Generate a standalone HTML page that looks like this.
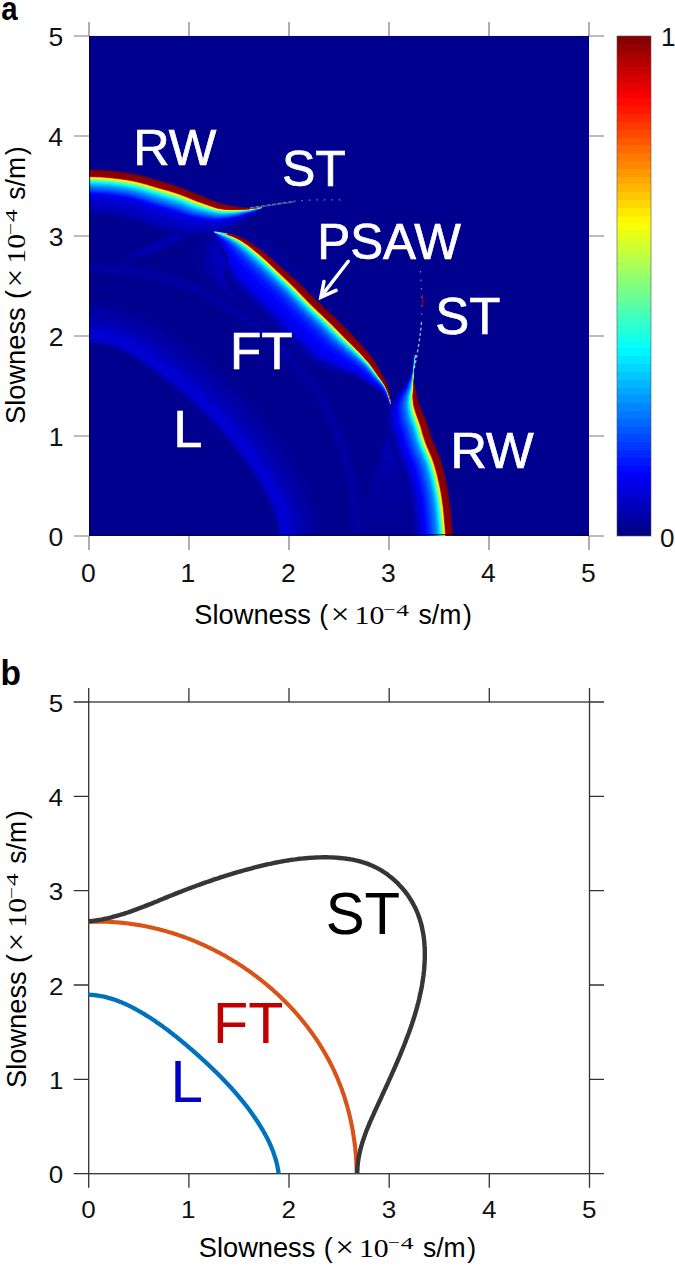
<!DOCTYPE html>
<html><head><meta charset="utf-8"><style>
html,body{margin:0;padding:0;background:#fff;width:675px;height:1266px;overflow:hidden}
</style></head><body>
<svg width="675" height="1266" viewBox="0 0 675 1266" style="display:block">
<rect width="675" height="1266" fill="#fff"/>
<rect x="89" y="36" width="500" height="500" fill="#00008f"/>
<defs><clipPath id="pa"><rect x="89" y="36" width="500" height="500"/></clipPath><filter id="b2" x="-20%" y="-20%" width="140%" height="140%"><feGaussianBlur stdDeviation="2"/></filter><filter id="b4" x="-20%" y="-20%" width="140%" height="140%"><feGaussianBlur stdDeviation="4"/></filter><filter id="b8" x="-20%" y="-20%" width="140%" height="140%"><feGaussianBlur stdDeviation="8"/></filter><linearGradient id="wedge" x1="0" y1="0" x2="0" y2="1"><stop offset="0" stop-color="#0000e8" stop-opacity="0.8"/><stop offset="0.5" stop-color="#0000c8" stop-opacity="0.35"/><stop offset="1" stop-color="#0000b0" stop-opacity="0.1"/></linearGradient></defs>
<g clip-path="url(#pa)">
<path d="M122 259 L150 253 L206 226 L196 224 Z" fill="#0000e0" opacity="0.55" filter="url(#b2)"/>
<path d="M147 222 L147 254" stroke="#0000ff" stroke-width="4" opacity="0.25" fill="none" filter="url(#b2)"/>
<path d="M212 236 L240 240 L275 262 L300 300 L262 310 L225 290 L205 262 Z" fill="#0000e8" opacity="0.55" filter="url(#b8)"/>
<path d="M394.5 411 L355 540 L405 540 L412 440 Z" fill="url(#wedge)" filter="url(#b2)"/>
<path d="M70.0 343.6L71.5 343.6L73.6 343.6L76.0 343.6L78.7 343.6L81.5 343.6L84.2 343.6L86.7 343.6L88.8 343.6L90.5 343.6L92.1 343.7L93.4 343.7L94.7 343.7L95.9 343.8L97.2 343.9L98.5 344.0L100.0 344.3L101.7 344.5L103.5 344.9L105.3 345.3L107.2 345.7L109.1 346.2L111.0 346.7L112.9 347.3L114.7 347.9L116.6 348.6L118.4 349.4L120.3 350.2L122.1 351.1L123.9 352.0L125.8 353.0L127.6 354.0L129.5 355.0L131.3 356.1L133.2 357.2L135.0 358.4L136.9 359.6L138.8 360.8L140.6 362.0L142.5 363.3L144.3 364.6L146.2 365.9L148.0 367.2L149.9 368.6L151.7 370.0L153.6 371.4L155.4 372.7L157.2 374.1L159.1 375.5L161.0 376.9L163.0 378.3L165.0 379.7L167.0 381.2L169.0 382.6L170.8 383.9L172.4 385.1L173.9 386.2L175.0 387.0L175.7 387.6L176.3 388.1L176.8 388.6L177.3 389.0L177.9 389.6L178.7 390.4L179.9 391.5L181.5 393.0L183.3 394.6L185.3 396.5L187.4 398.5L189.7 400.6L191.9 402.7L194.1 404.8L196.2 406.8L198.2 408.7L200.3 410.6L202.3 412.5L204.3 414.5L206.4 416.4L208.4 418.4L210.4 420.5L212.5 422.6L214.5 424.8L216.5 427.0L218.6 429.2L220.6 431.5L222.6 433.8L224.7 436.2L226.7 438.6L228.7 441.0L230.8 443.6L232.9 446.2L235.0 448.8L237.1 451.5L239.1 454.3L241.1 457.0L243.1 459.6L245.0 462.2L246.8 464.7L248.5 467.1L250.2 469.5L251.8 471.8L253.3 474.2L254.9 476.6L256.4 479.0L257.9 481.5L259.5 484.0L261.0 486.7L262.5 489.4L264.0 492.1L265.5 494.8L266.8 497.5L268.1 500.1L269.3 502.6L270.4 505.0L271.4 507.3L272.3 509.5L273.2 511.7L274.0 513.8L274.7 515.9L275.3 518.0L275.9 520.1L276.3 522.1L276.7 524.0L277.0 525.7L277.2 527.5L277.4 529.4L277.5 531.3L277.6 533.4L277.8 535.8L277.9 538.6L278.0 541.8L278.1 545.3L278.1 548.9L278.2 552.3L278.2 555.5L278.2 558.1L278.3 560.0L322.6 559.3L322.6 557.5L322.5 555.0L322.5 551.8L322.5 548.3L322.4 544.5L322.3 540.6L322.2 536.9L322.0 533.5L321.9 530.8L321.7 528.4L321.6 525.9L321.3 522.9L320.9 519.7L320.4 516.3L319.7 512.7L318.8 509.2L317.9 505.8L316.9 502.4L315.8 499.2L314.7 496.0L313.4 492.9L312.2 489.9L310.9 486.9L309.5 483.9L308.0 480.7L306.4 477.5L304.7 474.3L303.0 471.1L301.3 467.9L299.5 464.7L297.7 461.6L295.9 458.6L294.1 455.6L292.2 452.6L290.4 449.8L288.5 447.0L286.6 444.2L284.7 441.5L282.8 438.9L280.9 436.2L278.8 433.3L276.7 430.4L274.5 427.5L272.2 424.5L269.9 421.6L267.6 418.6L265.3 415.7L263.0 412.9L260.7 410.1L258.4 407.4L256.1 404.8L253.8 402.2L251.5 399.6L249.2 397.0L246.9 394.5L244.6 392.0L242.1 389.5L239.7 387.0L237.3 384.7L235.0 382.5L232.9 380.4L230.8 378.4L228.7 376.5L226.7 374.6L224.6 372.6L222.3 370.4L220.0 368.2L217.7 366.1L215.5 364.0L213.4 362.1L211.6 360.4L210.1 359.0L209.1 358.1L208.6 357.7L208.1 357.1L207.1 356.2L205.5 354.8L203.8 353.4L202.4 352.2L200.8 350.9L198.9 349.5L196.9 348.0L194.8 346.6L192.8 345.1L190.8 343.6L188.8 342.2L186.9 340.9L185.2 339.7L183.7 338.5L182.0 337.3L180.2 335.9L178.3 334.5L176.3 333.0L174.2 331.4L171.9 329.8L169.7 328.2L167.6 326.8L165.5 325.4L163.4 323.9L161.2 322.5L158.8 321.0L156.4 319.4L153.9 317.9L151.4 316.5L149.0 315.1L146.6 313.9L144.2 312.6L141.6 311.3L138.9 310.0L136.1 308.7L133.1 307.5L129.9 306.2L126.6 305.1L123.4 304.1L120.4 303.3L117.5 302.6L114.7 301.9L112.1 301.4L109.6 300.9L107.1 300.5L104.4 300.1L101.6 299.8L98.8 299.5L96.3 299.4L94.2 299.3L92.6 299.3L91.2 299.3L89.5 299.3L87.1 299.2L84.3 299.2L81.4 299.2L78.5 299.2L75.8 299.2L73.3 299.3L71.3 299.3L69.9 299.3Z" fill="#000094"/>
<path d="M70.0 276.4L71.5 276.4L73.5 276.4L75.9 276.4L78.5 276.4L81.3 276.4L84.0 276.4L86.5 276.4L88.7 276.4L90.7 276.4L92.5 276.4L94.2 276.4L95.9 276.5L97.5 276.5L99.1 276.5L100.9 276.6L102.7 276.7L104.8 276.8L106.9 276.9L109.1 277.0L111.3 277.1L113.5 277.3L115.8 277.5L118.0 277.6L120.1 277.8L122.3 278.0L124.5 278.3L126.6 278.5L128.8 278.7L130.9 279.0L133.0 279.3L135.1 279.6L137.2 280.0L139.4 280.4L141.5 280.8L143.6 281.2L145.8 281.7L147.9 282.1L150.1 282.7L152.3 283.2L154.5 283.7L156.7 284.2L158.9 284.8L161.1 285.3L163.3 285.8L165.4 286.4L167.6 287.0L169.7 287.6L171.8 288.2L174.0 288.9L176.2 289.7L178.5 290.4L180.8 291.3L183.0 292.1L185.1 292.9L187.2 293.7L189.0 294.4L190.6 295.1L192.0 295.8L193.3 296.5L194.7 297.2L196.0 297.9L197.4 298.6L198.8 299.4L200.4 300.2L201.9 301.0L203.4 301.8L204.9 302.5L206.4 303.2L207.8 303.9L209.2 304.6L210.6 305.4L211.9 306.1L213.3 306.9L214.7 307.7L216.1 308.6L217.5 309.5L218.9 310.4L220.3 311.4L221.8 312.4L223.2 313.3L224.6 314.3L226.1 315.3L227.5 316.3L229.0 317.4L230.5 318.4L232.0 319.5L233.5 320.6L235.0 321.7L236.6 322.7L238.1 323.8L239.6 324.8L241.2 325.8L242.7 326.9L244.2 327.9L245.7 328.9L247.1 330.0L248.7 331.1L250.2 332.2L251.7 333.2L253.2 334.3L254.6 335.4L256.1 336.5L257.5 337.6L258.9 338.7L260.3 339.9L261.8 341.1L263.2 342.3L264.6 343.6L266.0 344.9L267.4 346.2L268.9 347.5L270.3 348.9L271.7 350.3L273.1 351.8L274.5 353.2L275.9 354.8L277.4 356.3L278.8 357.9L280.3 359.5L281.7 361.1L283.2 362.7L284.6 364.3L286.0 366.0L287.5 367.7L288.9 369.4L290.4 371.1L291.9 372.9L293.4 374.7L295.0 376.6L296.6 378.6L298.2 380.5L299.8 382.5L301.4 384.5L302.9 386.4L304.3 388.3L305.7 390.1L306.9 391.9L308.1 393.7L309.2 395.4L310.3 397.2L311.4 398.9L312.5 400.7L313.5 402.6L314.6 404.5L315.7 406.4L316.7 408.3L317.7 410.3L318.7 412.2L319.7 414.3L320.7 416.3L321.7 418.3L322.6 420.3L323.6 422.3L324.5 424.3L325.4 426.3L326.3 428.3L327.1 430.3L328.0 432.2L328.8 434.2L329.5 436.1L330.2 438.0L330.9 439.9L331.5 441.8L332.1 443.7L332.7 445.6L333.4 447.6L334.0 449.7L334.7 451.7L335.3 453.8L336.0 455.9L336.7 457.9L337.3 459.9L338.0 462.0L338.6 464.0L339.3 466.1L339.9 468.2L340.5 470.4L341.1 472.7L341.7 475.0L342.3 477.3L342.9 479.6L343.4 482.0L344.0 484.3L344.4 486.5L344.9 488.8L345.3 491.1L345.7 493.3L346.1 495.6L346.4 497.9L346.8 500.1L347.1 502.4L347.3 504.6L347.5 506.8L347.7 509.1L347.9 511.5L348.0 513.9L348.1 516.3L348.2 518.6L348.3 520.9L348.4 523.0L348.5 524.9L348.6 526.5L348.6 527.9L348.7 529.3L348.8 530.6L348.8 532.1L348.9 533.9L349.0 536.0L349.0 538.6L349.1 541.8L349.2 545.3L349.3 548.9L349.3 552.3L349.4 555.5L349.4 558.2L349.5 560.1L365.7 559.8L365.7 557.9L365.6 555.2L365.6 552.0L365.5 548.5L365.5 544.9L365.4 541.4L365.3 538.2L365.2 535.5L365.2 533.4L365.1 531.5L365.0 529.9L365.0 528.5L364.9 527.0L364.8 525.6L364.7 524.0L364.6 522.2L364.5 520.2L364.4 518.0L364.3 515.6L364.2 513.1L364.1 510.6L363.9 508.0L363.7 505.4L363.5 502.9L363.2 500.4L362.9 497.9L362.5 495.5L362.2 493.0L361.8 490.6L361.3 488.1L360.9 485.7L360.4 483.3L359.8 480.8L359.3 478.3L358.7 475.8L358.1 473.3L357.5 470.9L356.8 468.5L356.2 466.1L355.5 463.8L354.9 461.5L354.2 459.3L353.5 457.1L352.8 454.9L352.1 452.8L351.5 450.8L350.8 448.7L350.1 446.7L349.5 444.7L348.9 442.8L348.3 440.8L347.6 438.7L347.0 436.7L346.2 434.6L345.5 432.5L344.7 430.3L343.9 428.2L343.0 426.0L342.1 423.9L341.2 421.8L340.2 419.7L339.3 417.6L338.3 415.5L337.4 413.4L336.4 411.3L335.4 409.2L334.3 407.1L333.3 404.9L332.2 402.8L331.1 400.7L329.9 398.6L328.8 396.5L327.7 394.5L326.5 392.5L325.4 390.6L324.2 388.6L323.0 386.7L321.7 384.7L320.3 382.7L318.9 380.7L317.4 378.6L315.8 376.5L314.1 374.4L312.4 372.3L310.8 370.2L309.1 368.2L307.5 366.3L305.9 364.4L304.4 362.5L302.9 360.7L301.4 358.9L299.9 357.1L298.4 355.4L296.9 353.6L295.3 351.9L293.8 350.2L292.3 348.6L290.8 346.9L289.3 345.3L287.8 343.6L286.3 342.0L284.8 340.4L283.2 338.9L281.7 337.3L280.1 335.8L278.6 334.4L277.0 332.9L275.5 331.5L273.9 330.1L272.4 328.7L270.8 327.4L269.2 326.1L267.6 324.8L266.0 323.5L264.3 322.3L262.7 321.1L261.2 320.0L259.6 318.9L258.1 317.8L256.6 316.7L255.0 315.6L253.4 314.5L251.8 313.4L250.3 312.4L248.8 311.4L247.3 310.3L245.8 309.3L244.3 308.3L242.9 307.3L241.4 306.2L239.9 305.2L238.4 304.1L236.9 303.1L235.4 302.0L233.9 300.9L232.3 299.9L230.8 298.8L229.3 297.8L227.8 296.8L226.3 295.9L224.8 294.9L223.2 293.9L221.6 292.9L220.0 292.0L218.4 291.1L216.7 290.2L215.2 289.4L213.6 288.6L212.1 287.9L210.6 287.2L209.2 286.5L207.8 285.8L206.4 285.1L205.1 284.4L203.8 283.6L202.3 282.8L200.8 282.0L199.1 281.2L197.3 280.3L195.3 279.5L193.2 278.6L191.0 277.7L188.7 276.8L186.3 276.0L183.9 275.1L181.4 274.3L179.0 273.4L176.6 272.7L174.3 272.0L171.9 271.3L169.6 270.7L167.3 270.1L165.0 269.5L162.8 268.9L160.5 268.4L158.3 267.9L156.1 267.3L153.8 266.8L151.5 266.3L149.3 265.8L147.0 265.3L144.6 264.8L142.3 264.4L140.0 263.9L137.6 263.6L135.3 263.2L133.0 262.9L130.7 262.6L128.5 262.3L126.2 262.1L123.9 261.9L121.7 261.6L119.3 261.4L117.0 261.2L114.6 261.1L112.3 260.9L110.0 260.8L107.7 260.6L105.6 260.5L103.5 260.4L101.5 260.4L99.6 260.3L97.9 260.2L96.2 260.2L94.5 260.2L92.7 260.1L90.9 260.1L88.9 260.1L86.6 260.1L84.0 260.1L81.3 260.1L78.5 260.1L75.9 260.1L73.5 260.1L71.5 260.1L70.0 260.1Z" fill="#000094"/>
<path d="M69.9 172.8L71.4 172.8L73.3 172.9L75.5 172.9L78.0 172.9L80.6 173.0L83.4 173.0L86.2 173.1L88.9 173.2L91.6 173.3L94.5 173.5L97.4 173.6L100.4 173.7L103.4 173.9L106.4 174.1L109.4 174.3L112.4 174.6L115.3 174.9L118.2 175.3L121.2 175.6L124.1 176.0L127.0 176.5L129.9 177.0L132.8 177.5L135.7 178.1L138.6 178.7L141.6 179.5L144.6 180.3L147.6 181.1L150.6 182.0L153.5 182.9L156.4 183.7L159.2 184.6L161.9 185.3L164.4 186.1L166.9 186.8L169.3 187.5L171.7 188.2L174.1 188.9L176.5 189.7L178.9 190.6L181.4 191.5L183.8 192.4L186.3 193.4L188.8 194.4L191.3 195.5L193.8 196.5L196.4 197.6L198.9 198.6L201.5 199.6L204.1 200.6L206.7 201.6L209.4 202.6L212.0 203.5L214.5 204.4L216.9 205.2L219.2 205.9L221.3 206.4L223.3 206.8L225.2 207.1L226.9 207.4L228.6 207.6L230.1 207.8L231.6 207.9L233.0 208.1L234.3 208.2L235.6 208.3L236.7 208.4L237.8 208.4L238.8 208.5L239.8 208.5L240.8 208.5L241.9 208.5L243.0 208.5L244.1 208.6L245.2 208.6L246.3 208.6L247.4 208.6L248.6 208.6L249.8 208.5L251.0 208.4L252.4 208.4L253.9 208.2L255.5 208.1L257.1 207.9L258.6 207.8L260.0 207.6L261.1 207.5L262.0 207.4L262.1 209.3L261.3 209.8L260.2 210.6L258.9 211.5L257.4 212.5L255.8 213.6L254.2 214.6L252.6 215.6L251.1 216.4L249.6 217.3L248.3 218.1L246.9 218.9L245.6 219.7L244.3 220.4L243.1 221.1L241.8 221.8L240.7 222.5L239.5 223.3L238.3 224.0L237.1 224.7L235.8 225.3L234.4 226.0L232.8 226.6L231.1 227.3L229.4 228.0L227.8 228.8L226.2 229.7L224.2 230.5L222.0 231.3L219.5 232.0L216.7 232.8L213.6 233.4L210.3 234.0L206.9 234.4L203.4 234.8L200.1 235.0L196.7 235.2L193.4 235.4L190.1 235.6L187.0 235.9L183.9 236.1L180.8 235.3L177.8 234.5L175.0 233.8L172.4 233.1L170.0 232.5L167.8 232.1L165.8 231.7L164.0 231.5L162.2 231.3L160.3 231.1L158.4 230.4L156.4 229.8L154.3 229.1L152.1 228.3L149.6 227.5L146.9 226.7L144.0 225.7L141.1 224.7L138.3 223.7L135.7 222.8L133.2 222.0L130.9 221.2L128.8 220.6L126.8 220.0L124.8 219.4L122.6 218.9L120.4 218.4L118.1 218.0L115.7 217.6L113.2 217.2L110.7 216.8L108.2 216.5L105.8 216.2L103.4 215.9L100.9 215.7L98.2 215.4L95.5 215.2L92.7 215.0L89.9 214.8L87.3 214.6L84.8 214.4L82.4 214.3L79.8 214.2L77.3 214.0L74.9 213.9L72.7 213.8L70.8 213.8L69.3 213.7Z" fill="#000094"/>
<path d="M215.0 232.1L215.9 232.2L217.0 232.4L218.4 232.6L219.9 232.8L221.4 233.1L223.0 233.3L224.6 233.6L225.9 233.9L227.2 234.2L228.5 234.5L229.7 234.8L230.9 235.1L232.1 235.4L233.3 235.8L234.5 236.2L235.7 236.6L236.9 237.1L238.1 237.7L239.4 238.3L240.7 238.9L241.9 239.6L243.2 240.3L244.5 241.1L245.8 241.8L247.0 242.6L248.2 243.4L249.5 244.3L250.8 245.2L252.0 246.1L253.3 247.0L254.5 248.0L255.7 248.9L257.0 249.8L258.2 250.7L259.3 251.6L260.5 252.6L261.7 253.5L262.9 254.5L264.2 255.6L265.5 256.8L266.9 258.0L268.4 259.3L269.9 260.6L271.4 262.0L273.0 263.5L274.7 265.1L276.4 266.7L278.3 268.4L280.2 270.2L282.3 272.1L284.5 274.1L286.7 276.1L289.0 278.2L291.2 280.3L293.5 282.5L295.8 284.7L298.0 286.9L300.3 289.2L302.7 291.5L305.0 293.9L307.4 296.4L309.8 298.7L312.1 301.1L314.4 303.3L316.7 305.5L319.0 307.7L321.2 309.7L323.4 311.8L325.5 313.8L327.7 315.9L329.9 317.9L332.1 320.0L334.3 322.2L336.5 324.4L338.7 326.5L340.9 328.7L343.1 331.0L345.3 333.2L347.5 335.5L349.7 337.8L352.0 340.1L354.4 342.6L356.8 345.0L359.2 347.5L361.5 350.0L363.7 352.4L365.8 354.8L367.6 357.0L369.4 359.2L371.0 361.3L372.5 363.4L373.9 365.5L375.2 367.5L376.5 369.6L377.7 371.6L378.9 373.6L380.1 375.5L381.3 377.2L382.4 378.9L383.4 380.6L384.4 382.3L385.3 383.9L386.1 385.7L386.8 387.5L387.6 389.5L388.3 391.8L388.9 394.2L389.5 396.6L389.9 398.9L390.4 401.0L390.7 402.7L391.0 404.0L388.2 404.5L387.4 403.2L386.6 401.5L385.5 399.5L384.4 397.4L383.0 395.3L381.5 393.2L379.8 391.5L378.1 390.3L376.4 389.4L374.5 388.6L372.5 387.9L370.3 387.3L368.1 386.6L366.1 385.7L363.9 384.6L361.5 383.3L359.1 381.8L356.8 380.5L354.4 379.3L352.1 378.4L349.7 377.6L347.4 376.9L345.0 376.5L342.5 376.2L339.9 375.9L336.9 375.5L333.6 374.9L330.0 374.2L326.7 373.2L323.2 372.1L319.6 370.9L316.1 369.7L312.9 368.8L309.9 367.9L306.8 367.0L304.6 365.2L302.6 363.2L300.5 361.1L298.4 359.0L296.4 357.0L294.5 355.1L292.6 353.3L290.6 351.4L288.5 349.4L286.3 347.4L284.0 345.2L281.5 342.8L279.0 340.3L276.4 337.8L273.8 335.2L271.4 332.7L269.0 330.3L266.8 327.9L264.7 325.7L262.7 323.6L260.9 321.8L259.0 319.9L257.0 318.0L255.0 316.0L252.9 314.1L250.8 312.1L248.7 310.1L246.6 308.1L244.6 306.2L242.7 304.3L240.9 302.6L239.3 301.1L237.8 299.7L236.5 298.4L235.3 297.3L234.3 296.3L233.3 295.4L232.5 294.6L231.8 293.6L231.4 292.6L230.9 291.6L230.5 290.6L229.9 289.6L229.3 288.5L228.5 287.4L227.8 286.1L227.0 284.9L226.4 283.7L225.9 282.7L225.4 281.7L225.1 280.8L224.9 280.0L224.7 279.2L224.3 278.3L224.1 276.8L224.1 275.3L224.1 273.8L224.2 272.4L224.4 271.0L224.6 269.7L225.0 268.5L225.6 267.3L226.0 266.0L226.2 264.7L226.1 262.8L225.6 260.7L224.8 258.6L223.8 256.4L222.7 254.2L221.8 251.8L220.8 249.3L219.6 246.6L218.5 243.6L217.3 240.8L216.3 238.2L215.4 236.0L214.7 234.5Z" fill="#000094"/>
<path d="M415.5 355.0L415.3 356.4L415.1 358.3L414.8 360.5L414.5 363.0L414.2 365.5L414.0 368.0L413.7 370.2L413.6 372.0L413.5 373.4L413.5 374.7L413.5 375.7L413.5 376.6L413.6 377.5L413.6 378.3L413.6 379.1L413.7 380.0L413.7 380.9L413.7 381.6L413.7 382.3L413.7 383.0L413.8 383.8L413.9 384.7L414.1 385.8L414.2 387.2L414.3 388.8L414.4 390.8L414.5 393.0L414.7 395.3L415.0 397.7L415.4 400.1L415.8 402.5L416.4 404.9L417.1 407.3L417.9 409.6L418.8 411.9L419.7 414.2L420.6 416.5L421.5 418.7L422.4 420.9L423.2 423.1L423.9 425.2L424.5 427.3L425.2 429.5L425.8 431.6L426.5 433.9L427.2 436.2L428.0 438.6L428.9 441.2L429.9 443.9L431.1 446.6L432.2 449.3L433.4 452.1L434.6 454.9L435.8 457.9L436.9 461.0L438.0 464.3L439.0 467.9L440.0 471.7L441.0 475.6L442.0 479.8L442.9 484.0L443.8 488.4L444.6 492.8L445.3 497.2L446.0 501.8L446.6 506.7L447.1 511.7L447.6 516.8L448.0 521.9L448.4 526.8L448.8 531.3L449.1 535.5L449.3 539.4L449.5 543.1L449.6 546.7L449.6 550.1L449.7 553.2L449.7 555.9L449.7 558.2L449.7 560.0L411.7 560.6L411.7 558.5L411.7 556.0L411.7 553.4L411.7 550.5L411.6 547.5L411.5 544.4L411.4 541.3L411.2 538.0L410.9 534.1L410.6 529.7L410.2 525.1L409.8 520.3L409.3 515.6L408.8 511.0L408.3 506.8L407.7 502.9L407.1 499.2L406.4 495.4L405.6 491.7L404.8 488.0L403.9 484.4L403.0 481.0L402.2 477.8L401.4 475.1L400.7 473.1L400.1 471.2L399.3 469.3L398.3 467.0L397.2 464.5L395.9 461.5L394.5 458.1L393.1 454.4L391.9 450.9L390.9 447.9L390.0 445.1L389.3 442.8L388.7 440.7L388.3 439.0L387.9 437.6L387.6 436.4L387.2 435.2L386.7 433.7L386.0 431.9L385.2 429.6L384.9 426.6L385.0 423.1L385.1 419.2L385.3 415.2L385.7 411.2L386.7 407.4L388.8 403.8L390.9 400.4L393.3 397.3L395.6 394.6L397.7 392.2L399.5 390.2L400.9 388.5L402.0 387.0L402.8 385.7L403.5 384.5L404.2 383.5L404.9 382.5L405.7 381.6L406.6 380.6L407.2 379.7L407.8 378.8L408.3 377.9L408.8 376.9L409.3 375.8L410.0 374.6L410.9 373.3L411.9 371.9L412.0 370.0L412.2 367.8L412.5 365.3L412.8 362.8L413.1 360.3L413.4 358.1L413.6 356.2L413.8 354.8Z" fill="#000094"/>
<path d="M70.0 343.5L71.5 343.5L73.6 343.5L76.0 343.5L78.7 343.4L81.5 343.4L84.2 343.4L86.7 343.5L88.8 343.5L90.5 343.5L92.1 343.5L93.4 343.5L94.7 343.6L95.9 343.6L97.2 343.7L98.5 343.9L100.0 344.1L101.7 344.4L103.5 344.8L105.3 345.1L107.2 345.6L109.1 346.0L111.0 346.6L112.9 347.1L114.8 347.8L116.6 348.5L118.5 349.3L120.3 350.1L122.1 351.0L124.0 351.9L125.8 352.9L127.7 353.9L129.5 354.9L131.4 356.0L133.2 357.1L135.1 358.3L137.0 359.5L138.8 360.7L140.7 361.9L142.5 363.2L144.4 364.5L146.2 365.8L148.1 367.1L149.9 368.5L151.8 369.9L153.6 371.3L155.5 372.6L157.3 374.0L159.2 375.4L161.1 376.8L163.1 378.2L165.1 379.6L167.1 381.1L169.0 382.5L170.9 383.8L172.5 385.0L173.9 386.1L175.0 386.9L175.8 387.6L176.4 388.0L176.9 388.5L177.4 388.9L178.0 389.5L178.8 390.3L180.0 391.4L181.6 392.9L183.4 394.5L185.4 396.4L187.5 398.4L189.7 400.5L192.0 402.6L194.2 404.7L196.3 406.7L198.3 408.6L200.4 410.5L202.4 412.4L204.4 414.4L206.5 416.4L208.5 418.4L210.5 420.4L212.6 422.5L214.6 424.7L216.6 426.9L218.6 429.1L220.7 431.4L222.7 433.7L224.7 436.1L226.8 438.5L228.8 441.0L230.9 443.5L233.0 446.1L235.1 448.8L237.2 451.5L239.2 454.2L241.2 456.9L243.2 459.5L245.1 462.1L246.9 464.6L248.6 467.0L250.3 469.4L251.9 471.7L253.4 474.1L255.0 476.5L256.5 478.9L258.1 481.4L259.6 484.0L261.1 486.6L262.6 489.3L264.1 492.1L265.6 494.8L267.0 497.5L268.2 500.0L269.4 502.5L270.5 504.9L271.5 507.2L272.4 509.5L273.3 511.6L274.1 513.8L274.8 515.9L275.4 518.0L276.0 520.1L276.5 522.1L276.8 523.9L277.1 525.7L277.3 527.5L277.5 529.4L277.6 531.3L277.8 533.4L277.9 535.8L278.0 538.6L278.1 541.8L278.2 545.3L278.3 548.9L278.3 552.3L278.3 555.5L278.4 558.1L278.4 560.0L314.6 559.5L314.6 557.6L314.5 555.1L314.5 551.9L314.5 548.4L314.4 544.6L314.3 540.9L314.2 537.2L314.0 533.9L313.9 531.3L313.8 529.0L313.6 526.5L313.3 523.8L313.0 520.8L312.5 517.7L311.9 514.4L311.1 511.2L310.2 508.0L309.3 504.9L308.3 501.8L307.2 498.8L306.0 495.9L304.8 493.0L303.6 490.1L302.2 487.2L300.8 484.2L299.3 481.1L297.7 478.0L296.0 474.9L294.3 471.8L292.6 468.7L290.8 465.7L289.1 462.7L287.3 459.8L285.5 456.9L283.7 454.2L281.9 451.5L280.0 448.8L278.2 446.2L276.3 443.5L274.4 440.9L272.4 438.1L270.3 435.2L268.1 432.3L265.9 429.4L263.6 426.5L261.3 423.6L259.1 420.8L256.8 418.0L254.6 415.3L252.3 412.6L250.1 410.0L247.8 407.4L245.6 404.9L243.3 402.4L241.1 400.0L238.8 397.6L236.4 395.1L234.0 392.7L231.7 390.4L229.5 388.3L227.3 386.2L225.3 384.2L223.2 382.3L221.2 380.4L219.1 378.4L216.8 376.2L214.5 374.0L212.2 371.9L210.0 369.9L208.0 368.0L206.1 366.3L204.6 364.9L203.6 364.0L203.1 363.4L202.5 362.9L201.6 362.0L200.2 360.8L198.8 359.5L197.4 358.5L195.9 357.3L194.1 355.9L192.2 354.5L190.2 353.1L188.1 351.6L186.1 350.2L184.1 348.7L182.2 347.4L180.5 346.2L178.9 344.9L177.2 343.7L175.4 342.3L173.5 340.9L171.5 339.4L169.4 337.9L167.3 336.3L165.1 334.8L163.0 333.4L161.0 332.0L158.9 330.6L156.8 329.2L154.5 327.7L152.2 326.3L149.8 324.8L147.4 323.4L145.1 322.1L142.9 320.9L140.5 319.7L138.1 318.5L135.5 317.2L132.9 316.0L130.1 314.9L127.2 313.8L124.1 312.7L121.2 311.8L118.3 311.0L115.6 310.3L113.0 309.7L110.5 309.2L108.2 308.8L105.9 308.4L103.4 308.0L100.8 307.7L98.3 307.5L96.0 307.4L94.1 307.3L92.5 307.3L91.0 307.3L89.4 307.3L87.0 307.2L84.3 307.2L81.4 307.2L78.6 307.2L75.8 307.2L73.4 307.3L71.3 307.3L69.9 307.3Z" fill="#0000a3"/>
<path d="M70.0 271.2L71.5 271.2L73.5 271.2L75.9 271.2L78.5 271.2L81.3 271.2L84.0 271.2L86.5 271.2L88.8 271.2L90.8 271.3L92.6 271.3L94.3 271.3L96.0 271.3L97.6 271.4L99.3 271.4L101.1 271.5L103.0 271.6L105.0 271.7L107.1 271.8L109.3 271.9L111.6 272.0L113.9 272.2L116.1 272.3L118.4 272.5L120.6 272.7L122.8 272.9L125.0 273.2L127.2 273.4L129.4 273.7L131.6 273.9L133.7 274.2L135.9 274.6L138.1 274.9L140.3 275.3L142.5 275.7L144.7 276.2L146.9 276.7L149.1 277.1L151.3 277.7L153.5 278.2L155.7 278.7L157.9 279.2L160.2 279.8L162.4 280.3L164.6 280.9L166.8 281.4L168.9 282.0L171.1 282.7L173.3 283.3L175.6 284.0L177.9 284.8L180.2 285.6L182.5 286.4L184.8 287.3L187.0 288.1L189.1 288.9L191.0 289.7L192.7 290.5L194.2 291.2L195.7 291.9L197.1 292.7L198.4 293.4L199.8 294.1L201.2 294.9L202.7 295.7L204.2 296.4L205.7 297.2L207.2 297.9L208.7 298.6L210.1 299.3L211.6 300.1L213.0 300.9L214.5 301.7L215.9 302.5L217.4 303.4L218.8 304.3L220.2 305.2L221.7 306.2L223.2 307.1L224.6 308.1L226.1 309.1L227.6 310.1L229.0 311.1L230.5 312.1L232.0 313.2L233.4 314.2L234.9 315.3L236.4 316.4L237.9 317.4L239.5 318.5L241.0 319.5L242.5 320.6L244.0 321.6L245.6 322.6L247.1 323.7L248.6 324.7L250.1 325.8L251.6 326.9L253.2 328.0L254.7 329.1L256.2 330.1L257.7 331.3L259.2 332.4L260.7 333.5L262.2 334.7L263.6 335.9L265.1 337.2L266.6 338.5L268.0 339.8L269.5 341.1L271.0 342.5L272.4 343.8L273.9 345.3L275.3 346.7L276.8 348.2L278.2 349.7L279.7 351.2L281.1 352.8L282.6 354.4L284.1 356.0L285.5 357.7L287.0 359.3L288.5 361.0L289.9 362.7L291.4 364.4L292.9 366.1L294.3 367.8L295.8 369.6L297.4 371.5L298.9 373.4L300.5 375.3L302.2 377.3L303.8 379.3L305.4 381.3L307.0 383.3L308.4 385.2L309.8 387.1L311.1 389.0L312.4 390.8L313.6 392.7L314.7 394.5L315.8 396.3L316.9 398.2L318.0 400.0L319.1 402.0L320.2 403.9L321.2 405.9L322.3 407.9L323.3 409.9L324.3 412.0L325.3 414.0L326.3 416.1L327.3 418.1L328.2 420.2L329.2 422.2L330.1 424.2L331.0 426.2L331.9 428.3L332.7 430.3L333.5 432.3L334.3 434.3L335.0 436.2L335.7 438.2L336.4 440.2L337.0 442.1L337.6 444.1L338.3 446.1L338.9 448.1L339.5 450.2L340.2 452.2L340.9 454.3L341.6 456.3L342.2 458.4L342.9 460.4L343.5 462.5L344.2 464.6L344.8 466.8L345.4 469.1L346.1 471.4L346.7 473.7L347.3 476.1L347.9 478.4L348.4 480.8L349.0 483.2L349.5 485.5L349.9 487.8L350.4 490.2L350.8 492.5L351.2 494.8L351.5 497.1L351.9 499.4L352.2 501.7L352.4 504.0L352.6 506.4L352.8 508.8L353.0 511.2L353.1 513.7L353.2 516.1L353.3 518.4L353.4 520.7L353.5 522.8L353.6 524.6L353.7 526.2L353.8 527.6L353.8 529.0L353.9 530.4L354.0 532.0L354.0 533.7L354.1 535.9L354.2 538.5L354.2 541.7L354.3 545.2L354.4 548.8L354.5 552.3L354.5 555.4L354.6 558.1L354.6 560.0L360.6 559.9L360.5 558.0L360.5 555.3L360.4 552.1L360.4 548.6L360.3 545.0L360.2 541.6L360.1 538.4L360.1 535.7L360.0 533.5L359.9 531.7L359.9 530.1L359.8 528.7L359.7 527.3L359.7 525.9L359.6 524.3L359.5 522.5L359.4 520.4L359.3 518.2L359.2 515.8L359.1 513.4L358.9 510.9L358.8 508.4L358.6 505.9L358.4 503.4L358.1 501.0L357.8 498.6L357.4 496.2L357.1 493.8L356.7 491.5L356.2 489.1L355.8 486.7L355.3 484.3L354.8 481.9L354.2 479.5L353.7 477.0L353.1 474.6L352.5 472.2L351.8 469.8L351.2 467.5L350.6 465.2L349.9 463.0L349.3 460.8L348.6 458.6L347.9 456.5L347.2 454.4L346.6 452.4L345.9 450.4L345.2 448.3L344.6 446.3L344.0 444.3L343.3 442.3L342.7 440.3L342.0 438.3L341.4 436.3L340.6 434.2L339.9 432.1L339.1 430.1L338.2 428.0L337.3 425.9L336.5 423.8L335.5 421.8L334.6 419.7L333.6 417.6L332.7 415.6L331.7 413.5L330.7 411.4L329.7 409.3L328.6 407.3L327.6 405.2L326.5 403.1L325.4 401.0L324.3 399.0L323.2 397.1L322.1 395.1L320.9 393.2L319.8 391.3L318.6 389.5L317.4 387.5L316.1 385.6L314.7 383.7L313.2 381.6L311.7 379.6L310.1 377.6L308.4 375.5L306.8 373.5L305.1 371.5L303.5 369.6L302.0 367.7L300.4 365.8L298.9 364.0L297.4 362.2L295.9 360.5L294.4 358.7L293.0 357.0L291.5 355.3L290.0 353.7L288.5 352.0L287.0 350.4L285.5 348.8L284.0 347.2L282.6 345.6L281.1 344.0L279.6 342.5L278.1 341.0L276.5 339.5L275.0 338.1L273.5 336.7L272.0 335.3L270.5 334.0L269.0 332.7L267.5 331.4L265.9 330.1L264.4 328.8L262.8 327.6L261.3 326.5L259.7 325.3L258.2 324.2L256.6 323.1L255.1 322.0L253.6 320.9L252.0 319.8L250.5 318.8L248.9 317.7L247.4 316.7L245.9 315.6L244.4 314.6L242.9 313.6L241.4 312.5L239.9 311.5L238.4 310.5L236.9 309.4L235.4 308.3L233.9 307.3L232.4 306.2L230.9 305.2L229.4 304.1L227.9 303.1L226.5 302.2L225.0 301.2L223.5 300.2L222.0 299.2L220.5 298.3L219.0 297.4L217.4 296.5L215.9 295.6L214.4 294.8L212.8 294.0L211.3 293.3L209.8 292.5L208.3 291.8L206.9 291.1L205.4 290.4L204.0 289.6L202.7 288.9L201.3 288.2L199.9 287.4L198.4 286.6L196.9 285.8L195.2 285.0L193.3 284.2L191.3 283.4L189.2 282.5L186.9 281.7L184.6 280.8L182.2 280.0L179.8 279.1L177.4 278.4L175.1 277.6L172.8 276.9L170.6 276.3L168.3 275.7L166.0 275.1L163.8 274.5L161.6 274.0L159.3 273.4L157.1 272.9L154.9 272.4L152.6 271.8L150.4 271.3L148.2 270.8L145.9 270.3L143.6 269.9L141.4 269.4L139.1 269.0L136.8 268.7L134.6 268.3L132.4 268.0L130.1 267.7L127.9 267.5L125.6 267.2L123.4 267.0L121.2 266.8L118.9 266.6L116.6 266.4L114.3 266.2L112.0 266.1L109.7 265.9L107.5 265.8L105.3 265.7L103.2 265.6L101.3 265.5L99.5 265.4L97.8 265.4L96.1 265.4L94.4 265.3L92.6 265.3L90.8 265.3L88.8 265.3L86.6 265.3L84.0 265.3L81.3 265.3L78.5 265.3L75.9 265.3L73.5 265.3L71.5 265.3L70.0 265.3Z" fill="#0000a3"/>
<path d="M69.9 172.8L71.4 172.8L73.3 172.9L75.5 172.9L78.0 172.9L80.6 173.0L83.4 173.0L86.2 173.1L88.9 173.2L91.6 173.3L94.5 173.5L97.4 173.6L100.4 173.7L103.4 173.9L106.4 174.1L109.4 174.3L112.4 174.6L115.3 174.9L118.2 175.3L121.2 175.6L124.1 176.0L127.0 176.5L129.9 177.0L132.8 177.5L135.7 178.1L138.6 178.7L141.6 179.5L144.6 180.3L147.6 181.1L150.6 182.0L153.5 182.9L156.4 183.7L159.2 184.6L161.9 185.3L164.4 186.1L166.9 186.8L169.3 187.5L171.7 188.2L174.1 188.9L176.5 189.7L178.9 190.6L181.4 191.5L183.8 192.4L186.3 193.4L188.8 194.4L191.3 195.5L193.8 196.5L196.4 197.6L198.9 198.6L201.5 199.6L204.1 200.6L206.7 201.6L209.4 202.6L212.0 203.5L214.5 204.4L216.9 205.2L219.2 205.9L221.3 206.4L223.3 206.8L225.2 207.1L226.9 207.4L228.6 207.6L230.1 207.8L231.6 207.9L233.0 208.1L234.3 208.2L235.6 208.3L236.7 208.4L237.8 208.4L238.8 208.5L239.8 208.5L240.8 208.5L241.9 208.5L243.0 208.5L244.1 208.6L245.2 208.6L246.3 208.6L247.4 208.6L248.6 208.6L249.8 208.5L251.0 208.4L252.4 208.4L253.9 208.2L255.5 208.1L257.1 207.9L258.6 207.8L260.0 207.6L261.1 207.5L262.0 207.4L262.1 209.2L261.3 209.7L260.2 210.5L258.8 211.3L257.4 212.3L255.8 213.3L254.2 214.3L252.6 215.2L251.1 216.0L249.7 216.9L248.3 217.7L246.9 218.5L245.6 219.2L244.4 219.9L243.1 220.6L241.9 221.3L240.7 221.9L239.6 222.7L238.4 223.3L237.2 224.0L235.9 224.6L234.5 225.2L232.9 225.8L231.2 226.5L229.6 227.2L228.0 228.0L226.4 228.8L224.4 229.5L222.2 230.3L219.7 231.0L217.0 231.7L213.9 232.3L210.6 232.8L207.3 233.2L203.9 233.5L200.6 233.7L197.3 233.8L194.0 234.0L190.7 234.2L187.6 234.4L184.5 234.5L181.5 233.7L178.5 232.9L175.7 232.1L173.1 231.5L170.7 230.9L168.5 230.4L166.5 230.0L164.7 229.8L162.8 229.5L160.9 229.3L159.0 228.6L157.0 228.0L154.9 227.3L152.6 226.5L150.1 225.7L147.4 224.9L144.5 223.9L141.6 222.9L138.9 222.0L136.2 221.1L133.7 220.2L131.3 219.5L129.2 218.8L127.2 218.2L125.1 217.7L122.9 217.1L120.7 216.7L118.3 216.2L115.9 215.8L113.4 215.4L110.9 215.1L108.3 214.7L106.0 214.4L103.5 214.1L101.0 213.9L98.3 213.7L95.6 213.4L92.8 213.2L90.0 213.0L87.3 212.9L84.9 212.7L82.4 212.6L79.9 212.4L77.3 212.3L74.9 212.2L72.8 212.1L70.8 212.0L69.3 212.0Z" fill="#0000a3"/>
<path d="M215.0 232.1L215.9 232.2L217.0 232.4L218.4 232.6L219.9 232.8L221.4 233.1L223.0 233.3L224.6 233.6L225.9 233.9L227.2 234.2L228.5 234.5L229.7 234.8L230.9 235.1L232.1 235.4L233.3 235.8L234.5 236.2L235.7 236.6L236.9 237.1L238.1 237.7L239.4 238.3L240.7 238.9L241.9 239.6L243.2 240.3L244.5 241.1L245.8 241.8L247.0 242.6L248.2 243.4L249.5 244.3L250.8 245.2L252.0 246.1L253.3 247.0L254.5 248.0L255.7 248.9L257.0 249.8L258.2 250.7L259.3 251.6L260.5 252.6L261.7 253.5L262.9 254.5L264.2 255.6L265.5 256.8L266.9 258.0L268.4 259.3L269.9 260.6L271.4 262.0L273.0 263.5L274.7 265.1L276.4 266.7L278.3 268.4L280.2 270.2L282.3 272.1L284.5 274.1L286.7 276.1L289.0 278.2L291.2 280.3L293.5 282.5L295.8 284.7L298.0 286.9L300.3 289.2L302.7 291.5L305.0 293.9L307.4 296.4L309.8 298.7L312.1 301.1L314.4 303.3L316.7 305.5L319.0 307.7L321.2 309.7L323.4 311.8L325.5 313.8L327.7 315.9L329.9 317.9L332.1 320.0L334.3 322.2L336.5 324.4L338.7 326.5L340.9 328.7L343.1 331.0L345.3 333.2L347.5 335.5L349.7 337.8L352.0 340.1L354.4 342.6L356.8 345.0L359.2 347.5L361.5 350.0L363.7 352.4L365.8 354.8L367.6 357.0L369.4 359.2L371.0 361.3L372.5 363.4L373.9 365.5L375.2 367.5L376.5 369.6L377.7 371.6L378.9 373.6L380.1 375.5L381.3 377.2L382.4 378.9L383.4 380.6L384.4 382.3L385.3 383.9L386.1 385.7L386.8 387.5L387.6 389.5L388.3 391.8L388.9 394.2L389.5 396.6L389.9 398.9L390.4 401.0L390.7 402.7L391.0 404.0L388.5 404.4L387.8 403.2L387.0 401.5L386.1 399.5L385.0 397.3L383.7 395.1L382.3 393.1L380.7 391.3L379.1 390.0L377.4 389.0L375.7 388.0L373.8 387.2L371.8 386.5L369.7 385.7L367.8 384.7L365.7 383.5L363.4 382.2L361.2 380.7L359.0 379.3L356.8 378.0L354.5 376.9L352.3 376.0L350.1 375.1L347.8 374.5L345.4 374.1L342.8 373.5L340.0 372.8L336.8 372.0L333.4 371.1L330.1 369.9L326.8 368.7L323.3 367.3L320.0 366.0L316.9 364.9L314.0 363.9L311.0 362.8L308.8 361.0L306.8 358.9L304.7 356.8L302.6 354.7L300.5 352.7L298.6 350.8L296.7 348.9L294.7 347.0L292.6 345.0L290.4 343.0L288.1 340.8L285.6 338.4L283.1 336.0L280.6 333.5L278.0 330.9L275.6 328.4L273.2 326.0L271.0 323.6L268.9 321.4L266.9 319.3L265.0 317.4L263.1 315.5L261.1 313.5L259.0 311.6L256.9 309.6L254.8 307.6L252.7 305.6L250.6 303.6L248.6 301.7L246.7 299.9L244.9 298.2L243.3 296.6L241.8 295.2L240.4 293.9L239.2 292.7L238.2 291.7L237.2 290.8L236.3 289.9L235.5 289.0L235.0 287.9L234.5 287.0L233.9 286.0L233.3 285.0L232.6 283.9L231.8 282.8L231.0 281.5L230.2 280.3L229.5 279.2L228.9 278.2L228.3 277.2L227.9 276.3L227.6 275.5L227.2 274.7L226.7 273.8L226.4 272.4L226.2 271.0L226.1 269.6L226.0 268.3L226.0 267.0L226.1 265.8L226.3 264.7L226.7 263.5L226.9 262.3L226.9 261.1L226.7 259.4L226.1 257.6L225.3 255.7L224.2 253.7L223.1 251.7L222.1 249.5L221.1 247.3L219.8 244.9L218.6 242.3L217.4 239.7L216.4 237.5L215.4 235.6L214.7 234.2Z" fill="#0000a3"/>
<path d="M415.5 355.0L415.3 356.4L415.1 358.3L414.8 360.5L414.5 363.0L414.2 365.5L414.0 368.0L413.7 370.2L413.6 372.0L413.5 373.4L413.5 374.7L413.5 375.7L413.5 376.6L413.6 377.5L413.6 378.3L413.6 379.1L413.7 380.0L413.7 380.9L413.7 381.6L413.7 382.3L413.7 383.0L413.8 383.8L413.9 384.7L414.1 385.8L414.2 387.2L414.3 388.8L414.4 390.8L414.5 393.0L414.7 395.3L415.0 397.7L415.4 400.1L415.8 402.5L416.4 404.9L417.1 407.3L417.9 409.6L418.8 411.9L419.7 414.2L420.6 416.5L421.5 418.7L422.4 420.9L423.2 423.1L423.9 425.2L424.5 427.3L425.2 429.5L425.8 431.6L426.5 433.9L427.2 436.2L428.0 438.6L428.9 441.2L429.9 443.9L431.1 446.6L432.2 449.3L433.4 452.1L434.6 454.9L435.8 457.9L436.9 461.0L438.0 464.3L439.0 467.9L440.0 471.7L441.0 475.6L442.0 479.8L442.9 484.0L443.8 488.4L444.6 492.8L445.3 497.2L446.0 501.8L446.6 506.7L447.1 511.7L447.6 516.8L448.0 521.9L448.4 526.8L448.8 531.3L449.1 535.5L449.3 539.4L449.5 543.1L449.6 546.7L449.6 550.1L449.7 553.2L449.7 555.9L449.7 558.2L449.7 560.0L415.0 560.5L415.0 558.5L415.0 556.0L415.0 553.4L415.0 550.5L414.9 547.5L414.8 544.3L414.7 541.1L414.5 537.8L414.2 533.9L413.8 529.5L413.5 524.8L413.0 520.0L412.6 515.3L412.1 510.7L411.5 506.4L411.0 502.4L410.3 498.6L409.6 494.8L408.8 491.0L408.0 487.3L407.1 483.7L406.2 480.2L405.3 477.0L404.5 474.2L403.8 472.0L403.1 470.1L402.3 468.0L401.4 465.7L400.2 463.2L399.0 460.2L397.6 456.9L396.2 453.2L395.0 449.8L394.0 446.8L393.2 444.2L392.4 441.8L391.9 439.8L391.4 438.0L391.0 436.5L390.7 435.2L390.3 434.0L389.7 432.4L389.0 430.6L388.2 428.3L387.9 425.4L387.9 421.9L387.9 418.2L388.0 414.3L388.3 410.4L389.2 406.8L391.1 403.2L393.0 400.0L395.2 396.9L397.3 394.2L399.2 391.9L400.8 389.9L402.1 388.2L403.1 386.8L403.8 385.5L404.4 384.4L405.1 383.4L405.7 382.4L406.4 381.5L407.3 380.6L407.8 379.7L408.4 378.8L408.8 377.8L409.2 376.8L409.7 375.8L410.4 374.6L411.1 373.3L412.0 371.9L412.2 370.0L412.4 367.8L412.7 365.4L413.0 362.8L413.3 360.3L413.6 358.1L413.8 356.2L413.9 354.8Z" fill="#0000a3"/>
<path d="M70.0 343.4L71.5 343.4L73.6 343.3L76.0 343.3L78.7 343.3L81.5 343.3L84.2 343.3L86.7 343.3L88.8 343.4L90.5 343.4L92.1 343.4L93.4 343.4L94.7 343.5L95.9 343.5L97.2 343.6L98.5 343.8L100.1 344.0L101.7 344.3L103.5 344.6L105.3 345.0L107.2 345.4L109.1 345.9L111.1 346.4L113.0 347.0L114.8 347.7L116.7 348.4L118.5 349.1L120.4 350.0L122.2 350.9L124.0 351.8L125.9 352.8L127.7 353.8L129.6 354.8L131.4 355.9L133.3 357.0L135.2 358.1L137.0 359.4L138.9 360.6L140.8 361.8L142.6 363.1L144.5 364.4L146.3 365.7L148.2 367.0L150.0 368.4L151.9 369.8L153.7 371.2L155.5 372.5L157.4 373.9L159.2 375.3L161.1 376.7L163.1 378.1L165.2 379.5L167.2 381.0L169.1 382.4L170.9 383.7L172.6 384.9L174.0 386.0L175.1 386.8L175.9 387.5L176.5 387.9L177.0 388.4L177.4 388.8L178.1 389.4L178.9 390.2L180.1 391.4L181.6 392.8L183.4 394.5L185.5 396.3L187.6 398.3L189.8 400.4L192.1 402.5L194.3 404.6L196.4 406.6L198.4 408.5L200.4 410.4L202.5 412.4L204.5 414.3L206.5 416.3L208.6 418.3L210.6 420.3L212.6 422.4L214.7 424.6L216.7 426.8L218.7 429.0L220.8 431.3L222.8 433.6L224.8 436.0L226.9 438.4L228.9 440.9L231.0 443.4L233.1 446.0L235.2 448.7L237.3 451.4L239.3 454.1L241.3 456.8L243.3 459.5L245.2 462.0L247.0 464.5L248.7 466.9L250.4 469.3L252.0 471.7L253.6 474.0L255.1 476.4L256.6 478.8L258.2 481.3L259.7 483.9L261.2 486.6L262.8 489.3L264.2 492.0L265.7 494.7L267.1 497.4L268.4 500.0L269.5 502.5L270.6 504.9L271.6 507.2L272.6 509.4L273.4 511.6L274.2 513.8L274.9 515.9L275.6 518.0L276.1 520.1L276.6 522.0L277.0 523.9L277.2 525.7L277.4 527.5L277.6 529.3L277.7 531.3L277.9 533.4L278.0 535.8L278.1 538.6L278.2 541.8L278.3 545.3L278.4 548.9L278.4 552.3L278.5 555.5L278.5 558.1L278.5 560.0L304.2 559.6L304.2 557.8L304.1 555.2L304.1 552.0L304.1 548.5L304.0 544.8L303.9 541.1L303.8 537.6L303.7 534.4L303.5 531.9L303.4 529.6L303.2 527.3L303.0 524.8L302.7 522.2L302.3 519.5L301.7 516.6L301.0 513.7L300.2 510.9L299.4 508.0L298.4 505.3L297.4 502.5L296.4 499.8L295.3 497.1L294.1 494.4L292.8 491.6L291.4 488.8L290.0 485.8L288.4 482.8L286.8 479.8L285.2 476.8L283.5 473.9L281.9 470.9L280.2 468.1L278.4 465.3L276.7 462.6L275.0 459.9L273.2 457.3L271.5 454.7L269.7 452.1L267.9 449.6L266.0 447.0L264.0 444.2L261.9 441.4L259.8 438.6L257.6 435.7L255.4 432.9L253.2 430.1L251.0 427.3L248.8 424.6L246.6 421.9L244.4 419.4L242.2 416.8L240.0 414.3L237.8 411.9L235.7 409.5L233.5 407.1L231.2 404.7L229.0 402.4L226.7 400.1L224.5 397.9L222.3 395.8L220.2 393.7L218.1 391.8L216.1 389.9L214.1 388.0L211.9 385.9L209.7 383.8L207.4 381.6L205.1 379.5L202.9 377.5L200.9 375.6L199.1 373.9L197.6 372.5L196.5 371.5L195.9 370.9L195.3 370.4L194.5 369.6L193.4 368.6L192.2 367.6L191.0 366.6L189.6 365.6L187.9 364.3L186.0 362.9L184.1 361.5L182.1 360.1L180.1 358.6L178.1 357.2L176.2 355.8L174.4 354.5L172.7 353.3L171.0 352.0L169.1 350.6L167.3 349.2L165.3 347.8L163.3 346.3L161.2 344.8L159.1 343.3L157.1 341.9L155.2 340.6L153.2 339.2L151.1 337.9L149.0 336.5L146.8 335.1L144.5 333.8L142.3 332.5L140.1 331.3L138.0 330.1L135.8 328.9L133.5 327.8L131.2 326.7L128.7 325.6L126.2 324.5L123.6 323.5L120.9 322.6L118.3 321.8L115.7 321.1L113.2 320.5L110.8 319.9L108.5 319.4L106.3 319.0L104.2 318.7L102.0 318.3L99.7 318.1L97.6 317.9L95.6 317.8L93.9 317.7L92.4 317.7L90.9 317.7L89.2 317.7L86.9 317.6L84.3 317.6L81.5 317.6L78.6 317.6L75.9 317.6L73.4 317.7L71.4 317.7L69.9 317.7Z" fill="#0000b2"/>
<path d="M69.9 172.8L71.4 172.8L73.3 172.9L75.5 172.9L78.0 172.9L80.6 173.0L83.4 173.0L86.2 173.1L88.9 173.2L91.6 173.3L94.5 173.5L97.4 173.6L100.4 173.7L103.4 173.9L106.4 174.1L109.4 174.3L112.4 174.6L115.3 174.9L118.2 175.3L121.2 175.6L124.1 176.0L127.0 176.5L129.9 177.0L132.8 177.5L135.7 178.1L138.6 178.7L141.6 179.5L144.6 180.3L147.6 181.1L150.6 182.0L153.5 182.9L156.4 183.7L159.2 184.6L161.9 185.3L164.4 186.1L166.9 186.8L169.3 187.5L171.7 188.2L174.1 188.9L176.5 189.7L178.9 190.6L181.4 191.5L183.8 192.4L186.3 193.4L188.8 194.4L191.3 195.5L193.8 196.5L196.4 197.6L198.9 198.6L201.5 199.6L204.1 200.6L206.7 201.6L209.4 202.6L212.0 203.5L214.5 204.4L216.9 205.2L219.2 205.9L221.3 206.4L223.3 206.8L225.2 207.1L226.9 207.4L228.6 207.6L230.1 207.8L231.6 207.9L233.0 208.1L234.3 208.2L235.6 208.3L236.7 208.4L237.8 208.4L238.8 208.5L239.8 208.5L240.8 208.5L241.9 208.5L243.0 208.5L244.1 208.6L245.2 208.6L246.3 208.6L247.4 208.6L248.6 208.6L249.8 208.5L251.0 208.4L252.4 208.4L253.9 208.2L255.5 208.1L257.1 207.9L258.6 207.8L260.0 207.6L261.1 207.5L262.0 207.4L262.1 209.1L261.3 209.6L260.2 210.3L258.8 211.2L257.3 212.1L255.8 213.1L254.2 214.0L252.6 214.9L251.1 215.7L249.7 216.5L248.3 217.3L247.0 218.0L245.7 218.7L244.4 219.4L243.2 220.0L241.9 220.7L240.8 221.3L239.6 222.0L238.5 222.7L237.3 223.3L236.0 223.9L234.6 224.5L233.0 225.1L231.4 225.7L229.7 226.4L228.2 227.1L226.5 227.8L224.6 228.6L222.4 229.3L220.0 230.0L217.2 230.6L214.2 231.2L211.0 231.7L207.7 232.0L204.4 232.3L201.1 232.4L197.8 232.5L194.5 232.6L191.3 232.7L188.2 232.8L185.1 232.9L182.2 232.1L179.2 231.3L176.4 230.5L173.8 229.8L171.3 229.2L169.1 228.7L167.2 228.3L165.3 228.0L163.4 227.8L161.4 227.5L159.5 226.8L157.5 226.2L155.4 225.5L153.1 224.7L150.6 223.9L147.9 223.1L145.0 222.1L142.2 221.1L139.4 220.2L136.7 219.3L134.2 218.5L131.8 217.7L129.6 217.0L127.6 216.4L125.5 215.9L123.3 215.4L121.0 214.9L118.6 214.5L116.1 214.1L113.6 213.7L111.1 213.3L108.5 212.9L106.1 212.6L103.7 212.4L101.1 212.1L98.4 211.9L95.6 211.7L92.8 211.5L90.0 211.3L87.4 211.1L84.9 211.0L82.4 210.8L79.9 210.7L77.4 210.6L75.0 210.5L72.8 210.4L70.8 210.3L69.3 210.3Z" fill="#0000b2"/>
<path d="M215.0 232.1L215.9 232.2L217.0 232.4L218.4 232.6L219.9 232.8L221.4 233.1L223.0 233.3L224.6 233.6L225.9 233.9L227.2 234.2L228.5 234.5L229.7 234.8L230.9 235.1L232.1 235.4L233.3 235.8L234.5 236.2L235.7 236.6L236.9 237.1L238.1 237.7L239.4 238.3L240.7 238.9L241.9 239.6L243.2 240.3L244.5 241.1L245.8 241.8L247.0 242.6L248.2 243.4L249.5 244.3L250.8 245.2L252.0 246.1L253.3 247.0L254.5 248.0L255.7 248.9L257.0 249.8L258.2 250.7L259.3 251.6L260.5 252.6L261.7 253.5L262.9 254.5L264.2 255.6L265.5 256.8L266.9 258.0L268.4 259.3L269.9 260.6L271.4 262.0L273.0 263.5L274.7 265.1L276.4 266.7L278.3 268.4L280.2 270.2L282.3 272.1L284.5 274.1L286.7 276.1L289.0 278.2L291.2 280.3L293.5 282.5L295.8 284.7L298.0 286.9L300.3 289.2L302.7 291.5L305.0 293.9L307.4 296.4L309.8 298.7L312.1 301.1L314.4 303.3L316.7 305.5L319.0 307.7L321.2 309.7L323.4 311.8L325.5 313.8L327.7 315.9L329.9 317.9L332.1 320.0L334.3 322.2L336.5 324.4L338.7 326.5L340.9 328.7L343.1 331.0L345.3 333.2L347.5 335.5L349.7 337.8L352.0 340.1L354.4 342.6L356.8 345.0L359.2 347.5L361.5 350.0L363.7 352.4L365.8 354.8L367.6 357.0L369.4 359.2L371.0 361.3L372.5 363.4L373.9 365.5L375.2 367.5L376.5 369.6L377.7 371.6L378.9 373.6L380.1 375.5L381.3 377.2L382.4 378.9L383.4 380.6L384.4 382.3L385.3 383.9L386.1 385.7L386.8 387.5L387.6 389.5L388.3 391.8L388.9 394.2L389.5 396.6L389.9 398.9L390.4 401.0L390.7 402.7L391.0 404.0L388.8 404.4L388.2 403.1L387.4 401.4L386.5 399.4L385.4 397.2L384.2 395.0L382.9 392.9L381.4 391.1L379.8 389.7L378.3 388.6L376.7 387.6L374.9 386.7L373.0 385.9L371.0 385.0L369.2 383.9L367.2 382.7L365.0 381.3L362.9 379.8L360.8 378.3L358.7 376.9L356.5 375.7L354.4 374.7L352.2 373.7L350.0 372.9L347.7 372.3L345.2 371.6L342.4 370.7L339.4 369.7L336.1 368.7L332.9 367.3L329.7 365.9L326.4 364.5L323.2 363.0L320.2 361.8L317.3 360.6L314.5 359.4L312.3 357.5L310.2 355.4L308.1 353.4L306.0 351.3L303.9 349.2L302.0 347.3L300.0 345.4L298.0 343.5L295.9 341.5L293.7 339.4L291.4 337.2L289.0 334.9L286.5 332.5L284.0 330.0L281.5 327.5L279.0 325.0L276.7 322.5L274.4 320.2L272.3 317.9L270.2 315.8L268.3 313.8L266.4 311.9L264.3 309.9L262.3 307.9L260.2 305.9L258.0 303.9L255.9 301.9L253.9 300.0L251.8 298.1L249.9 296.2L248.2 294.5L246.5 293.0L245.0 291.5L243.7 290.2L242.4 289.1L241.3 288.0L240.3 287.1L239.3 286.2L238.6 285.2L237.9 284.1L237.3 283.2L236.7 282.2L236.0 281.2L235.3 280.1L234.4 279.0L233.6 277.8L232.7 276.7L232.0 275.6L231.3 274.5L230.7 273.5L230.2 272.6L229.7 271.8L229.3 271.0L228.7 270.1L228.3 268.8L228.0 267.5L227.7 266.2L227.5 264.9L227.4 263.7L227.3 262.6L227.3 261.5L227.5 260.4L227.6 259.3L227.5 258.2L227.1 256.7L226.5 255.0L225.6 253.3L224.6 251.5L223.5 249.6L222.4 247.7L221.3 245.7L220.0 243.6L218.8 241.2L217.5 238.9L216.4 236.9L215.5 235.2L214.8 233.9Z" fill="#0000b2"/>
<path d="M415.5 355.0L415.3 356.4L415.1 358.3L414.8 360.5L414.5 363.0L414.2 365.5L414.0 368.0L413.7 370.2L413.6 372.0L413.5 373.4L413.5 374.7L413.5 375.7L413.5 376.6L413.6 377.5L413.6 378.3L413.6 379.1L413.7 380.0L413.7 380.9L413.7 381.6L413.7 382.3L413.7 383.0L413.8 383.8L413.9 384.7L414.1 385.8L414.2 387.2L414.3 388.8L414.4 390.8L414.5 393.0L414.7 395.3L415.0 397.7L415.4 400.1L415.8 402.5L416.4 404.9L417.1 407.3L417.9 409.6L418.8 411.9L419.7 414.2L420.6 416.5L421.5 418.7L422.4 420.9L423.2 423.1L423.9 425.2L424.5 427.3L425.2 429.5L425.8 431.6L426.5 433.9L427.2 436.2L428.0 438.6L428.9 441.2L429.9 443.9L431.1 446.6L432.2 449.3L433.4 452.1L434.6 454.9L435.8 457.9L436.9 461.0L438.0 464.3L439.0 467.9L440.0 471.7L441.0 475.6L442.0 479.8L442.9 484.0L443.8 488.4L444.6 492.8L445.3 497.2L446.0 501.8L446.6 506.7L447.1 511.7L447.6 516.8L448.0 521.9L448.4 526.8L448.8 531.3L449.1 535.5L449.3 539.4L449.5 543.1L449.6 546.7L449.6 550.1L449.7 553.2L449.7 555.9L449.7 558.2L449.7 560.0L416.9 560.5L416.9 558.5L416.9 556.0L416.9 553.3L416.8 550.5L416.8 547.4L416.7 544.3L416.5 541.0L416.3 537.7L416.1 533.7L415.7 529.3L415.3 524.6L414.9 519.9L414.4 515.1L413.9 510.5L413.4 506.1L412.8 502.2L412.2 498.3L411.5 494.5L410.7 490.6L409.8 486.9L408.9 483.2L408.1 479.8L407.2 476.5L406.3 473.6L405.6 471.4L404.9 469.4L404.1 467.3L403.1 465.0L402.0 462.4L400.7 459.5L399.3 456.2L397.9 452.6L396.8 449.2L395.8 446.3L395.0 443.6L394.2 441.3L393.7 439.2L393.2 437.4L392.8 435.9L392.4 434.6L392.0 433.2L391.4 431.7L390.7 429.8L389.9 427.5L389.6 424.6L389.5 421.3L389.5 417.6L389.5 413.8L389.8 410.0L390.7 406.4L392.4 402.9L394.2 399.7L396.2 396.7L398.2 394.0L400.0 391.7L401.6 389.8L402.8 388.1L403.7 386.6L404.4 385.4L405.0 384.3L405.6 383.3L406.1 382.4L406.8 381.5L407.6 380.6L408.2 379.6L408.7 378.7L409.1 377.8L409.5 376.8L410.0 375.8L410.5 374.6L411.3 373.3L412.1 371.9L412.3 370.1L412.5 367.8L412.8 365.4L413.1 362.8L413.4 360.3L413.6 358.1L413.9 356.2L414.0 354.8Z" fill="#0000b2"/>
<path d="M70.0 342.3L71.5 342.3L73.5 342.3L76.0 342.2L78.7 342.2L81.5 342.2L84.2 342.2L86.7 342.2L88.8 342.3L90.6 342.3L92.1 342.3L93.4 342.3L94.7 342.4L96.0 342.4L97.3 342.5L98.7 342.7L100.2 342.9L101.9 343.2L103.7 343.6L105.6 343.9L107.5 344.4L109.4 344.9L111.4 345.4L113.3 346.0L115.2 346.7L117.1 347.4L118.9 348.2L120.8 349.0L122.7 349.9L124.5 350.8L126.4 351.8L128.3 352.8L130.1 353.8L132.0 354.9L133.9 356.1L135.7 357.2L137.6 358.4L139.5 359.7L141.4 360.9L143.2 362.2L145.1 363.5L146.9 364.8L148.8 366.2L150.7 367.5L152.5 368.9L154.4 370.3L156.2 371.7L158.0 373.1L159.9 374.4L161.8 375.8L163.8 377.2L165.8 378.7L167.8 380.1L169.7 381.5L171.6 382.8L173.2 384.0L174.7 385.1L175.8 386.0L176.6 386.6L177.2 387.1L177.7 387.6L178.2 388.1L178.8 388.7L179.7 389.5L180.8 390.6L182.4 392.0L184.2 393.7L186.2 395.5L188.3 397.5L190.6 399.6L192.8 401.7L195.0 403.8L197.1 405.8L199.2 407.7L201.2 409.6L203.2 411.6L205.3 413.5L207.3 415.5L209.3 417.5L211.4 419.6L213.4 421.7L215.5 423.9L217.5 426.1L219.5 428.3L221.6 430.6L223.6 432.9L225.7 435.3L227.7 437.7L229.7 440.2L231.8 442.7L233.9 445.3L236.0 448.0L238.1 450.7L240.2 453.5L242.2 456.2L244.2 458.8L246.1 461.4L247.9 463.9L249.6 466.3L251.3 468.7L252.9 471.1L254.5 473.4L256.0 475.8L257.6 478.3L259.1 480.8L260.6 483.4L262.2 486.0L263.7 488.8L265.2 491.5L266.6 494.2L268.0 496.9L269.3 499.5L270.5 502.0L271.6 504.4L272.6 506.7L273.6 509.0L274.4 511.2L275.2 513.4L275.9 515.5L276.6 517.7L277.2 519.8L277.6 521.8L278.0 523.7L278.3 525.6L278.5 527.4L278.7 529.3L278.8 531.2L279.0 533.4L279.1 535.7L279.2 538.5L279.3 541.8L279.4 545.3L279.5 548.9L279.5 552.3L279.5 555.4L279.6 558.1L279.6 560.0L297.0 559.7L297.0 557.8L296.9 555.3L296.9 552.1L296.9 548.6L296.8 545.0L296.7 541.3L296.6 537.9L296.5 534.8L296.3 532.3L296.2 530.1L296.0 527.9L295.8 525.6L295.5 523.2L295.2 520.7L294.7 518.1L294.0 515.5L293.3 512.9L292.5 510.2L291.6 507.6L290.7 505.1L289.7 502.5L288.6 499.9L287.5 497.3L286.3 494.7L285.0 491.9L283.6 489.1L282.1 486.2L280.5 483.2L278.9 480.3L277.3 477.4L275.6 474.6L274.0 471.8L272.3 469.1L270.7 466.4L269.0 463.9L267.3 461.3L265.6 458.8L263.8 456.3L262.0 453.8L260.2 451.2L258.2 448.5L256.2 445.8L254.1 443.0L251.9 440.1L249.7 437.3L247.5 434.5L245.4 431.8L243.2 429.1L241.1 426.6L238.9 424.0L236.8 421.5L234.6 419.1L232.5 416.7L230.3 414.3L228.2 412.0L226.0 409.7L223.8 407.4L221.6 405.2L219.5 403.0L217.3 401.0L215.2 399.0L213.1 397.0L211.1 395.1L209.1 393.2L207.0 391.2L204.7 389.0L202.5 386.9L200.2 384.8L198.0 382.8L196.0 380.9L194.2 379.2L192.7 377.8L191.6 376.8L190.9 376.1L190.3 375.5L189.6 374.9L188.6 374.0L187.6 373.2L186.5 372.3L185.2 371.3L183.6 370.1L181.8 368.7L179.9 367.3L177.9 365.9L175.9 364.5L173.9 363.1L172.0 361.7L170.1 360.4L168.4 359.1L166.6 357.8L164.8 356.4L162.9 355.0L161.0 353.5L159.1 352.1L157.0 350.6L155.0 349.2L153.1 347.9L151.1 346.5L149.2 345.2L147.1 343.9L145.1 342.6L143.0 341.2L140.9 339.9L138.7 338.7L136.7 337.6L134.6 336.4L132.5 335.3L130.3 334.3L128.1 333.2L125.9 332.2L123.5 331.2L121.1 330.3L118.7 329.5L116.2 328.7L113.8 328.0L111.5 327.5L109.3 326.9L107.1 326.5L105.0 326.1L103.0 325.8L101.0 325.5L99.0 325.2L97.1 325.1L95.4 325.0L93.8 324.9L92.3 324.9L90.8 324.9L89.1 324.9L86.9 324.8L84.2 324.8L81.5 324.8L78.6 324.8L75.9 324.8L73.5 324.9L71.4 324.9L69.9 324.9Z" fill="#0000c2"/>
<path d="M69.9 172.8L71.4 172.8L73.3 172.9L75.5 172.9L78.0 172.9L80.6 173.0L83.4 173.0L86.2 173.1L88.9 173.2L91.6 173.3L94.5 173.5L97.4 173.6L100.4 173.7L103.4 173.9L106.4 174.1L109.4 174.3L112.4 174.6L115.3 174.9L118.2 175.3L121.2 175.6L124.1 176.0L127.0 176.5L129.9 177.0L132.8 177.5L135.7 178.1L138.6 178.7L141.6 179.5L144.6 180.3L147.6 181.1L150.6 182.0L153.5 182.9L156.4 183.7L159.2 184.6L161.9 185.3L164.4 186.1L166.9 186.8L169.3 187.5L171.7 188.2L174.1 188.9L176.5 189.7L178.9 190.6L181.4 191.5L183.8 192.4L186.3 193.4L188.8 194.4L191.3 195.5L193.8 196.5L196.4 197.6L198.9 198.6L201.5 199.6L204.1 200.6L206.7 201.6L209.4 202.6L212.0 203.5L214.5 204.4L216.9 205.2L219.2 205.9L221.3 206.4L223.3 206.8L225.2 207.1L226.9 207.4L228.6 207.6L230.1 207.8L231.6 207.9L233.0 208.1L234.3 208.2L235.6 208.3L236.7 208.4L237.8 208.4L238.8 208.5L239.8 208.5L240.8 208.5L241.9 208.5L243.0 208.5L244.1 208.6L245.2 208.6L246.3 208.6L247.4 208.6L248.6 208.6L249.8 208.5L251.0 208.4L252.4 208.4L253.9 208.2L255.5 208.1L257.1 207.9L258.6 207.8L260.0 207.6L261.1 207.5L262.0 207.4L262.1 208.9L261.3 209.4L260.2 210.1L258.8 210.8L257.3 211.7L255.7 212.6L254.1 213.5L252.5 214.3L251.1 215.0L249.7 215.7L248.3 216.4L247.0 217.1L245.7 217.7L244.5 218.3L243.2 218.9L242.0 219.5L240.9 220.1L239.7 220.7L238.6 221.3L237.4 221.9L236.1 222.4L234.8 222.9L233.3 223.5L231.7 224.0L230.0 224.6L228.5 225.3L226.9 225.9L225.0 226.6L222.9 227.2L220.5 227.8L217.8 228.3L214.9 228.8L211.8 229.2L208.6 229.4L205.4 229.6L202.1 229.6L198.9 229.6L195.7 229.6L192.6 229.6L189.5 229.6L186.5 229.6L183.5 228.8L180.6 227.9L177.8 227.1L175.2 226.4L172.8 225.7L170.6 225.2L168.6 224.7L166.6 224.4L164.7 224.1L162.7 223.7L160.7 223.1L158.7 222.4L156.5 221.7L154.2 221.0L151.7 220.2L149.0 219.3L146.1 218.4L143.3 217.4L140.5 216.5L137.8 215.6L135.2 214.7L132.7 214.0L130.5 213.3L128.4 212.7L126.2 212.2L123.9 211.6L121.5 211.2L119.1 210.7L116.6 210.3L114.1 209.9L111.5 209.6L108.9 209.2L106.4 208.9L103.9 208.7L101.3 208.4L98.6 208.2L95.8 208.0L93.0 207.8L90.2 207.6L87.5 207.4L85.1 207.3L82.5 207.2L80.0 207.0L77.4 206.9L75.0 206.8L72.8 206.8L70.9 206.7L69.4 206.6Z" fill="#0000c2"/>
<path d="M215.0 232.1L215.9 232.2L217.0 232.4L218.4 232.6L219.9 232.8L221.4 233.1L223.0 233.3L224.6 233.6L225.9 233.9L227.2 234.2L228.5 234.5L229.7 234.8L230.9 235.1L232.1 235.4L233.3 235.8L234.5 236.2L235.7 236.6L236.9 237.1L238.1 237.7L239.4 238.3L240.7 238.9L241.9 239.6L243.2 240.3L244.5 241.1L245.8 241.8L247.0 242.6L248.2 243.4L249.5 244.3L250.8 245.2L252.0 246.1L253.3 247.0L254.5 248.0L255.7 248.9L257.0 249.8L258.2 250.7L259.3 251.6L260.5 252.6L261.7 253.5L262.9 254.5L264.2 255.6L265.5 256.8L266.9 258.0L268.4 259.3L269.9 260.6L271.4 262.0L273.0 263.5L274.7 265.1L276.4 266.7L278.3 268.4L280.2 270.2L282.3 272.1L284.5 274.1L286.7 276.1L289.0 278.2L291.2 280.3L293.5 282.5L295.8 284.7L298.0 286.9L300.3 289.2L302.7 291.5L305.0 293.9L307.4 296.4L309.8 298.7L312.1 301.1L314.4 303.3L316.7 305.5L319.0 307.7L321.2 309.7L323.4 311.8L325.5 313.8L327.7 315.9L329.9 317.9L332.1 320.0L334.3 322.2L336.5 324.4L338.7 326.5L340.9 328.7L343.1 331.0L345.3 333.2L347.5 335.5L349.7 337.8L352.0 340.1L354.4 342.6L356.8 345.0L359.2 347.5L361.5 350.0L363.7 352.4L365.8 354.8L367.6 357.0L369.4 359.2L371.0 361.3L372.5 363.4L373.9 365.5L375.2 367.5L376.5 369.6L377.7 371.6L378.9 373.6L380.1 375.5L381.3 377.2L382.4 378.9L383.4 380.6L384.4 382.3L385.3 383.9L386.1 385.7L386.8 387.5L387.6 389.5L388.3 391.8L388.9 394.2L389.5 396.6L389.9 398.9L390.4 401.0L390.7 402.7L391.0 404.0L388.9 404.3L388.3 403.1L387.6 401.4L386.7 399.4L385.7 397.2L384.5 395.0L383.2 392.9L381.7 391.0L380.2 389.6L378.7 388.5L377.1 387.4L375.4 386.5L373.5 385.6L371.6 384.7L369.8 383.6L367.9 382.3L365.8 380.9L363.7 379.3L361.6 377.8L359.5 376.4L357.5 375.2L355.3 374.1L353.2 373.0L351.0 372.2L348.7 371.5L346.3 370.7L343.6 369.7L340.6 368.7L337.4 367.5L334.2 366.1L331.0 364.6L327.8 363.1L324.6 361.7L321.7 360.4L318.9 359.1L316.1 357.8L313.8 355.9L311.8 353.8L309.7 351.8L307.6 349.6L305.5 347.6L303.5 345.6L301.6 343.7L299.5 341.8L297.4 339.8L295.2 337.7L292.9 335.6L290.5 333.3L288.1 330.9L285.5 328.4L283.0 325.9L280.6 323.4L278.3 320.9L276.0 318.6L273.8 316.3L271.8 314.2L269.8 312.2L267.9 310.3L265.9 308.3L263.8 306.3L261.7 304.2L259.5 302.2L257.4 300.3L255.4 298.3L253.3 296.4L251.4 294.6L249.7 292.9L248.0 291.3L246.5 289.9L245.2 288.6L243.9 287.4L242.8 286.3L241.7 285.3L240.7 284.4L239.9 283.4L239.3 282.4L238.7 281.4L238.0 280.4L237.3 279.5L236.5 278.4L235.7 277.3L234.8 276.1L233.9 275.0L233.1 273.9L232.4 272.8L231.8 271.9L231.2 271.0L230.7 270.1L230.3 269.3L229.6 268.5L229.2 267.2L228.8 265.9L228.5 264.6L228.2 263.4L228.0 262.2L227.8 261.1L227.8 260.1L227.9 259.0L228.0 258.0L227.8 256.9L227.4 255.4L226.7 253.8L225.8 252.2L224.7 250.5L223.6 248.7L222.6 246.9L221.4 245.0L220.1 242.9L218.8 240.7L217.6 238.5L216.5 236.6L215.5 235.0L214.8 233.8Z" fill="#0000c2"/>
<path d="M415.5 355.0L415.3 356.4L415.1 358.3L414.8 360.5L414.5 363.0L414.2 365.5L414.0 368.0L413.7 370.2L413.6 372.0L413.5 373.4L413.5 374.7L413.5 375.7L413.5 376.6L413.6 377.5L413.6 378.3L413.6 379.1L413.7 380.0L413.7 380.9L413.7 381.6L413.7 382.3L413.7 383.0L413.8 383.8L413.9 384.7L414.1 385.8L414.2 387.2L414.3 388.8L414.4 390.8L414.5 393.0L414.7 395.3L415.0 397.7L415.4 400.1L415.8 402.5L416.4 404.9L417.1 407.3L417.9 409.6L418.8 411.9L419.7 414.2L420.6 416.5L421.5 418.7L422.4 420.9L423.2 423.1L423.9 425.2L424.5 427.3L425.2 429.5L425.8 431.6L426.5 433.9L427.2 436.2L428.0 438.6L428.9 441.2L429.9 443.9L431.1 446.6L432.2 449.3L433.4 452.1L434.6 454.9L435.8 457.9L436.9 461.0L438.0 464.3L439.0 467.9L440.0 471.7L441.0 475.6L442.0 479.8L442.9 484.0L443.8 488.4L444.6 492.8L445.3 497.2L446.0 501.8L446.6 506.7L447.1 511.7L447.6 516.8L448.0 521.9L448.4 526.8L448.8 531.3L449.1 535.5L449.3 539.4L449.5 543.1L449.6 546.7L449.6 550.1L449.7 553.2L449.7 555.9L449.7 558.2L449.7 560.0L418.8 560.5L418.7 558.5L418.7 556.0L418.7 553.3L418.7 550.5L418.6 547.4L418.6 544.2L418.4 540.9L418.2 537.5L417.9 533.6L417.6 529.2L417.2 524.5L416.8 519.7L416.3 514.9L415.8 510.2L415.3 505.9L414.7 501.9L414.0 498.0L413.3 494.1L412.5 490.2L411.7 486.5L410.8 482.8L409.9 479.3L409.0 476.0L408.1 473.1L407.4 470.8L406.6 468.8L405.8 466.6L404.8 464.3L403.7 461.7L402.4 458.8L401.1 455.5L399.7 451.9L398.5 448.6L397.6 445.7L396.7 443.1L396.0 440.7L395.5 438.7L395.0 436.9L394.6 435.3L394.2 433.9L393.7 432.5L393.2 431.0L392.4 429.0L391.6 426.7L391.2 423.9L391.2 420.6L391.1 417.0L391.1 413.2L391.3 409.6L392.1 406.1L393.7 402.6L395.4 399.4L397.3 396.5L399.2 393.8L400.9 391.6L402.4 389.6L403.5 387.9L404.3 386.5L405.0 385.3L405.5 384.2L406.0 383.3L406.6 382.3L407.2 381.5L408.0 380.5L408.5 379.6L409.0 378.7L409.4 377.8L409.7 376.8L410.2 375.8L410.7 374.6L411.4 373.3L412.2 371.9L412.4 370.1L412.6 367.8L412.9 365.4L413.2 362.8L413.5 360.4L413.7 358.1L414.0 356.2L414.1 354.8Z" fill="#0000c2"/>
<path d="M70.0 339.3L71.5 339.3L73.5 339.3L76.0 339.2L78.7 339.2L81.5 339.2L84.2 339.2L86.7 339.2L88.9 339.3L90.6 339.3L92.1 339.3L93.5 339.3L94.8 339.4L96.2 339.4L97.6 339.6L99.1 339.7L100.7 340.0L102.5 340.3L104.3 340.6L106.2 341.0L108.2 341.5L110.2 342.0L112.2 342.5L114.2 343.1L116.2 343.8L118.2 344.6L120.1 345.4L122.1 346.3L124.0 347.2L125.9 348.2L127.8 349.2L129.7 350.2L131.6 351.2L133.5 352.3L135.4 353.5L137.4 354.7L139.3 355.9L141.2 357.2L143.0 358.5L144.9 359.7L146.8 361.0L148.7 362.4L150.6 363.7L152.4 365.1L154.3 366.5L156.2 367.9L158.0 369.3L159.8 370.6L161.6 372.0L163.5 373.4L165.5 374.8L167.5 376.2L169.5 377.6L171.5 379.0L173.3 380.4L175.0 381.6L176.5 382.7L177.6 383.6L178.5 384.3L179.2 384.9L179.7 385.4L180.3 385.9L180.9 386.5L181.7 387.3L182.9 388.4L184.4 389.8L186.2 391.5L188.2 393.3L190.4 395.3L192.6 397.4L194.9 399.5L197.1 401.6L199.2 403.6L201.2 405.5L203.2 407.5L205.3 409.4L207.3 411.4L209.4 413.3L211.5 415.4L213.5 417.5L215.6 419.6L217.7 421.8L219.7 424.0L221.8 426.3L223.8 428.6L225.9 431.0L228.0 433.4L230.0 435.8L232.1 438.3L234.1 440.8L236.3 443.5L238.4 446.2L240.5 448.9L242.6 451.6L244.6 454.4L246.6 457.0L248.5 459.6L250.3 462.1L252.0 464.6L253.7 467.0L255.4 469.4L257.0 471.8L258.5 474.2L260.1 476.7L261.7 479.2L263.2 481.8L264.8 484.6L266.3 487.3L267.8 490.1L269.3 492.8L270.7 495.6L272.0 498.2L273.2 500.8L274.3 503.2L275.4 505.6L276.3 507.9L277.2 510.2L278.1 512.4L278.8 514.6L279.5 516.8L280.1 519.0L280.6 521.2L281.0 523.2L281.3 525.2L281.5 527.1L281.7 529.0L281.8 531.0L282.0 533.2L282.1 535.6L282.2 538.4L282.3 541.7L282.4 545.2L282.5 548.8L282.5 552.3L282.5 555.4L282.6 558.0L282.6 559.9L291.8 559.8L291.8 557.9L291.7 555.3L291.7 552.2L291.7 548.7L291.6 545.1L291.5 541.5L291.4 538.1L291.3 535.1L291.1 532.6L291.0 530.4L290.9 528.3L290.7 526.1L290.4 523.9L290.0 521.6L289.6 519.2L289.0 516.8L288.3 514.3L287.6 511.8L286.7 509.4L285.8 506.9L284.9 504.4L283.8 502.0L282.7 499.4L281.6 496.9L280.3 494.2L278.9 491.4L277.5 488.6L275.9 485.7L274.4 482.8L272.8 480.0L271.2 477.2L269.5 474.5L267.9 471.8L266.3 469.3L264.6 466.7L263.0 464.2L261.3 461.8L259.6 459.3L257.8 456.8L255.9 454.2L254.0 451.6L252.0 448.9L249.9 446.1L247.8 443.3L245.6 440.5L243.5 437.8L241.3 435.1L239.2 432.4L237.1 429.9L235.0 427.4L232.8 424.9L230.7 422.5L228.6 420.2L226.5 417.8L224.4 415.5L222.3 413.3L220.1 411.0L218.0 408.9L215.8 406.8L213.7 404.7L211.6 402.7L209.6 400.8L207.5 398.9L205.5 396.9L203.4 394.9L201.2 392.8L198.9 390.7L196.7 388.6L194.5 386.6L192.5 384.7L190.7 383.0L189.1 381.6L188.0 380.6L187.3 379.9L186.7 379.3L186.0 378.7L185.2 377.9L184.3 377.2L183.3 376.4L182.1 375.4L180.5 374.2L178.7 372.9L176.9 371.6L174.9 370.2L172.9 368.7L170.9 367.3L168.9 365.9L167.1 364.6L165.3 363.3L163.5 361.9L161.7 360.5L159.8 359.1L157.9 357.7L156.0 356.3L154.0 354.9L152.1 353.5L150.1 352.2L148.2 350.8L146.3 349.5L144.3 348.2L142.3 346.9L140.3 345.7L138.2 344.4L136.2 343.2L134.1 342.1L132.1 341.0L130.1 340.0L128.0 338.9L125.9 337.9L123.8 337.0L121.6 336.0L119.4 335.2L117.1 334.4L114.8 333.7L112.5 333.1L110.3 332.5L108.2 332.0L106.1 331.6L104.1 331.2L102.2 330.9L100.3 330.6L98.5 330.4L96.8 330.3L95.2 330.2L93.7 330.1L92.2 330.1L90.7 330.1L89.0 330.1L86.8 330.0L84.2 330.0L81.5 330.0L78.6 330.0L75.9 330.0L73.5 330.1L71.4 330.1L70.0 330.1Z" fill="#0000d1"/>
<path d="M69.9 172.8L71.4 172.8L73.3 172.9L75.5 172.9L78.0 172.9L80.6 173.0L83.4 173.0L86.2 173.1L88.9 173.2L91.6 173.3L94.5 173.5L97.4 173.6L100.4 173.7L103.4 173.9L106.4 174.1L109.4 174.3L112.4 174.6L115.3 174.9L118.2 175.3L121.2 175.6L124.1 176.0L127.0 176.5L129.9 177.0L132.8 177.5L135.7 178.1L138.6 178.7L141.6 179.5L144.6 180.3L147.6 181.1L150.6 182.0L153.5 182.9L156.4 183.7L159.2 184.6L161.9 185.3L164.4 186.1L166.9 186.8L169.3 187.5L171.7 188.2L174.1 188.9L176.5 189.7L178.9 190.6L181.4 191.5L183.8 192.4L186.3 193.4L188.8 194.4L191.3 195.5L193.8 196.5L196.4 197.6L198.9 198.6L201.5 199.6L204.1 200.6L206.7 201.6L209.4 202.6L212.0 203.5L214.5 204.4L216.9 205.2L219.2 205.9L221.3 206.4L223.3 206.8L225.2 207.1L226.9 207.4L228.6 207.6L230.1 207.8L231.6 207.9L233.0 208.1L234.3 208.2L235.6 208.3L236.7 208.4L237.8 208.4L238.8 208.5L239.8 208.5L240.8 208.5L241.9 208.5L243.0 208.5L244.1 208.6L245.2 208.6L246.3 208.6L247.4 208.6L248.6 208.6L249.8 208.5L251.0 208.4L252.4 208.4L253.9 208.2L255.5 208.1L257.1 207.9L258.6 207.8L260.0 207.6L261.1 207.5L262.0 207.4L262.1 208.6L261.2 209.0L260.1 209.6L258.8 210.3L257.3 211.0L255.7 211.8L254.1 212.6L252.5 213.3L251.0 213.8L249.7 214.5L248.4 215.1L247.1 215.7L245.8 216.2L244.6 216.7L243.4 217.2L242.2 217.6L241.0 218.1L239.9 218.6L238.8 219.1L237.6 219.6L236.4 220.0L235.1 220.5L233.7 220.9L232.1 221.4L230.5 221.9L229.0 222.4L227.4 222.9L225.6 223.4L223.5 223.9L221.2 224.4L218.7 224.8L216.0 225.1L213.0 225.4L210.0 225.4L206.9 225.4L203.8 225.2L200.7 225.0L197.6 224.9L194.5 224.7L191.5 224.5L188.6 224.3L185.7 223.5L182.8 222.6L180.1 221.8L177.5 221.0L175.1 220.2L172.8 219.6L170.7 219.1L168.7 218.6L166.7 218.2L164.6 217.8L162.6 217.2L160.5 216.5L158.3 215.8L155.9 215.1L153.4 214.3L150.7 213.5L147.9 212.5L145.0 211.6L142.2 210.7L139.4 209.8L136.8 208.9L134.2 208.2L131.9 207.5L129.6 206.9L127.3 206.3L124.9 205.8L122.5 205.3L120.0 204.9L117.4 204.5L114.8 204.1L112.1 203.7L109.5 203.4L106.9 203.1L104.4 202.8L101.7 202.6L98.9 202.4L96.1 202.2L93.2 202.0L90.4 201.8L87.8 201.7L85.2 201.5L82.7 201.4L80.1 201.3L77.5 201.2L75.1 201.1L72.9 201.1L71.0 201.0L69.5 200.9Z" fill="#0000d1"/>
<path d="M215.0 232.1L215.9 232.2L217.0 232.4L218.4 232.6L219.9 232.8L221.4 233.1L223.0 233.3L224.6 233.6L225.9 233.9L227.2 234.2L228.5 234.5L229.7 234.8L230.9 235.1L232.1 235.4L233.3 235.8L234.5 236.2L235.7 236.6L236.9 237.1L238.1 237.7L239.4 238.3L240.7 238.9L241.9 239.6L243.2 240.3L244.5 241.1L245.8 241.8L247.0 242.6L248.2 243.4L249.5 244.3L250.8 245.2L252.0 246.1L253.3 247.0L254.5 248.0L255.7 248.9L257.0 249.8L258.2 250.7L259.3 251.6L260.5 252.6L261.7 253.5L262.9 254.5L264.2 255.6L265.5 256.8L266.9 258.0L268.4 259.3L269.9 260.6L271.4 262.0L273.0 263.5L274.7 265.1L276.4 266.7L278.3 268.4L280.2 270.2L282.3 272.1L284.5 274.1L286.7 276.1L289.0 278.2L291.2 280.3L293.5 282.5L295.8 284.7L298.0 286.9L300.3 289.2L302.7 291.5L305.0 293.9L307.4 296.4L309.8 298.7L312.1 301.1L314.4 303.3L316.7 305.5L319.0 307.7L321.2 309.7L323.4 311.8L325.5 313.8L327.7 315.9L329.9 317.9L332.1 320.0L334.3 322.2L336.5 324.4L338.7 326.5L340.9 328.7L343.1 331.0L345.3 333.2L347.5 335.5L349.7 337.8L352.0 340.1L354.4 342.6L356.8 345.0L359.2 347.5L361.5 350.0L363.7 352.4L365.8 354.8L367.6 357.0L369.4 359.2L371.0 361.3L372.5 363.4L373.9 365.5L375.2 367.5L376.5 369.6L377.7 371.6L378.9 373.6L380.1 375.5L381.3 377.2L382.4 378.9L383.4 380.6L384.4 382.3L385.3 383.9L386.1 385.7L386.8 387.5L387.6 389.5L388.3 391.8L388.9 394.2L389.5 396.6L389.9 398.9L390.4 401.0L390.7 402.7L391.0 404.0L389.0 404.3L388.4 403.1L387.6 401.4L386.8 399.4L385.7 397.2L384.6 395.0L383.3 392.8L381.8 391.0L380.4 389.6L378.9 388.4L377.3 387.3L375.6 386.4L373.8 385.5L371.9 384.6L370.1 383.4L368.1 382.2L366.1 380.7L364.0 379.1L362.0 377.6L359.9 376.2L357.8 374.9L355.7 373.8L353.7 372.8L351.5 371.9L349.2 371.2L346.8 370.3L344.1 369.3L341.1 368.2L337.9 367.0L334.8 365.6L331.6 364.1L328.4 362.6L325.2 361.1L322.3 359.8L319.5 358.4L316.7 357.2L314.5 355.3L312.4 353.2L310.4 351.1L308.2 349.0L306.1 346.9L304.2 344.9L302.2 343.1L300.2 341.1L298.1 339.1L295.9 337.0L293.6 334.9L291.2 332.6L288.7 330.2L286.2 327.7L283.7 325.2L281.3 322.7L278.9 320.3L276.7 317.9L274.5 315.6L272.4 313.5L270.5 311.5L268.5 309.6L266.5 307.6L264.4 305.6L262.3 303.5L260.2 301.5L258.0 299.6L256.0 297.6L254.0 295.7L252.1 293.9L250.3 292.2L248.7 290.6L247.2 289.2L245.8 287.9L244.5 286.7L243.4 285.6L242.3 284.6L241.3 283.7L240.5 282.7L239.9 281.7L239.2 280.7L238.6 279.7L237.8 278.7L237.1 277.7L236.2 276.6L235.3 275.4L234.4 274.2L233.6 273.2L232.9 272.1L232.2 271.2L231.6 270.3L231.2 269.4L230.6 268.6L230.0 267.8L229.5 266.5L229.1 265.2L228.8 263.9L228.5 262.7L228.3 261.6L228.1 260.5L228.0 259.5L228.1 258.4L228.1 257.4L227.9 256.3L227.4 254.9L226.8 253.3L225.9 251.7L224.8 250.0L223.7 248.3L222.6 246.5L221.4 244.7L220.2 242.7L218.9 240.5L217.6 238.4L216.5 236.5L215.5 234.9L214.8 233.8Z" fill="#0000d1"/>
<path d="M415.5 355.0L415.3 356.4L415.1 358.3L414.8 360.5L414.5 363.0L414.2 365.5L414.0 368.0L413.7 370.2L413.6 372.0L413.5 373.4L413.5 374.7L413.5 375.7L413.5 376.6L413.6 377.5L413.6 378.3L413.6 379.1L413.7 380.0L413.7 380.9L413.7 381.6L413.7 382.3L413.7 383.0L413.8 383.8L413.9 384.7L414.1 385.8L414.2 387.2L414.3 388.8L414.4 390.8L414.5 393.0L414.7 395.3L415.0 397.7L415.4 400.1L415.8 402.5L416.4 404.9L417.1 407.3L417.9 409.6L418.8 411.9L419.7 414.2L420.6 416.5L421.5 418.7L422.4 420.9L423.2 423.1L423.9 425.2L424.5 427.3L425.2 429.5L425.8 431.6L426.5 433.9L427.2 436.2L428.0 438.6L428.9 441.2L429.9 443.9L431.1 446.6L432.2 449.3L433.4 452.1L434.6 454.9L435.8 457.9L436.9 461.0L438.0 464.3L439.0 467.9L440.0 471.7L441.0 475.6L442.0 479.8L442.9 484.0L443.8 488.4L444.6 492.8L445.3 497.2L446.0 501.8L446.6 506.7L447.1 511.7L447.6 516.8L448.0 521.9L448.4 526.8L448.8 531.3L449.1 535.5L449.3 539.4L449.5 543.1L449.6 546.7L449.6 550.1L449.7 553.2L449.7 555.9L449.7 558.2L449.7 560.0L420.5 560.4L420.5 558.4L420.5 556.0L420.4 553.3L420.4 550.4L420.4 547.4L420.3 544.1L420.1 540.9L419.9 537.4L419.6 533.5L419.3 529.0L418.9 524.3L418.5 519.5L418.0 514.7L417.5 510.0L417.0 505.6L416.4 501.6L415.7 497.7L415.0 493.8L414.2 489.9L413.3 486.1L412.4 482.4L411.5 478.9L410.6 475.5L409.8 472.6L409.0 470.3L408.3 468.2L407.4 466.0L406.4 463.6L405.3 461.0L404.0 458.1L402.6 454.8L401.3 451.4L400.2 448.1L399.2 445.2L398.4 442.5L397.7 440.2L397.1 438.1L396.6 436.3L396.2 434.7L395.8 433.3L395.3 431.9L394.7 430.3L394.0 428.3L393.2 426.0L392.8 423.2L392.7 420.0L392.5 416.5L392.5 412.8L392.7 409.2L393.4 405.7L394.9 402.3L396.5 399.2L398.3 396.3L400.0 393.7L401.6 391.4L403.0 389.5L404.1 387.8L404.9 386.4L405.5 385.2L406.0 384.2L406.5 383.2L407.0 382.3L407.6 381.4L408.3 380.5L408.8 379.6L409.3 378.7L409.6 377.8L410.0 376.8L410.4 375.8L410.9 374.6L411.5 373.3L412.3 371.9L412.5 370.1L412.7 367.8L413.0 365.4L413.3 362.8L413.5 360.4L413.8 358.1L414.1 356.2L414.2 354.8Z" fill="#0000d1"/>
<path d="M70.0 334.3L71.5 334.3L73.5 334.3L76.0 334.2L78.7 334.2L81.5 334.2L84.2 334.2L86.8 334.2L88.9 334.3L90.7 334.3L92.2 334.3L93.6 334.3L95.0 334.4L96.5 334.5L98.1 334.6L99.8 334.8L101.5 335.0L103.4 335.4L105.3 335.7L107.3 336.1L109.3 336.6L111.5 337.1L113.6 337.7L115.8 338.4L117.9 339.1L120.1 339.9L122.1 340.8L124.2 341.7L126.2 342.7L128.2 343.7L130.2 344.7L132.1 345.8L134.1 346.9L136.1 348.0L138.1 349.2L140.0 350.5L142.0 351.7L143.9 353.0L145.9 354.3L147.7 355.6L149.7 356.9L151.6 358.3L153.5 359.7L155.4 361.1L157.3 362.5L159.2 363.9L161.0 365.3L162.8 366.6L164.6 368.0L166.5 369.3L168.4 370.7L170.4 372.1L172.4 373.6L174.4 375.0L176.3 376.3L178.0 377.6L179.5 378.8L180.7 379.7L181.7 380.4L182.5 381.1L183.2 381.7L183.8 382.3L184.4 382.9L185.1 383.6L186.3 384.7L187.8 386.1L189.6 387.8L191.6 389.7L193.8 391.7L196.0 393.8L198.3 395.9L200.5 398.0L202.6 400.0L204.7 401.9L206.7 403.8L208.7 405.8L210.8 407.7L212.9 409.8L215.0 411.8L217.1 414.0L219.2 416.2L221.3 418.4L223.4 420.7L225.5 423.0L227.6 425.3L229.7 427.7L231.8 430.1L233.8 432.6L235.9 435.1L238.0 437.7L240.2 440.4L242.3 443.1L244.5 445.9L246.6 448.6L248.6 451.4L250.6 454.1L252.5 456.7L254.4 459.2L256.1 461.7L257.8 464.2L259.5 466.6L261.1 469.0L262.8 471.5L264.3 474.0L265.9 476.6L267.5 479.3L269.1 482.1L270.7 484.9L272.2 487.7L273.7 490.5L275.2 493.3L276.5 496.0L277.8 498.6L278.9 501.2L280.0 503.6L281.0 506.0L281.9 508.4L282.8 510.7L283.6 513.1L284.3 515.5L284.9 517.8L285.5 520.1L285.9 522.3L286.2 524.5L286.5 526.6L286.7 528.6L286.8 530.7L286.9 532.9L287.1 535.3L287.2 538.2L287.3 541.6L287.4 545.1L287.5 548.8L287.5 552.2L287.5 555.4L287.6 558.0L287.6 559.9L287.6 559.9L287.6 558.0L287.5 555.4L287.5 552.2L287.5 548.8L287.4 545.1L287.3 541.6L287.2 538.2L287.1 535.3L286.9 532.9L286.8 530.7L286.7 528.6L286.5 526.6L286.2 524.5L285.9 522.3L285.5 520.1L284.9 517.8L284.3 515.5L283.6 513.1L282.8 510.7L281.9 508.4L281.0 506.0L280.0 503.6L278.9 501.2L277.8 498.6L276.5 496.0L275.2 493.3L273.7 490.5L272.2 487.7L270.7 484.9L269.1 482.1L267.5 479.3L265.9 476.6L264.3 474.0L262.8 471.5L261.1 469.0L259.5 466.6L257.8 464.2L256.1 461.7L254.4 459.2L252.5 456.7L250.6 454.1L248.6 451.4L246.6 448.6L244.5 445.9L242.3 443.1L240.2 440.4L238.0 437.7L235.9 435.1L233.8 432.6L231.8 430.1L229.7 427.7L227.6 425.3L225.5 423.0L223.4 420.7L221.3 418.4L219.2 416.2L217.1 414.0L215.0 411.8L212.9 409.8L210.8 407.7L208.7 405.8L206.7 403.8L204.7 401.9L202.6 400.0L200.5 398.0L198.3 395.9L196.0 393.8L193.8 391.7L191.6 389.7L189.6 387.8L187.8 386.1L186.3 384.7L185.1 383.6L184.4 382.9L183.8 382.3L183.2 381.7L182.5 381.1L181.7 380.4L180.7 379.7L179.5 378.8L178.0 377.6L176.3 376.3L174.4 375.0L172.4 373.6L170.4 372.1L168.4 370.7L166.5 369.3L164.6 368.0L162.8 366.6L161.0 365.3L159.2 363.9L157.3 362.5L155.4 361.1L153.5 359.7L151.6 358.3L149.7 356.9L147.7 355.6L145.9 354.3L143.9 353.0L142.0 351.7L140.0 350.5L138.1 349.2L136.1 348.0L134.1 346.9L132.1 345.8L130.2 344.7L128.2 343.7L126.2 342.7L124.2 341.7L122.1 340.8L120.1 339.9L117.9 339.1L115.8 338.4L113.6 337.7L111.5 337.1L109.3 336.6L107.3 336.1L105.3 335.7L103.4 335.4L101.5 335.0L99.8 334.8L98.1 334.6L96.5 334.5L95.0 334.4L93.6 334.3L92.2 334.3L90.7 334.3L88.9 334.3L86.8 334.2L84.2 334.2L81.5 334.2L78.7 334.2L76.0 334.2L73.5 334.3L71.5 334.3L70.0 334.3Z" fill="#0000e0"/>
<path d="M69.9 172.8L71.4 172.8L73.3 172.9L75.5 172.9L78.0 172.9L80.6 173.0L83.4 173.0L86.2 173.1L88.9 173.2L91.6 173.3L94.5 173.5L97.4 173.6L100.4 173.7L103.4 173.9L106.4 174.1L109.4 174.3L112.4 174.6L115.3 174.9L118.2 175.3L121.2 175.6L124.1 176.0L127.0 176.5L129.9 177.0L132.8 177.5L135.7 178.1L138.6 178.7L141.6 179.5L144.6 180.3L147.6 181.1L150.6 182.0L153.5 182.9L156.4 183.7L159.2 184.6L161.9 185.3L164.4 186.1L166.9 186.8L169.3 187.5L171.7 188.2L174.1 188.9L176.5 189.7L178.9 190.6L181.4 191.5L183.8 192.4L186.3 193.4L188.8 194.4L191.3 195.5L193.8 196.5L196.4 197.6L198.9 198.6L201.5 199.6L204.1 200.6L206.7 201.6L209.4 202.6L212.0 203.5L214.5 204.4L216.9 205.2L219.2 205.9L221.3 206.4L223.3 206.8L225.2 207.1L226.9 207.4L228.6 207.6L230.1 207.8L231.6 207.9L233.0 208.1L234.3 208.2L235.6 208.3L236.7 208.4L237.8 208.4L238.8 208.5L239.8 208.5L240.8 208.5L241.9 208.5L243.0 208.5L244.1 208.6L245.2 208.6L246.3 208.6L247.4 208.6L248.6 208.6L249.8 208.5L251.0 208.4L252.4 208.4L253.9 208.2L255.5 208.1L257.1 207.9L258.6 207.8L260.0 207.6L261.1 207.5L262.0 207.4L262.1 208.4L261.2 208.8L260.1 209.3L258.7 209.9L257.2 210.5L255.7 211.2L254.1 211.9L252.5 212.5L251.0 213.0L249.7 213.5L248.4 214.0L247.1 214.5L245.9 215.0L244.7 215.4L243.5 215.8L242.3 216.2L241.2 216.6L240.1 217.0L239.0 217.5L237.8 217.9L236.6 218.2L235.3 218.6L234.0 219.0L232.5 219.3L230.9 219.7L229.4 220.1L227.8 220.6L226.0 221.0L224.1 221.4L221.9 221.7L219.4 222.0L216.8 222.2L214.0 222.4L211.1 222.3L208.1 222.1L205.1 221.9L202.0 221.5L199.0 221.2L196.0 220.9L193.1 220.6L190.2 220.3L187.4 219.4L184.6 218.5L181.9 217.6L179.3 216.8L176.9 216.0L174.6 215.3L172.4 214.7L170.3 214.2L168.2 213.7L166.1 213.3L164.0 212.6L161.9 211.9L159.6 211.2L157.3 210.5L154.8 209.7L152.0 208.9L149.2 208.0L146.3 207.1L143.5 206.2L140.7 205.3L138.0 204.4L135.4 203.6L132.9 203.0L130.6 202.3L128.2 201.8L125.7 201.3L123.2 200.8L120.6 200.4L118.0 200.0L115.3 199.6L112.6 199.2L109.9 198.9L107.3 198.6L104.7 198.3L101.9 198.1L99.1 197.9L96.3 197.7L93.4 197.5L90.6 197.4L87.9 197.2L85.4 197.1L82.8 197.0L80.2 196.9L77.6 196.8L75.2 196.7L73.0 196.6L71.0 196.6L69.5 196.5Z" fill="#0000e0"/>
<path d="M215.0 232.1L215.9 232.2L217.0 232.4L218.4 232.6L219.9 232.8L221.4 233.1L223.0 233.3L224.6 233.6L225.9 233.9L227.2 234.2L228.5 234.5L229.7 234.8L230.9 235.1L232.1 235.4L233.3 235.8L234.5 236.2L235.7 236.6L236.9 237.1L238.1 237.7L239.4 238.3L240.7 238.9L241.9 239.6L243.2 240.3L244.5 241.1L245.8 241.8L247.0 242.6L248.2 243.4L249.5 244.3L250.8 245.2L252.0 246.1L253.3 247.0L254.5 248.0L255.7 248.9L257.0 249.8L258.2 250.7L259.3 251.6L260.5 252.6L261.7 253.5L262.9 254.5L264.2 255.6L265.5 256.8L266.9 258.0L268.4 259.3L269.9 260.6L271.4 262.0L273.0 263.5L274.7 265.1L276.4 266.7L278.3 268.4L280.2 270.2L282.3 272.1L284.5 274.1L286.7 276.1L289.0 278.2L291.2 280.3L293.5 282.5L295.8 284.7L298.0 286.9L300.3 289.2L302.7 291.5L305.0 293.9L307.4 296.4L309.8 298.7L312.1 301.1L314.4 303.3L316.7 305.5L319.0 307.7L321.2 309.7L323.4 311.8L325.5 313.8L327.7 315.9L329.9 317.9L332.1 320.0L334.3 322.2L336.5 324.4L338.7 326.5L340.9 328.7L343.1 331.0L345.3 333.2L347.5 335.5L349.7 337.8L352.0 340.1L354.4 342.6L356.8 345.0L359.2 347.5L361.5 350.0L363.7 352.4L365.8 354.8L367.6 357.0L369.4 359.2L371.0 361.3L372.5 363.4L373.9 365.5L375.2 367.5L376.5 369.6L377.7 371.6L378.9 373.6L380.1 375.5L381.3 377.2L382.4 378.9L383.4 380.6L384.4 382.3L385.3 383.9L386.1 385.7L386.8 387.5L387.6 389.5L388.3 391.8L388.9 394.2L389.5 396.6L389.9 398.9L390.4 401.0L390.7 402.7L391.0 404.0L389.0 404.3L388.4 403.1L387.7 401.3L386.8 399.3L385.8 397.2L384.7 394.9L383.4 392.8L382.0 391.0L380.5 389.5L379.1 388.3L377.5 387.3L375.8 386.3L374.0 385.4L372.1 384.4L370.4 383.3L368.4 382.0L366.4 380.5L364.3 379.0L362.3 377.4L360.3 376.0L358.2 374.7L356.1 373.6L354.1 372.5L351.9 371.6L349.6 370.8L347.2 369.9L344.5 368.9L341.5 367.8L338.4 366.5L335.3 365.1L332.2 363.6L329.0 362.0L325.8 360.5L322.9 359.2L320.2 357.8L317.4 356.5L315.2 354.6L313.1 352.5L311.0 350.4L308.9 348.3L306.8 346.2L304.8 344.3L302.8 342.4L300.8 340.4L298.7 338.4L296.5 336.4L294.2 334.2L291.8 331.9L289.4 329.5L286.8 327.0L284.3 324.5L281.9 322.1L279.6 319.6L277.3 317.2L275.2 315.0L273.1 312.8L271.1 310.8L269.2 308.9L267.1 306.9L265.0 304.9L262.9 302.8L260.8 300.8L258.7 298.9L256.6 296.9L254.6 295.0L252.7 293.2L250.9 291.5L249.3 289.9L247.8 288.5L246.4 287.1L245.2 286.0L244.0 284.9L242.9 283.9L241.9 283.0L241.1 282.0L240.4 280.9L239.8 280.0L239.1 279.0L238.4 278.0L237.6 277.0L236.7 275.9L235.8 274.7L234.9 273.5L234.1 272.4L233.3 271.4L232.7 270.5L232.1 269.6L231.6 268.7L231.0 267.9L230.4 267.1L229.9 265.8L229.5 264.5L229.1 263.3L228.8 262.1L228.5 261.0L228.3 259.9L228.2 258.9L228.3 257.8L228.2 256.8L228.0 255.8L227.5 254.4L226.9 252.8L225.9 251.2L224.8 249.6L223.7 247.9L222.7 246.2L221.5 244.4L220.2 242.4L218.9 240.3L217.6 238.2L216.5 236.4L215.5 234.8L214.8 233.7Z" fill="#0000e0"/>
<path d="M415.5 355.0L415.3 356.4L415.1 358.3L414.8 360.5L414.5 363.0L414.2 365.5L414.0 368.0L413.7 370.2L413.6 372.0L413.5 373.4L413.5 374.7L413.5 375.7L413.5 376.6L413.6 377.5L413.6 378.3L413.6 379.1L413.7 380.0L413.7 380.9L413.7 381.6L413.7 382.3L413.7 383.0L413.8 383.8L413.9 384.7L414.1 385.8L414.2 387.2L414.3 388.8L414.4 390.8L414.5 393.0L414.7 395.3L415.0 397.7L415.4 400.1L415.8 402.5L416.4 404.9L417.1 407.3L417.9 409.6L418.8 411.9L419.7 414.2L420.6 416.5L421.5 418.7L422.4 420.9L423.2 423.1L423.9 425.2L424.5 427.3L425.2 429.5L425.8 431.6L426.5 433.9L427.2 436.2L428.0 438.6L428.9 441.2L429.9 443.9L431.1 446.6L432.2 449.3L433.4 452.1L434.6 454.9L435.8 457.9L436.9 461.0L438.0 464.3L439.0 467.9L440.0 471.7L441.0 475.6L442.0 479.8L442.9 484.0L443.8 488.4L444.6 492.8L445.3 497.2L446.0 501.8L446.6 506.7L447.1 511.7L447.6 516.8L448.0 521.9L448.4 526.8L448.8 531.3L449.1 535.5L449.3 539.4L449.5 543.1L449.6 546.7L449.6 550.1L449.7 553.2L449.7 555.9L449.7 558.2L449.7 560.0L422.1 560.4L422.1 558.4L422.1 556.0L422.1 553.3L422.1 550.4L422.0 547.3L421.9 544.1L421.8 540.8L421.6 537.3L421.3 533.4L420.9 528.9L420.5 524.2L420.1 519.4L419.6 514.6L419.1 509.9L418.6 505.4L418.0 501.4L417.3 497.4L416.6 493.5L415.8 489.6L414.9 485.7L414.0 482.0L413.1 478.5L412.2 475.1L411.3 472.2L410.6 469.8L409.8 467.6L408.9 465.4L407.9 463.0L406.8 460.3L405.5 457.5L404.2 454.2L402.8 450.8L401.7 447.6L400.8 444.7L399.9 442.1L399.2 439.7L398.7 437.7L398.2 435.8L397.7 434.2L397.3 432.7L396.8 431.3L396.2 429.6L395.5 427.7L394.7 425.4L394.2 422.6L394.1 419.4L393.9 415.9L393.8 412.3L394.0 408.8L394.7 405.4L396.0 402.1L397.5 399.0L399.2 396.1L400.9 393.5L402.4 391.2L403.7 389.3L404.7 387.7L405.4 386.3L406.0 385.1L406.5 384.1L406.9 383.1L407.4 382.3L408.0 381.4L408.7 380.5L409.1 379.5L409.5 378.7L409.9 377.7L410.2 376.8L410.6 375.7L411.1 374.6L411.7 373.4L412.4 371.9L412.5 370.1L412.8 367.9L413.0 365.4L413.3 362.9L413.6 360.4L413.9 358.1L414.1 356.2L414.3 354.9Z" fill="#0000e0"/>
<path d="M69.9 172.8L71.4 172.8L73.3 172.9L75.5 172.9L78.0 172.9L80.6 173.0L83.4 173.0L86.2 173.1L88.9 173.2L91.6 173.3L94.5 173.5L97.4 173.6L100.4 173.7L103.4 173.9L106.4 174.1L109.4 174.3L112.4 174.6L115.3 174.9L118.2 175.3L121.2 175.6L124.1 176.0L127.0 176.5L129.9 177.0L132.8 177.5L135.7 178.1L138.6 178.7L141.6 179.5L144.6 180.3L147.6 181.1L150.6 182.0L153.5 182.9L156.4 183.7L159.2 184.6L161.9 185.3L164.4 186.1L166.9 186.8L169.3 187.5L171.7 188.2L174.1 188.9L176.5 189.7L178.9 190.6L181.4 191.5L183.8 192.4L186.3 193.4L188.8 194.4L191.3 195.5L193.8 196.5L196.4 197.6L198.9 198.6L201.5 199.6L204.1 200.6L206.7 201.6L209.4 202.6L212.0 203.5L214.5 204.4L216.9 205.2L219.2 205.9L221.3 206.4L223.3 206.8L225.2 207.1L226.9 207.4L228.6 207.6L230.1 207.8L231.6 207.9L233.0 208.1L234.3 208.2L235.6 208.3L236.7 208.4L237.8 208.4L238.8 208.5L239.8 208.5L240.8 208.5L241.9 208.5L243.0 208.5L244.1 208.6L245.2 208.6L246.3 208.6L247.4 208.6L248.6 208.6L249.8 208.5L251.0 208.4L252.4 208.4L253.9 208.2L255.5 208.1L257.1 207.9L258.6 207.8L260.0 207.6L261.1 207.5L262.0 207.4L262.1 208.3L261.2 208.7L260.1 209.1L258.7 209.7L257.2 210.3L255.6 211.0L254.0 211.6L252.5 212.2L251.0 212.6L249.7 213.2L248.4 213.6L247.2 214.1L245.9 214.5L244.7 214.9L243.6 215.3L242.4 215.6L241.2 216.0L240.1 216.4L239.0 216.8L237.9 217.2L236.7 217.5L235.4 217.9L234.1 218.2L232.6 218.5L231.1 218.9L229.6 219.3L228.0 219.7L226.2 220.0L224.3 220.4L222.1 220.7L219.7 220.9L217.1 221.1L214.3 221.2L211.5 221.1L208.5 220.9L205.6 220.5L202.6 220.2L199.6 219.8L196.6 219.4L193.7 219.1L190.8 218.7L188.0 217.8L185.2 216.9L182.6 216.0L180.0 215.2L177.5 214.4L175.2 213.7L173.1 213.0L171.0 212.5L168.8 212.0L166.7 211.5L164.6 210.8L162.4 210.1L160.2 209.4L157.8 208.7L155.3 208.0L152.6 207.2L149.7 206.3L146.8 205.3L144.0 204.4L141.2 203.5L138.5 202.7L135.8 201.9L133.3 201.2L130.9 200.6L128.5 200.0L126.0 199.5L123.5 199.0L120.9 198.6L118.2 198.2L115.5 197.8L112.8 197.5L110.1 197.1L107.5 196.8L104.8 196.6L102.0 196.4L99.2 196.2L96.4 196.0L93.5 195.8L90.7 195.6L88.0 195.5L85.4 195.4L82.8 195.2L80.2 195.1L77.6 195.1L75.2 195.0L73.0 194.9L71.1 194.9L69.6 194.8Z" fill="#0000f0"/>
<path d="M215.0 232.1L215.9 232.2L217.0 232.4L218.4 232.6L219.9 232.8L221.4 233.1L223.0 233.3L224.6 233.6L225.9 233.9L227.2 234.2L228.5 234.5L229.7 234.8L230.9 235.1L232.1 235.4L233.3 235.8L234.5 236.2L235.7 236.6L236.9 237.1L238.1 237.7L239.4 238.3L240.7 238.9L241.9 239.6L243.2 240.3L244.5 241.1L245.8 241.8L247.0 242.6L248.2 243.4L249.5 244.3L250.8 245.2L252.0 246.1L253.3 247.0L254.5 248.0L255.7 248.9L257.0 249.8L258.2 250.7L259.3 251.6L260.5 252.6L261.7 253.5L262.9 254.5L264.2 255.6L265.5 256.8L266.9 258.0L268.4 259.3L269.9 260.6L271.4 262.0L273.0 263.5L274.7 265.1L276.4 266.7L278.3 268.4L280.2 270.2L282.3 272.1L284.5 274.1L286.7 276.1L289.0 278.2L291.2 280.3L293.5 282.5L295.8 284.7L298.0 286.9L300.3 289.2L302.7 291.5L305.0 293.9L307.4 296.4L309.8 298.7L312.1 301.1L314.4 303.3L316.7 305.5L319.0 307.7L321.2 309.7L323.4 311.8L325.5 313.8L327.7 315.9L329.9 317.9L332.1 320.0L334.3 322.2L336.5 324.4L338.7 326.5L340.9 328.7L343.1 331.0L345.3 333.2L347.5 335.5L349.7 337.8L352.0 340.1L354.4 342.6L356.8 345.0L359.2 347.5L361.5 350.0L363.7 352.4L365.8 354.8L367.6 357.0L369.4 359.2L371.0 361.3L372.5 363.4L373.9 365.5L375.2 367.5L376.5 369.6L377.7 371.6L378.9 373.6L380.1 375.5L381.3 377.2L382.4 378.9L383.4 380.6L384.4 382.3L385.3 383.9L386.1 385.7L386.8 387.5L387.6 389.5L388.3 391.8L388.9 394.2L389.5 396.6L389.9 398.9L390.4 401.0L390.7 402.7L391.0 404.0L389.3 404.3L388.7 403.0L388.0 401.3L387.2 399.3L386.2 397.1L385.1 394.9L383.9 392.7L382.5 390.8L381.1 389.3L379.7 388.1L378.3 386.9L376.6 385.9L374.9 384.9L373.1 383.9L371.4 382.7L369.6 381.4L367.6 379.9L365.7 378.2L363.7 376.7L361.8 375.2L359.8 373.8L357.8 372.6L355.7 371.4L353.6 370.4L351.4 369.5L349.1 368.4L346.4 367.2L343.5 366.0L340.5 364.6L337.5 363.1L334.4 361.4L331.3 359.8L328.3 358.2L325.4 356.7L322.7 355.3L320.0 353.9L317.8 351.9L315.7 349.8L313.6 347.7L311.5 345.6L309.4 343.5L307.4 341.5L305.4 339.6L303.4 337.7L301.2 335.7L299.1 333.6L296.8 331.4L294.4 329.2L291.9 326.8L289.5 324.3L287.0 321.9L284.6 319.4L282.2 316.9L280.0 314.6L277.8 312.3L275.7 310.1L273.7 308.1L271.7 306.1L269.6 304.1L267.5 302.1L265.4 300.0L263.3 298.0L261.2 296.0L259.1 294.1L257.1 292.2L255.2 290.4L253.4 288.7L251.8 287.1L250.3 285.7L248.9 284.3L247.6 283.1L246.4 282.0L245.3 281.0L244.3 280.0L243.4 279.0L242.7 278.0L242.0 277.0L241.2 276.1L240.5 275.1L239.6 274.1L238.7 273.0L237.8 271.8L236.9 270.7L236.0 269.6L235.2 268.6L234.5 267.6L233.8 266.7L233.2 265.9L232.6 265.1L231.9 264.2L231.3 263.1L230.8 261.8L230.4 260.7L229.9 259.5L229.6 258.4L229.2 257.4L229.0 256.5L229.0 255.5L228.8 254.5L228.4 253.5L227.9 252.2L227.2 250.8L226.2 249.4L225.1 247.9L224.0 246.4L222.9 244.8L221.6 243.2L220.3 241.4L219.0 239.4L217.7 237.6L216.5 235.9L215.6 234.5L214.8 233.6Z" fill="#0000f0"/>
<path d="M415.5 355.0L415.3 356.4L415.1 358.3L414.8 360.5L414.5 363.0L414.2 365.5L414.0 368.0L413.7 370.2L413.6 372.0L413.5 373.4L413.5 374.7L413.5 375.7L413.5 376.6L413.6 377.5L413.6 378.3L413.6 379.1L413.7 380.0L413.7 380.9L413.7 381.6L413.7 382.3L413.7 383.0L413.8 383.8L413.9 384.7L414.1 385.8L414.2 387.2L414.3 388.8L414.4 390.8L414.5 393.0L414.7 395.3L415.0 397.7L415.4 400.1L415.8 402.5L416.4 404.9L417.1 407.3L417.9 409.6L418.8 411.9L419.7 414.2L420.6 416.5L421.5 418.7L422.4 420.9L423.2 423.1L423.9 425.2L424.5 427.3L425.2 429.5L425.8 431.6L426.5 433.9L427.2 436.2L428.0 438.6L428.9 441.2L429.9 443.9L431.1 446.6L432.2 449.3L433.4 452.1L434.6 454.9L435.8 457.9L436.9 461.0L438.0 464.3L439.0 467.9L440.0 471.7L441.0 475.6L442.0 479.8L442.9 484.0L443.8 488.4L444.6 492.8L445.3 497.2L446.0 501.8L446.6 506.7L447.1 511.7L447.6 516.8L448.0 521.9L448.4 526.8L448.8 531.3L449.1 535.5L449.3 539.4L449.5 543.1L449.6 546.7L449.6 550.1L449.7 553.2L449.7 555.9L449.7 558.2L449.7 560.0L423.8 560.4L423.7 558.4L423.7 556.0L423.7 553.3L423.7 550.4L423.6 547.3L423.5 544.0L423.4 540.7L423.2 537.2L422.9 533.2L422.6 528.8L422.2 524.1L421.7 519.2L421.3 514.4L420.8 509.7L420.2 505.2L419.6 501.1L419.0 497.2L418.2 493.2L417.4 489.2L416.5 485.4L415.6 481.7L414.7 478.1L413.8 474.7L412.9 471.7L412.1 469.3L411.3 467.0L410.4 464.7L409.4 462.3L408.3 459.7L407.0 456.8L405.7 453.6L404.4 450.2L403.3 447.0L402.3 444.2L401.5 441.6L400.8 439.3L400.2 437.2L399.7 435.3L399.3 433.7L398.8 432.2L398.4 430.7L397.7 429.0L397.0 427.0L396.2 424.7L395.7 421.9L395.5 418.8L395.3 415.4L395.2 411.9L395.3 408.4L395.9 405.1L397.2 401.8L398.5 398.8L400.1 395.9L401.7 393.3L403.1 391.1L404.4 389.2L405.3 387.6L405.9 386.2L406.5 385.0L406.9 384.0L407.4 383.1L407.8 382.2L408.4 381.4L409.0 380.4L409.4 379.5L409.8 378.6L410.1 377.7L410.4 376.8L410.8 375.7L411.2 374.6L411.8 373.4L412.5 371.9L412.6 370.1L412.8 367.9L413.1 365.4L413.4 362.9L413.7 360.4L414.0 358.1L414.2 356.2L414.4 354.9Z" fill="#0000f0"/>
<path d="M69.9 172.8L71.4 172.8L73.3 172.9L75.5 172.9L78.0 172.9L80.6 173.0L83.4 173.0L86.2 173.1L88.9 173.2L91.6 173.3L94.5 173.5L97.4 173.6L100.4 173.7L103.4 173.9L106.4 174.1L109.4 174.3L112.4 174.6L115.3 174.9L118.2 175.3L121.2 175.6L124.1 176.0L127.0 176.5L129.9 177.0L132.8 177.5L135.7 178.1L138.6 178.7L141.6 179.5L144.6 180.3L147.6 181.1L150.6 182.0L153.5 182.9L156.4 183.7L159.2 184.6L161.9 185.3L164.4 186.1L166.9 186.8L169.3 187.5L171.7 188.2L174.1 188.9L176.5 189.7L178.9 190.6L181.4 191.5L183.8 192.4L186.3 193.4L188.8 194.4L191.3 195.5L193.8 196.5L196.4 197.6L198.9 198.6L201.5 199.6L204.1 200.6L206.7 201.6L209.4 202.6L212.0 203.5L214.5 204.4L216.9 205.2L219.2 205.9L221.3 206.4L223.3 206.8L225.2 207.1L226.9 207.4L228.6 207.6L230.1 207.8L231.6 207.9L233.0 208.1L234.3 208.2L235.6 208.3L236.7 208.4L237.8 208.4L238.8 208.5L239.8 208.5L240.8 208.5L241.9 208.5L243.0 208.5L244.1 208.6L245.2 208.6L246.3 208.6L247.4 208.6L248.6 208.6L249.8 208.5L251.0 208.4L252.4 208.4L253.9 208.2L255.5 208.1L257.1 207.9L258.6 207.8L260.0 207.6L261.1 207.5L262.0 207.4L262.1 208.2L261.2 208.6L260.1 209.0L258.7 209.5L257.2 210.1L255.6 210.7L254.0 211.3L252.5 211.8L251.0 212.3L249.7 212.8L248.4 213.2L247.2 213.6L246.0 214.0L244.8 214.4L243.6 214.7L242.4 215.1L241.3 215.4L240.2 215.8L239.1 216.2L238.0 216.5L236.8 216.8L235.5 217.1L234.2 217.4L232.7 217.8L231.2 218.1L229.7 218.4L228.1 218.8L226.4 219.1L224.5 219.4L222.3 219.7L220.0 219.9L217.4 220.0L214.7 220.1L211.9 219.9L209.0 219.6L206.1 219.2L203.1 218.8L200.1 218.4L197.2 218.0L194.3 217.6L191.5 217.2L188.7 216.3L185.9 215.3L183.2 214.4L180.7 213.5L178.2 212.7L175.9 212.0L173.7 211.4L171.6 210.8L169.4 210.2L167.3 209.7L165.2 209.0L163.0 208.4L160.7 207.7L158.3 207.0L155.8 206.2L153.1 205.4L150.2 204.5L147.4 203.6L144.5 202.7L141.7 201.8L138.9 201.0L136.3 200.2L133.7 199.5L131.3 198.9L128.8 198.3L126.3 197.8L123.7 197.3L121.1 196.9L118.4 196.5L115.7 196.1L113.0 195.7L110.3 195.4L107.6 195.1L104.9 194.8L102.1 194.6L99.3 194.4L96.4 194.2L93.6 194.1L90.8 193.9L88.1 193.8L85.5 193.6L82.9 193.5L80.2 193.4L77.6 193.4L75.2 193.3L73.0 193.2L71.1 193.2L69.6 193.1Z" fill="#0000ff"/>
<path d="M215.0 232.1L215.9 232.2L217.0 232.4L218.4 232.6L219.9 232.8L221.4 233.1L223.0 233.3L224.6 233.6L225.9 233.9L227.2 234.2L228.5 234.5L229.7 234.8L230.9 235.1L232.1 235.4L233.3 235.8L234.5 236.2L235.7 236.6L236.9 237.1L238.1 237.7L239.4 238.3L240.7 238.9L241.9 239.6L243.2 240.3L244.5 241.1L245.8 241.8L247.0 242.6L248.2 243.4L249.5 244.3L250.8 245.2L252.0 246.1L253.3 247.0L254.5 248.0L255.7 248.9L257.0 249.8L258.2 250.7L259.3 251.6L260.5 252.6L261.7 253.5L262.9 254.5L264.2 255.6L265.5 256.8L266.9 258.0L268.4 259.3L269.9 260.6L271.4 262.0L273.0 263.5L274.7 265.1L276.4 266.7L278.3 268.4L280.2 270.2L282.3 272.1L284.5 274.1L286.7 276.1L289.0 278.2L291.2 280.3L293.5 282.5L295.8 284.7L298.0 286.9L300.3 289.2L302.7 291.5L305.0 293.9L307.4 296.4L309.8 298.7L312.1 301.1L314.4 303.3L316.7 305.5L319.0 307.7L321.2 309.7L323.4 311.8L325.5 313.8L327.7 315.9L329.9 317.9L332.1 320.0L334.3 322.2L336.5 324.4L338.7 326.5L340.9 328.7L343.1 331.0L345.3 333.2L347.5 335.5L349.7 337.8L352.0 340.1L354.4 342.6L356.8 345.0L359.2 347.5L361.5 350.0L363.7 352.4L365.8 354.8L367.6 357.0L369.4 359.2L371.0 361.3L372.5 363.4L373.9 365.5L375.2 367.5L376.5 369.6L377.7 371.6L378.9 373.6L380.1 375.5L381.3 377.2L382.4 378.9L383.4 380.6L384.4 382.3L385.3 383.9L386.1 385.7L386.8 387.5L387.6 389.5L388.3 391.8L388.9 394.2L389.5 396.6L389.9 398.9L390.4 401.0L390.7 402.7L391.0 404.0L389.5 404.2L389.0 403.0L388.3 401.3L387.5 399.2L386.6 397.0L385.6 394.8L384.4 392.6L383.1 390.7L381.8 389.1L380.5 387.8L379.1 386.6L377.6 385.5L375.9 384.4L374.2 383.3L372.6 382.0L370.8 380.7L368.9 379.1L367.1 377.5L365.2 375.8L363.4 374.3L361.5 372.8L359.5 371.5L357.6 370.2L355.5 369.0L353.3 368.0L351.1 366.8L348.5 365.4L345.7 364.0L342.8 362.5L339.9 360.8L336.9 359.1L333.9 357.4L330.9 355.7L328.2 354.1L325.5 352.5L322.9 351.0L320.7 349.0L318.6 346.9L316.5 344.8L314.4 342.7L312.2 340.6L310.2 338.6L308.2 336.6L306.2 334.7L304.0 332.7L301.8 330.6L299.6 328.4L297.2 326.2L294.8 323.8L292.3 321.4L289.9 318.9L287.5 316.5L285.1 314.0L282.8 311.6L280.6 309.3L278.5 307.2L276.5 305.1L274.5 303.1L272.4 301.1L270.3 299.0L268.1 297.0L266.0 295.0L263.9 293.0L261.8 291.0L259.8 289.1L257.9 287.3L256.2 285.6L254.5 284.1L253.0 282.6L251.6 281.3L250.3 280.0L249.1 278.9L248.0 277.9L246.9 276.9L246.0 275.8L245.2 274.8L244.4 273.8L243.6 272.9L242.8 271.9L241.9 270.9L240.9 269.8L240.0 268.7L239.0 267.6L238.1 266.5L237.3 265.5L236.5 264.6L235.7 263.7L235.1 262.8L234.4 262.0L233.6 261.2L232.9 260.0L232.3 258.9L231.7 257.8L231.2 256.7L230.7 255.7L230.3 254.7L229.9 253.8L229.7 252.9L229.4 252.0L228.9 251.1L228.3 249.9L227.5 248.7L226.5 247.4L225.4 246.1L224.2 244.7L223.1 243.2L221.8 241.8L220.5 240.2L219.1 238.5L217.8 236.9L216.6 235.4L215.6 234.2L214.8 233.3Z" fill="#0000ff"/>
<path d="M415.5 355.0L415.3 356.4L415.1 358.3L414.8 360.5L414.5 363.0L414.2 365.5L414.0 368.0L413.7 370.2L413.6 372.0L413.5 373.4L413.5 374.7L413.5 375.7L413.5 376.6L413.6 377.5L413.6 378.3L413.6 379.1L413.7 380.0L413.7 380.9L413.7 381.6L413.7 382.3L413.7 383.0L413.8 383.8L413.9 384.7L414.1 385.8L414.2 387.2L414.3 388.8L414.4 390.8L414.5 393.0L414.7 395.3L415.0 397.7L415.4 400.1L415.8 402.5L416.4 404.9L417.1 407.3L417.9 409.6L418.8 411.9L419.7 414.2L420.6 416.5L421.5 418.7L422.4 420.9L423.2 423.1L423.9 425.2L424.5 427.3L425.2 429.5L425.8 431.6L426.5 433.9L427.2 436.2L428.0 438.6L428.9 441.2L429.9 443.9L431.1 446.6L432.2 449.3L433.4 452.1L434.6 454.9L435.8 457.9L436.9 461.0L438.0 464.3L439.0 467.9L440.0 471.7L441.0 475.6L442.0 479.8L442.9 484.0L443.8 488.4L444.6 492.8L445.3 497.2L446.0 501.8L446.6 506.7L447.1 511.7L447.6 516.8L448.0 521.9L448.4 526.8L448.8 531.3L449.1 535.5L449.3 539.4L449.5 543.1L449.6 546.7L449.6 550.1L449.7 553.2L449.7 555.9L449.7 558.2L449.7 560.0L425.4 560.4L425.4 558.4L425.4 556.0L425.4 553.3L425.3 550.4L425.3 547.2L425.2 544.0L425.0 540.6L424.8 537.1L424.5 533.1L424.2 528.7L423.8 523.9L423.4 519.1L422.9 514.2L422.4 509.5L421.8 505.0L421.2 500.9L420.6 496.9L419.8 492.9L419.0 488.9L418.1 485.0L417.2 481.3L416.3 477.7L415.4 474.2L414.5 471.2L413.7 468.7L412.9 466.5L411.9 464.1L410.9 461.7L409.8 459.0L408.5 456.2L407.2 453.0L405.9 449.7L404.8 446.5L403.9 443.7L403.1 441.1L402.4 438.8L401.8 436.7L401.3 434.8L400.8 433.1L400.4 431.6L399.9 430.0L399.2 428.3L398.5 426.3L397.7 424.0L397.2 421.3L396.9 418.2L396.7 414.9L396.5 411.4L396.6 408.0L397.1 404.8L398.3 401.6L399.6 398.5L401.1 395.7L402.5 393.2L403.9 390.9L405.0 389.0L405.9 387.4L406.5 386.1L407.0 385.0L407.4 384.0L407.8 383.0L408.2 382.2L408.7 381.3L409.3 380.4L409.7 379.5L410.1 378.6L410.4 377.7L410.6 376.8L411.0 375.7L411.4 374.6L411.9 373.4L412.6 371.9L412.7 370.1L412.9 367.9L413.2 365.4L413.5 362.9L413.8 360.4L414.1 358.1L414.3 356.2L414.5 354.9Z" fill="#0000ff"/>
<path d="M69.9 172.8L71.4 172.8L73.3 172.9L75.5 172.9L78.0 172.9L80.6 173.0L83.4 173.0L86.2 173.1L88.9 173.2L91.6 173.3L94.5 173.5L97.4 173.6L100.4 173.7L103.4 173.9L106.4 174.1L109.4 174.3L112.4 174.6L115.3 174.9L118.2 175.3L121.2 175.6L124.1 176.0L127.0 176.5L129.9 177.0L132.8 177.5L135.7 178.1L138.6 178.7L141.6 179.5L144.6 180.3L147.6 181.1L150.6 182.0L153.5 182.9L156.4 183.7L159.2 184.6L161.9 185.3L164.4 186.1L166.9 186.8L169.3 187.5L171.7 188.2L174.1 188.9L176.5 189.7L178.9 190.6L181.4 191.5L183.8 192.4L186.3 193.4L188.8 194.4L191.3 195.5L193.8 196.5L196.4 197.6L198.9 198.6L201.5 199.6L204.1 200.6L206.7 201.6L209.4 202.6L212.0 203.5L214.5 204.4L216.9 205.2L219.2 205.9L221.3 206.4L223.3 206.8L225.2 207.1L226.9 207.4L228.6 207.6L230.1 207.8L231.6 207.9L233.0 208.1L234.3 208.2L235.6 208.3L236.7 208.4L237.8 208.4L238.8 208.5L239.8 208.5L240.8 208.5L241.9 208.5L243.0 208.5L244.1 208.6L245.2 208.6L246.3 208.6L247.4 208.6L248.6 208.6L249.8 208.5L251.0 208.4L252.4 208.4L253.9 208.2L255.5 208.1L257.1 207.9L258.6 207.8L260.0 207.6L261.1 207.5L262.0 207.4L262.1 208.2L261.2 208.5L260.1 209.0L258.7 209.5L257.2 210.0L255.6 210.6L254.0 211.2L252.5 211.7L251.0 212.2L249.7 212.6L248.4 213.1L247.2 213.5L246.0 213.8L244.8 214.2L243.6 214.5L242.5 214.8L241.3 215.2L240.2 215.6L239.1 215.9L238.0 216.2L236.8 216.5L235.6 216.8L234.2 217.1L232.8 217.4L231.3 217.7L229.8 218.1L228.2 218.4L226.5 218.7L224.5 219.0L222.4 219.2L220.1 219.4L217.6 219.6L214.8 219.6L212.1 219.4L209.2 219.1L206.3 218.7L203.3 218.3L200.3 217.8L197.4 217.4L194.5 217.0L191.7 216.5L188.9 215.6L186.2 214.7L183.5 213.8L180.9 212.9L178.5 212.1L176.2 211.3L174.0 210.7L171.8 210.1L169.7 209.5L167.5 209.0L165.4 208.3L163.2 207.6L160.9 207.0L158.5 206.2L156.0 205.5L153.3 204.7L150.4 203.8L147.6 202.9L144.7 202.0L141.9 201.1L139.1 200.3L136.5 199.5L133.9 198.8L131.5 198.2L129.0 197.6L126.4 197.1L123.8 196.6L121.2 196.2L118.5 195.8L115.8 195.4L113.1 195.0L110.4 194.7L107.7 194.4L105.0 194.1L102.2 193.9L99.3 193.7L96.5 193.5L93.6 193.4L90.8 193.2L88.1 193.1L85.5 193.0L82.9 192.8L80.2 192.7L77.7 192.7L75.2 192.6L73.0 192.5L71.1 192.5L69.6 192.4Z" fill="#000fff"/>
<path d="M215.0 232.1L215.9 232.2L217.0 232.4L218.4 232.6L219.9 232.8L221.4 233.1L223.0 233.3L224.6 233.6L225.9 233.9L227.2 234.2L228.5 234.5L229.7 234.8L230.9 235.1L232.1 235.4L233.3 235.8L234.5 236.2L235.7 236.6L236.9 237.1L238.1 237.7L239.4 238.3L240.7 238.9L241.9 239.6L243.2 240.3L244.5 241.1L245.8 241.8L247.0 242.6L248.2 243.4L249.5 244.3L250.8 245.2L252.0 246.1L253.3 247.0L254.5 248.0L255.7 248.9L257.0 249.8L258.2 250.7L259.3 251.6L260.5 252.6L261.7 253.5L262.9 254.5L264.2 255.6L265.5 256.8L266.9 258.0L268.4 259.3L269.9 260.6L271.4 262.0L273.0 263.5L274.7 265.1L276.4 266.7L278.3 268.4L280.2 270.2L282.3 272.1L284.5 274.1L286.7 276.1L289.0 278.2L291.2 280.3L293.5 282.5L295.8 284.7L298.0 286.9L300.3 289.2L302.7 291.5L305.0 293.9L307.4 296.4L309.8 298.7L312.1 301.1L314.4 303.3L316.7 305.5L319.0 307.7L321.2 309.7L323.4 311.8L325.5 313.8L327.7 315.9L329.9 317.9L332.1 320.0L334.3 322.2L336.5 324.4L338.7 326.5L340.9 328.7L343.1 331.0L345.3 333.2L347.5 335.5L349.7 337.8L352.0 340.1L354.4 342.6L356.8 345.0L359.2 347.5L361.5 350.0L363.7 352.4L365.8 354.8L367.6 357.0L369.4 359.2L371.0 361.3L372.5 363.4L373.9 365.5L375.2 367.5L376.5 369.6L377.7 371.6L378.9 373.6L380.1 375.5L381.3 377.2L382.4 378.9L383.4 380.6L384.4 382.3L385.3 383.9L386.1 385.7L386.8 387.5L387.6 389.5L388.3 391.8L388.9 394.2L389.5 396.6L389.9 398.9L390.4 401.0L390.7 402.7L391.0 404.0L389.8 404.2L389.2 402.9L388.6 401.2L387.9 399.2L387.0 397.0L386.1 394.7L385.0 392.5L383.7 390.5L382.5 388.9L381.3 387.5L379.9 386.2L378.5 385.0L377.0 383.9L375.4 382.7L373.8 381.4L372.1 379.9L370.3 378.3L368.6 376.6L366.8 374.9L365.0 373.3L363.2 371.8L361.4 370.3L359.5 368.9L357.5 367.6L355.4 366.4L353.2 365.0L350.7 363.6L348.0 362.0L345.2 360.3L342.3 358.5L339.5 356.7L336.5 354.8L333.7 353.0L331.0 351.3L328.5 349.7L325.9 348.0L323.7 346.0L321.6 343.9L319.5 341.7L317.3 339.6L315.2 337.5L313.2 335.5L311.1 333.5L309.1 331.5L306.9 329.5L304.8 327.5L302.5 325.3L300.2 323.1L297.8 320.7L295.3 318.3L292.9 315.9L290.5 313.4L288.1 311.0L285.9 308.6L283.6 306.3L281.5 304.1L279.5 302.0L277.4 300.0L275.3 297.9L273.1 295.8L271.0 293.8L268.8 291.8L266.7 289.8L264.7 287.8L262.7 285.9L260.8 284.1L259.0 282.5L257.4 280.9L255.9 279.4L254.5 278.1L253.1 276.8L251.9 275.6L250.7 274.6L249.6 273.5L248.6 272.5L247.8 271.5L246.9 270.5L246.1 269.6L245.2 268.6L244.3 267.6L243.3 266.5L242.3 265.4L241.3 264.4L240.3 263.3L239.4 262.3L238.5 261.4L237.7 260.5L237.0 259.6L236.2 258.8L235.3 258.0L234.6 256.9L233.8 255.8L233.1 254.8L232.5 253.8L231.9 252.8L231.3 251.9L230.8 251.1L230.5 250.2L230.0 249.4L229.4 248.6L228.7 247.5L227.9 246.4L226.8 245.3L225.7 244.1L224.5 242.9L223.3 241.6L222.0 240.4L220.6 239.0L219.2 237.6L217.9 236.2L216.7 234.9L215.6 233.9L214.9 233.1Z" fill="#000fff"/>
<path d="M415.5 355.0L415.3 356.4L415.1 358.3L414.8 360.5L414.5 363.0L414.2 365.5L414.0 368.0L413.7 370.2L413.6 372.0L413.5 373.4L413.5 374.7L413.5 375.7L413.5 376.6L413.6 377.5L413.6 378.3L413.6 379.1L413.7 380.0L413.7 380.9L413.7 381.6L413.7 382.3L413.7 383.0L413.8 383.8L413.9 384.7L414.1 385.8L414.2 387.2L414.3 388.8L414.4 390.8L414.5 393.0L414.7 395.3L415.0 397.7L415.4 400.1L415.8 402.5L416.4 404.9L417.1 407.3L417.9 409.6L418.8 411.9L419.7 414.2L420.6 416.5L421.5 418.7L422.4 420.9L423.2 423.1L423.9 425.2L424.5 427.3L425.2 429.5L425.8 431.6L426.5 433.9L427.2 436.2L428.0 438.6L428.9 441.2L429.9 443.9L431.1 446.6L432.2 449.3L433.4 452.1L434.6 454.9L435.8 457.9L436.9 461.0L438.0 464.3L439.0 467.9L440.0 471.7L441.0 475.6L442.0 479.8L442.9 484.0L443.8 488.4L444.6 492.8L445.3 497.2L446.0 501.8L446.6 506.7L447.1 511.7L447.6 516.8L448.0 521.9L448.4 526.8L448.8 531.3L449.1 535.5L449.3 539.4L449.5 543.1L449.6 546.7L449.6 550.1L449.7 553.2L449.7 555.9L449.7 558.2L449.7 560.0L426.8 560.4L426.8 558.4L426.8 556.0L426.8 553.3L426.7 550.4L426.7 547.2L426.6 543.9L426.4 540.5L426.2 537.0L425.9 533.0L425.6 528.5L425.2 523.8L424.8 519.0L424.3 514.1L423.8 509.3L423.2 504.8L422.6 500.7L421.9 496.7L421.2 492.6L420.4 488.6L419.5 484.7L418.6 481.0L417.7 477.3L416.7 473.9L415.8 470.8L415.0 468.3L414.2 466.0L413.2 463.6L412.2 461.1L411.0 458.5L409.8 455.6L408.5 452.5L407.2 449.2L406.1 446.0L405.2 443.2L404.4 440.7L403.7 438.4L403.1 436.3L402.6 434.4L402.2 432.7L401.7 431.1L401.2 429.5L400.5 427.8L399.7 425.8L398.9 423.5L398.4 420.8L398.2 417.7L397.9 414.5L397.7 411.1L397.8 407.7L398.2 404.5L399.3 401.3L400.4 398.4L401.9 395.6L403.2 393.0L404.5 390.8L405.6 388.9L406.4 387.3L407.0 386.0L407.4 384.9L407.8 383.9L408.2 383.0L408.6 382.1L409.0 381.3L409.6 380.4L410.0 379.5L410.3 378.6L410.6 377.7L410.8 376.8L411.1 375.7L411.5 374.6L412.0 373.4L412.6 371.9L412.8 370.1L413.0 367.9L413.3 365.4L413.6 362.9L413.9 360.4L414.1 358.1L414.4 356.3L414.5 354.9Z" fill="#000fff"/>
<path d="M69.9 172.8L71.4 172.8L73.3 172.9L75.5 172.9L78.0 172.9L80.6 173.0L83.4 173.0L86.2 173.1L88.9 173.2L91.6 173.3L94.5 173.5L97.4 173.6L100.4 173.7L103.4 173.9L106.4 174.1L109.4 174.3L112.4 174.6L115.3 174.9L118.2 175.3L121.2 175.6L124.1 176.0L127.0 176.5L129.9 177.0L132.8 177.5L135.7 178.1L138.6 178.7L141.6 179.5L144.6 180.3L147.6 181.1L150.6 182.0L153.5 182.9L156.4 183.7L159.2 184.6L161.9 185.3L164.4 186.1L166.9 186.8L169.3 187.5L171.7 188.2L174.1 188.9L176.5 189.7L178.9 190.6L181.4 191.5L183.8 192.4L186.3 193.4L188.8 194.4L191.3 195.5L193.8 196.5L196.4 197.6L198.9 198.6L201.5 199.6L204.1 200.6L206.7 201.6L209.4 202.6L212.0 203.5L214.5 204.4L216.9 205.2L219.2 205.9L221.3 206.4L223.3 206.8L225.2 207.1L226.9 207.4L228.6 207.6L230.1 207.8L231.6 207.9L233.0 208.1L234.3 208.2L235.6 208.3L236.7 208.4L237.8 208.4L238.8 208.5L239.8 208.5L240.8 208.5L241.9 208.5L243.0 208.5L244.1 208.6L245.2 208.6L246.3 208.6L247.4 208.6L248.6 208.6L249.8 208.5L251.0 208.4L252.4 208.4L253.9 208.2L255.5 208.1L257.1 207.9L258.6 207.8L260.0 207.6L261.1 207.5L262.0 207.4L262.0 208.2L261.2 208.5L260.1 208.9L258.7 209.4L257.2 209.9L255.6 210.5L254.0 211.1L252.5 211.6L251.0 212.0L249.7 212.4L248.4 212.9L247.2 213.2L246.0 213.6L244.8 213.9L243.6 214.2L242.5 214.6L241.3 214.9L240.2 215.2L239.1 215.6L238.0 215.9L236.9 216.2L235.6 216.5L234.3 216.7L232.8 217.0L231.3 217.3L229.9 217.6L228.3 217.9L226.6 218.2L224.7 218.5L222.5 218.7L220.2 218.9L217.7 219.0L215.0 219.0L212.3 218.7L209.4 218.4L206.5 218.0L203.6 217.6L200.6 217.1L197.7 216.6L194.9 216.1L192.0 215.7L189.3 214.8L186.5 213.8L183.9 212.9L181.3 212.0L178.9 211.2L176.5 210.4L174.3 209.8L172.2 209.2L170.0 208.6L167.8 208.1L165.7 207.4L163.5 206.7L161.2 206.0L158.8 205.3L156.3 204.6L153.6 203.8L150.7 202.9L147.8 202.0L145.0 201.0L142.2 200.2L139.4 199.3L136.7 198.5L134.1 197.8L131.7 197.2L129.2 196.7L126.6 196.1L124.0 195.7L121.3 195.2L118.7 194.8L115.9 194.4L113.2 194.1L110.5 193.8L107.8 193.5L105.1 193.2L102.2 193.0L99.4 192.8L96.5 192.6L93.7 192.5L90.8 192.3L88.1 192.2L85.6 192.0L82.9 191.9L80.3 191.8L77.7 191.7L75.2 191.7L73.0 191.6L71.1 191.6L69.6 191.5Z" fill="#0024ff"/>
<path d="M215.0 232.1L215.9 232.2L217.0 232.4L218.4 232.6L219.9 232.8L221.4 233.1L223.0 233.3L224.6 233.6L225.9 233.9L227.2 234.2L228.5 234.5L229.7 234.8L230.9 235.1L232.1 235.4L233.3 235.8L234.5 236.2L235.7 236.6L236.9 237.1L238.1 237.7L239.4 238.3L240.7 238.9L241.9 239.6L243.2 240.3L244.5 241.1L245.8 241.8L247.0 242.6L248.2 243.4L249.5 244.3L250.8 245.2L252.0 246.1L253.3 247.0L254.5 248.0L255.7 248.9L257.0 249.8L258.2 250.7L259.3 251.6L260.5 252.6L261.7 253.5L262.9 254.5L264.2 255.6L265.5 256.8L266.9 258.0L268.4 259.3L269.9 260.6L271.4 262.0L273.0 263.5L274.7 265.1L276.4 266.7L278.3 268.4L280.2 270.2L282.3 272.1L284.5 274.1L286.7 276.1L289.0 278.2L291.2 280.3L293.5 282.5L295.8 284.7L298.0 286.9L300.3 289.2L302.7 291.5L305.0 293.9L307.4 296.4L309.8 298.7L312.1 301.1L314.4 303.3L316.7 305.5L319.0 307.7L321.2 309.7L323.4 311.8L325.5 313.8L327.7 315.9L329.9 317.9L332.1 320.0L334.3 322.2L336.5 324.4L338.7 326.5L340.9 328.7L343.1 331.0L345.3 333.2L347.5 335.5L349.7 337.8L352.0 340.1L354.4 342.6L356.8 345.0L359.2 347.5L361.5 350.0L363.7 352.4L365.8 354.8L367.6 357.0L369.4 359.2L371.0 361.3L372.5 363.4L373.9 365.5L375.2 367.5L376.5 369.6L377.7 371.6L378.9 373.6L380.1 375.5L381.3 377.2L382.4 378.9L383.4 380.6L384.4 382.3L385.3 383.9L386.1 385.7L386.8 387.5L387.6 389.5L388.3 391.8L388.9 394.2L389.5 396.6L389.9 398.9L390.4 401.0L390.7 402.7L391.0 404.0L390.0 404.2L389.5 402.9L388.9 401.2L388.2 399.1L387.4 396.9L386.5 394.6L385.5 392.4L384.3 390.4L383.1 388.7L382.0 387.2L380.7 385.9L379.4 384.6L378.0 383.4L376.5 382.1L375.0 380.7L373.4 379.2L371.7 377.6L370.0 375.9L368.3 374.1L366.6 372.4L364.9 370.8L363.1 369.2L361.3 367.7L359.3 366.3L357.3 364.9L355.2 363.4L352.8 361.8L350.2 360.1L347.4 358.3L344.7 356.3L341.9 354.4L339.1 352.4L336.3 350.5L333.7 348.7L331.3 346.9L328.8 345.2L326.6 343.1L324.5 341.0L322.3 338.8L320.2 336.7L318.0 334.6L316.0 332.5L313.9 330.6L311.8 328.6L309.7 326.5L307.5 324.5L305.3 322.3L302.9 320.1L300.6 317.8L298.1 315.4L295.7 313.0L293.3 310.6L291.0 308.1L288.7 305.7L286.5 303.4L284.3 301.1L282.2 299.0L280.2 297.0L278.0 294.9L275.8 292.8L273.7 290.7L271.5 288.7L269.4 286.7L267.3 284.8L265.4 282.9L263.5 281.1L261.8 279.4L260.1 277.9L258.6 276.4L257.1 275.0L255.8 273.7L254.5 272.6L253.3 271.4L252.2 270.4L251.1 269.3L250.2 268.3L249.3 267.3L248.4 266.4L247.5 265.4L246.5 264.5L245.5 263.4L244.4 262.3L243.4 261.3L242.4 260.3L241.4 259.3L240.5 258.3L239.6 257.4L238.7 256.6L237.9 255.8L237.0 254.9L236.1 253.9L235.3 252.9L234.5 251.9L233.7 251.0L233.0 250.1L232.3 249.2L231.7 248.5L231.2 247.7L230.6 246.9L229.9 246.2L229.1 245.2L228.2 244.3L227.2 243.3L226.0 242.3L224.8 241.2L223.6 240.1L222.2 239.1L220.8 237.9L219.4 236.7L218.0 235.5L216.7 234.4L215.7 233.6L214.9 232.9Z" fill="#0024ff"/>
<path d="M415.5 355.0L415.3 356.4L415.1 358.3L414.8 360.5L414.5 363.0L414.2 365.5L414.0 368.0L413.7 370.2L413.6 372.0L413.5 373.4L413.5 374.7L413.5 375.7L413.5 376.6L413.6 377.5L413.6 378.3L413.6 379.1L413.7 380.0L413.7 380.9L413.7 381.6L413.7 382.3L413.7 383.0L413.8 383.8L413.9 384.7L414.1 385.8L414.2 387.2L414.3 388.8L414.4 390.8L414.5 393.0L414.7 395.3L415.0 397.7L415.4 400.1L415.8 402.5L416.4 404.9L417.1 407.3L417.9 409.6L418.8 411.9L419.7 414.2L420.6 416.5L421.5 418.7L422.4 420.9L423.2 423.1L423.9 425.2L424.5 427.3L425.2 429.5L425.8 431.6L426.5 433.9L427.2 436.2L428.0 438.6L428.9 441.2L429.9 443.9L431.1 446.6L432.2 449.3L433.4 452.1L434.6 454.9L435.8 457.9L436.9 461.0L438.0 464.3L439.0 467.9L440.0 471.7L441.0 475.6L442.0 479.8L442.9 484.0L443.8 488.4L444.6 492.8L445.3 497.2L446.0 501.8L446.6 506.7L447.1 511.7L447.6 516.8L448.0 521.9L448.4 526.8L448.8 531.3L449.1 535.5L449.3 539.4L449.5 543.1L449.6 546.7L449.6 550.1L449.7 553.2L449.7 555.9L449.7 558.2L449.7 560.0L428.7 560.3L428.6 558.4L428.6 556.0L428.6 553.3L428.6 550.3L428.5 547.2L428.4 543.9L428.3 540.4L428.1 536.9L427.8 532.9L427.4 528.4L427.1 523.7L426.6 518.8L426.1 513.9L425.6 509.1L425.1 504.6L424.5 500.4L423.8 496.3L423.0 492.3L422.2 488.3L421.3 484.3L420.4 480.5L419.5 476.9L418.5 473.4L417.6 470.3L416.8 467.7L415.9 465.3L415.0 462.9L413.9 460.4L412.8 457.7L411.5 454.9L410.2 451.8L409.0 448.5L407.9 445.4L407.0 442.7L406.2 440.1L405.5 437.8L404.9 435.7L404.4 433.8L403.9 432.1L403.4 430.4L402.9 428.8L402.2 427.0L401.4 425.0L400.6 422.7L400.1 420.0L399.8 417.0L399.5 413.9L399.2 410.6L399.2 407.3L399.6 404.1L400.6 401.0L401.6 398.1L402.9 395.3L404.2 392.8L405.3 390.7L406.3 388.8L407.1 387.2L407.6 385.9L408.0 384.8L408.3 383.8L408.7 382.9L409.0 382.1L409.5 381.3L410.0 380.3L410.3 379.4L410.6 378.6L410.9 377.7L411.1 376.7L411.4 375.7L411.7 374.6L412.2 373.4L412.7 371.9L412.9 370.1L413.1 367.9L413.4 365.4L413.7 362.9L414.0 360.4L414.2 358.2L414.5 356.3L414.6 354.9Z" fill="#0024ff"/>
<path d="M69.9 172.8L71.4 172.8L73.3 172.9L75.5 172.9L78.0 172.9L80.6 173.0L83.4 173.0L86.2 173.1L88.9 173.2L91.6 173.3L94.5 173.5L97.4 173.6L100.4 173.7L103.4 173.9L106.4 174.1L109.4 174.3L112.4 174.6L115.3 174.9L118.2 175.3L121.2 175.6L124.1 176.0L127.0 176.5L129.9 177.0L132.8 177.5L135.7 178.1L138.6 178.7L141.6 179.5L144.6 180.3L147.6 181.1L150.6 182.0L153.5 182.9L156.4 183.7L159.2 184.6L161.9 185.3L164.4 186.1L166.9 186.8L169.3 187.5L171.7 188.2L174.1 188.9L176.5 189.7L178.9 190.6L181.4 191.5L183.8 192.4L186.3 193.4L188.8 194.4L191.3 195.5L193.8 196.5L196.4 197.6L198.9 198.6L201.5 199.6L204.1 200.6L206.7 201.6L209.4 202.6L212.0 203.5L214.5 204.4L216.9 205.2L219.2 205.9L221.3 206.4L223.3 206.8L225.2 207.1L226.9 207.4L228.6 207.6L230.1 207.8L231.6 207.9L233.0 208.1L234.3 208.2L235.6 208.3L236.7 208.4L237.8 208.4L238.8 208.5L239.8 208.5L240.8 208.5L241.9 208.5L243.0 208.5L244.1 208.6L245.2 208.6L246.3 208.6L247.4 208.6L248.6 208.6L249.8 208.5L251.0 208.4L252.4 208.4L253.9 208.2L255.5 208.1L257.1 207.9L258.6 207.8L260.0 207.6L261.1 207.5L262.0 207.4L262.0 208.1L261.2 208.4L260.1 208.8L258.7 209.3L257.2 209.8L255.6 210.4L254.0 210.9L252.5 211.4L251.0 211.8L249.7 212.2L248.5 212.6L247.2 213.0L246.0 213.3L244.8 213.7L243.7 214.0L242.5 214.3L241.4 214.5L240.3 214.9L239.2 215.2L238.1 215.5L236.9 215.8L235.7 216.1L234.4 216.3L232.9 216.6L231.4 216.9L229.9 217.1L228.4 217.4L226.7 217.7L224.8 217.9L222.7 218.1L220.4 218.3L217.9 218.4L215.2 218.4L212.5 218.1L209.7 217.8L206.8 217.3L203.9 216.8L200.9 216.3L198.0 215.8L195.2 215.3L192.4 214.8L189.6 213.9L186.9 213.0L184.2 212.0L181.7 211.2L179.2 210.3L176.9 209.5L174.7 208.9L172.5 208.2L170.3 207.7L168.1 207.1L166.0 206.4L163.8 205.7L161.5 205.1L159.1 204.3L156.5 203.6L153.8 202.8L151.0 201.9L148.1 201.0L145.3 200.1L142.4 199.2L139.6 198.4L136.9 197.6L134.3 196.9L131.9 196.3L129.3 195.7L126.8 195.2L124.1 194.7L121.5 194.3L118.8 193.9L116.1 193.5L113.3 193.1L110.5 192.8L107.9 192.5L105.1 192.3L102.3 192.1L99.4 191.9L96.6 191.7L93.7 191.5L90.9 191.4L88.2 191.2L85.6 191.1L82.9 191.0L80.3 190.9L77.7 190.8L75.2 190.8L73.0 190.7L71.1 190.7L69.6 190.6Z" fill="#0038ff"/>
<path d="M215.0 232.1L215.9 232.2L217.0 232.4L218.4 232.6L219.9 232.8L221.4 233.1L223.0 233.3L224.6 233.6L225.9 233.9L227.2 234.2L228.5 234.5L229.7 234.8L230.9 235.1L232.1 235.4L233.3 235.8L234.5 236.2L235.7 236.6L236.9 237.1L238.1 237.7L239.4 238.3L240.7 238.9L241.9 239.6L243.2 240.3L244.5 241.1L245.8 241.8L247.0 242.6L248.2 243.4L249.5 244.3L250.8 245.2L252.0 246.1L253.3 247.0L254.5 248.0L255.7 248.9L257.0 249.8L258.2 250.7L259.3 251.6L260.5 252.6L261.7 253.5L262.9 254.5L264.2 255.6L265.5 256.8L266.9 258.0L268.4 259.3L269.9 260.6L271.4 262.0L273.0 263.5L274.7 265.1L276.4 266.7L278.3 268.4L280.2 270.2L282.3 272.1L284.5 274.1L286.7 276.1L289.0 278.2L291.2 280.3L293.5 282.5L295.8 284.7L298.0 286.9L300.3 289.2L302.7 291.5L305.0 293.9L307.4 296.4L309.8 298.7L312.1 301.1L314.4 303.3L316.7 305.5L319.0 307.7L321.2 309.7L323.4 311.8L325.5 313.8L327.7 315.9L329.9 317.9L332.1 320.0L334.3 322.2L336.5 324.4L338.7 326.5L340.9 328.7L343.1 331.0L345.3 333.2L347.5 335.5L349.7 337.8L352.0 340.1L354.4 342.6L356.8 345.0L359.2 347.5L361.5 350.0L363.7 352.4L365.8 354.8L367.6 357.0L369.4 359.2L371.0 361.3L372.5 363.4L373.9 365.5L375.2 367.5L376.5 369.6L377.7 371.6L378.9 373.6L380.1 375.5L381.3 377.2L382.4 378.9L383.4 380.6L384.4 382.3L385.3 383.9L386.1 385.7L386.8 387.5L387.6 389.5L388.3 391.8L388.9 394.2L389.5 396.6L389.9 398.9L390.4 401.0L390.7 402.7L391.0 404.0L390.1 404.1L389.7 402.9L389.1 401.1L388.4 399.1L387.7 396.9L386.8 394.6L385.8 392.3L384.7 390.3L383.5 388.6L382.4 387.1L381.2 385.7L379.9 384.3L378.6 383.1L377.1 381.8L375.7 380.4L374.1 378.8L372.5 377.2L370.8 375.4L369.2 373.6L367.6 371.9L365.9 370.2L364.1 368.6L362.3 367.0L360.5 365.5L358.4 364.1L356.4 362.5L354.0 360.7L351.5 358.9L348.8 357.0L346.1 355.0L343.3 353.0L340.6 351.0L337.9 349.0L335.3 347.2L332.9 345.3L330.5 343.5L328.3 341.4L326.1 339.3L324.0 337.1L321.8 335.0L319.7 332.8L317.6 330.8L315.6 328.8L313.5 326.8L311.3 324.8L309.1 322.7L306.9 320.6L304.6 318.4L302.2 316.1L299.8 313.7L297.4 311.3L295.0 308.9L292.7 306.4L290.4 304.0L288.2 301.7L286.0 299.4L283.9 297.3L281.8 295.2L279.6 293.1L277.4 291.0L275.3 289.0L273.1 286.9L271.0 284.9L268.9 283.0L267.0 281.1L265.1 279.3L263.4 277.7L261.7 276.1L260.2 274.6L258.7 273.2L257.4 271.9L256.1 270.7L254.8 269.6L253.7 268.5L252.6 267.5L251.7 266.5L250.7 265.5L249.8 264.5L248.8 263.6L247.8 262.6L246.8 261.6L245.7 260.5L244.6 259.5L243.6 258.4L242.6 257.5L241.6 256.5L240.7 255.6L239.8 254.8L238.9 254.0L237.9 253.1L237.0 252.2L236.2 251.2L235.3 250.2L234.5 249.3L233.7 248.5L232.9 247.7L232.2 246.9L231.6 246.2L231.0 245.5L230.2 244.7L229.4 243.9L228.4 243.0L227.3 242.1L226.2 241.2L224.9 240.2L223.7 239.2L222.3 238.3L220.9 237.2L219.4 236.1L218.0 235.1L216.8 234.1L215.7 233.4L214.9 232.8Z" fill="#0038ff"/>
<path d="M415.5 355.0L415.3 356.4L415.1 358.3L414.8 360.5L414.5 363.0L414.2 365.5L414.0 368.0L413.7 370.2L413.6 372.0L413.5 373.4L413.5 374.7L413.5 375.7L413.5 376.6L413.6 377.5L413.6 378.3L413.6 379.1L413.7 380.0L413.7 380.9L413.7 381.6L413.7 382.3L413.7 383.0L413.8 383.8L413.9 384.7L414.1 385.8L414.2 387.2L414.3 388.8L414.4 390.8L414.5 393.0L414.7 395.3L415.0 397.7L415.4 400.1L415.8 402.5L416.4 404.9L417.1 407.3L417.9 409.6L418.8 411.9L419.7 414.2L420.6 416.5L421.5 418.7L422.4 420.9L423.2 423.1L423.9 425.2L424.5 427.3L425.2 429.5L425.8 431.6L426.5 433.9L427.2 436.2L428.0 438.6L428.9 441.2L429.9 443.9L431.1 446.6L432.2 449.3L433.4 452.1L434.6 454.9L435.8 457.9L436.9 461.0L438.0 464.3L439.0 467.9L440.0 471.7L441.0 475.6L442.0 479.8L442.9 484.0L443.8 488.4L444.6 492.8L445.3 497.2L446.0 501.8L446.6 506.7L447.1 511.7L447.6 516.8L448.0 521.9L448.4 526.8L448.8 531.3L449.1 535.5L449.3 539.4L449.5 543.1L449.6 546.7L449.6 550.1L449.7 553.2L449.7 555.9L449.7 558.2L449.7 560.0L430.5 560.3L430.5 558.4L430.5 556.0L430.5 553.3L430.5 550.3L430.4 547.1L430.3 543.8L430.2 540.4L429.9 536.8L429.7 532.7L429.3 528.3L428.9 523.5L428.5 518.6L428.0 513.7L427.5 508.9L426.9 504.3L426.3 500.1L425.6 496.0L424.9 491.9L424.0 487.9L423.1 483.9L422.2 480.1L421.3 476.4L420.3 472.9L419.4 469.8L418.5 467.1L417.7 464.7L416.7 462.2L415.6 459.7L414.5 457.0L413.2 454.2L412.0 451.1L410.7 447.9L409.7 444.8L408.8 442.1L408.0 439.6L407.3 437.3L406.7 435.2L406.2 433.3L405.7 431.5L405.2 429.8L404.6 428.1L403.9 426.3L403.1 424.2L402.3 421.9L401.8 419.3L401.4 416.4L401.1 413.3L400.8 410.1L400.7 406.9L401.1 403.8L401.9 400.7L402.8 397.8L404.0 395.1L405.1 392.7L406.2 390.5L407.1 388.6L407.8 387.1L408.2 385.8L408.5 384.7L408.9 383.7L409.2 382.9L409.5 382.0L409.9 381.2L410.3 380.3L410.7 379.4L410.9 378.5L411.2 377.7L411.3 376.7L411.6 375.7L411.9 374.6L412.3 373.4L412.8 371.9L413.0 370.1L413.2 367.9L413.5 365.4L413.7 362.9L414.0 360.4L414.3 358.2L414.6 356.3L414.7 354.9Z" fill="#0038ff"/>
<path d="M69.9 172.8L71.4 172.8L73.3 172.9L75.5 172.9L78.0 172.9L80.6 173.0L83.4 173.0L86.2 173.1L88.9 173.2L91.6 173.3L94.5 173.5L97.4 173.6L100.4 173.7L103.4 173.9L106.4 174.1L109.4 174.3L112.4 174.6L115.3 174.9L118.2 175.3L121.2 175.6L124.1 176.0L127.0 176.5L129.9 177.0L132.8 177.5L135.7 178.1L138.6 178.7L141.6 179.5L144.6 180.3L147.6 181.1L150.6 182.0L153.5 182.9L156.4 183.7L159.2 184.6L161.9 185.3L164.4 186.1L166.9 186.8L169.3 187.5L171.7 188.2L174.1 188.9L176.5 189.7L178.9 190.6L181.4 191.5L183.8 192.4L186.3 193.4L188.8 194.4L191.3 195.5L193.8 196.5L196.4 197.6L198.9 198.6L201.5 199.6L204.1 200.6L206.7 201.6L209.4 202.6L212.0 203.5L214.5 204.4L216.9 205.2L219.2 205.9L221.3 206.4L223.3 206.8L225.2 207.1L226.9 207.4L228.6 207.6L230.1 207.8L231.6 207.9L233.0 208.1L234.3 208.2L235.6 208.3L236.7 208.4L237.8 208.4L238.8 208.5L239.8 208.5L240.8 208.5L241.9 208.5L243.0 208.5L244.1 208.6L245.2 208.6L246.3 208.6L247.4 208.6L248.6 208.6L249.8 208.5L251.0 208.4L252.4 208.4L253.9 208.2L255.5 208.1L257.1 207.9L258.6 207.8L260.0 207.6L261.1 207.5L262.0 207.4L262.0 208.1L261.2 208.4L260.1 208.8L258.7 209.2L257.2 209.7L255.6 210.3L254.0 210.8L252.5 211.2L251.0 211.6L249.7 212.0L248.5 212.4L247.2 212.8L246.0 213.1L244.8 213.4L243.7 213.7L242.5 214.0L241.4 214.2L240.3 214.6L239.2 214.9L238.1 215.1L236.9 215.4L235.7 215.7L234.4 215.9L233.0 216.2L231.5 216.4L230.0 216.7L228.5 216.9L226.8 217.2L224.9 217.4L222.8 217.6L220.5 217.7L218.1 217.8L215.4 217.7L212.7 217.4L209.9 217.1L207.0 216.6L204.1 216.1L201.2 215.6L198.3 215.0L195.5 214.5L192.7 214.0L190.0 213.1L187.3 212.1L184.6 211.2L182.1 210.3L179.6 209.4L177.3 208.7L175.0 208.0L172.8 207.3L170.6 206.7L168.4 206.2L166.3 205.5L164.1 204.8L161.8 204.1L159.3 203.4L156.8 202.7L154.1 201.9L151.3 201.0L148.4 200.1L145.5 199.2L142.7 198.3L139.9 197.5L137.2 196.7L134.6 196.0L132.1 195.3L129.5 194.8L126.9 194.2L124.3 193.8L121.6 193.3L118.9 192.9L116.2 192.6L113.4 192.2L110.6 191.9L107.9 191.6L105.2 191.3L102.4 191.1L99.5 190.9L96.6 190.8L93.7 190.6L90.9 190.4L88.2 190.3L85.6 190.2L83.0 190.1L80.3 190.0L77.7 189.9L75.3 189.8L73.0 189.8L71.1 189.7L69.7 189.7Z" fill="#004dff"/>
<path d="M215.0 232.1L215.9 232.2L217.0 232.4L218.4 232.6L219.9 232.8L221.4 233.1L223.0 233.3L224.6 233.6L225.9 233.9L227.2 234.2L228.5 234.5L229.7 234.8L230.9 235.1L232.1 235.4L233.3 235.8L234.5 236.2L235.7 236.6L236.9 237.1L238.1 237.7L239.4 238.3L240.7 238.9L241.9 239.6L243.2 240.3L244.5 241.1L245.8 241.8L247.0 242.6L248.2 243.4L249.5 244.3L250.8 245.2L252.0 246.1L253.3 247.0L254.5 248.0L255.7 248.9L257.0 249.8L258.2 250.7L259.3 251.6L260.5 252.6L261.7 253.5L262.9 254.5L264.2 255.6L265.5 256.8L266.9 258.0L268.4 259.3L269.9 260.6L271.4 262.0L273.0 263.5L274.7 265.1L276.4 266.7L278.3 268.4L280.2 270.2L282.3 272.1L284.5 274.1L286.7 276.1L289.0 278.2L291.2 280.3L293.5 282.5L295.8 284.7L298.0 286.9L300.3 289.2L302.7 291.5L305.0 293.9L307.4 296.4L309.8 298.7L312.1 301.1L314.4 303.3L316.7 305.5L319.0 307.7L321.2 309.7L323.4 311.8L325.5 313.8L327.7 315.9L329.9 317.9L332.1 320.0L334.3 322.2L336.5 324.4L338.7 326.5L340.9 328.7L343.1 331.0L345.3 333.2L347.5 335.5L349.7 337.8L352.0 340.1L354.4 342.6L356.8 345.0L359.2 347.5L361.5 350.0L363.7 352.4L365.8 354.8L367.6 357.0L369.4 359.2L371.0 361.3L372.5 363.4L373.9 365.5L375.2 367.5L376.5 369.6L377.7 371.6L378.9 373.6L380.1 375.5L381.3 377.2L382.4 378.9L383.4 380.6L384.4 382.3L385.3 383.9L386.1 385.7L386.8 387.5L387.6 389.5L388.3 391.8L388.9 394.2L389.5 396.6L389.9 398.9L390.4 401.0L390.7 402.7L391.0 404.0L390.3 404.1L389.8 402.8L389.3 401.1L388.6 399.1L387.9 396.8L387.0 394.5L386.1 392.3L385.0 390.2L383.9 388.4L382.9 386.9L381.7 385.5L380.5 384.1L379.2 382.8L377.8 381.4L376.3 380.0L374.8 378.4L373.2 376.7L371.7 374.9L370.1 373.1L368.5 371.4L366.9 369.6L365.2 367.9L363.4 366.3L361.6 364.7L359.6 363.2L357.5 361.5L355.2 359.7L352.7 357.8L350.1 355.8L347.5 353.7L344.8 351.6L342.1 349.6L339.4 347.6L336.9 345.6L334.5 343.7L332.2 341.8L330.0 339.7L327.8 337.5L325.7 335.4L323.5 333.2L321.4 331.1L319.3 329.1L317.2 327.1L315.1 325.0L313.0 323.0L310.8 321.0L308.5 318.8L306.2 316.6L303.9 314.3L301.5 312.0L299.1 309.6L296.7 307.1L294.4 304.7L292.1 302.3L289.8 299.9L287.6 297.7L285.5 295.5L283.4 293.4L281.2 291.3L279.1 289.2L276.9 287.2L274.7 285.1L272.6 283.1L270.5 281.2L268.6 279.3L266.7 277.5L265.0 275.9L263.3 274.3L261.8 272.8L260.3 271.4L258.9 270.1L257.6 268.9L256.4 267.8L255.2 266.7L254.1 265.6L253.1 264.6L252.1 263.6L251.2 262.7L250.2 261.7L249.2 260.8L248.1 259.8L247.0 258.7L245.9 257.7L244.8 256.6L243.8 255.7L242.8 254.7L241.8 253.8L240.9 253.0L239.9 252.2L238.9 251.3L238.0 250.4L237.0 249.4L236.1 248.5L235.2 247.7L234.3 246.9L233.5 246.1L232.7 245.4L232.0 244.7L231.3 244.0L230.5 243.3L229.6 242.5L228.6 241.7L227.5 240.9L226.3 240.1L225.1 239.2L223.8 238.3L222.4 237.5L221.0 236.6L219.5 235.6L218.1 234.7L216.8 233.9L215.7 233.2L214.9 232.7Z" fill="#004dff"/>
<path d="M415.5 355.0L415.3 356.4L415.1 358.3L414.8 360.5L414.5 363.0L414.2 365.5L414.0 368.0L413.7 370.2L413.6 372.0L413.5 373.4L413.5 374.7L413.5 375.7L413.5 376.6L413.6 377.5L413.6 378.3L413.6 379.1L413.7 380.0L413.7 380.9L413.7 381.6L413.7 382.3L413.7 383.0L413.8 383.8L413.9 384.7L414.1 385.8L414.2 387.2L414.3 388.8L414.4 390.8L414.5 393.0L414.7 395.3L415.0 397.7L415.4 400.1L415.8 402.5L416.4 404.9L417.1 407.3L417.9 409.6L418.8 411.9L419.7 414.2L420.6 416.5L421.5 418.7L422.4 420.9L423.2 423.1L423.9 425.2L424.5 427.3L425.2 429.5L425.8 431.6L426.5 433.9L427.2 436.2L428.0 438.6L428.9 441.2L429.9 443.9L431.1 446.6L432.2 449.3L433.4 452.1L434.6 454.9L435.8 457.9L436.9 461.0L438.0 464.3L439.0 467.9L440.0 471.7L441.0 475.6L442.0 479.8L442.9 484.0L443.8 488.4L444.6 492.8L445.3 497.2L446.0 501.8L446.6 506.7L447.1 511.7L447.6 516.8L448.0 521.9L448.4 526.8L448.8 531.3L449.1 535.5L449.3 539.4L449.5 543.1L449.6 546.7L449.6 550.1L449.7 553.2L449.7 555.9L449.7 558.2L449.7 560.0L432.4 560.3L432.4 558.4L432.4 556.0L432.4 553.3L432.3 550.3L432.3 547.1L432.2 543.7L432.0 540.3L431.8 536.6L431.5 532.6L431.2 528.1L430.8 523.3L430.3 518.4L429.9 513.5L429.3 508.7L428.8 504.1L428.1 499.8L427.5 495.7L426.7 491.6L425.9 487.5L425.0 483.5L424.0 479.7L423.1 475.9L422.1 472.4L421.2 469.2L420.3 466.5L419.4 464.0L418.4 461.5L417.3 458.9L416.2 456.3L415.0 453.4L413.7 450.4L412.5 447.2L411.4 444.2L410.5 441.5L409.8 439.0L409.1 436.7L408.5 434.6L408.0 432.7L407.4 430.9L406.9 429.1L406.4 427.4L405.7 425.5L404.8 423.5L404.0 421.2L403.5 418.6L403.0 415.7L402.6 412.7L402.3 409.6L402.2 406.4L402.5 403.4L403.2 400.4L404.0 397.6L405.0 394.9L406.1 392.5L407.0 390.3L407.8 388.5L408.4 386.9L408.8 385.6L409.1 384.6L409.4 383.6L409.7 382.8L410.0 382.0L410.3 381.2L410.7 380.3L411.0 379.4L411.3 378.5L411.4 377.6L411.6 376.7L411.8 375.7L412.1 374.6L412.4 373.4L412.9 372.0L413.1 370.1L413.3 367.9L413.5 365.5L413.8 362.9L414.1 360.4L414.4 358.2L414.6 356.3L414.8 354.9Z" fill="#004dff"/>
<path d="M69.9 172.8L71.4 172.8L73.3 172.9L75.5 172.9L78.0 172.9L80.6 173.0L83.4 173.0L86.2 173.1L88.9 173.2L91.6 173.3L94.5 173.5L97.4 173.6L100.4 173.7L103.4 173.9L106.4 174.1L109.4 174.3L112.4 174.6L115.3 174.9L118.2 175.3L121.2 175.6L124.1 176.0L127.0 176.5L129.9 177.0L132.8 177.5L135.7 178.1L138.6 178.7L141.6 179.5L144.6 180.3L147.6 181.1L150.6 182.0L153.5 182.9L156.4 183.7L159.2 184.6L161.9 185.3L164.4 186.1L166.9 186.8L169.3 187.5L171.7 188.2L174.1 188.9L176.5 189.7L178.9 190.6L181.4 191.5L183.8 192.4L186.3 193.4L188.8 194.4L191.3 195.5L193.8 196.5L196.4 197.6L198.9 198.6L201.5 199.6L204.1 200.6L206.7 201.6L209.4 202.6L212.0 203.5L214.5 204.4L216.9 205.2L219.2 205.9L221.3 206.4L223.3 206.8L225.2 207.1L226.9 207.4L228.6 207.6L230.1 207.8L231.6 207.9L233.0 208.1L234.3 208.2L235.6 208.3L236.7 208.4L237.8 208.4L238.8 208.5L239.8 208.5L240.8 208.5L241.9 208.5L243.0 208.5L244.1 208.6L245.2 208.6L246.3 208.6L247.4 208.6L248.6 208.6L249.8 208.5L251.0 208.4L252.4 208.4L253.9 208.2L255.5 208.1L257.1 207.9L258.6 207.8L260.0 207.6L261.1 207.5L262.0 207.4L262.0 208.0L261.2 208.3L260.1 208.7L258.7 209.1L257.2 209.6L255.6 210.1L254.0 210.6L252.4 211.0L251.0 211.4L249.7 211.8L248.5 212.2L247.2 212.5L246.0 212.8L244.9 213.1L243.7 213.3L242.6 213.6L241.4 213.9L240.3 214.2L239.2 214.5L238.1 214.7L237.0 215.0L235.8 215.2L234.5 215.4L233.1 215.7L231.6 215.9L230.1 216.1L228.6 216.4L226.9 216.6L225.0 216.8L222.9 216.9L220.7 217.0L218.3 217.1L215.7 217.0L213.0 216.7L210.2 216.3L207.4 215.8L204.5 215.2L201.6 214.7L198.7 214.1L195.9 213.6L193.1 213.0L190.4 212.1L187.7 211.1L185.0 210.2L182.5 209.3L180.0 208.4L177.7 207.6L175.4 206.9L173.2 206.2L171.0 205.6L168.8 205.1L166.6 204.4L164.4 203.7L162.1 203.0L159.7 202.3L157.1 201.5L154.4 200.8L151.6 199.9L148.7 199.0L145.9 198.1L143.0 197.2L140.2 196.4L137.5 195.6L134.8 194.9L132.3 194.2L129.7 193.7L127.1 193.1L124.5 192.7L121.8 192.2L119.1 191.8L116.3 191.5L113.5 191.1L110.8 190.8L108.0 190.5L105.3 190.2L102.4 190.0L99.5 189.8L96.7 189.7L93.8 189.5L90.9 189.4L88.2 189.2L85.6 189.1L83.0 189.0L80.3 188.9L77.7 188.8L75.3 188.8L73.1 188.7L71.2 188.7L69.7 188.6Z" fill="#0061ff"/>
<path d="M215.0 232.1L215.9 232.2L217.0 232.4L218.4 232.6L219.9 232.8L221.4 233.1L223.0 233.3L224.6 233.6L225.9 233.9L227.2 234.2L228.5 234.5L229.7 234.8L230.9 235.1L232.1 235.4L233.3 235.8L234.5 236.2L235.7 236.6L236.9 237.1L238.1 237.7L239.4 238.3L240.7 238.9L241.9 239.6L243.2 240.3L244.5 241.1L245.8 241.8L247.0 242.6L248.2 243.4L249.5 244.3L250.8 245.2L252.0 246.1L253.3 247.0L254.5 248.0L255.7 248.9L257.0 249.8L258.2 250.7L259.3 251.6L260.5 252.6L261.7 253.5L262.9 254.5L264.2 255.6L265.5 256.8L266.9 258.0L268.4 259.3L269.9 260.6L271.4 262.0L273.0 263.5L274.7 265.1L276.4 266.7L278.3 268.4L280.2 270.2L282.3 272.1L284.5 274.1L286.7 276.1L289.0 278.2L291.2 280.3L293.5 282.5L295.8 284.7L298.0 286.9L300.3 289.2L302.7 291.5L305.0 293.9L307.4 296.4L309.8 298.7L312.1 301.1L314.4 303.3L316.7 305.5L319.0 307.7L321.2 309.7L323.4 311.8L325.5 313.8L327.7 315.9L329.9 317.9L332.1 320.0L334.3 322.2L336.5 324.4L338.7 326.5L340.9 328.7L343.1 331.0L345.3 333.2L347.5 335.5L349.7 337.8L352.0 340.1L354.4 342.6L356.8 345.0L359.2 347.5L361.5 350.0L363.7 352.4L365.8 354.8L367.6 357.0L369.4 359.2L371.0 361.3L372.5 363.4L373.9 365.5L375.2 367.5L376.5 369.6L377.7 371.6L378.9 373.6L380.1 375.5L381.3 377.2L382.4 378.9L383.4 380.6L384.4 382.3L385.3 383.9L386.1 385.7L386.8 387.5L387.6 389.5L388.3 391.8L388.9 394.2L389.5 396.6L389.9 398.9L390.4 401.0L390.7 402.7L391.0 404.0L390.4 404.1L389.9 402.8L389.4 401.1L388.7 399.1L388.0 396.8L387.2 394.5L386.2 392.2L385.2 390.2L384.1 388.4L383.0 386.8L381.9 385.4L380.7 384.0L379.4 382.6L378.0 381.3L376.7 379.8L375.2 378.2L373.6 376.5L372.0 374.7L370.5 372.9L368.9 371.1L367.3 369.4L365.6 367.7L363.9 366.0L362.0 364.4L360.1 362.8L358.0 361.1L355.8 359.2L353.3 357.3L350.7 355.3L348.1 353.2L345.4 351.0L342.7 348.9L340.1 346.9L337.6 345.0L335.3 343.0L332.9 341.1L330.7 338.9L328.6 336.8L326.4 334.6L324.3 332.5L322.1 330.3L320.0 328.3L317.9 326.3L315.8 324.3L313.7 322.2L311.5 320.2L309.3 318.1L307.0 315.9L304.6 313.6L302.2 311.2L299.8 308.8L297.5 306.4L295.1 303.9L292.8 301.5L290.6 299.2L288.4 296.9L286.3 294.8L284.1 292.7L282.0 290.5L279.8 288.4L277.6 286.4L275.4 284.3L273.3 282.3L271.2 280.4L269.3 278.5L267.4 276.7L265.7 275.1L264.0 273.5L262.5 272.0L261.0 270.6L259.6 269.3L258.3 268.1L257.1 266.9L255.9 265.8L254.8 264.8L253.7 263.8L252.8 262.8L251.8 261.8L250.8 260.9L249.8 259.9L248.7 258.9L247.6 257.9L246.5 256.8L245.4 255.8L244.3 254.9L243.3 253.9L242.3 253.0L241.4 252.2L240.4 251.4L239.4 250.5L238.4 249.6L237.4 248.7L236.5 247.8L235.5 246.9L234.6 246.1L233.8 245.4L233.0 244.7L232.2 244.0L231.5 243.3L230.6 242.7L229.7 241.9L228.7 241.2L227.6 240.4L226.4 239.6L225.2 238.8L223.9 237.9L222.5 237.1L221.0 236.3L219.5 235.4L218.1 234.5L216.8 233.7L215.7 233.1L214.9 232.6Z" fill="#0061ff"/>
<path d="M415.5 355.0L415.3 356.4L415.1 358.3L414.8 360.5L414.5 363.0L414.2 365.5L414.0 368.0L413.7 370.2L413.6 372.0L413.5 373.4L413.5 374.7L413.5 375.7L413.5 376.6L413.6 377.5L413.6 378.3L413.6 379.1L413.7 380.0L413.7 380.9L413.7 381.6L413.7 382.3L413.7 383.0L413.8 383.8L413.9 384.7L414.1 385.8L414.2 387.2L414.3 388.8L414.4 390.8L414.5 393.0L414.7 395.3L415.0 397.7L415.4 400.1L415.8 402.5L416.4 404.9L417.1 407.3L417.9 409.6L418.8 411.9L419.7 414.2L420.6 416.5L421.5 418.7L422.4 420.9L423.2 423.1L423.9 425.2L424.5 427.3L425.2 429.5L425.8 431.6L426.5 433.9L427.2 436.2L428.0 438.6L428.9 441.2L429.9 443.9L431.1 446.6L432.2 449.3L433.4 452.1L434.6 454.9L435.8 457.9L436.9 461.0L438.0 464.3L439.0 467.9L440.0 471.7L441.0 475.6L442.0 479.8L442.9 484.0L443.8 488.4L444.6 492.8L445.3 497.2L446.0 501.8L446.6 506.7L447.1 511.7L447.6 516.8L448.0 521.9L448.4 526.8L448.8 531.3L449.1 535.5L449.3 539.4L449.5 543.1L449.6 546.7L449.6 550.1L449.7 553.2L449.7 555.9L449.7 558.2L449.7 560.0L433.7 560.3L433.7 558.3L433.7 555.9L433.7 553.3L433.7 550.3L433.6 547.1L433.5 543.7L433.4 540.2L433.1 536.6L432.8 532.5L432.5 528.0L432.1 523.2L431.7 518.3L431.2 513.4L430.7 508.5L430.1 503.9L429.5 499.6L428.8 495.5L428.0 491.3L427.2 487.2L426.3 483.2L425.3 479.4L424.4 475.6L423.4 472.1L422.5 468.9L421.6 466.1L420.7 463.5L419.7 461.0L418.6 458.4L417.4 455.7L416.2 452.9L414.9 449.9L413.7 446.8L412.7 443.8L411.8 441.1L411.0 438.6L410.3 436.3L409.8 434.2L409.2 432.3L408.7 430.4L408.2 428.7L407.6 426.9L406.9 425.0L406.1 422.9L405.3 420.6L404.7 418.0L404.2 415.2L403.8 412.3L403.4 409.2L403.3 406.1L403.5 403.1L404.1 400.2L404.8 397.4L405.8 394.7L406.7 392.3L407.6 390.2L408.4 388.4L408.9 386.8L409.2 385.6L409.5 384.5L409.8 383.6L410.0 382.8L410.3 382.0L410.6 381.2L411.0 380.3L411.2 379.3L411.5 378.5L411.6 377.6L411.8 376.7L412.0 375.7L412.2 374.6L412.5 373.4L413.0 372.0L413.1 370.1L413.3 367.9L413.6 365.5L413.9 362.9L414.2 360.4L414.5 358.2L414.7 356.3L414.9 354.9Z" fill="#0061ff"/>
<path d="M69.9 172.8L71.4 172.8L73.3 172.9L75.5 172.9L78.0 172.9L80.6 173.0L83.4 173.0L86.2 173.1L88.9 173.2L91.6 173.3L94.5 173.5L97.4 173.6L100.4 173.7L103.4 173.9L106.4 174.1L109.4 174.3L112.4 174.6L115.3 174.9L118.2 175.3L121.2 175.6L124.1 176.0L127.0 176.5L129.9 177.0L132.8 177.5L135.7 178.1L138.6 178.7L141.6 179.5L144.6 180.3L147.6 181.1L150.6 182.0L153.5 182.9L156.4 183.7L159.2 184.6L161.9 185.3L164.4 186.1L166.9 186.8L169.3 187.5L171.7 188.2L174.1 188.9L176.5 189.7L178.9 190.6L181.4 191.5L183.8 192.4L186.3 193.4L188.8 194.4L191.3 195.5L193.8 196.5L196.4 197.6L198.9 198.6L201.5 199.6L204.1 200.6L206.7 201.6L209.4 202.6L212.0 203.5L214.5 204.4L216.9 205.2L219.2 205.9L221.3 206.4L223.3 206.8L225.2 207.1L226.9 207.4L228.6 207.6L230.1 207.8L231.6 207.9L233.0 208.1L234.3 208.2L235.6 208.3L236.7 208.4L237.8 208.4L238.8 208.5L239.8 208.5L240.8 208.5L241.9 208.5L243.0 208.5L244.1 208.6L245.2 208.6L246.3 208.6L247.4 208.6L248.6 208.6L249.8 208.5L251.0 208.4L252.4 208.4L253.9 208.2L255.5 208.1L257.1 207.9L258.6 207.8L260.0 207.6L261.1 207.5L262.0 207.4L262.0 208.0L261.2 208.2L260.0 208.6L258.7 209.0L257.2 209.4L255.6 209.9L254.0 210.4L252.4 210.8L251.0 211.1L249.7 211.5L248.5 211.8L247.3 212.1L246.1 212.4L244.9 212.7L243.7 212.9L242.6 213.2L241.5 213.4L240.4 213.7L239.3 213.9L238.2 214.2L237.1 214.4L235.9 214.6L234.6 214.8L233.2 215.0L231.7 215.3L230.2 215.5L228.7 215.7L227.0 215.9L225.2 216.0L223.1 216.1L220.9 216.2L218.5 216.2L216.0 216.1L213.3 215.7L210.6 215.3L207.7 214.8L204.9 214.2L202.0 213.6L199.2 213.0L196.4 212.4L193.6 211.8L190.9 210.8L188.2 209.9L185.6 208.9L183.0 208.0L180.6 207.1L178.2 206.3L175.9 205.6L173.7 204.9L171.5 204.3L169.3 203.7L167.1 203.0L164.8 202.3L162.5 201.6L160.1 200.9L157.5 200.2L154.8 199.4L152.0 198.5L149.1 197.6L146.3 196.7L143.4 195.8L140.6 195.0L137.8 194.2L135.2 193.5L132.6 192.9L130.0 192.3L127.3 191.8L124.7 191.3L122.0 190.9L119.2 190.5L116.5 190.1L113.7 189.7L110.9 189.4L108.2 189.1L105.4 188.9L102.5 188.7L99.6 188.5L96.7 188.3L93.8 188.1L91.0 188.0L88.3 187.9L85.7 187.7L83.0 187.6L80.3 187.6L77.7 187.5L75.3 187.4L73.1 187.4L71.2 187.3L69.7 187.3Z" fill="#007aff"/>
<path d="M215.0 232.1L215.9 232.2L217.0 232.4L218.4 232.6L219.9 232.8L221.4 233.1L223.0 233.3L224.6 233.6L225.9 233.9L227.2 234.2L228.5 234.5L229.7 234.8L230.9 235.1L232.1 235.4L233.3 235.8L234.5 236.2L235.7 236.6L236.9 237.1L238.1 237.7L239.4 238.3L240.7 238.9L241.9 239.6L243.2 240.3L244.5 241.1L245.8 241.8L247.0 242.6L248.2 243.4L249.5 244.3L250.8 245.2L252.0 246.1L253.3 247.0L254.5 248.0L255.7 248.9L257.0 249.8L258.2 250.7L259.3 251.6L260.5 252.6L261.7 253.5L262.9 254.5L264.2 255.6L265.5 256.8L266.9 258.0L268.4 259.3L269.9 260.6L271.4 262.0L273.0 263.5L274.7 265.1L276.4 266.7L278.3 268.4L280.2 270.2L282.3 272.1L284.5 274.1L286.7 276.1L289.0 278.2L291.2 280.3L293.5 282.5L295.8 284.7L298.0 286.9L300.3 289.2L302.7 291.5L305.0 293.9L307.4 296.4L309.8 298.7L312.1 301.1L314.4 303.3L316.7 305.5L319.0 307.7L321.2 309.7L323.4 311.8L325.5 313.8L327.7 315.9L329.9 317.9L332.1 320.0L334.3 322.2L336.5 324.4L338.7 326.5L340.9 328.7L343.1 331.0L345.3 333.2L347.5 335.5L349.7 337.8L352.0 340.1L354.4 342.6L356.8 345.0L359.2 347.5L361.5 350.0L363.7 352.4L365.8 354.8L367.6 357.0L369.4 359.2L371.0 361.3L372.5 363.4L373.9 365.5L375.2 367.5L376.5 369.6L377.7 371.6L378.9 373.6L380.1 375.5L381.3 377.2L382.4 378.9L383.4 380.6L384.4 382.3L385.3 383.9L386.1 385.7L386.8 387.5L387.6 389.5L388.3 391.8L388.9 394.2L389.5 396.6L389.9 398.9L390.4 401.0L390.7 402.7L391.0 404.0L390.4 404.1L390.0 402.8L389.5 401.1L388.9 399.0L388.1 396.8L387.3 394.5L386.4 392.2L385.4 390.1L384.3 388.3L383.3 386.7L382.2 385.3L381.0 383.8L379.7 382.5L378.4 381.1L377.0 379.6L375.6 378.0L374.0 376.3L372.5 374.5L371.0 372.6L369.4 370.8L367.8 369.0L366.2 367.3L364.5 365.6L362.7 363.9L360.7 362.3L358.7 360.5L356.5 358.6L354.0 356.6L351.5 354.6L348.9 352.4L346.2 350.3L343.6 348.1L341.0 346.1L338.5 344.1L336.2 342.1L333.8 340.1L331.7 338.0L329.5 335.8L327.4 333.7L325.2 331.5L323.0 329.4L320.9 327.3L318.8 325.3L316.7 323.3L314.6 321.3L312.4 319.2L310.2 317.1L307.9 314.9L305.6 312.6L303.2 310.3L300.8 307.9L298.4 305.4L296.1 303.0L293.8 300.6L291.5 298.2L289.3 296.0L287.2 293.8L285.0 291.7L282.9 289.6L280.7 287.5L278.5 285.4L276.3 283.3L274.2 281.3L272.1 279.4L270.2 277.5L268.3 275.8L266.6 274.1L264.9 272.5L263.4 271.0L261.9 269.6L260.5 268.3L259.2 267.1L257.9 265.9L256.7 264.8L255.6 263.7L254.5 262.7L253.5 261.7L252.6 260.8L251.5 259.9L250.5 258.9L249.4 257.9L248.3 256.9L247.2 255.8L246.1 254.8L245.0 253.9L244.0 252.9L242.9 252.0L241.9 251.2L240.9 250.4L239.9 249.5L238.9 248.6L237.9 247.7L236.9 246.9L235.9 246.0L235.0 245.2L234.1 244.5L233.2 243.9L232.5 243.2L231.7 242.5L230.8 241.9L229.8 241.2L228.8 240.5L227.7 239.8L226.5 239.0L225.3 238.2L224.0 237.4L222.6 236.7L221.1 235.9L219.6 235.1L218.1 234.3L216.8 233.6L215.8 233.0L214.9 232.6Z" fill="#007aff"/>
<path d="M415.5 355.0L415.3 356.4L415.1 358.3L414.8 360.5L414.5 363.0L414.2 365.5L414.0 368.0L413.7 370.2L413.6 372.0L413.5 373.4L413.5 374.7L413.5 375.7L413.5 376.6L413.6 377.5L413.6 378.3L413.6 379.1L413.7 380.0L413.7 380.9L413.7 381.6L413.7 382.3L413.7 383.0L413.8 383.8L413.9 384.7L414.1 385.8L414.2 387.2L414.3 388.8L414.4 390.8L414.5 393.0L414.7 395.3L415.0 397.7L415.4 400.1L415.8 402.5L416.4 404.9L417.1 407.3L417.9 409.6L418.8 411.9L419.7 414.2L420.6 416.5L421.5 418.7L422.4 420.9L423.2 423.1L423.9 425.2L424.5 427.3L425.2 429.5L425.8 431.6L426.5 433.9L427.2 436.2L428.0 438.6L428.9 441.2L429.9 443.9L431.1 446.6L432.2 449.3L433.4 452.1L434.6 454.9L435.8 457.9L436.9 461.0L438.0 464.3L439.0 467.9L440.0 471.7L441.0 475.6L442.0 479.8L442.9 484.0L443.8 488.4L444.6 492.8L445.3 497.2L446.0 501.8L446.6 506.7L447.1 511.7L447.6 516.8L448.0 521.9L448.4 526.8L448.8 531.3L449.1 535.5L449.3 539.4L449.5 543.1L449.6 546.7L449.6 550.1L449.7 553.2L449.7 555.9L449.7 558.2L449.7 560.0L435.4 560.2L435.4 558.3L435.4 555.9L435.4 553.2L435.3 550.3L435.3 547.0L435.2 543.6L435.0 540.1L434.8 536.4L434.5 532.4L434.2 527.9L433.8 523.1L433.3 518.2L432.8 513.2L432.3 508.3L431.7 503.7L431.1 499.4L430.4 495.2L429.6 491.0L428.8 486.9L427.9 482.9L427.0 479.0L426.0 475.2L425.0 471.6L424.1 468.4L423.2 465.6L422.2 463.0L421.2 460.4L420.1 457.8L418.9 455.1L417.7 452.3L416.5 449.3L415.3 446.2L414.3 443.3L413.4 440.6L412.6 438.1L411.9 435.9L411.3 433.7L410.8 431.8L410.3 429.9L409.7 428.1L409.1 426.3L408.4 424.4L407.6 422.3L406.8 420.0L406.1 417.4L405.7 414.6L405.2 411.7L404.8 408.7L404.6 405.8L404.8 402.8L405.3 399.9L405.9 397.2L406.7 394.6L407.6 392.2L408.4 390.0L409.0 388.2L409.5 386.7L409.8 385.5L410.0 384.4L410.2 383.5L410.5 382.7L410.7 381.9L411.0 381.1L411.3 380.2L411.5 379.3L411.8 378.5L411.9 377.6L412.0 376.7L412.2 375.7L412.4 374.6L412.7 373.4L413.1 372.0L413.2 370.1L413.4 367.9L413.7 365.5L414.0 362.9L414.3 360.5L414.6 358.2L414.8 356.3L415.0 354.9Z" fill="#007aff"/>
<path d="M69.9 172.8L71.4 172.8L73.3 172.9L75.5 172.9L78.0 172.9L80.6 173.0L83.4 173.0L86.2 173.1L88.9 173.2L91.6 173.3L94.5 173.5L97.4 173.6L100.4 173.7L103.4 173.9L106.4 174.1L109.4 174.3L112.4 174.6L115.3 174.9L118.2 175.3L121.2 175.6L124.1 176.0L127.0 176.5L129.9 177.0L132.8 177.5L135.7 178.1L138.6 178.7L141.6 179.5L144.6 180.3L147.6 181.1L150.6 182.0L153.5 182.9L156.4 183.7L159.2 184.6L161.9 185.3L164.4 186.1L166.9 186.8L169.3 187.5L171.7 188.2L174.1 188.9L176.5 189.7L178.9 190.6L181.4 191.5L183.8 192.4L186.3 193.4L188.8 194.4L191.3 195.5L193.8 196.5L196.4 197.6L198.9 198.6L201.5 199.6L204.1 200.6L206.7 201.6L209.4 202.6L212.0 203.5L214.5 204.4L216.9 205.2L219.2 205.9L221.3 206.4L223.3 206.8L225.2 207.1L226.9 207.4L228.6 207.6L230.1 207.8L231.6 207.9L233.0 208.1L234.3 208.2L235.6 208.3L236.7 208.4L237.8 208.4L238.8 208.5L239.8 208.5L240.8 208.5L241.9 208.5L243.0 208.5L244.1 208.6L245.2 208.6L246.3 208.6L247.4 208.6L248.6 208.6L249.8 208.5L251.0 208.4L252.4 208.4L253.9 208.2L255.5 208.1L257.1 207.9L258.6 207.8L260.0 207.6L261.1 207.5L262.0 207.4L262.0 207.9L261.2 208.1L260.0 208.5L258.7 208.9L257.2 209.3L255.6 209.7L254.0 210.2L252.4 210.6L251.0 210.9L249.7 211.2L248.5 211.5L247.3 211.8L246.1 212.1L244.9 212.3L243.8 212.5L242.6 212.7L241.5 212.9L240.4 213.2L239.3 213.4L238.3 213.7L237.1 213.9L235.9 214.1L234.7 214.2L233.3 214.4L231.8 214.6L230.4 214.8L228.8 215.0L227.2 215.1L225.3 215.2L223.3 215.3L221.1 215.4L218.8 215.3L216.3 215.2L213.6 214.8L210.9 214.3L208.1 213.7L205.3 213.1L202.4 212.4L199.6 211.8L196.8 211.2L194.1 210.5L191.4 209.6L188.7 208.6L186.1 207.7L183.6 206.7L181.1 205.8L178.7 205.0L176.4 204.2L174.2 203.5L172.0 202.9L169.7 202.3L167.5 201.6L165.2 200.9L162.9 200.2L160.5 199.5L157.9 198.8L155.2 198.0L152.4 197.1L149.5 196.2L146.7 195.3L143.8 194.4L141.0 193.6L138.2 192.8L135.5 192.1L132.9 191.5L130.3 190.9L127.6 190.4L124.9 189.9L122.2 189.5L119.4 189.1L116.6 188.7L113.8 188.4L111.0 188.0L108.3 187.7L105.5 187.5L102.6 187.3L99.7 187.1L96.8 186.9L93.9 186.8L91.1 186.6L88.4 186.5L85.7 186.4L83.1 186.3L80.4 186.2L77.8 186.1L75.3 186.1L73.1 186.0L71.2 186.0L69.7 185.9Z" fill="#0094ff"/>
<path d="M215.0 232.1L215.9 232.2L217.0 232.4L218.4 232.6L219.9 232.8L221.4 233.1L223.0 233.3L224.6 233.6L225.9 233.9L227.2 234.2L228.5 234.5L229.7 234.8L230.9 235.1L232.1 235.4L233.3 235.8L234.5 236.2L235.7 236.6L236.9 237.1L238.1 237.7L239.4 238.3L240.7 238.9L241.9 239.6L243.2 240.3L244.5 241.1L245.8 241.8L247.0 242.6L248.2 243.4L249.5 244.3L250.8 245.2L252.0 246.1L253.3 247.0L254.5 248.0L255.7 248.9L257.0 249.8L258.2 250.7L259.3 251.6L260.5 252.6L261.7 253.5L262.9 254.5L264.2 255.6L265.5 256.8L266.9 258.0L268.4 259.3L269.9 260.6L271.4 262.0L273.0 263.5L274.7 265.1L276.4 266.7L278.3 268.4L280.2 270.2L282.3 272.1L284.5 274.1L286.7 276.1L289.0 278.2L291.2 280.3L293.5 282.5L295.8 284.7L298.0 286.9L300.3 289.2L302.7 291.5L305.0 293.9L307.4 296.4L309.8 298.7L312.1 301.1L314.4 303.3L316.7 305.5L319.0 307.7L321.2 309.7L323.4 311.8L325.5 313.8L327.7 315.9L329.9 317.9L332.1 320.0L334.3 322.2L336.5 324.4L338.7 326.5L340.9 328.7L343.1 331.0L345.3 333.2L347.5 335.5L349.7 337.8L352.0 340.1L354.4 342.6L356.8 345.0L359.2 347.5L361.5 350.0L363.7 352.4L365.8 354.8L367.6 357.0L369.4 359.2L371.0 361.3L372.5 363.4L373.9 365.5L375.2 367.5L376.5 369.6L377.7 371.6L378.9 373.6L380.1 375.5L381.3 377.2L382.4 378.9L383.4 380.6L384.4 382.3L385.3 383.9L386.1 385.7L386.8 387.5L387.6 389.5L388.3 391.8L388.9 394.2L389.5 396.6L389.9 398.9L390.4 401.0L390.7 402.7L391.0 404.0L390.5 404.1L390.1 402.8L389.6 401.1L389.0 399.0L388.3 396.8L387.5 394.4L386.6 392.1L385.5 390.1L384.5 388.3L383.5 386.7L382.5 385.1L381.3 383.7L380.1 382.3L378.8 380.9L377.4 379.4L376.0 377.8L374.5 376.1L373.0 374.2L371.5 372.4L370.0 370.5L368.4 368.7L366.8 366.9L365.1 365.2L363.3 363.5L361.3 361.8L359.4 360.0L357.1 358.0L354.7 356.0L352.2 353.9L349.6 351.7L347.0 349.5L344.4 347.4L341.9 345.2L339.4 343.2L337.1 341.2L334.8 339.2L332.6 337.1L330.5 334.9L328.3 332.7L326.1 330.6L324.0 328.4L321.9 326.3L319.8 324.3L317.6 322.3L315.5 320.3L313.3 318.2L311.1 316.1L308.8 313.9L306.5 311.7L304.1 309.3L301.7 306.9L299.3 304.5L297.0 302.0L294.7 299.6L292.4 297.3L290.2 295.0L288.1 292.8L285.9 290.7L283.8 288.6L281.5 286.5L279.3 284.4L277.2 282.3L275.1 280.3L273.0 278.4L271.0 276.5L269.2 274.8L267.5 273.1L265.8 271.5L264.3 270.0L262.8 268.6L261.4 267.3L260.1 266.1L258.8 264.9L257.5 263.8L256.4 262.7L255.4 261.7L254.3 260.7L253.3 259.8L252.3 258.8L251.2 257.9L250.1 256.9L249.0 255.9L247.9 254.8L246.7 253.8L245.7 252.9L244.6 251.9L243.6 251.0L242.5 250.2L241.5 249.4L240.4 248.5L239.4 247.6L238.4 246.8L237.3 245.9L236.4 245.1L235.4 244.4L234.4 243.6L233.5 243.0L232.7 242.3L231.9 241.7L230.9 241.1L230.0 240.4L228.9 239.8L227.8 239.1L226.6 238.4L225.4 237.7L224.1 236.9L222.6 236.3L221.1 235.5L219.6 234.8L218.2 234.1L216.9 233.4L215.8 232.9L214.9 232.5Z" fill="#0094ff"/>
<path d="M415.5 355.0L415.3 356.4L415.1 358.3L414.8 360.5L414.5 363.0L414.2 365.5L414.0 368.0L413.7 370.2L413.6 372.0L413.5 373.4L413.5 374.7L413.5 375.7L413.5 376.6L413.6 377.5L413.6 378.3L413.6 379.1L413.7 380.0L413.7 380.9L413.7 381.6L413.7 382.3L413.7 383.0L413.8 383.8L413.9 384.7L414.1 385.8L414.2 387.2L414.3 388.8L414.4 390.8L414.5 393.0L414.7 395.3L415.0 397.7L415.4 400.1L415.8 402.5L416.4 404.9L417.1 407.3L417.9 409.6L418.8 411.9L419.7 414.2L420.6 416.5L421.5 418.7L422.4 420.9L423.2 423.1L423.9 425.2L424.5 427.3L425.2 429.5L425.8 431.6L426.5 433.9L427.2 436.2L428.0 438.6L428.9 441.2L429.9 443.9L431.1 446.6L432.2 449.3L433.4 452.1L434.6 454.9L435.8 457.9L436.9 461.0L438.0 464.3L439.0 467.9L440.0 471.7L441.0 475.6L442.0 479.8L442.9 484.0L443.8 488.4L444.6 492.8L445.3 497.2L446.0 501.8L446.6 506.7L447.1 511.7L447.6 516.8L448.0 521.9L448.4 526.8L448.8 531.3L449.1 535.5L449.3 539.4L449.5 543.1L449.6 546.7L449.6 550.1L449.7 553.2L449.7 555.9L449.7 558.2L449.7 560.0L437.1 560.2L437.0 558.3L437.0 555.9L437.0 553.2L437.0 550.2L436.9 547.0L436.8 543.6L436.7 540.0L436.5 536.3L436.2 532.3L435.8 527.7L435.4 523.0L435.0 518.0L434.5 513.0L434.0 508.1L433.4 503.5L432.8 499.1L432.1 494.9L431.3 490.7L430.4 486.6L429.5 482.5L428.6 478.6L427.6 474.8L426.6 471.2L425.7 467.9L424.7 465.0L423.8 462.4L422.7 459.7L421.6 457.1L420.5 454.4L419.3 451.6L418.0 448.7L416.9 445.6L415.9 442.7L415.0 440.1L414.2 437.6L413.5 435.4L412.9 433.2L412.4 431.2L411.9 429.3L411.3 427.5L410.7 425.7L409.9 423.7L409.1 421.6L408.3 419.3L407.6 416.7L407.1 414.0L406.6 411.2L406.2 408.3L406.0 405.4L406.0 402.5L406.4 399.7L406.9 396.9L407.7 394.4L408.4 392.0L409.1 389.9L409.7 388.1L410.1 386.6L410.3 385.3L410.5 384.3L410.7 383.4L410.9 382.6L411.1 381.9L411.4 381.1L411.6 380.2L411.8 379.3L412.0 378.4L412.1 377.6L412.2 376.7L412.4 375.7L412.5 374.6L412.8 373.4L413.1 372.0L413.3 370.1L413.5 367.9L413.8 365.5L414.1 362.9L414.4 360.5L414.6 358.2L414.9 356.3L415.0 354.9Z" fill="#0094ff"/>
<path d="M69.9 172.8L71.4 172.8L73.3 172.9L75.5 172.9L78.0 172.9L80.6 173.0L83.4 173.0L86.2 173.1L88.9 173.2L91.6 173.3L94.5 173.5L97.4 173.6L100.4 173.7L103.4 173.9L106.4 174.1L109.4 174.3L112.4 174.6L115.3 174.9L118.2 175.3L121.2 175.6L124.1 176.0L127.0 176.5L129.9 177.0L132.8 177.5L135.7 178.1L138.6 178.7L141.6 179.5L144.6 180.3L147.6 181.1L150.6 182.0L153.5 182.9L156.4 183.7L159.2 184.6L161.9 185.3L164.4 186.1L166.9 186.8L169.3 187.5L171.7 188.2L174.1 188.9L176.5 189.7L178.9 190.6L181.4 191.5L183.8 192.4L186.3 193.4L188.8 194.4L191.3 195.5L193.8 196.5L196.4 197.6L198.9 198.6L201.5 199.6L204.1 200.6L206.7 201.6L209.4 202.6L212.0 203.5L214.5 204.4L216.9 205.2L219.2 205.9L221.3 206.4L223.3 206.8L225.2 207.1L226.9 207.4L228.6 207.6L230.1 207.8L231.6 207.9L233.0 208.1L234.3 208.2L235.6 208.3L236.7 208.4L237.8 208.4L238.8 208.5L239.8 208.5L240.8 208.5L241.9 208.5L243.0 208.5L244.1 208.6L245.2 208.6L246.3 208.6L247.4 208.6L248.6 208.6L249.8 208.5L251.0 208.4L252.4 208.4L253.9 208.2L255.5 208.1L257.1 207.9L258.6 207.8L260.0 207.6L261.1 207.5L262.0 207.4L262.0 207.8L261.2 208.1L260.0 208.4L258.7 208.7L257.2 209.1L255.6 209.6L254.0 210.0L252.4 210.3L251.0 210.6L249.7 210.9L248.5 211.2L247.3 211.5L246.1 211.7L245.0 211.9L243.8 212.1L242.7 212.3L241.6 212.5L240.4 212.7L239.4 213.0L238.3 213.2L237.2 213.4L236.0 213.5L234.7 213.7L233.4 213.9L231.9 214.0L230.5 214.2L228.9 214.3L227.3 214.4L225.5 214.5L223.5 214.6L221.3 214.6L219.0 214.5L216.5 214.4L213.9 213.9L211.3 213.4L208.5 212.8L205.7 212.1L202.8 211.4L200.0 210.7L197.3 210.1L194.6 209.4L191.9 208.5L189.2 207.5L186.6 206.5L184.1 205.6L181.6 204.6L179.2 203.8L176.9 203.0L174.7 202.3L172.4 201.6L170.1 201.0L167.9 200.3L165.6 199.6L163.3 198.9L160.9 198.2L158.3 197.5L155.6 196.7L152.8 195.9L149.9 195.0L147.0 194.1L144.1 193.2L141.3 192.4L138.5 191.6L135.8 190.9L133.1 190.2L130.5 189.7L127.8 189.1L125.1 188.6L122.3 188.2L119.6 187.8L116.8 187.4L114.0 187.1L111.2 186.8L108.4 186.5L105.6 186.2L102.7 186.0L99.8 185.8L96.8 185.7L93.9 185.5L91.1 185.4L88.4 185.3L85.8 185.1L83.1 185.0L80.4 185.0L77.8 184.9L75.3 184.8L73.1 184.8L71.2 184.8L69.7 184.7Z" fill="#00b2ff"/>
<path d="M215.0 232.1L215.9 232.2L217.0 232.4L218.4 232.6L219.9 232.8L221.4 233.1L223.0 233.3L224.6 233.6L225.9 233.9L227.2 234.2L228.5 234.5L229.7 234.8L230.9 235.1L232.1 235.4L233.3 235.8L234.5 236.2L235.7 236.6L236.9 237.1L238.1 237.7L239.4 238.3L240.7 238.9L241.9 239.6L243.2 240.3L244.5 241.1L245.8 241.8L247.0 242.6L248.2 243.4L249.5 244.3L250.8 245.2L252.0 246.1L253.3 247.0L254.5 248.0L255.7 248.9L257.0 249.8L258.2 250.7L259.3 251.6L260.5 252.6L261.7 253.5L262.9 254.5L264.2 255.6L265.5 256.8L266.9 258.0L268.4 259.3L269.9 260.6L271.4 262.0L273.0 263.5L274.7 265.1L276.4 266.7L278.3 268.4L280.2 270.2L282.3 272.1L284.5 274.1L286.7 276.1L289.0 278.2L291.2 280.3L293.5 282.5L295.8 284.7L298.0 286.9L300.3 289.2L302.7 291.5L305.0 293.9L307.4 296.4L309.8 298.7L312.1 301.1L314.4 303.3L316.7 305.5L319.0 307.7L321.2 309.7L323.4 311.8L325.5 313.8L327.7 315.9L329.9 317.9L332.1 320.0L334.3 322.2L336.5 324.4L338.7 326.5L340.9 328.7L343.1 331.0L345.3 333.2L347.5 335.5L349.7 337.8L352.0 340.1L354.4 342.6L356.8 345.0L359.2 347.5L361.5 350.0L363.7 352.4L365.8 354.8L367.6 357.0L369.4 359.2L371.0 361.3L372.5 363.4L373.9 365.5L375.2 367.5L376.5 369.6L377.7 371.6L378.9 373.6L380.1 375.5L381.3 377.2L382.4 378.9L383.4 380.6L384.4 382.3L385.3 383.9L386.1 385.7L386.8 387.5L387.6 389.5L388.3 391.8L388.9 394.2L389.5 396.6L389.9 398.9L390.4 401.0L390.7 402.7L391.0 404.0L390.6 404.1L390.2 402.8L389.7 401.1L389.1 399.0L388.4 396.8L387.6 394.4L386.7 392.1L385.7 390.0L384.7 388.2L383.7 386.6L382.7 385.0L381.6 383.6L380.4 382.2L379.1 380.7L377.7 379.2L376.3 377.6L374.8 375.9L373.4 374.0L371.9 372.1L370.4 370.3L368.9 368.4L367.3 366.6L365.6 364.9L363.8 363.1L361.9 361.4L359.9 359.5L357.7 357.5L355.3 355.5L352.8 353.3L350.3 351.1L347.7 348.9L345.1 346.7L342.6 344.5L340.2 342.5L337.9 340.4L335.6 338.4L333.4 336.2L331.3 334.1L329.1 331.9L326.9 329.7L324.8 327.6L322.6 325.5L320.5 323.5L318.4 321.5L316.3 319.4L314.1 317.4L311.9 315.3L309.6 313.1L307.3 310.8L304.9 308.5L302.5 306.1L300.1 303.7L297.8 301.2L295.5 298.8L293.2 296.5L291.0 294.2L288.9 292.0L286.7 289.9L284.5 287.7L282.3 285.6L280.1 283.5L277.9 281.5L275.8 279.5L273.8 277.5L271.8 275.7L270.0 273.9L268.2 272.2L266.6 270.7L265.0 269.2L263.6 267.8L262.1 266.4L260.8 265.2L259.5 264.0L258.3 262.9L257.1 261.8L256.0 260.8L255.0 259.8L254.0 258.9L252.9 257.9L251.9 257.0L250.7 256.0L249.6 255.0L248.5 254.0L247.3 253.0L246.2 252.0L245.1 251.1L244.1 250.2L243.0 249.3L242.0 248.5L240.9 247.7L239.8 246.8L238.8 245.9L237.7 245.1L236.7 244.3L235.7 243.6L234.7 242.9L233.8 242.3L232.9 241.6L232.0 241.0L231.1 240.4L230.1 239.8L229.0 239.2L227.9 238.5L226.7 237.9L225.4 237.2L224.1 236.5L222.7 235.9L221.2 235.2L219.6 234.5L218.2 233.9L216.9 233.3L215.8 232.8L215.0 232.5Z" fill="#00b2ff"/>
<path d="M415.5 355.0L415.3 356.4L415.1 358.3L414.8 360.5L414.5 363.0L414.2 365.5L414.0 368.0L413.7 370.2L413.6 372.0L413.5 373.4L413.5 374.7L413.5 375.7L413.5 376.6L413.6 377.5L413.6 378.3L413.6 379.1L413.7 380.0L413.7 380.9L413.7 381.6L413.7 382.3L413.7 383.0L413.8 383.8L413.9 384.7L414.1 385.8L414.2 387.2L414.3 388.8L414.4 390.8L414.5 393.0L414.7 395.3L415.0 397.7L415.4 400.1L415.8 402.5L416.4 404.9L417.1 407.3L417.9 409.6L418.8 411.9L419.7 414.2L420.6 416.5L421.5 418.7L422.4 420.9L423.2 423.1L423.9 425.2L424.5 427.3L425.2 429.5L425.8 431.6L426.5 433.9L427.2 436.2L428.0 438.6L428.9 441.2L429.9 443.9L431.1 446.6L432.2 449.3L433.4 452.1L434.6 454.9L435.8 457.9L436.9 461.0L438.0 464.3L439.0 467.9L440.0 471.7L441.0 475.6L442.0 479.8L442.9 484.0L443.8 488.4L444.6 492.8L445.3 497.2L446.0 501.8L446.6 506.7L447.1 511.7L447.6 516.8L448.0 521.9L448.4 526.8L448.8 531.3L449.1 535.5L449.3 539.4L449.5 543.1L449.6 546.7L449.6 550.1L449.7 553.2L449.7 555.9L449.7 558.2L449.7 560.0L438.3 560.2L438.2 558.3L438.2 555.9L438.2 553.2L438.2 550.2L438.1 547.0L438.0 543.5L437.9 540.0L437.7 536.3L437.4 532.2L437.0 527.7L436.6 522.9L436.2 517.9L435.7 512.9L435.2 508.0L434.6 503.3L434.0 498.9L433.3 494.7L432.5 490.5L431.6 486.3L430.7 482.3L429.7 478.3L428.8 474.5L427.8 470.9L426.8 467.6L425.9 464.7L424.9 461.9L423.9 459.3L422.7 456.6L421.6 453.9L420.4 451.1L419.2 448.2L418.0 445.2L417.0 442.4L416.1 439.7L415.4 437.3L414.7 435.0L414.1 432.9L413.6 430.9L413.0 429.0L412.4 427.1L411.8 425.2L411.1 423.2L410.2 421.1L409.4 418.8L408.7 416.3L408.2 413.6L407.6 410.8L407.2 408.0L406.9 405.1L407.0 402.3L407.3 399.5L407.7 396.8L408.4 394.2L409.0 391.9L409.7 389.8L410.2 388.0L410.6 386.5L410.7 385.3L410.9 384.3L411.1 383.4L411.2 382.6L411.4 381.8L411.6 381.1L411.9 380.2L412.1 379.3L412.2 378.4L412.3 377.6L412.4 376.7L412.5 375.7L412.7 374.6L412.9 373.4L413.2 372.0L413.3 370.2L413.6 367.9L413.8 365.5L414.1 363.0L414.4 360.5L414.7 358.2L414.9 356.3L415.1 355.0Z" fill="#00b2ff"/>
<path d="M69.9 172.8L71.4 172.8L73.3 172.9L75.5 172.9L78.0 172.9L80.6 173.0L83.4 173.0L86.2 173.1L88.9 173.2L91.6 173.3L94.5 173.5L97.4 173.6L100.4 173.7L103.4 173.9L106.4 174.1L109.4 174.3L112.4 174.6L115.3 174.9L118.2 175.3L121.2 175.6L124.1 176.0L127.0 176.5L129.9 177.0L132.8 177.5L135.7 178.1L138.6 178.7L141.6 179.5L144.6 180.3L147.6 181.1L150.6 182.0L153.5 182.9L156.4 183.7L159.2 184.6L161.9 185.3L164.4 186.1L166.9 186.8L169.3 187.5L171.7 188.2L174.1 188.9L176.5 189.7L178.9 190.6L181.4 191.5L183.8 192.4L186.3 193.4L188.8 194.4L191.3 195.5L193.8 196.5L196.4 197.6L198.9 198.6L201.5 199.6L204.1 200.6L206.7 201.6L209.4 202.6L212.0 203.5L214.5 204.4L216.9 205.2L219.2 205.9L221.3 206.4L223.3 206.8L225.2 207.1L226.9 207.4L228.6 207.6L230.1 207.8L231.6 207.9L233.0 208.1L234.3 208.2L235.6 208.3L236.7 208.4L237.8 208.4L238.8 208.5L239.8 208.5L240.8 208.5L241.9 208.5L243.0 208.5L244.1 208.6L245.2 208.6L246.3 208.6L247.4 208.6L248.6 208.6L249.8 208.5L251.0 208.4L252.4 208.4L253.9 208.2L255.5 208.1L257.1 207.9L258.6 207.8L260.0 207.6L261.1 207.5L262.0 207.4L262.0 207.8L261.2 208.0L260.0 208.3L258.7 208.6L257.1 209.0L255.6 209.4L254.0 209.8L252.4 210.1L251.0 210.4L249.7 210.7L248.5 211.0L247.3 211.2L246.1 211.4L245.0 211.6L243.8 211.8L242.7 211.9L241.6 212.1L240.5 212.3L239.4 212.5L238.4 212.7L237.2 212.9L236.1 213.0L234.8 213.2L233.5 213.3L232.0 213.5L230.6 213.6L229.1 213.7L227.4 213.8L225.6 213.9L223.6 213.9L221.5 213.9L219.2 213.8L216.8 213.6L214.2 213.1L211.6 212.6L208.8 211.9L206.0 211.2L203.2 210.5L200.4 209.8L197.7 209.0L195.0 208.3L192.3 207.4L189.7 206.4L187.1 205.4L184.5 204.5L182.1 203.5L179.7 202.7L177.4 201.9L175.1 201.1L172.8 200.5L170.5 199.8L168.3 199.1L166.0 198.4L163.7 197.7L161.2 197.0L158.7 196.3L156.0 195.5L153.1 194.7L150.3 193.8L147.4 192.9L144.5 192.0L141.6 191.2L138.8 190.4L136.1 189.7L133.4 189.0L130.7 188.5L128.0 187.9L125.3 187.5L122.5 187.0L119.7 186.6L116.9 186.3L114.1 185.9L111.3 185.6L108.5 185.3L105.6 185.1L102.7 184.9L99.8 184.7L96.9 184.5L94.0 184.4L91.2 184.2L88.4 184.1L85.8 184.0L83.1 183.9L80.4 183.8L77.8 183.7L75.3 183.7L73.1 183.6L71.2 183.6L69.8 183.6Z" fill="#00d1ff"/>
<path d="M215.0 232.1L215.9 232.2L217.0 232.4L218.4 232.6L219.9 232.8L221.4 233.1L223.0 233.3L224.6 233.6L225.9 233.9L227.2 234.2L228.5 234.5L229.7 234.8L230.9 235.1L232.1 235.4L233.3 235.8L234.5 236.2L235.7 236.6L236.9 237.1L238.1 237.7L239.4 238.3L240.7 238.9L241.9 239.6L243.2 240.3L244.5 241.1L245.8 241.8L247.0 242.6L248.2 243.4L249.5 244.3L250.8 245.2L252.0 246.1L253.3 247.0L254.5 248.0L255.7 248.9L257.0 249.8L258.2 250.7L259.3 251.6L260.5 252.6L261.7 253.5L262.9 254.5L264.2 255.6L265.5 256.8L266.9 258.0L268.4 259.3L269.9 260.6L271.4 262.0L273.0 263.5L274.7 265.1L276.4 266.7L278.3 268.4L280.2 270.2L282.3 272.1L284.5 274.1L286.7 276.1L289.0 278.2L291.2 280.3L293.5 282.5L295.8 284.7L298.0 286.9L300.3 289.2L302.7 291.5L305.0 293.9L307.4 296.4L309.8 298.7L312.1 301.1L314.4 303.3L316.7 305.5L319.0 307.7L321.2 309.7L323.4 311.8L325.5 313.8L327.7 315.9L329.9 317.9L332.1 320.0L334.3 322.2L336.5 324.4L338.7 326.5L340.9 328.7L343.1 331.0L345.3 333.2L347.5 335.5L349.7 337.8L352.0 340.1L354.4 342.6L356.8 345.0L359.2 347.5L361.5 350.0L363.7 352.4L365.8 354.8L367.6 357.0L369.4 359.2L371.0 361.3L372.5 363.4L373.9 365.5L375.2 367.5L376.5 369.6L377.7 371.6L378.9 373.6L380.1 375.5L381.3 377.2L382.4 378.9L383.4 380.6L384.4 382.3L385.3 383.9L386.1 385.7L386.8 387.5L387.6 389.5L388.3 391.8L388.9 394.2L389.5 396.6L389.9 398.9L390.4 401.0L390.7 402.7L391.0 404.0L390.6 404.1L390.2 402.8L389.7 401.0L389.2 399.0L388.5 396.7L387.7 394.4L386.8 392.1L385.9 390.0L384.9 388.1L383.9 386.5L382.9 385.0L381.8 383.5L380.6 382.0L379.3 380.6L378.0 379.0L376.6 377.4L375.2 375.7L373.7 373.8L372.3 371.9L370.8 370.0L369.3 368.2L367.7 366.4L366.0 364.6L364.3 362.8L362.4 361.1L360.4 359.1L358.3 357.1L355.9 355.0L353.4 352.8L350.9 350.5L348.3 348.3L345.8 346.1L343.3 343.9L340.9 341.8L338.6 339.7L336.3 337.7L334.1 335.5L332.0 333.3L329.8 331.2L327.6 329.0L325.5 326.8L323.4 324.8L321.3 322.7L319.1 320.7L317.0 318.7L314.8 316.6L312.6 314.5L310.3 312.3L308.0 310.1L305.6 307.7L303.3 305.4L300.9 302.9L298.5 300.5L296.2 298.1L294.0 295.7L291.7 293.4L289.6 291.2L287.4 289.1L285.2 287.0L283.0 284.8L280.8 282.7L278.6 280.7L276.5 278.7L274.5 276.8L272.5 274.9L270.7 273.1L268.9 271.5L267.3 269.9L265.7 268.4L264.2 267.0L262.8 265.7L261.5 264.4L260.2 263.2L258.9 262.1L257.8 261.0L256.7 260.0L255.6 259.0L254.6 258.1L253.5 257.1L252.4 256.2L251.3 255.2L250.1 254.2L249.0 253.2L247.9 252.2L246.8 251.2L245.7 250.3L244.6 249.4L243.5 248.5L242.4 247.7L241.3 246.9L240.2 246.0L239.1 245.2L238.1 244.4L237.0 243.6L236.0 242.9L235.0 242.2L234.0 241.6L233.1 240.9L232.2 240.4L231.2 239.8L230.2 239.2L229.1 238.6L227.9 238.0L226.7 237.4L225.5 236.8L224.2 236.1L222.7 235.5L221.2 234.9L219.7 234.3L218.2 233.7L216.9 233.1L215.8 232.7L215.0 232.4Z" fill="#00d1ff"/>
<path d="M415.5 355.0L415.3 356.4L415.1 358.3L414.8 360.5L414.5 363.0L414.2 365.5L414.0 368.0L413.7 370.2L413.6 372.0L413.5 373.4L413.5 374.7L413.5 375.7L413.5 376.6L413.6 377.5L413.6 378.3L413.6 379.1L413.7 380.0L413.7 380.9L413.7 381.6L413.7 382.3L413.7 383.0L413.8 383.8L413.9 384.7L414.1 385.8L414.2 387.2L414.3 388.8L414.4 390.8L414.5 393.0L414.7 395.3L415.0 397.7L415.4 400.1L415.8 402.5L416.4 404.9L417.1 407.3L417.9 409.6L418.8 411.9L419.7 414.2L420.6 416.5L421.5 418.7L422.4 420.9L423.2 423.1L423.9 425.2L424.5 427.3L425.2 429.5L425.8 431.6L426.5 433.9L427.2 436.2L428.0 438.6L428.9 441.2L429.9 443.9L431.1 446.6L432.2 449.3L433.4 452.1L434.6 454.9L435.8 457.9L436.9 461.0L438.0 464.3L439.0 467.9L440.0 471.7L441.0 475.6L442.0 479.8L442.9 484.0L443.8 488.4L444.6 492.8L445.3 497.2L446.0 501.8L446.6 506.7L447.1 511.7L447.6 516.8L448.0 521.9L448.4 526.8L448.8 531.3L449.1 535.5L449.3 539.4L449.5 543.1L449.6 546.7L449.6 550.1L449.7 553.2L449.7 555.9L449.7 558.2L449.7 560.0L439.3 560.2L439.3 558.3L439.3 555.9L439.3 553.2L439.2 550.2L439.2 547.0L439.1 543.5L438.9 539.9L438.7 536.2L438.4 532.1L438.1 527.6L437.7 522.8L437.2 517.8L436.7 512.8L436.2 507.9L435.6 503.2L435.0 498.8L434.3 494.5L433.5 490.3L432.6 486.1L431.7 482.0L430.8 478.1L429.8 474.2L428.8 470.6L427.8 467.3L426.9 464.3L425.9 461.6L424.8 458.9L423.7 456.2L422.5 453.5L421.3 450.7L420.1 447.8L419.0 444.9L418.0 442.0L417.1 439.4L416.4 437.0L415.7 434.7L415.1 432.6L414.6 430.6L414.0 428.6L413.4 426.7L412.8 424.8L412.0 422.8L411.2 420.7L410.4 418.4L409.7 415.9L409.1 413.2L408.5 410.5L408.0 407.7L407.8 404.9L407.8 402.1L408.0 399.3L408.4 396.6L409.0 394.1L409.6 391.8L410.1 389.7L410.6 387.9L410.9 386.4L411.1 385.2L411.2 384.2L411.4 383.3L411.5 382.6L411.7 381.8L411.9 381.0L412.1 380.2L412.3 379.2L412.4 378.4L412.5 377.5L412.5 376.7L412.6 375.7L412.8 374.6L413.0 373.4L413.2 372.0L413.4 370.2L413.6 367.9L413.9 365.5L414.2 363.0L414.5 360.5L414.8 358.2L415.0 356.3L415.1 355.0Z" fill="#00d1ff"/>
<path d="M69.9 172.8L71.4 172.8L73.3 172.9L75.5 172.9L78.0 172.9L80.6 173.0L83.4 173.0L86.2 173.1L88.9 173.2L91.6 173.3L94.5 173.5L97.4 173.6L100.4 173.7L103.4 173.9L106.4 174.1L109.4 174.3L112.4 174.6L115.3 174.9L118.2 175.3L121.2 175.6L124.1 176.0L127.0 176.5L129.9 177.0L132.8 177.5L135.7 178.1L138.6 178.7L141.6 179.5L144.6 180.3L147.6 181.1L150.6 182.0L153.5 182.9L156.4 183.7L159.2 184.6L161.9 185.3L164.4 186.1L166.9 186.8L169.3 187.5L171.7 188.2L174.1 188.9L176.5 189.7L178.9 190.6L181.4 191.5L183.8 192.4L186.3 193.4L188.8 194.4L191.3 195.5L193.8 196.5L196.4 197.6L198.9 198.6L201.5 199.6L204.1 200.6L206.7 201.6L209.4 202.6L212.0 203.5L214.5 204.4L216.9 205.2L219.2 205.9L221.3 206.4L223.3 206.8L225.2 207.1L226.9 207.4L228.6 207.6L230.1 207.8L231.6 207.9L233.0 208.1L234.3 208.2L235.6 208.3L236.7 208.4L237.8 208.4L238.8 208.5L239.8 208.5L240.8 208.5L241.9 208.5L243.0 208.5L244.1 208.6L245.2 208.6L246.3 208.6L247.4 208.6L248.6 208.6L249.8 208.5L251.0 208.4L252.4 208.4L253.9 208.2L255.5 208.1L257.1 207.9L258.6 207.8L260.0 207.6L261.1 207.5L262.0 207.4L262.0 207.7L261.2 207.9L260.0 208.2L258.7 208.5L257.1 208.9L255.5 209.2L253.9 209.6L252.4 209.9L251.0 210.2L249.7 210.4L248.5 210.7L247.3 210.9L246.2 211.1L245.0 211.3L243.9 211.4L242.7 211.6L241.6 211.7L240.5 211.9L239.5 212.1L238.4 212.3L237.3 212.4L236.1 212.6L234.9 212.7L233.6 212.8L232.1 212.9L230.7 213.0L229.2 213.1L227.5 213.2L225.7 213.2L223.8 213.2L221.7 213.2L219.4 213.0L217.0 212.8L214.5 212.3L211.9 211.7L209.2 211.0L206.4 210.3L203.6 209.5L200.8 208.8L198.1 208.0L195.4 207.3L192.8 206.3L190.1 205.3L187.5 204.3L185.0 203.4L182.5 202.4L180.1 201.6L177.8 200.7L175.5 200.0L173.2 199.3L170.9 198.6L168.7 197.9L166.4 197.2L164.0 196.5L161.6 195.8L159.0 195.1L156.3 194.4L153.5 193.5L150.6 192.6L147.7 191.7L144.8 190.8L141.9 190.0L139.1 189.2L136.3 188.5L133.6 187.9L130.9 187.3L128.2 186.8L125.5 186.3L122.7 185.9L119.9 185.5L117.1 185.1L114.2 184.7L111.4 184.4L108.6 184.1L105.7 183.9L102.8 183.7L99.9 183.5L96.9 183.3L94.0 183.2L91.2 183.1L88.5 182.9L85.9 182.8L83.1 182.7L80.4 182.7L77.8 182.6L75.4 182.5L73.1 182.5L71.2 182.5L69.8 182.4Z" fill="#00f0ff"/>
<path d="M215.0 232.1L215.9 232.2L217.0 232.4L218.4 232.6L219.9 232.8L221.4 233.1L223.0 233.3L224.6 233.6L225.9 233.9L227.2 234.2L228.5 234.5L229.7 234.8L230.9 235.1L232.1 235.4L233.3 235.8L234.5 236.2L235.7 236.6L236.9 237.1L238.1 237.7L239.4 238.3L240.7 238.9L241.9 239.6L243.2 240.3L244.5 241.1L245.8 241.8L247.0 242.6L248.2 243.4L249.5 244.3L250.8 245.2L252.0 246.1L253.3 247.0L254.5 248.0L255.7 248.9L257.0 249.8L258.2 250.7L259.3 251.6L260.5 252.6L261.7 253.5L262.9 254.5L264.2 255.6L265.5 256.8L266.9 258.0L268.4 259.3L269.9 260.6L271.4 262.0L273.0 263.5L274.7 265.1L276.4 266.7L278.3 268.4L280.2 270.2L282.3 272.1L284.5 274.1L286.7 276.1L289.0 278.2L291.2 280.3L293.5 282.5L295.8 284.7L298.0 286.9L300.3 289.2L302.7 291.5L305.0 293.9L307.4 296.4L309.8 298.7L312.1 301.1L314.4 303.3L316.7 305.5L319.0 307.7L321.2 309.7L323.4 311.8L325.5 313.8L327.7 315.9L329.9 317.9L332.1 320.0L334.3 322.2L336.5 324.4L338.7 326.5L340.9 328.7L343.1 331.0L345.3 333.2L347.5 335.5L349.7 337.8L352.0 340.1L354.4 342.6L356.8 345.0L359.2 347.5L361.5 350.0L363.7 352.4L365.8 354.8L367.6 357.0L369.4 359.2L371.0 361.3L372.5 363.4L373.9 365.5L375.2 367.5L376.5 369.6L377.7 371.6L378.9 373.6L380.1 375.5L381.3 377.2L382.4 378.9L383.4 380.6L384.4 382.3L385.3 383.9L386.1 385.7L386.8 387.5L387.6 389.5L388.3 391.8L388.9 394.2L389.5 396.6L389.9 398.9L390.4 401.0L390.7 402.7L391.0 404.0L390.7 404.0L390.3 402.8L389.8 401.0L389.2 399.0L388.6 396.7L387.8 394.4L387.0 392.1L386.0 389.9L385.0 388.1L384.1 386.4L383.1 384.9L382.0 383.4L380.9 381.9L379.6 380.4L378.3 378.9L377.0 377.2L375.5 375.5L374.1 373.6L372.7 371.7L371.2 369.8L369.7 367.9L368.2 366.1L366.5 364.2L364.8 362.4L362.9 360.7L360.9 358.7L358.8 356.6L356.5 354.5L354.0 352.2L351.5 350.0L349.0 347.7L346.4 345.4L344.0 343.2L341.6 341.2L339.3 339.0L337.1 336.9L334.9 334.8L332.7 332.6L330.6 330.4L328.4 328.2L326.2 326.1L324.1 324.0L322.0 322.0L319.9 319.9L317.7 317.9L315.5 315.8L313.3 313.7L311.0 311.6L308.7 309.3L306.4 307.0L304.0 304.6L301.6 302.2L299.3 299.7L297.0 297.3L294.7 295.0L292.5 292.7L290.3 290.5L288.1 288.3L285.9 286.2L283.7 284.0L281.5 282.0L279.3 279.9L277.2 277.9L275.2 276.0L273.2 274.1L271.4 272.4L269.6 270.7L268.0 269.1L266.4 267.6L264.9 266.2L263.5 264.9L262.2 263.6L260.8 262.4L259.6 261.3L258.4 260.2L257.3 259.2L256.2 258.2L255.2 257.2L254.1 256.3L253.0 255.4L251.9 254.4L250.7 253.4L249.6 252.4L248.4 251.4L247.3 250.4L246.2 249.5L245.1 248.6L244.0 247.7L242.9 246.9L241.7 246.1L240.6 245.3L239.5 244.4L238.4 243.6L237.3 242.9L236.3 242.2L235.2 241.5L234.2 240.9L233.3 240.3L232.3 239.7L231.3 239.2L230.3 238.6L229.2 238.1L228.0 237.5L226.8 236.9L225.6 236.3L224.2 235.7L222.8 235.2L221.2 234.6L219.7 234.1L218.2 233.5L216.9 233.0L215.8 232.6L215.0 232.3Z" fill="#00f0ff"/>
<path d="M415.5 355.0L415.3 356.4L415.1 358.3L414.8 360.5L414.5 363.0L414.2 365.5L414.0 368.0L413.7 370.2L413.6 372.0L413.5 373.4L413.5 374.7L413.5 375.7L413.5 376.6L413.6 377.5L413.6 378.3L413.6 379.1L413.7 380.0L413.7 380.9L413.7 381.6L413.7 382.3L413.7 383.0L413.8 383.8L413.9 384.7L414.1 385.8L414.2 387.2L414.3 388.8L414.4 390.8L414.5 393.0L414.7 395.3L415.0 397.7L415.4 400.1L415.8 402.5L416.4 404.9L417.1 407.3L417.9 409.6L418.8 411.9L419.7 414.2L420.6 416.5L421.5 418.7L422.4 420.9L423.2 423.1L423.9 425.2L424.5 427.3L425.2 429.5L425.8 431.6L426.5 433.9L427.2 436.2L428.0 438.6L428.9 441.2L429.9 443.9L431.1 446.6L432.2 449.3L433.4 452.1L434.6 454.9L435.8 457.9L436.9 461.0L438.0 464.3L439.0 467.9L440.0 471.7L441.0 475.6L442.0 479.8L442.9 484.0L443.8 488.4L444.6 492.8L445.3 497.2L446.0 501.8L446.6 506.7L447.1 511.7L447.6 516.8L448.0 521.9L448.4 526.8L448.8 531.3L449.1 535.5L449.3 539.4L449.5 543.1L449.6 546.7L449.6 550.1L449.7 553.2L449.7 555.9L449.7 558.2L449.7 560.0L440.4 560.2L440.3 558.3L440.3 555.9L440.3 553.2L440.3 550.2L440.2 546.9L440.1 543.5L440.0 539.9L439.8 536.1L439.5 532.0L439.1 527.5L438.7 522.7L438.3 517.7L437.8 512.7L437.3 507.8L436.7 503.0L436.0 498.6L435.3 494.4L434.5 490.1L433.7 485.9L432.7 481.8L431.8 477.8L430.8 474.0L429.8 470.3L428.8 467.0L427.9 464.0L426.9 461.2L425.8 458.5L424.7 455.8L423.5 453.1L422.3 450.3L421.1 447.4L420.0 444.5L419.0 441.7L418.1 439.1L417.4 436.7L416.7 434.4L416.1 432.3L415.6 430.2L415.0 428.3L414.4 426.3L413.7 424.4L413.0 422.4L412.1 420.2L411.3 417.9L410.6 415.4L410.0 412.8L409.4 410.1L408.9 407.4L408.6 404.6L408.6 401.9L408.7 399.1L409.0 396.5L409.6 394.0L410.1 391.7L410.6 389.6L411.0 387.8L411.3 386.3L411.4 385.1L411.6 384.2L411.7 383.3L411.8 382.5L411.9 381.8L412.1 381.0L412.3 380.1L412.5 379.2L412.6 378.4L412.7 377.5L412.7 376.7L412.8 375.7L412.9 374.6L413.1 373.4L413.3 372.0L413.5 370.2L413.7 368.0L413.9 365.5L414.2 363.0L414.5 360.5L414.8 358.2L415.0 356.3L415.2 355.0Z" fill="#00f0ff"/>
<path d="M69.9 172.8L71.4 172.8L73.3 172.9L75.5 172.9L78.0 172.9L80.6 173.0L83.4 173.0L86.2 173.1L88.9 173.2L91.6 173.3L94.5 173.5L97.4 173.6L100.4 173.7L103.4 173.9L106.4 174.1L109.4 174.3L112.4 174.6L115.3 174.9L118.2 175.3L121.2 175.6L124.1 176.0L127.0 176.5L129.9 177.0L132.8 177.5L135.7 178.1L138.6 178.7L141.6 179.5L144.6 180.3L147.6 181.1L150.6 182.0L153.5 182.9L156.4 183.7L159.2 184.6L161.9 185.3L164.4 186.1L166.9 186.8L169.3 187.5L171.7 188.2L174.1 188.9L176.5 189.7L178.9 190.6L181.4 191.5L183.8 192.4L186.3 193.4L188.8 194.4L191.3 195.5L193.8 196.5L196.4 197.6L198.9 198.6L201.5 199.6L204.1 200.6L206.7 201.6L209.4 202.6L212.0 203.5L214.5 204.4L216.9 205.2L219.2 205.9L221.3 206.4L223.3 206.8L225.2 207.1L226.9 207.4L228.6 207.6L230.1 207.8L231.6 207.9L233.0 208.1L234.3 208.2L235.6 208.3L236.7 208.4L237.8 208.4L238.8 208.5L239.8 208.5L240.8 208.5L241.9 208.5L243.0 208.5L244.1 208.6L245.2 208.6L246.3 208.6L247.4 208.6L248.6 208.6L249.8 208.5L251.0 208.4L252.4 208.4L253.9 208.2L255.5 208.1L257.1 207.9L258.6 207.8L260.0 207.6L261.1 207.5L262.0 207.4L262.0 207.7L261.2 207.9L260.0 208.1L258.6 208.4L257.1 208.8L255.5 209.1L253.9 209.5L252.4 209.8L251.0 210.0L249.7 210.3L248.5 210.5L247.3 210.7L246.2 210.9L245.0 211.0L243.9 211.2L242.8 211.3L241.6 211.4L240.6 211.6L239.5 211.8L238.4 211.9L237.3 212.1L236.2 212.2L235.0 212.3L233.6 212.4L232.2 212.5L230.8 212.6L229.2 212.6L227.6 212.7L225.8 212.7L223.9 212.7L221.8 212.6L219.6 212.5L217.2 212.2L214.7 211.7L212.1 211.1L209.4 210.4L206.7 209.6L203.9 208.8L201.1 208.0L198.4 207.3L195.7 206.5L193.1 205.5L190.4 204.5L187.9 203.5L185.3 202.6L182.9 201.6L180.5 200.7L178.1 199.9L175.8 199.1L173.5 198.4L171.2 197.8L168.9 197.0L166.6 196.4L164.3 195.7L161.8 195.0L159.3 194.2L156.6 193.5L153.8 192.6L150.9 191.8L148.0 190.9L145.1 190.0L142.2 189.1L139.3 188.4L136.5 187.6L133.8 187.0L131.1 186.4L128.4 185.9L125.6 185.4L122.8 185.0L120.0 184.6L117.2 184.2L114.3 183.9L111.5 183.6L108.7 183.3L105.8 183.0L102.9 182.8L99.9 182.6L97.0 182.5L94.1 182.3L91.2 182.2L88.5 182.1L85.9 182.0L83.2 181.9L80.5 181.8L77.8 181.7L75.4 181.7L73.1 181.7L71.3 181.6L69.8 181.6Z" fill="#0ffff0"/>
<path d="M215.0 232.1L215.9 232.2L217.0 232.4L218.4 232.6L219.9 232.8L221.4 233.1L223.0 233.3L224.6 233.6L225.9 233.9L227.2 234.2L228.5 234.5L229.7 234.8L230.9 235.1L232.1 235.4L233.3 235.8L234.5 236.2L235.7 236.6L236.9 237.1L238.1 237.7L239.4 238.3L240.7 238.9L241.9 239.6L243.2 240.3L244.5 241.1L245.8 241.8L247.0 242.6L248.2 243.4L249.5 244.3L250.8 245.2L252.0 246.1L253.3 247.0L254.5 248.0L255.7 248.9L257.0 249.8L258.2 250.7L259.3 251.6L260.5 252.6L261.7 253.5L262.9 254.5L264.2 255.6L265.5 256.8L266.9 258.0L268.4 259.3L269.9 260.6L271.4 262.0L273.0 263.5L274.7 265.1L276.4 266.7L278.3 268.4L280.2 270.2L282.3 272.1L284.5 274.1L286.7 276.1L289.0 278.2L291.2 280.3L293.5 282.5L295.8 284.7L298.0 286.9L300.3 289.2L302.7 291.5L305.0 293.9L307.4 296.4L309.8 298.7L312.1 301.1L314.4 303.3L316.7 305.5L319.0 307.7L321.2 309.7L323.4 311.8L325.5 313.8L327.7 315.9L329.9 317.9L332.1 320.0L334.3 322.2L336.5 324.4L338.7 326.5L340.9 328.7L343.1 331.0L345.3 333.2L347.5 335.5L349.7 337.8L352.0 340.1L354.4 342.6L356.8 345.0L359.2 347.5L361.5 350.0L363.7 352.4L365.8 354.8L367.6 357.0L369.4 359.2L371.0 361.3L372.5 363.4L373.9 365.5L375.2 367.5L376.5 369.6L377.7 371.6L378.9 373.6L380.1 375.5L381.3 377.2L382.4 378.9L383.4 380.6L384.4 382.3L385.3 383.9L386.1 385.7L386.8 387.5L387.6 389.5L388.3 391.8L388.9 394.2L389.5 396.6L389.9 398.9L390.4 401.0L390.7 402.7L391.0 404.0L390.7 404.0L390.3 402.8L389.9 401.0L389.3 399.0L388.7 396.7L387.9 394.4L387.1 392.0L386.1 389.9L385.1 388.0L384.2 386.4L383.3 384.8L382.2 383.3L381.0 381.8L379.8 380.3L378.5 378.8L377.2 377.1L375.8 375.3L374.4 373.5L372.9 371.5L371.5 369.6L370.0 367.8L368.5 365.9L366.8 364.0L365.1 362.2L363.2 360.4L361.3 358.4L359.2 356.3L356.8 354.1L354.4 351.9L351.9 349.6L349.4 347.3L346.9 345.0L344.4 342.8L342.1 340.7L339.8 338.5L337.6 336.4L335.4 334.2L333.2 332.1L331.1 329.9L328.9 327.7L326.7 325.6L324.6 323.5L322.5 321.4L320.3 319.4L318.2 317.4L316.0 315.3L313.8 313.2L311.5 311.0L309.2 308.8L306.9 306.5L304.5 304.1L302.1 301.7L299.8 299.2L297.5 296.8L295.2 294.4L293.0 292.1L290.8 289.9L288.6 287.8L286.4 285.6L284.2 283.5L282.0 281.4L279.8 279.4L277.7 277.4L275.6 275.4L273.7 273.6L271.9 271.8L270.1 270.1L268.5 268.6L266.9 267.1L265.4 265.6L264.0 264.3L262.6 263.0L261.3 261.8L260.0 260.7L258.9 259.6L257.7 258.6L256.7 257.6L255.6 256.7L254.5 255.8L253.4 254.8L252.3 253.9L251.1 252.8L249.9 251.8L248.8 250.8L247.6 249.9L246.5 249.0L245.4 248.1L244.3 247.2L243.2 246.4L242.0 245.6L240.9 244.7L239.8 243.9L238.7 243.1L237.6 242.4L236.5 241.7L235.4 241.0L234.4 240.4L233.4 239.8L232.4 239.3L231.4 238.8L230.4 238.2L229.2 237.7L228.1 237.1L226.9 236.6L225.6 236.0L224.3 235.5L222.8 235.0L221.3 234.4L219.7 233.9L218.3 233.4L216.9 232.9L215.8 232.6L215.0 232.3Z" fill="#0ffff0"/>
<path d="M415.5 355.0L415.3 356.4L415.1 358.3L414.8 360.5L414.5 363.0L414.2 365.5L414.0 368.0L413.7 370.2L413.6 372.0L413.5 373.4L413.5 374.7L413.5 375.7L413.5 376.6L413.6 377.5L413.6 378.3L413.6 379.1L413.7 380.0L413.7 380.9L413.7 381.6L413.7 382.3L413.7 383.0L413.8 383.8L413.9 384.7L414.1 385.8L414.2 387.2L414.3 388.8L414.4 390.8L414.5 393.0L414.7 395.3L415.0 397.7L415.4 400.1L415.8 402.5L416.4 404.9L417.1 407.3L417.9 409.6L418.8 411.9L419.7 414.2L420.6 416.5L421.5 418.7L422.4 420.9L423.2 423.1L423.9 425.2L424.5 427.3L425.2 429.5L425.8 431.6L426.5 433.9L427.2 436.2L428.0 438.6L428.9 441.2L429.9 443.9L431.1 446.6L432.2 449.3L433.4 452.1L434.6 454.9L435.8 457.9L436.9 461.0L438.0 464.3L439.0 467.9L440.0 471.7L441.0 475.6L442.0 479.8L442.9 484.0L443.8 488.4L444.6 492.8L445.3 497.2L446.0 501.8L446.6 506.7L447.1 511.7L447.6 516.8L448.0 521.9L448.4 526.8L448.8 531.3L449.1 535.5L449.3 539.4L449.5 543.1L449.6 546.7L449.6 550.1L449.7 553.2L449.7 555.9L449.7 558.2L449.7 560.0L441.1 560.2L441.1 558.3L441.1 555.9L441.1 553.2L441.1 550.2L441.0 546.9L440.9 543.4L440.8 539.8L440.5 536.1L440.2 532.0L439.9 527.4L439.5 522.6L439.0 517.6L438.6 512.6L438.0 507.7L437.4 502.9L436.8 498.5L436.1 494.2L435.3 490.0L434.4 485.8L433.5 481.6L432.5 477.6L431.6 473.8L430.6 470.1L429.6 466.8L428.6 463.8L427.6 460.9L426.5 458.2L425.4 455.5L424.2 452.8L423.0 450.0L421.8 447.2L420.7 444.2L419.7 441.4L418.9 438.9L418.1 436.4L417.4 434.2L416.8 432.0L416.3 430.0L415.7 428.0L415.1 426.1L414.4 424.1L413.7 422.1L412.8 419.9L412.0 417.6L411.3 415.1L410.6 412.6L410.0 409.9L409.5 407.2L409.2 404.4L409.1 401.7L409.3 399.0L409.5 396.4L410.0 393.9L410.5 391.6L410.9 389.5L411.3 387.7L411.6 386.3L411.7 385.1L411.8 384.1L411.9 383.3L412.0 382.5L412.1 381.8L412.3 381.0L412.5 380.1L412.6 379.2L412.7 378.4L412.8 377.5L412.8 376.7L412.9 375.7L413.0 374.6L413.1 373.4L413.3 372.0L413.5 370.2L413.7 368.0L414.0 365.5L414.3 363.0L414.6 360.5L414.8 358.2L415.1 356.3L415.2 355.0Z" fill="#0ffff0"/>
<path d="M69.9 172.8L71.4 172.8L73.3 172.9L75.5 172.9L78.0 172.9L80.6 173.0L83.4 173.0L86.2 173.1L88.9 173.2L91.6 173.3L94.5 173.5L97.4 173.6L100.4 173.7L103.4 173.9L106.4 174.1L109.4 174.3L112.4 174.6L115.3 174.9L118.2 175.3L121.2 175.6L124.1 176.0L127.0 176.5L129.9 177.0L132.8 177.5L135.7 178.1L138.6 178.7L141.6 179.5L144.6 180.3L147.6 181.1L150.6 182.0L153.5 182.9L156.4 183.7L159.2 184.6L161.9 185.3L164.4 186.1L166.9 186.8L169.3 187.5L171.7 188.2L174.1 188.9L176.5 189.7L178.9 190.6L181.4 191.5L183.8 192.4L186.3 193.4L188.8 194.4L191.3 195.5L193.8 196.5L196.4 197.6L198.9 198.6L201.5 199.6L204.1 200.6L206.7 201.6L209.4 202.6L212.0 203.5L214.5 204.4L216.9 205.2L219.2 205.9L221.3 206.4L223.3 206.8L225.2 207.1L226.9 207.4L228.6 207.6L230.1 207.8L231.6 207.9L233.0 208.1L234.3 208.2L235.6 208.3L236.7 208.4L237.8 208.4L238.8 208.5L239.8 208.5L240.8 208.5L241.9 208.5L243.0 208.5L244.1 208.6L245.2 208.6L246.3 208.6L247.4 208.6L248.6 208.6L249.8 208.5L251.0 208.4L252.4 208.4L253.9 208.2L255.5 208.1L257.1 207.9L258.6 207.8L260.0 207.6L261.1 207.5L262.0 207.4L262.0 207.6L261.2 207.8L260.0 208.1L258.6 208.4L257.1 208.7L255.5 209.0L253.9 209.4L252.4 209.6L251.0 209.9L249.7 210.1L248.5 210.3L247.3 210.5L246.2 210.7L245.0 210.8L243.9 210.9L242.8 211.1L241.7 211.2L240.6 211.3L239.5 211.5L238.5 211.6L237.4 211.8L236.2 211.9L235.0 212.0L233.7 212.1L232.3 212.1L230.8 212.2L229.3 212.3L227.7 212.3L225.9 212.3L224.0 212.3L221.9 212.2L219.7 212.0L217.3 211.8L214.9 211.2L212.3 210.6L209.6 209.8L206.9 209.1L204.1 208.3L201.3 207.4L198.6 206.6L196.0 205.9L193.4 204.9L190.7 203.9L188.1 202.9L185.6 201.9L183.2 200.9L180.7 200.0L178.4 199.2L176.1 198.4L173.8 197.7L171.5 197.0L169.2 196.3L166.9 195.6L164.5 194.9L162.0 194.2L159.5 193.5L156.8 192.8L154.0 191.9L151.1 191.0L148.2 190.1L145.3 189.3L142.4 188.4L139.5 187.6L136.7 186.9L134.0 186.3L131.3 185.7L128.5 185.2L125.7 184.7L122.9 184.3L120.1 183.9L117.3 183.5L114.4 183.2L111.6 182.8L108.7 182.5L105.8 182.3L102.9 182.1L100.0 181.9L97.0 181.8L94.1 181.6L91.3 181.5L88.6 181.4L85.9 181.3L83.2 181.2L80.5 181.1L77.8 181.0L75.4 181.0L73.2 180.9L71.3 180.9L69.8 180.9Z" fill="#38ffc7"/>
<path d="M215.0 232.1L215.9 232.2L217.0 232.4L218.4 232.6L219.9 232.8L221.4 233.1L223.0 233.3L224.6 233.6L225.9 233.9L227.2 234.2L228.5 234.5L229.7 234.8L230.9 235.1L232.1 235.4L233.3 235.8L234.5 236.2L235.7 236.6L236.9 237.1L238.1 237.7L239.4 238.3L240.7 238.9L241.9 239.6L243.2 240.3L244.5 241.1L245.8 241.8L247.0 242.6L248.2 243.4L249.5 244.3L250.8 245.2L252.0 246.1L253.3 247.0L254.5 248.0L255.7 248.9L257.0 249.8L258.2 250.7L259.3 251.6L260.5 252.6L261.7 253.5L262.9 254.5L264.2 255.6L265.5 256.8L266.9 258.0L268.4 259.3L269.9 260.6L271.4 262.0L273.0 263.5L274.7 265.1L276.4 266.7L278.3 268.4L280.2 270.2L282.3 272.1L284.5 274.1L286.7 276.1L289.0 278.2L291.2 280.3L293.5 282.5L295.8 284.7L298.0 286.9L300.3 289.2L302.7 291.5L305.0 293.9L307.4 296.4L309.8 298.7L312.1 301.1L314.4 303.3L316.7 305.5L319.0 307.7L321.2 309.7L323.4 311.8L325.5 313.8L327.7 315.9L329.9 317.9L332.1 320.0L334.3 322.2L336.5 324.4L338.7 326.5L340.9 328.7L343.1 331.0L345.3 333.2L347.5 335.5L349.7 337.8L352.0 340.1L354.4 342.6L356.8 345.0L359.2 347.5L361.5 350.0L363.7 352.4L365.8 354.8L367.6 357.0L369.4 359.2L371.0 361.3L372.5 363.4L373.9 365.5L375.2 367.5L376.5 369.6L377.7 371.6L378.9 373.6L380.1 375.5L381.3 377.2L382.4 378.9L383.4 380.6L384.4 382.3L385.3 383.9L386.1 385.7L386.8 387.5L387.6 389.5L388.3 391.8L388.9 394.2L389.5 396.6L389.9 398.9L390.4 401.0L390.7 402.7L391.0 404.0L390.8 404.0L390.4 402.8L389.9 401.0L389.4 399.0L388.7 396.7L388.0 394.3L387.1 392.0L386.2 389.9L385.2 388.0L384.3 386.3L383.4 384.8L382.3 383.2L381.2 381.7L380.0 380.2L378.7 378.7L377.3 377.0L375.9 375.2L374.5 373.3L373.1 371.4L371.7 369.5L370.3 367.6L368.7 365.7L367.1 363.9L365.3 362.0L363.5 360.2L361.6 358.2L359.4 356.1L357.1 353.8L354.7 351.6L352.2 349.3L349.7 347.0L347.2 344.7L344.8 342.5L342.4 340.3L340.2 338.2L338.0 336.0L335.8 333.9L333.6 331.7L331.4 329.5L329.3 327.3L327.1 325.2L325.0 323.1L322.8 321.0L320.7 319.0L318.6 317.0L316.4 314.9L314.2 312.8L311.9 310.6L309.6 308.4L307.3 306.1L304.9 303.7L302.5 301.3L300.2 298.8L297.9 296.4L295.6 294.0L293.4 291.7L291.2 289.5L289.0 287.4L286.8 285.2L284.6 283.1L282.4 281.0L280.2 278.9L278.0 276.9L276.0 275.0L274.1 273.2L272.2 271.4L270.5 269.7L268.8 268.2L267.3 266.7L265.8 265.2L264.4 263.9L263.0 262.6L261.7 261.4L260.4 260.3L259.2 259.2L258.1 258.2L257.0 257.2L255.9 256.3L254.8 255.3L253.7 254.4L252.6 253.4L251.4 252.4L250.2 251.4L249.1 250.4L247.9 249.5L246.8 248.5L245.6 247.6L244.5 246.8L243.4 246.0L242.3 245.2L241.1 244.3L240.0 243.5L238.9 242.8L237.7 242.0L236.6 241.3L235.5 240.7L234.5 240.1L233.5 239.5L232.5 238.9L231.5 238.4L230.4 237.9L229.3 237.4L228.1 236.9L226.9 236.4L225.7 235.8L224.3 235.3L222.8 234.8L221.3 234.3L219.7 233.8L218.3 233.3L216.9 232.9L215.8 232.5L215.0 232.3Z" fill="#38ffc7"/>
<path d="M415.5 355.0L415.3 356.4L415.1 358.3L414.8 360.5L414.5 363.0L414.2 365.5L414.0 368.0L413.7 370.2L413.6 372.0L413.5 373.4L413.5 374.7L413.5 375.7L413.5 376.6L413.6 377.5L413.6 378.3L413.6 379.1L413.7 380.0L413.7 380.9L413.7 381.6L413.7 382.3L413.7 383.0L413.8 383.8L413.9 384.7L414.1 385.8L414.2 387.2L414.3 388.8L414.4 390.8L414.5 393.0L414.7 395.3L415.0 397.7L415.4 400.1L415.8 402.5L416.4 404.9L417.1 407.3L417.9 409.6L418.8 411.9L419.7 414.2L420.6 416.5L421.5 418.7L422.4 420.9L423.2 423.1L423.9 425.2L424.5 427.3L425.2 429.5L425.8 431.6L426.5 433.9L427.2 436.2L428.0 438.6L428.9 441.2L429.9 443.9L431.1 446.6L432.2 449.3L433.4 452.1L434.6 454.9L435.8 457.9L436.9 461.0L438.0 464.3L439.0 467.9L440.0 471.7L441.0 475.6L442.0 479.8L442.9 484.0L443.8 488.4L444.6 492.8L445.3 497.2L446.0 501.8L446.6 506.7L447.1 511.7L447.6 516.8L448.0 521.9L448.4 526.8L448.8 531.3L449.1 535.5L449.3 539.4L449.5 543.1L449.6 546.7L449.6 550.1L449.7 553.2L449.7 555.9L449.7 558.2L449.7 560.0L441.8 560.2L441.8 558.3L441.7 555.9L441.7 553.2L441.7 550.2L441.6 546.9L441.6 543.4L441.4 539.8L441.2 536.0L440.9 531.9L440.5 527.4L440.1 522.6L439.7 517.6L439.2 512.6L438.6 507.6L438.1 502.9L437.4 498.4L436.7 494.1L435.9 489.8L435.0 485.6L434.1 481.5L433.2 477.5L432.2 473.6L431.2 470.0L430.2 466.6L429.2 463.5L428.2 460.7L427.1 458.0L426.0 455.2L424.8 452.5L423.6 449.8L422.4 446.9L421.3 444.0L420.3 441.2L419.5 438.7L418.7 436.3L418.0 434.0L417.4 431.9L416.9 429.8L416.3 427.8L415.7 425.9L415.0 423.9L414.3 421.8L413.4 419.7L412.6 417.3L411.9 414.9L411.2 412.3L410.6 409.7L410.0 407.0L409.7 404.3L409.6 401.6L409.7 398.9L409.9 396.3L410.4 393.8L410.8 391.5L411.2 389.5L411.6 387.7L411.8 386.2L411.9 385.0L412.0 384.1L412.1 383.2L412.2 382.5L412.3 381.8L412.4 381.0L412.6 380.1L412.7 379.2L412.8 378.4L412.9 377.5L412.9 376.7L412.9 375.7L413.0 374.6L413.2 373.4L413.4 372.0L413.5 370.2L413.7 368.0L414.0 365.5L414.3 363.0L414.6 360.5L414.9 358.2L415.1 356.3L415.3 355.0Z" fill="#38ffc7"/>
<path d="M69.9 172.8L71.4 172.8L73.3 172.9L75.5 172.9L78.0 172.9L80.6 173.0L83.4 173.0L86.2 173.1L88.9 173.2L91.6 173.3L94.5 173.5L97.4 173.6L100.4 173.7L103.4 173.9L106.4 174.1L109.4 174.3L112.4 174.6L115.3 174.9L118.2 175.3L121.2 175.6L124.1 176.0L127.0 176.5L129.9 177.0L132.8 177.5L135.7 178.1L138.6 178.7L141.6 179.5L144.6 180.3L147.6 181.1L150.6 182.0L153.5 182.9L156.4 183.7L159.2 184.6L161.9 185.3L164.4 186.1L166.9 186.8L169.3 187.5L171.7 188.2L174.1 188.9L176.5 189.7L178.9 190.6L181.4 191.5L183.8 192.4L186.3 193.4L188.8 194.4L191.3 195.5L193.8 196.5L196.4 197.6L198.9 198.6L201.5 199.6L204.1 200.6L206.7 201.6L209.4 202.6L212.0 203.5L214.5 204.4L216.9 205.2L219.2 205.9L221.3 206.4L223.3 206.8L225.2 207.1L226.9 207.4L228.6 207.6L230.1 207.8L231.6 207.9L233.0 208.1L234.3 208.2L235.6 208.3L236.7 208.4L237.8 208.4L238.8 208.5L239.8 208.5L240.8 208.5L241.9 208.5L243.0 208.5L244.1 208.6L245.2 208.6L246.3 208.6L247.4 208.6L248.6 208.6L249.8 208.5L251.0 208.4L252.4 208.4L253.9 208.2L255.5 208.1L257.1 207.9L258.6 207.8L260.0 207.6L261.1 207.5L262.0 207.4L262.0 207.6L261.2 207.8L260.0 208.0L258.6 208.3L257.1 208.6L255.5 208.9L253.9 209.2L252.4 209.5L251.0 209.7L249.7 210.0L248.5 210.1L247.3 210.3L246.2 210.5L245.1 210.6L243.9 210.7L242.8 210.8L241.7 210.9L240.6 211.1L239.5 211.2L238.5 211.4L237.4 211.5L236.3 211.6L235.1 211.7L233.7 211.7L232.3 211.8L230.9 211.8L229.4 211.9L227.8 211.9L226.0 211.9L224.1 211.8L222.1 211.7L219.9 211.5L217.5 211.3L215.1 210.7L212.5 210.0L209.8 209.3L207.1 208.5L204.3 207.7L201.6 206.8L198.9 206.0L196.2 205.2L193.6 204.2L191.0 203.2L188.4 202.2L185.9 201.2L183.4 200.3L181.0 199.4L178.7 198.5L176.3 197.7L174.0 197.0L171.7 196.3L169.4 195.6L167.1 194.9L164.7 194.2L162.2 193.5L159.7 192.8L157.0 192.0L154.2 191.2L151.3 190.3L148.4 189.4L145.5 188.5L142.6 187.7L139.7 186.9L136.9 186.2L134.1 185.5L131.4 185.0L128.6 184.4L125.8 184.0L123.0 183.5L120.2 183.1L117.3 182.8L114.5 182.4L111.6 182.1L108.8 181.8L105.9 181.6L103.0 181.4L100.0 181.2L97.0 181.0L94.1 180.9L91.3 180.8L88.6 180.6L85.9 180.5L83.2 180.4L80.5 180.4L77.8 180.3L75.4 180.3L73.2 180.2L71.3 180.2L69.8 180.2Z" fill="#61ff9e"/>
<path d="M215.0 232.1L215.9 232.2L217.0 232.4L218.4 232.6L219.9 232.8L221.4 233.1L223.0 233.3L224.6 233.6L225.9 233.9L227.2 234.2L228.5 234.5L229.7 234.8L230.9 235.1L232.1 235.4L233.3 235.8L234.5 236.2L235.7 236.6L236.9 237.1L238.1 237.7L239.4 238.3L240.7 238.9L241.9 239.6L243.2 240.3L244.5 241.1L245.8 241.8L247.0 242.6L248.2 243.4L249.5 244.3L250.8 245.2L252.0 246.1L253.3 247.0L254.5 248.0L255.7 248.9L257.0 249.8L258.2 250.7L259.3 251.6L260.5 252.6L261.7 253.5L262.9 254.5L264.2 255.6L265.5 256.8L266.9 258.0L268.4 259.3L269.9 260.6L271.4 262.0L273.0 263.5L274.7 265.1L276.4 266.7L278.3 268.4L280.2 270.2L282.3 272.1L284.5 274.1L286.7 276.1L289.0 278.2L291.2 280.3L293.5 282.5L295.8 284.7L298.0 286.9L300.3 289.2L302.7 291.5L305.0 293.9L307.4 296.4L309.8 298.7L312.1 301.1L314.4 303.3L316.7 305.5L319.0 307.7L321.2 309.7L323.4 311.8L325.5 313.8L327.7 315.9L329.9 317.9L332.1 320.0L334.3 322.2L336.5 324.4L338.7 326.5L340.9 328.7L343.1 331.0L345.3 333.2L347.5 335.5L349.7 337.8L352.0 340.1L354.4 342.6L356.8 345.0L359.2 347.5L361.5 350.0L363.7 352.4L365.8 354.8L367.6 357.0L369.4 359.2L371.0 361.3L372.5 363.4L373.9 365.5L375.2 367.5L376.5 369.6L377.7 371.6L378.9 373.6L380.1 375.5L381.3 377.2L382.4 378.9L383.4 380.6L384.4 382.3L385.3 383.9L386.1 385.7L386.8 387.5L387.6 389.5L388.3 391.8L388.9 394.2L389.5 396.6L389.9 398.9L390.4 401.0L390.7 402.7L391.0 404.0L390.8 404.0L390.4 402.7L390.0 401.0L389.4 399.0L388.8 396.7L388.0 394.3L387.2 392.0L386.3 389.9L385.3 388.0L384.4 386.3L383.5 384.7L382.4 383.2L381.3 381.7L380.1 380.2L378.9 378.6L377.5 376.9L376.1 375.1L374.7 373.2L373.4 371.3L371.9 369.4L370.5 367.5L368.9 365.6L367.3 363.7L365.6 361.9L363.7 360.0L361.8 358.0L359.7 355.8L357.4 353.6L355.0 351.3L352.6 349.0L350.0 346.7L347.6 344.4L345.1 342.1L342.8 340.0L340.6 337.8L338.3 335.7L336.2 333.5L334.0 331.3L331.8 329.1L329.6 326.9L327.5 324.8L325.3 322.7L323.2 320.6L321.1 318.6L318.9 316.6L316.8 314.5L314.5 312.4L312.3 310.2L310.0 308.0L307.6 305.7L305.3 303.3L302.9 300.9L300.6 298.5L298.3 296.0L296.0 293.7L293.7 291.3L291.5 289.1L289.4 287.0L287.2 284.8L284.9 282.7L282.7 280.6L280.5 278.5L278.4 276.5L276.4 274.6L274.4 272.8L272.6 271.0L270.8 269.3L269.2 267.8L267.6 266.3L266.1 264.8L264.7 263.5L263.3 262.2L262.0 261.0L260.7 259.8L259.5 258.8L258.4 257.7L257.3 256.8L256.2 255.8L255.1 254.9L254.0 254.0L252.9 253.0L251.7 252.0L250.5 251.0L249.3 250.0L248.2 249.1L247.0 248.1L245.9 247.2L244.8 246.4L243.6 245.6L242.5 244.8L241.3 243.9L240.2 243.1L239.0 242.4L237.9 241.6L236.8 241.0L235.7 240.3L234.6 239.7L233.6 239.1L232.6 238.6L231.6 238.1L230.5 237.6L229.3 237.1L228.2 236.6L226.9 236.1L225.7 235.6L224.3 235.0L222.9 234.6L221.3 234.1L219.8 233.7L218.3 233.2L216.9 232.8L215.8 232.5L215.0 232.3Z" fill="#61ff9e"/>
<path d="M415.5 355.0L415.3 356.4L415.1 358.3L414.8 360.5L414.5 363.0L414.2 365.5L414.0 368.0L413.7 370.2L413.6 372.0L413.5 373.4L413.5 374.7L413.5 375.7L413.5 376.6L413.6 377.5L413.6 378.3L413.6 379.1L413.7 380.0L413.7 380.9L413.7 381.6L413.7 382.3L413.7 383.0L413.8 383.8L413.9 384.7L414.1 385.8L414.2 387.2L414.3 388.8L414.4 390.8L414.5 393.0L414.7 395.3L415.0 397.7L415.4 400.1L415.8 402.5L416.4 404.9L417.1 407.3L417.9 409.6L418.8 411.9L419.7 414.2L420.6 416.5L421.5 418.7L422.4 420.9L423.2 423.1L423.9 425.2L424.5 427.3L425.2 429.5L425.8 431.6L426.5 433.9L427.2 436.2L428.0 438.6L428.9 441.2L429.9 443.9L431.1 446.6L432.2 449.3L433.4 452.1L434.6 454.9L435.8 457.9L436.9 461.0L438.0 464.3L439.0 467.9L440.0 471.7L441.0 475.6L442.0 479.8L442.9 484.0L443.8 488.4L444.6 492.8L445.3 497.2L446.0 501.8L446.6 506.7L447.1 511.7L447.6 516.8L448.0 521.9L448.4 526.8L448.8 531.3L449.1 535.5L449.3 539.4L449.5 543.1L449.6 546.7L449.6 550.1L449.7 553.2L449.7 555.9L449.7 558.2L449.7 560.0L442.4 560.1L442.4 558.3L442.4 555.9L442.4 553.2L442.3 550.2L442.3 546.9L442.2 543.4L442.0 539.8L441.8 536.0L441.5 531.9L441.2 527.3L440.8 522.5L440.3 517.5L439.8 512.5L439.3 507.5L438.7 502.8L438.1 498.3L437.3 494.0L436.5 489.7L435.7 485.5L434.7 481.4L433.8 477.4L432.8 473.5L431.8 469.8L430.8 466.4L429.8 463.3L428.8 460.5L427.7 457.7L426.6 455.0L425.4 452.3L424.2 449.5L423.0 446.7L421.9 443.8L420.9 441.0L420.1 438.5L419.3 436.1L418.6 433.8L418.1 431.7L417.5 429.6L416.9 427.6L416.3 425.6L415.6 423.6L414.9 421.6L414.0 419.4L413.2 417.1L412.4 414.6L411.8 412.1L411.1 409.5L410.6 406.8L410.2 404.1L410.1 401.5L410.2 398.8L410.3 396.2L410.7 393.7L411.1 391.4L411.5 389.4L411.8 387.6L412.1 386.2L412.1 385.0L412.2 384.0L412.2 383.2L412.3 382.5L412.4 381.7L412.6 381.0L412.7 380.1L412.8 379.2L412.9 378.3L413.0 377.5L413.0 376.7L413.0 375.7L413.1 374.6L413.2 373.4L413.4 372.0L413.6 370.2L413.8 368.0L414.0 365.5L414.3 363.0L414.6 360.5L414.9 358.2L415.1 356.3L415.3 355.0Z" fill="#61ff9e"/>
<path d="M69.9 172.8L71.4 172.8L73.3 172.9L75.5 172.9L78.0 172.9L80.6 173.0L83.4 173.0L86.2 173.1L88.9 173.2L91.6 173.3L94.5 173.5L97.4 173.6L100.4 173.7L103.4 173.9L106.4 174.1L109.4 174.3L112.4 174.6L115.3 174.9L118.2 175.3L121.2 175.6L124.1 176.0L127.0 176.5L129.9 177.0L132.8 177.5L135.7 178.1L138.6 178.7L141.6 179.5L144.6 180.3L147.6 181.1L150.6 182.0L153.5 182.9L156.4 183.7L159.2 184.6L161.9 185.3L164.4 186.1L166.9 186.8L169.3 187.5L171.7 188.2L174.1 188.9L176.5 189.7L178.9 190.6L181.4 191.5L183.8 192.4L186.3 193.4L188.8 194.4L191.3 195.5L193.8 196.5L196.4 197.6L198.9 198.6L201.5 199.6L204.1 200.6L206.7 201.6L209.4 202.6L212.0 203.5L214.5 204.4L216.9 205.2L219.2 205.9L221.3 206.4L223.3 206.8L225.2 207.1L226.9 207.4L228.6 207.6L230.1 207.8L231.6 207.9L233.0 208.1L234.3 208.2L235.6 208.3L236.7 208.4L237.8 208.4L238.8 208.5L239.8 208.5L240.8 208.5L241.9 208.5L243.0 208.5L244.1 208.6L245.2 208.6L246.3 208.6L247.4 208.6L248.6 208.6L249.8 208.5L251.0 208.4L252.4 208.4L253.9 208.2L255.5 208.1L257.1 207.9L258.6 207.8L260.0 207.6L261.1 207.5L262.0 207.4L262.0 207.6L261.2 207.7L260.0 208.0L258.6 208.2L257.1 208.5L255.5 208.8L253.9 209.1L252.4 209.4L251.0 209.6L249.8 209.8L248.5 210.0L247.4 210.1L246.2 210.3L245.1 210.4L243.9 210.5L242.8 210.6L241.7 210.7L240.6 210.8L239.6 211.0L238.5 211.1L237.4 211.2L236.3 211.3L235.1 211.4L233.8 211.4L232.4 211.5L230.9 211.5L229.4 211.5L227.8 211.5L226.1 211.5L224.2 211.4L222.2 211.3L220.0 211.1L217.6 210.8L215.2 210.2L212.7 209.5L210.0 208.7L207.3 207.9L204.6 207.1L201.8 206.2L199.1 205.4L196.5 204.5L193.9 203.6L191.3 202.6L188.7 201.5L186.2 200.6L183.7 199.6L181.3 198.7L178.9 197.8L176.6 197.0L174.3 196.3L171.9 195.5L169.6 194.8L167.3 194.1L164.9 193.5L162.5 192.8L159.9 192.0L157.2 191.3L154.4 190.4L151.5 189.6L148.6 188.7L145.7 187.8L142.8 187.0L139.9 186.2L137.1 185.5L134.3 184.8L131.5 184.2L128.7 183.7L125.9 183.2L123.1 182.8L120.3 182.4L117.4 182.0L114.6 181.7L111.7 181.4L108.8 181.1L105.9 180.9L103.0 180.7L100.0 180.5L97.1 180.3L94.2 180.2L91.3 180.1L88.6 179.9L85.9 179.8L83.2 179.7L80.5 179.7L77.9 179.6L75.4 179.6L73.2 179.5L71.3 179.5L69.8 179.5Z" fill="#8aff75"/>
<path d="M215.0 232.1L215.9 232.2L217.0 232.4L218.4 232.6L219.9 232.8L221.4 233.1L223.0 233.3L224.6 233.6L225.9 233.9L227.2 234.2L228.5 234.5L229.7 234.8L230.9 235.1L232.1 235.4L233.3 235.8L234.5 236.2L235.7 236.6L236.9 237.1L238.1 237.7L239.4 238.3L240.7 238.9L241.9 239.6L243.2 240.3L244.5 241.1L245.8 241.8L247.0 242.6L248.2 243.4L249.5 244.3L250.8 245.2L252.0 246.1L253.3 247.0L254.5 248.0L255.7 248.9L257.0 249.8L258.2 250.7L259.3 251.6L260.5 252.6L261.7 253.5L262.9 254.5L264.2 255.6L265.5 256.8L266.9 258.0L268.4 259.3L269.9 260.6L271.4 262.0L273.0 263.5L274.7 265.1L276.4 266.7L278.3 268.4L280.2 270.2L282.3 272.1L284.5 274.1L286.7 276.1L289.0 278.2L291.2 280.3L293.5 282.5L295.8 284.7L298.0 286.9L300.3 289.2L302.7 291.5L305.0 293.9L307.4 296.4L309.8 298.7L312.1 301.1L314.4 303.3L316.7 305.5L319.0 307.7L321.2 309.7L323.4 311.8L325.5 313.8L327.7 315.9L329.9 317.9L332.1 320.0L334.3 322.2L336.5 324.4L338.7 326.5L340.9 328.7L343.1 331.0L345.3 333.2L347.5 335.5L349.7 337.8L352.0 340.1L354.4 342.6L356.8 345.0L359.2 347.5L361.5 350.0L363.7 352.4L365.8 354.8L367.6 357.0L369.4 359.2L371.0 361.3L372.5 363.4L373.9 365.5L375.2 367.5L376.5 369.6L377.7 371.6L378.9 373.6L380.1 375.5L381.3 377.2L382.4 378.9L383.4 380.6L384.4 382.3L385.3 383.9L386.1 385.7L386.8 387.5L387.6 389.5L388.3 391.8L388.9 394.2L389.5 396.6L389.9 398.9L390.4 401.0L390.7 402.7L391.0 404.0L390.8 404.0L390.5 402.7L390.0 401.0L389.5 398.9L388.8 396.7L388.1 394.3L387.3 392.0L386.4 389.8L385.4 388.0L384.5 386.3L383.6 384.7L382.6 383.1L381.4 381.6L380.3 380.1L379.0 378.5L377.7 376.8L376.3 375.1L374.9 373.1L373.5 371.2L372.1 369.3L370.7 367.4L369.2 365.5L367.6 363.6L365.8 361.7L364.0 359.8L362.1 357.8L360.0 355.6L357.7 353.3L355.3 351.0L352.9 348.7L350.4 346.4L347.9 344.0L345.5 341.8L343.2 339.6L340.9 337.5L338.7 335.3L336.5 333.1L334.4 330.9L332.2 328.7L330.0 326.5L327.8 324.4L325.7 322.3L323.6 320.2L321.5 318.2L319.3 316.2L317.1 314.1L314.9 312.0L312.6 309.9L310.3 307.6L308.0 305.3L305.6 302.9L303.3 300.5L300.9 298.1L298.6 295.6L296.3 293.3L294.1 291.0L291.9 288.8L289.7 286.6L287.5 284.4L285.3 282.3L283.1 280.2L280.9 278.1L278.8 276.1L276.7 274.2L274.8 272.4L272.9 270.6L271.2 268.9L269.6 267.4L268.0 265.9L266.5 264.4L265.1 263.1L263.7 261.8L262.3 260.6L261.1 259.4L259.9 258.3L258.7 257.3L257.6 256.4L256.5 255.4L255.4 254.5L254.3 253.6L253.1 252.6L252.0 251.6L250.8 250.6L249.6 249.6L248.4 248.7L247.3 247.7L246.1 246.8L245.0 246.0L243.9 245.2L242.7 244.4L241.5 243.5L240.4 242.8L239.2 242.0L238.1 241.3L236.9 240.6L235.8 240.0L234.7 239.4L233.7 238.8L232.7 238.3L231.6 237.8L230.5 237.3L229.4 236.8L228.2 236.3L227.0 235.9L225.7 235.4L224.4 234.8L222.9 234.4L221.3 234.0L219.8 233.5L218.3 233.1L217.0 232.7L215.8 232.4L215.0 232.2Z" fill="#8aff75"/>
<path d="M415.5 355.0L415.3 356.4L415.1 358.3L414.8 360.5L414.5 363.0L414.2 365.5L414.0 368.0L413.7 370.2L413.6 372.0L413.5 373.4L413.5 374.7L413.5 375.7L413.5 376.6L413.6 377.5L413.6 378.3L413.6 379.1L413.7 380.0L413.7 380.9L413.7 381.6L413.7 382.3L413.7 383.0L413.8 383.8L413.9 384.7L414.1 385.8L414.2 387.2L414.3 388.8L414.4 390.8L414.5 393.0L414.7 395.3L415.0 397.7L415.4 400.1L415.8 402.5L416.4 404.9L417.1 407.3L417.9 409.6L418.8 411.9L419.7 414.2L420.6 416.5L421.5 418.7L422.4 420.9L423.2 423.1L423.9 425.2L424.5 427.3L425.2 429.5L425.8 431.6L426.5 433.9L427.2 436.2L428.0 438.6L428.9 441.2L429.9 443.9L431.1 446.6L432.2 449.3L433.4 452.1L434.6 454.9L435.8 457.9L436.9 461.0L438.0 464.3L439.0 467.9L440.0 471.7L441.0 475.6L442.0 479.8L442.9 484.0L443.8 488.4L444.6 492.8L445.3 497.2L446.0 501.8L446.6 506.7L447.1 511.7L447.6 516.8L448.0 521.9L448.4 526.8L448.8 531.3L449.1 535.5L449.3 539.4L449.5 543.1L449.6 546.7L449.6 550.1L449.7 553.2L449.7 555.9L449.7 558.2L449.7 560.0L443.1 560.1L443.0 558.3L443.0 555.9L443.0 553.2L443.0 550.2L442.9 546.9L442.8 543.4L442.7 539.7L442.4 536.0L442.1 531.8L441.8 527.3L441.4 522.5L441.0 517.5L440.5 512.4L439.9 507.5L439.3 502.7L438.7 498.2L438.0 493.9L437.2 489.6L436.3 485.4L435.4 481.2L434.4 477.2L433.4 473.3L432.4 469.6L431.4 466.2L430.4 463.1L429.4 460.3L428.3 457.5L427.2 454.7L426.0 452.0L424.8 449.3L423.6 446.4L422.5 443.6L421.5 440.8L420.7 438.3L419.9 435.9L419.3 433.6L418.7 431.5L418.1 429.4L417.5 427.4L416.9 425.4L416.2 423.4L415.4 421.3L414.6 419.1L413.8 416.8L413.0 414.4L412.3 411.9L411.7 409.3L411.1 406.7L410.7 404.0L410.6 401.3L410.6 398.7L410.7 396.1L411.1 393.7L411.5 391.4L411.8 389.3L412.1 387.6L412.3 386.1L412.3 385.0L412.4 384.0L412.4 383.2L412.5 382.4L412.6 381.7L412.7 381.0L412.8 380.1L412.9 379.2L413.0 378.3L413.1 377.5L413.1 376.6L413.1 375.7L413.1 374.7L413.3 373.4L413.4 372.0L413.6 370.2L413.8 368.0L414.1 365.5L414.4 363.0L414.7 360.5L414.9 358.2L415.2 356.4L415.3 355.0Z" fill="#8aff75"/>
<path d="M69.9 172.8L71.4 172.8L73.3 172.9L75.5 172.9L78.0 172.9L80.6 173.0L83.4 173.0L86.2 173.1L88.9 173.2L91.6 173.3L94.5 173.5L97.4 173.6L100.4 173.7L103.4 173.9L106.4 174.1L109.4 174.3L112.4 174.6L115.3 174.9L118.2 175.3L121.2 175.6L124.1 176.0L127.0 176.5L129.9 177.0L132.8 177.5L135.7 178.1L138.6 178.7L141.6 179.5L144.6 180.3L147.6 181.1L150.6 182.0L153.5 182.9L156.4 183.7L159.2 184.6L161.9 185.3L164.4 186.1L166.9 186.8L169.3 187.5L171.7 188.2L174.1 188.9L176.5 189.7L178.9 190.6L181.4 191.5L183.8 192.4L186.3 193.4L188.8 194.4L191.3 195.5L193.8 196.5L196.4 197.6L198.9 198.6L201.5 199.6L204.1 200.6L206.7 201.6L209.4 202.6L212.0 203.5L214.5 204.4L216.9 205.2L219.2 205.9L221.3 206.4L223.3 206.8L225.2 207.1L226.9 207.4L228.6 207.6L230.1 207.8L231.6 207.9L233.0 208.1L234.3 208.2L235.6 208.3L236.7 208.4L237.8 208.4L238.8 208.5L239.8 208.5L240.8 208.5L241.9 208.5L243.0 208.5L244.1 208.6L245.2 208.6L246.3 208.6L247.4 208.6L248.6 208.6L249.8 208.5L251.0 208.4L252.4 208.4L253.9 208.2L255.5 208.1L257.1 207.9L258.6 207.8L260.0 207.6L261.1 207.5L262.0 207.4L262.0 207.5L261.2 207.7L260.0 207.9L258.6 208.2L257.1 208.5L255.5 208.7L253.9 209.0L252.4 209.3L251.0 209.4L249.8 209.6L248.5 209.8L247.4 210.0L246.2 210.1L245.1 210.2L244.0 210.3L242.9 210.4L241.7 210.4L240.6 210.6L239.6 210.7L238.5 210.8L237.5 210.9L236.4 211.0L235.2 211.0L233.8 211.1L232.5 211.1L231.0 211.1L229.5 211.1L227.9 211.1L226.2 211.1L224.3 211.0L222.3 210.8L220.1 210.6L217.8 210.3L215.4 209.7L212.9 209.0L210.2 208.2L207.5 207.4L204.8 206.5L202.1 205.6L199.4 204.7L196.8 203.9L194.2 202.9L191.6 201.9L189.0 200.9L186.5 199.9L184.0 198.9L181.6 198.0L179.2 197.1L176.8 196.3L174.5 195.5L172.2 194.8L169.9 194.1L167.5 193.4L165.1 192.7L162.7 192.0L160.1 191.3L157.4 190.6L154.6 189.7L151.7 188.8L148.8 188.0L145.9 187.1L143.0 186.3L140.1 185.5L137.2 184.7L134.4 184.1L131.7 183.5L128.9 183.0L126.1 182.5L123.2 182.1L120.4 181.7L117.5 181.3L114.6 181.0L111.8 180.7L108.9 180.4L106.0 180.1L103.0 179.9L100.1 179.8L97.1 179.6L94.2 179.5L91.4 179.3L88.6 179.2L86.0 179.1L83.2 179.0L80.5 178.9L77.9 178.9L75.4 178.8L73.2 178.8L71.3 178.8L69.8 178.8Z" fill="#b3ff4c"/>
<path d="M215.0 232.1L215.9 232.2L217.0 232.4L218.4 232.6L219.9 232.8L221.4 233.1L223.0 233.3L224.6 233.6L225.9 233.9L227.2 234.2L228.5 234.5L229.7 234.8L230.9 235.1L232.1 235.4L233.3 235.8L234.5 236.2L235.7 236.6L236.9 237.1L238.1 237.7L239.4 238.3L240.7 238.9L241.9 239.6L243.2 240.3L244.5 241.1L245.8 241.8L247.0 242.6L248.2 243.4L249.5 244.3L250.8 245.2L252.0 246.1L253.3 247.0L254.5 248.0L255.7 248.9L257.0 249.8L258.2 250.7L259.3 251.6L260.5 252.6L261.7 253.5L262.9 254.5L264.2 255.6L265.5 256.8L266.9 258.0L268.4 259.3L269.9 260.6L271.4 262.0L273.0 263.5L274.7 265.1L276.4 266.7L278.3 268.4L280.2 270.2L282.3 272.1L284.5 274.1L286.7 276.1L289.0 278.2L291.2 280.3L293.5 282.5L295.8 284.7L298.0 286.9L300.3 289.2L302.7 291.5L305.0 293.9L307.4 296.4L309.8 298.7L312.1 301.1L314.4 303.3L316.7 305.5L319.0 307.7L321.2 309.7L323.4 311.8L325.5 313.8L327.7 315.9L329.9 317.9L332.1 320.0L334.3 322.2L336.5 324.4L338.7 326.5L340.9 328.7L343.1 331.0L345.3 333.2L347.5 335.5L349.7 337.8L352.0 340.1L354.4 342.6L356.8 345.0L359.2 347.5L361.5 350.0L363.7 352.4L365.8 354.8L367.6 357.0L369.4 359.2L371.0 361.3L372.5 363.4L373.9 365.5L375.2 367.5L376.5 369.6L377.7 371.6L378.9 373.6L380.1 375.5L381.3 377.2L382.4 378.9L383.4 380.6L384.4 382.3L385.3 383.9L386.1 385.7L386.8 387.5L387.6 389.5L388.3 391.8L388.9 394.2L389.5 396.6L389.9 398.9L390.4 401.0L390.7 402.7L391.0 404.0L390.9 404.0L390.5 402.7L390.0 401.0L389.5 398.9L388.9 396.7L388.2 394.3L387.3 392.0L386.4 389.8L385.5 387.9L384.6 386.2L383.7 384.6L382.7 383.1L381.6 381.5L380.4 380.0L379.2 378.4L377.8 376.8L376.5 375.0L375.1 373.0L373.7 371.1L372.3 369.2L370.9 367.2L369.4 365.3L367.8 363.4L366.1 361.5L364.2 359.6L362.3 357.6L360.3 355.4L358.0 353.1L355.6 350.8L353.2 348.4L350.7 346.1L348.2 343.7L345.8 341.5L343.5 339.3L341.3 337.1L339.1 334.9L336.9 332.7L334.7 330.5L332.6 328.4L330.4 326.2L328.2 324.0L326.1 321.9L323.9 319.9L321.8 317.8L319.6 315.8L317.5 313.7L315.3 311.6L313.0 309.5L310.7 307.2L308.4 304.9L306.0 302.6L303.6 300.2L301.3 297.7L299.0 295.3L296.7 292.9L294.5 290.6L292.3 288.4L290.1 286.2L287.9 284.1L285.6 281.9L283.4 279.8L281.2 277.8L279.1 275.8L277.1 273.8L275.1 272.0L273.3 270.2L271.5 268.6L269.9 267.0L268.3 265.5L266.8 264.0L265.4 262.7L264.0 261.4L262.7 260.2L261.4 259.0L260.2 257.9L259.0 256.9L257.9 256.0L256.8 255.0L255.7 254.1L254.6 253.2L253.4 252.2L252.2 251.2L251.1 250.2L249.9 249.2L248.7 248.3L247.5 247.4L246.4 246.5L245.2 245.6L244.1 244.8L242.9 244.0L241.7 243.2L240.6 242.4L239.4 241.6L238.2 240.9L237.1 240.3L235.9 239.6L234.8 239.1L233.8 238.5L232.8 238.0L231.7 237.5L230.6 237.0L229.4 236.6L228.2 236.1L227.0 235.6L225.8 235.1L224.4 234.7L222.9 234.3L221.3 233.8L219.8 233.4L218.3 233.0L217.0 232.7L215.8 232.4L215.0 232.2Z" fill="#b3ff4c"/>
<path d="M415.5 355.0L415.3 356.4L415.1 358.3L414.8 360.5L414.5 363.0L414.2 365.5L414.0 368.0L413.7 370.2L413.6 372.0L413.5 373.4L413.5 374.7L413.5 375.7L413.5 376.6L413.6 377.5L413.6 378.3L413.6 379.1L413.7 380.0L413.7 380.9L413.7 381.6L413.7 382.3L413.7 383.0L413.8 383.8L413.9 384.7L414.1 385.8L414.2 387.2L414.3 388.8L414.4 390.8L414.5 393.0L414.7 395.3L415.0 397.7L415.4 400.1L415.8 402.5L416.4 404.9L417.1 407.3L417.9 409.6L418.8 411.9L419.7 414.2L420.6 416.5L421.5 418.7L422.4 420.9L423.2 423.1L423.9 425.2L424.5 427.3L425.2 429.5L425.8 431.6L426.5 433.9L427.2 436.2L428.0 438.6L428.9 441.2L429.9 443.9L431.1 446.6L432.2 449.3L433.4 452.1L434.6 454.9L435.8 457.9L436.9 461.0L438.0 464.3L439.0 467.9L440.0 471.7L441.0 475.6L442.0 479.8L442.9 484.0L443.8 488.4L444.6 492.8L445.3 497.2L446.0 501.8L446.6 506.7L447.1 511.7L447.6 516.8L448.0 521.9L448.4 526.8L448.8 531.3L449.1 535.5L449.3 539.4L449.5 543.1L449.6 546.7L449.6 550.1L449.7 553.2L449.7 555.9L449.7 558.2L449.7 560.0L443.7 560.1L443.7 558.3L443.7 555.9L443.6 553.2L443.6 550.2L443.6 546.9L443.5 543.3L443.3 539.7L443.1 535.9L442.8 531.8L442.4 527.2L442.0 522.4L441.6 517.4L441.1 512.4L440.6 507.4L440.0 502.6L439.3 498.1L438.6 493.8L437.8 489.5L436.9 485.2L436.0 481.1L435.0 477.1L434.0 473.2L433.0 469.5L432.0 466.0L431.0 462.9L430.0 460.0L428.9 457.2L427.7 454.5L426.6 451.8L425.4 449.0L424.2 446.2L423.1 443.3L422.1 440.6L421.3 438.1L420.6 435.7L419.9 433.4L419.3 431.3L418.7 429.2L418.1 427.2L417.5 425.2L416.8 423.2L416.0 421.1L415.2 418.9L414.4 416.6L413.6 414.1L412.9 411.6L412.2 409.1L411.6 406.5L411.3 403.9L411.1 401.2L411.1 398.6L411.1 396.0L411.5 393.6L411.8 391.3L412.1 389.3L412.4 387.5L412.5 386.1L412.5 384.9L412.6 384.0L412.6 383.2L412.7 382.4L412.7 381.7L412.8 380.9L413.0 380.1L413.1 379.2L413.1 378.3L413.2 377.5L413.1 376.6L413.2 375.7L413.2 374.7L413.3 373.4L413.5 372.0L413.6 370.2L413.8 368.0L414.1 365.5L414.4 363.0L414.7 360.5L415.0 358.2L415.2 356.4L415.4 355.0Z" fill="#b3ff4c"/>
<path d="M69.9 172.8L71.4 172.8L73.3 172.9L75.5 172.9L78.0 172.9L80.6 173.0L83.4 173.0L86.2 173.1L88.9 173.2L91.6 173.3L94.5 173.5L97.4 173.6L100.4 173.7L103.4 173.9L106.4 174.1L109.4 174.3L112.4 174.6L115.3 174.9L118.2 175.3L121.2 175.6L124.1 176.0L127.0 176.5L129.9 177.0L132.8 177.5L135.7 178.1L138.6 178.7L141.6 179.5L144.6 180.3L147.6 181.1L150.6 182.0L153.5 182.9L156.4 183.7L159.2 184.6L161.9 185.3L164.4 186.1L166.9 186.8L169.3 187.5L171.7 188.2L174.1 188.9L176.5 189.7L178.9 190.6L181.4 191.5L183.8 192.4L186.3 193.4L188.8 194.4L191.3 195.5L193.8 196.5L196.4 197.6L198.9 198.6L201.5 199.6L204.1 200.6L206.7 201.6L209.4 202.6L212.0 203.5L214.5 204.4L216.9 205.2L219.2 205.9L221.3 206.4L223.3 206.8L225.2 207.1L226.9 207.4L228.6 207.6L230.1 207.8L231.6 207.9L233.0 208.1L234.3 208.2L235.6 208.3L236.7 208.4L237.8 208.4L238.8 208.5L239.8 208.5L240.8 208.5L241.9 208.5L243.0 208.5L244.1 208.6L245.2 208.6L246.3 208.6L247.4 208.6L248.6 208.6L249.8 208.5L251.0 208.4L252.4 208.4L253.9 208.2L255.5 208.1L257.1 207.9L258.6 207.8L260.0 207.6L261.1 207.5L262.0 207.4L262.0 207.5L261.2 207.6L260.0 207.9L258.6 208.1L257.1 208.4L255.5 208.6L253.9 208.9L252.4 209.1L251.0 209.3L249.8 209.5L248.5 209.6L247.4 209.8L246.2 209.9L245.1 210.0L244.0 210.1L242.9 210.1L241.8 210.2L240.7 210.3L239.6 210.4L238.6 210.5L237.5 210.6L236.4 210.7L235.2 210.7L233.9 210.8L232.5 210.8L231.1 210.8L229.6 210.8L228.0 210.7L226.3 210.7L224.4 210.6L222.4 210.4L220.3 210.2L218.0 209.8L215.6 209.2L213.1 208.5L210.4 207.7L207.8 206.8L205.0 205.9L202.3 205.0L199.6 204.1L197.0 203.2L194.4 202.3L191.8 201.2L189.3 200.2L186.8 199.2L184.3 198.2L181.9 197.3L179.5 196.4L177.1 195.6L174.8 194.8L172.4 194.1L170.1 193.4L167.8 192.7L165.4 192.0L162.9 191.3L160.3 190.6L157.6 189.8L154.8 189.0L152.0 188.1L149.0 187.2L146.1 186.4L143.2 185.5L140.3 184.7L137.4 184.0L134.6 183.4L131.8 182.8L129.0 182.3L126.2 181.8L123.3 181.3L120.5 180.9L117.6 180.6L114.7 180.2L111.8 179.9L109.0 179.6L106.0 179.4L103.1 179.2L100.1 179.0L97.1 178.9L94.2 178.7L91.4 178.6L88.7 178.5L86.0 178.4L83.3 178.3L80.5 178.2L77.9 178.2L75.4 178.1L73.2 178.1L71.3 178.1L69.9 178.0Z" fill="#dbff24"/>
<path d="M215.0 232.1L215.9 232.2L217.0 232.4L218.4 232.6L219.9 232.8L221.4 233.1L223.0 233.3L224.6 233.6L225.9 233.9L227.2 234.2L228.5 234.5L229.7 234.8L230.9 235.1L232.1 235.4L233.3 235.8L234.5 236.2L235.7 236.6L236.9 237.1L238.1 237.7L239.4 238.3L240.7 238.9L241.9 239.6L243.2 240.3L244.5 241.1L245.8 241.8L247.0 242.6L248.2 243.4L249.5 244.3L250.8 245.2L252.0 246.1L253.3 247.0L254.5 248.0L255.7 248.9L257.0 249.8L258.2 250.7L259.3 251.6L260.5 252.6L261.7 253.5L262.9 254.5L264.2 255.6L265.5 256.8L266.9 258.0L268.4 259.3L269.9 260.6L271.4 262.0L273.0 263.5L274.7 265.1L276.4 266.7L278.3 268.4L280.2 270.2L282.3 272.1L284.5 274.1L286.7 276.1L289.0 278.2L291.2 280.3L293.5 282.5L295.8 284.7L298.0 286.9L300.3 289.2L302.7 291.5L305.0 293.9L307.4 296.4L309.8 298.7L312.1 301.1L314.4 303.3L316.7 305.5L319.0 307.7L321.2 309.7L323.4 311.8L325.5 313.8L327.7 315.9L329.9 317.9L332.1 320.0L334.3 322.2L336.5 324.4L338.7 326.5L340.9 328.7L343.1 331.0L345.3 333.2L347.5 335.5L349.7 337.8L352.0 340.1L354.4 342.6L356.8 345.0L359.2 347.5L361.5 350.0L363.7 352.4L365.8 354.8L367.6 357.0L369.4 359.2L371.0 361.3L372.5 363.4L373.9 365.5L375.2 367.5L376.5 369.6L377.7 371.6L378.9 373.6L380.1 375.5L381.3 377.2L382.4 378.9L383.4 380.6L384.4 382.3L385.3 383.9L386.1 385.7L386.8 387.5L387.6 389.5L388.3 391.8L388.9 394.2L389.5 396.6L389.9 398.9L390.4 401.0L390.7 402.7L391.0 404.0L390.9 404.0L390.5 402.7L390.1 401.0L389.5 398.9L388.9 396.7L388.2 394.3L387.4 392.0L386.5 389.8L385.6 387.9L384.7 386.2L383.8 384.6L382.8 383.0L381.7 381.5L380.5 379.9L379.3 378.3L378.0 376.7L376.6 374.9L375.3 372.9L373.9 371.0L372.5 369.1L371.1 367.1L369.6 365.2L368.0 363.3L366.3 361.3L364.5 359.4L362.6 357.3L360.5 355.1L358.3 352.8L355.9 350.5L353.5 348.1L351.0 345.8L348.5 343.4L346.1 341.2L343.8 339.0L341.6 336.8L339.4 334.6L337.3 332.4L335.1 330.2L332.9 328.0L330.7 325.8L328.6 323.7L326.4 321.6L324.3 319.5L322.1 317.5L320.0 315.4L317.8 313.4L315.6 311.3L313.4 309.1L311.1 306.9L308.7 304.6L306.4 302.2L304.0 299.8L301.7 297.3L299.4 294.9L297.1 292.5L294.8 290.2L292.6 288.0L290.4 285.8L288.2 283.7L286.0 281.5L283.8 279.4L281.6 277.4L279.4 275.4L277.4 273.4L275.5 271.6L273.6 269.8L271.9 268.2L270.2 266.6L268.7 265.1L267.2 263.7L265.7 262.3L264.4 261.0L263.0 259.8L261.7 258.6L260.5 257.5L259.3 256.5L258.2 255.6L257.1 254.6L256.0 253.7L254.9 252.8L253.7 251.8L252.5 250.8L251.3 249.8L250.1 248.8L249.0 247.9L247.8 247.0L246.6 246.1L245.5 245.2L244.3 244.4L243.1 243.6L241.9 242.8L240.7 242.0L239.6 241.3L238.4 240.6L237.2 239.9L236.1 239.3L235.0 238.7L233.9 238.2L232.8 237.7L231.7 237.2L230.6 236.7L229.5 236.3L228.3 235.8L227.0 235.4L225.8 234.9L224.4 234.5L222.9 234.1L221.4 233.7L219.8 233.3L218.3 232.9L217.0 232.6L215.8 232.3L215.0 232.2Z" fill="#dbff24"/>
<path d="M415.5 355.0L415.3 356.4L415.1 358.3L414.8 360.5L414.5 363.0L414.2 365.5L414.0 368.0L413.7 370.2L413.6 372.0L413.5 373.4L413.5 374.7L413.5 375.7L413.5 376.6L413.6 377.5L413.6 378.3L413.6 379.1L413.7 380.0L413.7 380.9L413.7 381.6L413.7 382.3L413.7 383.0L413.8 383.8L413.9 384.7L414.1 385.8L414.2 387.2L414.3 388.8L414.4 390.8L414.5 393.0L414.7 395.3L415.0 397.7L415.4 400.1L415.8 402.5L416.4 404.9L417.1 407.3L417.9 409.6L418.8 411.9L419.7 414.2L420.6 416.5L421.5 418.7L422.4 420.9L423.2 423.1L423.9 425.2L424.5 427.3L425.2 429.5L425.8 431.6L426.5 433.9L427.2 436.2L428.0 438.6L428.9 441.2L429.9 443.9L431.1 446.6L432.2 449.3L433.4 452.1L434.6 454.9L435.8 457.9L436.9 461.0L438.0 464.3L439.0 467.9L440.0 471.7L441.0 475.6L442.0 479.8L442.9 484.0L443.8 488.4L444.6 492.8L445.3 497.2L446.0 501.8L446.6 506.7L447.1 511.7L447.6 516.8L448.0 521.9L448.4 526.8L448.8 531.3L449.1 535.5L449.3 539.4L449.5 543.1L449.6 546.7L449.6 550.1L449.7 553.2L449.7 555.9L449.7 558.2L449.7 560.0L444.3 560.1L444.3 558.3L444.3 555.9L444.3 553.2L444.3 550.2L444.2 546.8L444.1 543.3L444.0 539.7L443.7 535.9L443.4 531.7L443.1 527.2L442.7 522.3L442.2 517.3L441.7 512.3L441.2 507.3L440.6 502.5L439.9 498.0L439.2 493.7L438.4 489.4L437.6 485.1L436.6 481.0L435.7 476.9L434.7 473.0L433.6 469.3L432.6 465.9L431.6 462.7L430.6 459.8L429.5 457.0L428.3 454.2L427.1 451.5L426.0 448.8L424.8 446.0L423.7 443.1L422.7 440.4L421.9 437.9L421.2 435.5L420.5 433.3L419.9 431.1L419.3 429.0L418.7 427.0L418.1 425.0L417.4 422.9L416.6 420.8L415.8 418.6L414.9 416.3L414.2 413.9L413.4 411.4L412.7 408.9L412.2 406.3L411.8 403.7L411.6 401.1L411.5 398.5L411.5 396.0L411.8 393.5L412.1 391.3L412.4 389.2L412.6 387.5L412.7 386.0L412.8 384.9L412.8 383.9L412.8 383.1L412.8 382.4L412.9 381.7L413.0 380.9L413.1 380.1L413.2 379.2L413.3 378.3L413.3 377.5L413.2 376.6L413.2 375.7L413.3 374.7L413.4 373.4L413.5 372.0L413.6 370.2L413.9 368.0L414.1 365.5L414.4 363.0L414.7 360.5L415.0 358.3L415.2 356.4L415.4 355.0Z" fill="#dbff24"/>
<path d="M69.9 172.8L71.4 172.8L73.3 172.9L75.5 172.9L78.0 172.9L80.6 173.0L83.4 173.0L86.2 173.1L88.9 173.2L91.6 173.3L94.5 173.5L97.4 173.6L100.4 173.7L103.4 173.9L106.4 174.1L109.4 174.3L112.4 174.6L115.3 174.9L118.2 175.3L121.2 175.6L124.1 176.0L127.0 176.5L129.9 177.0L132.8 177.5L135.7 178.1L138.6 178.7L141.6 179.5L144.6 180.3L147.6 181.1L150.6 182.0L153.5 182.9L156.4 183.7L159.2 184.6L161.9 185.3L164.4 186.1L166.9 186.8L169.3 187.5L171.7 188.2L174.1 188.9L176.5 189.7L178.9 190.6L181.4 191.5L183.8 192.4L186.3 193.4L188.8 194.4L191.3 195.5L193.8 196.5L196.4 197.6L198.9 198.6L201.5 199.6L204.1 200.6L206.7 201.6L209.4 202.6L212.0 203.5L214.5 204.4L216.9 205.2L219.2 205.9L221.3 206.4L223.3 206.8L225.2 207.1L226.9 207.4L228.6 207.6L230.1 207.8L231.6 207.9L233.0 208.1L234.3 208.2L235.6 208.3L236.7 208.4L237.8 208.4L238.8 208.5L239.8 208.5L240.8 208.5L241.9 208.5L243.0 208.5L244.1 208.6L245.2 208.6L246.3 208.6L247.4 208.6L248.6 208.6L249.8 208.5L251.0 208.4L252.4 208.4L253.9 208.2L255.5 208.1L257.1 207.9L258.6 207.8L260.0 207.6L261.1 207.5L262.0 207.4L262.0 207.5L261.1 207.6L260.0 207.8L258.6 208.0L257.1 208.3L255.5 208.6L253.9 208.8L252.4 209.0L251.0 209.2L249.8 209.3L248.6 209.5L247.4 209.6L246.2 209.7L245.1 209.8L244.0 209.8L242.9 209.9L241.8 210.0L240.7 210.1L239.6 210.2L238.6 210.3L237.5 210.3L236.4 210.4L235.2 210.4L234.0 210.5L232.6 210.5L231.1 210.4L229.6 210.4L228.0 210.4L226.3 210.3L224.5 210.2L222.5 210.0L220.4 209.7L218.1 209.4L215.7 208.7L213.2 208.0L210.6 207.2L208.0 206.3L205.2 205.4L202.5 204.4L199.9 203.5L197.3 202.6L194.7 201.6L192.1 200.6L189.5 199.6L187.0 198.6L184.6 197.6L182.1 196.6L179.7 195.7L177.3 194.9L175.0 194.1L172.6 193.4L170.3 192.7L168.0 192.0L165.6 191.3L163.1 190.6L160.5 189.9L157.8 189.2L155.0 188.3L152.2 187.4L149.2 186.6L146.3 185.7L143.3 184.9L140.4 184.1L137.6 183.3L134.7 182.7L131.9 182.1L129.1 181.6L126.3 181.1L123.4 180.7L120.6 180.3L117.7 179.9L114.8 179.6L111.9 179.3L109.0 179.0L106.1 178.7L103.1 178.5L100.1 178.4L97.2 178.2L94.3 178.1L91.4 177.9L88.7 177.8L86.0 177.7L83.3 177.6L80.5 177.6L77.9 177.5L75.4 177.5L73.2 177.4L71.3 177.4L69.9 177.4Z" fill="#fffa00"/>
<path d="M215.0 232.1L215.9 232.2L217.0 232.4L218.4 232.6L219.9 232.8L221.4 233.1L223.0 233.3L224.6 233.6L225.9 233.9L227.2 234.2L228.5 234.5L229.7 234.8L230.9 235.1L232.1 235.4L233.3 235.8L234.5 236.2L235.7 236.6L236.9 237.1L238.1 237.7L239.4 238.3L240.7 238.9L241.9 239.6L243.2 240.3L244.5 241.1L245.8 241.8L247.0 242.6L248.2 243.4L249.5 244.3L250.8 245.2L252.0 246.1L253.3 247.0L254.5 248.0L255.7 248.9L257.0 249.8L258.2 250.7L259.3 251.6L260.5 252.6L261.7 253.5L262.9 254.5L264.2 255.6L265.5 256.8L266.9 258.0L268.4 259.3L269.9 260.6L271.4 262.0L273.0 263.5L274.7 265.1L276.4 266.7L278.3 268.4L280.2 270.2L282.3 272.1L284.5 274.1L286.7 276.1L289.0 278.2L291.2 280.3L293.5 282.5L295.8 284.7L298.0 286.9L300.3 289.2L302.7 291.5L305.0 293.9L307.4 296.4L309.8 298.7L312.1 301.1L314.4 303.3L316.7 305.5L319.0 307.7L321.2 309.7L323.4 311.8L325.5 313.8L327.7 315.9L329.9 317.9L332.1 320.0L334.3 322.2L336.5 324.4L338.7 326.5L340.9 328.7L343.1 331.0L345.3 333.2L347.5 335.5L349.7 337.8L352.0 340.1L354.4 342.6L356.8 345.0L359.2 347.5L361.5 350.0L363.7 352.4L365.8 354.8L367.6 357.0L369.4 359.2L371.0 361.3L372.5 363.4L373.9 365.5L375.2 367.5L376.5 369.6L377.7 371.6L378.9 373.6L380.1 375.5L381.3 377.2L382.4 378.9L383.4 380.6L384.4 382.3L385.3 383.9L386.1 385.7L386.8 387.5L387.6 389.5L388.3 391.8L388.9 394.2L389.5 396.6L389.9 398.9L390.4 401.0L390.7 402.7L391.0 404.0L390.9 404.0L390.6 402.7L390.1 401.0L389.6 398.9L389.0 396.7L388.3 394.3L387.5 392.0L386.6 389.8L385.7 387.9L384.8 386.2L383.9 384.5L382.9 383.0L381.8 381.4L380.7 379.9L379.4 378.3L378.1 376.6L376.8 374.8L375.4 372.9L374.1 370.9L372.7 369.0L371.3 367.0L369.8 365.1L368.2 363.1L366.5 361.2L364.7 359.3L362.8 357.2L360.8 354.9L358.5 352.6L356.2 350.3L353.7 347.9L351.3 345.5L348.8 343.2L346.5 340.9L344.2 338.7L342.0 336.4L339.8 334.2L337.6 332.0L335.4 329.8L333.3 327.6L331.1 325.5L328.9 323.3L326.7 321.2L324.6 319.1L322.5 317.1L320.3 315.1L318.1 313.0L315.9 310.9L313.7 308.8L311.4 306.5L309.1 304.2L306.7 301.9L304.3 299.5L302.0 297.0L299.7 294.6L297.4 292.2L295.1 289.9L292.9 287.7L290.8 285.5L288.5 283.3L286.3 281.2L284.1 279.1L281.9 277.0L279.8 275.0L277.7 273.1L275.8 271.2L273.9 269.5L272.2 267.8L270.6 266.2L269.0 264.7L267.5 263.3L266.1 262.0L264.7 260.7L263.3 259.4L262.0 258.3L260.8 257.2L259.6 256.2L258.5 255.2L257.4 254.2L256.3 253.3L255.1 252.4L254.0 251.5L252.8 250.5L251.6 249.5L250.4 248.5L249.2 247.5L248.0 246.6L246.8 245.7L245.7 244.9L244.5 244.0L243.3 243.2L242.1 242.4L240.9 241.7L239.7 240.9L238.5 240.2L237.3 239.6L236.2 239.0L235.1 238.4L234.0 237.9L232.9 237.4L231.8 236.9L230.7 236.5L229.5 236.0L228.3 235.6L227.1 235.2L225.8 234.7L224.5 234.3L223.0 233.9L221.4 233.6L219.8 233.2L218.3 232.9L217.0 232.6L215.8 232.3L215.0 232.2Z" fill="#fffa00"/>
<path d="M415.5 355.0L415.3 356.4L415.1 358.3L414.8 360.5L414.5 363.0L414.2 365.5L414.0 368.0L413.7 370.2L413.6 372.0L413.5 373.4L413.5 374.7L413.5 375.7L413.5 376.6L413.6 377.5L413.6 378.3L413.6 379.1L413.7 380.0L413.7 380.9L413.7 381.6L413.7 382.3L413.7 383.0L413.8 383.8L413.9 384.7L414.1 385.8L414.2 387.2L414.3 388.8L414.4 390.8L414.5 393.0L414.7 395.3L415.0 397.7L415.4 400.1L415.8 402.5L416.4 404.9L417.1 407.3L417.9 409.6L418.8 411.9L419.7 414.2L420.6 416.5L421.5 418.7L422.4 420.9L423.2 423.1L423.9 425.2L424.5 427.3L425.2 429.5L425.8 431.6L426.5 433.9L427.2 436.2L428.0 438.6L428.9 441.2L429.9 443.9L431.1 446.6L432.2 449.3L433.4 452.1L434.6 454.9L435.8 457.9L436.9 461.0L438.0 464.3L439.0 467.9L440.0 471.7L441.0 475.6L442.0 479.8L442.9 484.0L443.8 488.4L444.6 492.8L445.3 497.2L446.0 501.8L446.6 506.7L447.1 511.7L447.6 516.8L448.0 521.9L448.4 526.8L448.8 531.3L449.1 535.5L449.3 539.4L449.5 543.1L449.6 546.7L449.6 550.1L449.7 553.2L449.7 555.9L449.7 558.2L449.7 560.0L444.9 560.1L444.9 558.3L444.9 555.9L444.9 553.2L444.9 550.2L444.8 546.8L444.7 543.3L444.6 539.6L444.3 535.8L444.0 531.7L443.7 527.1L443.3 522.3L442.8 517.3L442.3 512.2L441.8 507.2L441.2 502.4L440.5 497.9L439.8 493.6L439.0 489.3L438.1 485.0L437.2 480.8L436.2 476.8L435.2 472.9L434.2 469.1L433.2 465.7L432.2 462.5L431.2 459.6L430.0 456.8L428.9 454.0L427.7 451.3L426.5 448.5L425.3 445.7L424.3 442.9L423.3 440.2L422.5 437.7L421.7 435.3L421.1 433.1L420.5 430.9L419.9 428.8L419.3 426.8L418.7 424.7L418.0 422.7L417.2 420.6L416.3 418.4L415.5 416.1L414.7 413.7L414.0 411.2L413.3 408.7L412.7 406.2L412.2 403.6L412.0 401.0L411.9 398.4L411.9 395.9L412.2 393.4L412.4 391.2L412.7 389.2L412.9 387.4L413.0 386.0L413.0 384.8L413.0 383.9L413.0 383.1L413.0 382.4L413.0 381.7L413.1 380.9L413.2 380.1L413.3 379.2L413.4 378.3L413.3 377.5L413.3 376.6L413.3 375.7L413.3 374.7L413.4 373.4L413.5 372.0L413.7 370.2L413.9 368.0L414.2 365.5L414.5 363.0L414.8 360.5L415.0 358.3L415.3 356.4L415.4 355.0Z" fill="#fffa00"/>
<path d="M69.9 172.8L71.4 172.8L73.3 172.9L75.5 172.9L78.0 172.9L80.6 173.0L83.4 173.0L86.2 173.1L88.9 173.2L91.6 173.3L94.5 173.5L97.4 173.6L100.4 173.7L103.4 173.9L106.4 174.1L109.4 174.3L112.4 174.6L115.3 174.9L118.2 175.3L121.2 175.6L124.1 176.0L127.0 176.5L129.9 177.0L132.8 177.5L135.7 178.1L138.6 178.7L141.6 179.5L144.6 180.3L147.6 181.1L150.6 182.0L153.5 182.9L156.4 183.7L159.2 184.6L161.9 185.3L164.4 186.1L166.9 186.8L169.3 187.5L171.7 188.2L174.1 188.9L176.5 189.7L178.9 190.6L181.4 191.5L183.8 192.4L186.3 193.4L188.8 194.4L191.3 195.5L193.8 196.5L196.4 197.6L198.9 198.6L201.5 199.6L204.1 200.6L206.7 201.6L209.4 202.6L212.0 203.5L214.5 204.4L216.9 205.2L219.2 205.9L221.3 206.4L223.3 206.8L225.2 207.1L226.9 207.4L228.6 207.6L230.1 207.8L231.6 207.9L233.0 208.1L234.3 208.2L235.6 208.3L236.7 208.4L237.8 208.4L238.8 208.5L239.8 208.5L240.8 208.5L241.9 208.5L243.0 208.5L244.1 208.6L245.2 208.6L246.3 208.6L247.4 208.6L248.6 208.6L249.8 208.5L251.0 208.4L252.4 208.4L253.9 208.2L255.5 208.1L257.1 207.9L258.6 207.8L260.0 207.6L261.1 207.5L262.0 207.4L262.0 207.5L261.1 207.6L260.0 207.8L258.6 208.0L257.1 208.3L255.5 208.5L253.9 208.7L252.4 208.9L251.0 209.1L249.8 209.3L248.6 209.4L247.4 209.5L246.2 209.6L245.1 209.7L244.0 209.7L242.9 209.8L241.8 209.8L240.7 209.9L239.7 210.0L238.6 210.1L237.6 210.2L236.5 210.2L235.3 210.3L234.0 210.3L232.6 210.3L231.2 210.3L229.7 210.2L228.1 210.2L226.4 210.1L224.5 210.0L222.6 209.8L220.4 209.5L218.2 209.1L215.8 208.5L213.3 207.7L210.7 206.9L208.1 206.0L205.4 205.1L202.7 204.1L200.0 203.2L197.4 202.3L194.8 201.3L192.2 200.3L189.7 199.3L187.2 198.2L184.7 197.2L182.3 196.3L179.9 195.4L177.5 194.5L175.1 193.8L172.8 193.0L170.4 192.3L168.1 191.6L165.7 190.9L163.2 190.2L160.6 189.5L157.9 188.8L155.1 187.9L152.3 187.1L149.3 186.2L146.4 185.3L143.4 184.5L140.5 183.7L137.6 183.0L134.8 182.3L132.0 181.7L129.2 181.2L126.3 180.7L123.5 180.3L120.6 179.9L117.7 179.5L114.8 179.2L111.9 178.9L109.1 178.6L106.1 178.4L103.1 178.2L100.2 178.0L97.2 177.8L94.3 177.7L91.4 177.6L88.7 177.5L86.0 177.4L83.3 177.3L80.5 177.2L77.9 177.2L75.4 177.1L73.2 177.1L71.3 177.1L69.9 177.0Z" fill="#ffc700"/>
<path d="M215.0 232.1L215.9 232.2L217.0 232.4L218.4 232.6L219.9 232.8L221.4 233.1L223.0 233.3L224.6 233.6L225.9 233.9L227.2 234.2L228.5 234.5L229.7 234.8L230.9 235.1L232.1 235.4L233.3 235.8L234.5 236.2L235.7 236.6L236.9 237.1L238.1 237.7L239.4 238.3L240.7 238.9L241.9 239.6L243.2 240.3L244.5 241.1L245.8 241.8L247.0 242.6L248.2 243.4L249.5 244.3L250.8 245.2L252.0 246.1L253.3 247.0L254.5 248.0L255.7 248.9L257.0 249.8L258.2 250.7L259.3 251.6L260.5 252.6L261.7 253.5L262.9 254.5L264.2 255.6L265.5 256.8L266.9 258.0L268.4 259.3L269.9 260.6L271.4 262.0L273.0 263.5L274.7 265.1L276.4 266.7L278.3 268.4L280.2 270.2L282.3 272.1L284.5 274.1L286.7 276.1L289.0 278.2L291.2 280.3L293.5 282.5L295.8 284.7L298.0 286.9L300.3 289.2L302.7 291.5L305.0 293.9L307.4 296.4L309.8 298.7L312.1 301.1L314.4 303.3L316.7 305.5L319.0 307.7L321.2 309.7L323.4 311.8L325.5 313.8L327.7 315.9L329.9 317.9L332.1 320.0L334.3 322.2L336.5 324.4L338.7 326.5L340.9 328.7L343.1 331.0L345.3 333.2L347.5 335.5L349.7 337.8L352.0 340.1L354.4 342.6L356.8 345.0L359.2 347.5L361.5 350.0L363.7 352.4L365.8 354.8L367.6 357.0L369.4 359.2L371.0 361.3L372.5 363.4L373.9 365.5L375.2 367.5L376.5 369.6L377.7 371.6L378.9 373.6L380.1 375.5L381.3 377.2L382.4 378.9L383.4 380.6L384.4 382.3L385.3 383.9L386.1 385.7L386.8 387.5L387.6 389.5L388.3 391.8L388.9 394.2L389.5 396.6L389.9 398.9L390.4 401.0L390.7 402.7L391.0 404.0L390.9 404.0L390.6 402.7L390.1 401.0L389.6 398.9L389.0 396.7L388.3 394.3L387.5 391.9L386.6 389.8L385.7 387.9L384.9 386.1L384.0 384.5L383.0 382.9L381.9 381.4L380.7 379.8L379.5 378.2L378.2 376.5L376.9 374.7L375.6 372.8L374.2 370.8L372.9 368.9L371.4 366.9L370.0 365.0L368.4 363.0L366.7 361.1L364.8 359.2L363.0 357.0L360.9 354.8L358.7 352.5L356.3 350.1L353.9 347.7L351.5 345.3L349.0 343.0L346.7 340.7L344.4 338.5L342.2 336.2L340.0 334.0L337.8 331.8L335.7 329.6L333.5 327.4L331.3 325.2L329.1 323.1L327.0 321.0L324.8 318.9L322.7 316.9L320.5 314.8L318.4 312.8L316.1 310.7L313.9 308.5L311.6 306.3L309.3 304.0L306.9 301.6L304.6 299.2L302.2 296.8L299.9 294.3L297.6 292.0L295.4 289.6L293.2 287.4L291.0 285.2L288.7 283.1L286.5 280.9L284.3 278.8L282.1 276.8L280.0 274.8L277.9 272.8L276.0 271.0L274.2 269.2L272.4 267.6L270.8 266.0L269.2 264.5L267.7 263.1L266.3 261.7L264.9 260.4L263.5 259.2L262.2 258.0L261.0 256.9L259.8 255.9L258.7 254.9L257.6 254.0L256.5 253.1L255.3 252.2L254.1 251.2L252.9 250.2L251.7 249.2L250.5 248.2L249.4 247.3L248.2 246.4L247.0 245.5L245.8 244.6L244.6 243.8L243.4 243.0L242.2 242.2L241.0 241.4L239.8 240.7L238.6 240.0L237.4 239.4L236.3 238.8L235.1 238.2L234.0 237.7L232.9 237.2L231.8 236.7L230.7 236.3L229.5 235.9L228.3 235.5L227.1 235.0L225.8 234.6L224.5 234.2L223.0 233.8L221.4 233.5L219.8 233.1L218.3 232.8L217.0 232.5L215.8 232.3L215.0 232.1Z" fill="#ffc700"/>
<path d="M415.5 355.0L415.3 356.4L415.1 358.3L414.8 360.5L414.5 363.0L414.2 365.5L414.0 368.0L413.7 370.2L413.6 372.0L413.5 373.4L413.5 374.7L413.5 375.7L413.5 376.6L413.6 377.5L413.6 378.3L413.6 379.1L413.7 380.0L413.7 380.9L413.7 381.6L413.7 382.3L413.7 383.0L413.8 383.8L413.9 384.7L414.1 385.8L414.2 387.2L414.3 388.8L414.4 390.8L414.5 393.0L414.7 395.3L415.0 397.7L415.4 400.1L415.8 402.5L416.4 404.9L417.1 407.3L417.9 409.6L418.8 411.9L419.7 414.2L420.6 416.5L421.5 418.7L422.4 420.9L423.2 423.1L423.9 425.2L424.5 427.3L425.2 429.5L425.8 431.6L426.5 433.9L427.2 436.2L428.0 438.6L428.9 441.2L429.9 443.9L431.1 446.6L432.2 449.3L433.4 452.1L434.6 454.9L435.8 457.9L436.9 461.0L438.0 464.3L439.0 467.9L440.0 471.7L441.0 475.6L442.0 479.8L442.9 484.0L443.8 488.4L444.6 492.8L445.3 497.2L446.0 501.8L446.6 506.7L447.1 511.7L447.6 516.8L448.0 521.9L448.4 526.8L448.8 531.3L449.1 535.5L449.3 539.4L449.5 543.1L449.6 546.7L449.6 550.1L449.7 553.2L449.7 555.9L449.7 558.2L449.7 560.0L445.3 560.1L445.3 558.3L445.3 555.9L445.3 553.2L445.3 550.1L445.2 546.8L445.1 543.3L445.0 539.6L444.7 535.8L444.4 531.7L444.1 527.1L443.7 522.3L443.2 517.3L442.7 512.2L442.2 507.2L441.6 502.4L440.9 497.9L440.2 493.5L439.4 489.2L438.5 484.9L437.6 480.7L436.6 476.7L435.6 472.8L434.6 469.0L433.6 465.6L432.6 462.4L431.5 459.5L430.4 456.6L429.2 453.9L428.1 451.1L426.9 448.4L425.7 445.6L424.6 442.8L423.7 440.1L422.9 437.6L422.1 435.2L421.4 433.0L420.8 430.8L420.3 428.7L419.7 426.7L419.1 424.6L418.3 422.5L417.5 420.4L416.7 418.2L415.9 415.9L415.1 413.5L414.3 411.1L413.6 408.6L413.0 406.0L412.6 403.5L412.3 400.9L412.2 398.3L412.2 395.8L412.4 393.4L412.6 391.2L412.8 389.1L413.0 387.4L413.1 386.0L413.1 384.8L413.1 383.9L413.1 383.1L413.1 382.4L413.1 381.7L413.2 380.9L413.3 380.0L413.4 379.1L413.4 378.3L413.4 377.5L413.4 376.6L413.4 375.7L413.4 374.7L413.4 373.4L413.5 372.0L413.7 370.2L413.9 368.0L414.2 365.5L414.5 363.0L414.8 360.5L415.1 358.3L415.3 356.4L415.4 355.0Z" fill="#ffc700"/>
<path d="M69.9 172.8L71.4 172.8L73.3 172.9L75.5 172.9L78.0 172.9L80.6 173.0L83.4 173.0L86.2 173.1L88.9 173.2L91.6 173.3L94.5 173.5L97.4 173.6L100.4 173.7L103.4 173.9L106.4 174.1L109.4 174.3L112.4 174.6L115.3 174.9L118.2 175.3L121.2 175.6L124.1 176.0L127.0 176.5L129.9 177.0L132.8 177.5L135.7 178.1L138.6 178.7L141.6 179.5L144.6 180.3L147.6 181.1L150.6 182.0L153.5 182.9L156.4 183.7L159.2 184.6L161.9 185.3L164.4 186.1L166.9 186.8L169.3 187.5L171.7 188.2L174.1 188.9L176.5 189.7L178.9 190.6L181.4 191.5L183.8 192.4L186.3 193.4L188.8 194.4L191.3 195.5L193.8 196.5L196.4 197.6L198.9 198.6L201.5 199.6L204.1 200.6L206.7 201.6L209.4 202.6L212.0 203.5L214.5 204.4L216.9 205.2L219.2 205.9L221.3 206.4L223.3 206.8L225.2 207.1L226.9 207.4L228.6 207.6L230.1 207.8L231.6 207.9L233.0 208.1L234.3 208.2L235.6 208.3L236.7 208.4L237.8 208.4L238.8 208.5L239.8 208.5L240.8 208.5L241.9 208.5L243.0 208.5L244.1 208.6L245.2 208.6L246.3 208.6L247.4 208.6L248.6 208.6L249.8 208.5L251.0 208.4L252.4 208.4L253.9 208.2L255.5 208.1L257.1 207.9L258.6 207.8L260.0 207.6L261.1 207.5L262.0 207.4L262.0 207.4L261.1 207.6L260.0 207.7L258.6 208.0L257.1 208.2L255.5 208.5L253.9 208.7L252.4 208.9L251.0 209.0L249.8 209.2L248.6 209.3L247.4 209.4L246.3 209.5L245.1 209.6L244.0 209.6L242.9 209.7L241.8 209.7L240.7 209.8L239.7 209.9L238.6 210.0L237.6 210.0L236.5 210.1L235.3 210.1L234.0 210.1L232.6 210.1L231.2 210.1L229.7 210.0L228.1 210.0L226.4 209.9L224.6 209.7L222.6 209.5L220.5 209.3L218.3 208.9L215.9 208.2L213.4 207.4L210.8 206.6L208.2 205.7L205.5 204.8L202.8 203.8L200.1 202.9L197.5 202.0L195.0 201.0L192.4 199.9L189.8 198.9L187.3 197.9L184.8 196.9L182.4 195.9L180.0 195.0L177.6 194.2L175.2 193.4L172.9 192.6L170.6 191.9L168.2 191.2L165.8 190.5L163.3 189.9L160.7 189.1L158.1 188.4L155.3 187.6L152.4 186.7L149.4 185.8L146.5 185.0L143.5 184.1L140.6 183.3L137.7 182.6L134.9 181.9L132.1 181.4L129.2 180.8L126.4 180.4L123.5 179.9L120.7 179.5L117.8 179.2L114.9 178.8L112.0 178.5L109.1 178.2L106.2 178.0L103.2 177.8L100.2 177.6L97.2 177.5L94.3 177.3L91.4 177.2L88.7 177.1L86.0 177.0L83.3 176.9L80.6 176.8L77.9 176.8L75.4 176.7L73.2 176.7L71.3 176.7L69.9 176.7Z" fill="#ff9400"/>
<path d="M215.0 232.1L215.9 232.2L217.0 232.4L218.4 232.6L219.9 232.8L221.4 233.1L223.0 233.3L224.6 233.6L225.9 233.9L227.2 234.2L228.5 234.5L229.7 234.8L230.9 235.1L232.1 235.4L233.3 235.8L234.5 236.2L235.7 236.6L236.9 237.1L238.1 237.7L239.4 238.3L240.7 238.9L241.9 239.6L243.2 240.3L244.5 241.1L245.8 241.8L247.0 242.6L248.2 243.4L249.5 244.3L250.8 245.2L252.0 246.1L253.3 247.0L254.5 248.0L255.7 248.9L257.0 249.8L258.2 250.7L259.3 251.6L260.5 252.6L261.7 253.5L262.9 254.5L264.2 255.6L265.5 256.8L266.9 258.0L268.4 259.3L269.9 260.6L271.4 262.0L273.0 263.5L274.7 265.1L276.4 266.7L278.3 268.4L280.2 270.2L282.3 272.1L284.5 274.1L286.7 276.1L289.0 278.2L291.2 280.3L293.5 282.5L295.8 284.7L298.0 286.9L300.3 289.2L302.7 291.5L305.0 293.9L307.4 296.4L309.8 298.7L312.1 301.1L314.4 303.3L316.7 305.5L319.0 307.7L321.2 309.7L323.4 311.8L325.5 313.8L327.7 315.9L329.9 317.9L332.1 320.0L334.3 322.2L336.5 324.4L338.7 326.5L340.9 328.7L343.1 331.0L345.3 333.2L347.5 335.5L349.7 337.8L352.0 340.1L354.4 342.6L356.8 345.0L359.2 347.5L361.5 350.0L363.7 352.4L365.8 354.8L367.6 357.0L369.4 359.2L371.0 361.3L372.5 363.4L373.9 365.5L375.2 367.5L376.5 369.6L377.7 371.6L378.9 373.6L380.1 375.5L381.3 377.2L382.4 378.9L383.4 380.6L384.4 382.3L385.3 383.9L386.1 385.7L386.8 387.5L387.6 389.5L388.3 391.8L388.9 394.2L389.5 396.6L389.9 398.9L390.4 401.0L390.7 402.7L391.0 404.0L391.0 404.0L390.6 402.7L390.2 401.0L389.6 398.9L389.0 396.6L388.3 394.3L387.5 391.9L386.7 389.8L385.8 387.9L384.9 386.1L384.0 384.5L383.0 382.9L382.0 381.3L380.8 379.8L379.6 378.2L378.3 376.5L377.0 374.7L375.7 372.7L374.3 370.8L373.0 368.8L371.6 366.8L370.1 364.9L368.5 362.9L366.8 361.0L365.0 359.0L363.1 356.9L361.1 354.6L358.9 352.3L356.5 349.9L354.1 347.5L351.7 345.1L349.2 342.8L346.9 340.5L344.6 338.3L342.4 336.0L340.2 333.8L338.1 331.6L335.9 329.4L333.7 327.2L331.5 325.0L329.3 322.8L327.2 320.7L325.1 318.7L322.9 316.6L320.8 314.6L318.6 312.5L316.4 310.4L314.1 308.3L311.8 306.1L309.5 303.8L307.1 301.4L304.8 299.0L302.5 296.6L300.1 294.1L297.8 291.7L295.6 289.4L293.4 287.2L291.2 285.0L289.0 282.8L286.7 280.7L284.5 278.6L282.3 276.5L280.2 274.5L278.1 272.6L276.2 270.8L274.4 269.0L272.6 267.3L271.0 265.8L269.4 264.3L267.9 262.8L266.5 261.5L265.1 260.2L263.7 258.9L262.4 257.8L261.2 256.7L260.0 255.7L258.9 254.7L257.8 253.8L256.6 252.8L255.5 251.9L254.3 251.0L253.1 250.0L251.9 249.0L250.7 248.0L249.5 247.1L248.3 246.1L247.1 245.2L246.0 244.4L244.8 243.5L243.6 242.8L242.4 242.0L241.1 241.2L239.9 240.5L238.7 239.8L237.5 239.2L236.3 238.6L235.2 238.0L234.1 237.5L233.0 237.0L231.9 236.5L230.7 236.1L229.6 235.7L228.4 235.3L227.1 234.9L225.9 234.5L224.5 234.0L223.0 233.7L221.4 233.4L219.8 233.1L218.3 232.7L217.0 232.5L215.9 232.3L215.0 232.1Z" fill="#ff9400"/>
<path d="M415.5 355.0L415.3 356.4L415.1 358.3L414.8 360.5L414.5 363.0L414.2 365.5L414.0 368.0L413.7 370.2L413.6 372.0L413.5 373.4L413.5 374.7L413.5 375.7L413.5 376.6L413.6 377.5L413.6 378.3L413.6 379.1L413.7 380.0L413.7 380.9L413.7 381.6L413.7 382.3L413.7 383.0L413.8 383.8L413.9 384.7L414.1 385.8L414.2 387.2L414.3 388.8L414.4 390.8L414.5 393.0L414.7 395.3L415.0 397.7L415.4 400.1L415.8 402.5L416.4 404.9L417.1 407.3L417.9 409.6L418.8 411.9L419.7 414.2L420.6 416.5L421.5 418.7L422.4 420.9L423.2 423.1L423.9 425.2L424.5 427.3L425.2 429.5L425.8 431.6L426.5 433.9L427.2 436.2L428.0 438.6L428.9 441.2L429.9 443.9L431.1 446.6L432.2 449.3L433.4 452.1L434.6 454.9L435.8 457.9L436.9 461.0L438.0 464.3L439.0 467.9L440.0 471.7L441.0 475.6L442.0 479.8L442.9 484.0L443.8 488.4L444.6 492.8L445.3 497.2L446.0 501.8L446.6 506.7L447.1 511.7L447.6 516.8L448.0 521.9L448.4 526.8L448.8 531.3L449.1 535.5L449.3 539.4L449.5 543.1L449.6 546.7L449.6 550.1L449.7 553.2L449.7 555.9L449.7 558.2L449.7 560.0L445.7 560.1L445.7 558.2L445.7 555.9L445.7 553.2L445.7 550.1L445.6 546.8L445.5 543.3L445.4 539.6L445.1 535.8L444.8 531.6L444.5 527.1L444.1 522.2L443.6 517.2L443.1 512.2L442.6 507.2L442.0 502.3L441.3 497.8L440.6 493.5L439.8 489.1L438.9 484.8L438.0 480.7L437.0 476.6L436.0 472.7L435.0 468.9L434.0 465.5L433.0 462.3L431.9 459.3L430.8 456.5L429.6 453.7L428.4 451.0L427.2 448.2L426.1 445.4L425.0 442.6L424.1 440.0L423.2 437.4L422.5 435.1L421.8 432.8L421.2 430.7L420.7 428.6L420.1 426.5L419.4 424.5L418.7 422.4L417.9 420.3L417.0 418.0L416.2 415.7L415.4 413.4L414.7 410.9L413.9 408.4L413.3 405.9L412.9 403.4L412.6 400.8L412.5 398.2L412.4 395.8L412.6 393.3L412.8 391.1L413.0 389.1L413.2 387.4L413.3 385.9L413.2 384.8L413.2 383.9L413.2 383.1L413.2 382.4L413.2 381.7L413.3 380.9L413.4 380.0L413.4 379.1L413.5 378.3L413.5 377.5L413.4 376.6L413.4 375.7L413.4 374.7L413.5 373.4L413.6 372.0L413.7 370.2L413.9 368.0L414.2 365.5L414.5 363.0L414.8 360.5L415.1 358.3L415.3 356.4L415.5 355.0Z" fill="#ff9400"/>
<path d="M69.9 172.8L71.4 172.8L73.3 172.9L75.5 172.9L78.0 172.9L80.6 173.0L83.4 173.0L86.2 173.1L88.9 173.2L91.6 173.3L94.5 173.5L97.4 173.6L100.4 173.7L103.4 173.9L106.4 174.1L109.4 174.3L112.4 174.6L115.3 174.9L118.2 175.3L121.2 175.6L124.1 176.0L127.0 176.5L129.9 177.0L132.8 177.5L135.7 178.1L138.6 178.7L141.6 179.5L144.6 180.3L147.6 181.1L150.6 182.0L153.5 182.9L156.4 183.7L159.2 184.6L161.9 185.3L164.4 186.1L166.9 186.8L169.3 187.5L171.7 188.2L174.1 188.9L176.5 189.7L178.9 190.6L181.4 191.5L183.8 192.4L186.3 193.4L188.8 194.4L191.3 195.5L193.8 196.5L196.4 197.6L198.9 198.6L201.5 199.6L204.1 200.6L206.7 201.6L209.4 202.6L212.0 203.5L214.5 204.4L216.9 205.2L219.2 205.9L221.3 206.4L223.3 206.8L225.2 207.1L226.9 207.4L228.6 207.6L230.1 207.8L231.6 207.9L233.0 208.1L234.3 208.2L235.6 208.3L236.7 208.4L237.8 208.4L238.8 208.5L239.8 208.5L240.8 208.5L241.9 208.5L243.0 208.5L244.1 208.6L245.2 208.6L246.3 208.6L247.4 208.6L248.6 208.6L249.8 208.5L251.0 208.4L252.4 208.4L253.9 208.2L255.5 208.1L257.1 207.9L258.6 207.8L260.0 207.6L261.1 207.5L262.0 207.4L262.0 207.4L261.1 207.5L260.0 207.7L258.6 207.9L257.1 208.2L255.5 208.4L253.9 208.6L252.4 208.8L251.0 209.0L249.8 209.1L248.6 209.2L247.4 209.3L246.3 209.4L245.1 209.5L244.0 209.5L242.9 209.6L241.8 209.6L240.7 209.7L239.7 209.8L238.6 209.9L237.6 209.9L236.5 210.0L235.3 210.0L234.0 210.0L232.7 210.0L231.2 209.9L229.7 209.9L228.2 209.8L226.4 209.7L224.6 209.6L222.7 209.4L220.6 209.1L218.3 208.7L216.0 208.0L213.5 207.2L210.9 206.4L208.3 205.5L205.6 204.5L202.9 203.6L200.2 202.6L197.6 201.7L195.1 200.7L192.5 199.7L189.9 198.7L187.4 197.6L185.0 196.6L182.5 195.7L180.1 194.8L177.7 193.9L175.3 193.1L173.0 192.4L170.6 191.7L168.3 191.0L165.9 190.3L163.4 189.6L160.8 188.9L158.1 188.1L155.3 187.3L152.5 186.4L149.5 185.6L146.6 184.7L143.6 183.8L140.7 183.0L137.8 182.3L135.0 181.7L132.1 181.1L129.3 180.6L126.4 180.1L123.6 179.7L120.7 179.3L117.8 178.9L114.9 178.5L112.0 178.2L109.1 178.0L106.2 177.7L103.2 177.5L100.2 177.3L97.2 177.2L94.3 177.1L91.5 176.9L88.7 176.8L86.0 176.7L83.3 176.6L80.6 176.6L77.9 176.5L75.4 176.5L73.2 176.5L71.3 176.4L69.9 176.4Z" fill="#ff6100"/>
<path d="M215.0 232.1L215.9 232.2L217.0 232.4L218.4 232.6L219.9 232.8L221.4 233.1L223.0 233.3L224.6 233.6L225.9 233.9L227.2 234.2L228.5 234.5L229.7 234.8L230.9 235.1L232.1 235.4L233.3 235.8L234.5 236.2L235.7 236.6L236.9 237.1L238.1 237.7L239.4 238.3L240.7 238.9L241.9 239.6L243.2 240.3L244.5 241.1L245.8 241.8L247.0 242.6L248.2 243.4L249.5 244.3L250.8 245.2L252.0 246.1L253.3 247.0L254.5 248.0L255.7 248.9L257.0 249.8L258.2 250.7L259.3 251.6L260.5 252.6L261.7 253.5L262.9 254.5L264.2 255.6L265.5 256.8L266.9 258.0L268.4 259.3L269.9 260.6L271.4 262.0L273.0 263.5L274.7 265.1L276.4 266.7L278.3 268.4L280.2 270.2L282.3 272.1L284.5 274.1L286.7 276.1L289.0 278.2L291.2 280.3L293.5 282.5L295.8 284.7L298.0 286.9L300.3 289.2L302.7 291.5L305.0 293.9L307.4 296.4L309.8 298.7L312.1 301.1L314.4 303.3L316.7 305.5L319.0 307.7L321.2 309.7L323.4 311.8L325.5 313.8L327.7 315.9L329.9 317.9L332.1 320.0L334.3 322.2L336.5 324.4L338.7 326.5L340.9 328.7L343.1 331.0L345.3 333.2L347.5 335.5L349.7 337.8L352.0 340.1L354.4 342.6L356.8 345.0L359.2 347.5L361.5 350.0L363.7 352.4L365.8 354.8L367.6 357.0L369.4 359.2L371.0 361.3L372.5 363.4L373.9 365.5L375.2 367.5L376.5 369.6L377.7 371.6L378.9 373.6L380.1 375.5L381.3 377.2L382.4 378.9L383.4 380.6L384.4 382.3L385.3 383.9L386.1 385.7L386.8 387.5L387.6 389.5L388.3 391.8L388.9 394.2L389.5 396.6L389.9 398.9L390.4 401.0L390.7 402.7L391.0 404.0L391.0 404.0L390.6 402.7L390.2 401.0L389.7 398.9L389.1 396.6L388.4 394.3L387.6 391.9L386.7 389.8L385.8 387.8L385.0 386.1L384.1 384.5L383.1 382.9L382.0 381.3L380.9 379.7L379.7 378.1L378.4 376.4L377.1 374.6L375.7 372.7L374.4 370.7L373.1 368.8L371.7 366.8L370.2 364.8L368.6 362.9L366.9 360.9L365.1 359.0L363.2 356.8L361.2 354.5L359.0 352.2L356.6 349.8L354.2 347.4L351.8 345.0L349.4 342.6L347.0 340.3L344.7 338.1L342.6 335.9L340.4 333.6L338.2 331.4L336.0 329.2L333.9 327.0L331.7 324.8L329.5 322.7L327.3 320.6L325.2 318.5L323.1 316.5L320.9 314.4L318.7 312.4L316.5 310.3L314.3 308.1L312.0 305.9L309.7 303.6L307.3 301.2L304.9 298.8L302.6 296.4L300.3 294.0L298.0 291.6L295.7 289.3L293.5 287.0L291.3 284.9L289.1 282.7L286.9 280.5L284.6 278.4L282.5 276.4L280.3 274.4L278.3 272.4L276.4 270.6L274.5 268.8L272.8 267.2L271.1 265.6L269.6 264.1L268.1 262.7L266.6 261.3L265.2 260.0L263.9 258.8L262.6 257.6L261.3 256.5L260.2 255.5L259.0 254.5L257.9 253.6L256.8 252.7L255.6 251.7L254.4 250.8L253.2 249.8L252.0 248.8L250.8 247.8L249.6 246.9L248.4 246.0L247.2 245.1L246.1 244.2L244.9 243.4L243.7 242.6L242.4 241.8L241.2 241.1L240.0 240.3L238.8 239.6L237.6 239.0L236.4 238.4L235.2 237.9L234.1 237.3L233.0 236.8L231.9 236.4L230.8 236.0L229.6 235.6L228.4 235.2L227.1 234.8L225.9 234.4L224.5 234.0L223.0 233.6L221.4 233.3L219.8 233.0L218.3 232.7L217.0 232.4L215.9 232.2L215.0 232.1Z" fill="#ff6100"/>
<path d="M415.5 355.0L415.3 356.4L415.1 358.3L414.8 360.5L414.5 363.0L414.2 365.5L414.0 368.0L413.7 370.2L413.6 372.0L413.5 373.4L413.5 374.7L413.5 375.7L413.5 376.6L413.6 377.5L413.6 378.3L413.6 379.1L413.7 380.0L413.7 380.9L413.7 381.6L413.7 382.3L413.7 383.0L413.8 383.8L413.9 384.7L414.1 385.8L414.2 387.2L414.3 388.8L414.4 390.8L414.5 393.0L414.7 395.3L415.0 397.7L415.4 400.1L415.8 402.5L416.4 404.9L417.1 407.3L417.9 409.6L418.8 411.9L419.7 414.2L420.6 416.5L421.5 418.7L422.4 420.9L423.2 423.1L423.9 425.2L424.5 427.3L425.2 429.5L425.8 431.6L426.5 433.9L427.2 436.2L428.0 438.6L428.9 441.2L429.9 443.9L431.1 446.6L432.2 449.3L433.4 452.1L434.6 454.9L435.8 457.9L436.9 461.0L438.0 464.3L439.0 467.9L440.0 471.7L441.0 475.6L442.0 479.8L442.9 484.0L443.8 488.4L444.6 492.8L445.3 497.2L446.0 501.8L446.6 506.7L447.1 511.7L447.6 516.8L448.0 521.9L448.4 526.8L448.8 531.3L449.1 535.5L449.3 539.4L449.5 543.1L449.6 546.7L449.6 550.1L449.7 553.2L449.7 555.9L449.7 558.2L449.7 560.0L446.0 560.1L446.0 558.2L446.0 555.9L446.0 553.2L445.9 550.1L445.9 546.8L445.8 543.3L445.6 539.6L445.4 535.8L445.1 531.6L444.8 527.1L444.4 522.2L443.9 517.2L443.4 512.1L442.9 507.1L442.3 502.3L441.6 497.8L440.9 493.4L440.1 489.1L439.2 484.8L438.3 480.6L437.3 476.5L436.3 472.6L435.3 468.9L434.3 465.4L433.2 462.2L432.2 459.2L431.0 456.4L429.9 453.6L428.7 450.8L427.5 448.1L426.3 445.3L425.3 442.5L424.3 439.9L423.5 437.4L422.8 435.0L422.1 432.8L421.5 430.6L420.9 428.5L420.3 426.4L419.7 424.4L419.0 422.3L418.2 420.1L417.3 417.9L416.5 415.6L415.7 413.2L414.9 410.8L414.2 408.3L413.5 405.9L413.1 403.3L412.9 400.8L412.7 398.2L412.6 395.7L412.8 393.3L413.0 391.1L413.1 389.1L413.3 387.3L413.4 385.9L413.3 384.8L413.3 383.8L413.3 383.1L413.3 382.3L413.3 381.6L413.4 380.9L413.4 380.0L413.5 379.1L413.5 378.3L413.5 377.5L413.5 376.6L413.4 375.7L413.4 374.7L413.5 373.4L413.6 372.0L413.7 370.2L414.0 368.0L414.2 365.5L414.5 363.0L414.8 360.5L415.1 358.3L415.3 356.4L415.5 355.0Z" fill="#ff6100"/>
<path d="M69.9 172.8L71.4 172.8L73.3 172.9L75.5 172.9L78.0 172.9L80.6 173.0L83.4 173.0L86.2 173.1L88.9 173.2L91.6 173.3L94.5 173.5L97.4 173.6L100.4 173.7L103.4 173.9L106.4 174.1L109.4 174.3L112.4 174.6L115.3 174.9L118.2 175.3L121.2 175.6L124.1 176.0L127.0 176.5L129.9 177.0L132.8 177.5L135.7 178.1L138.6 178.7L141.6 179.5L144.6 180.3L147.6 181.1L150.6 182.0L153.5 182.9L156.4 183.7L159.2 184.6L161.9 185.3L164.4 186.1L166.9 186.8L169.3 187.5L171.7 188.2L174.1 188.9L176.5 189.7L178.9 190.6L181.4 191.5L183.8 192.4L186.3 193.4L188.8 194.4L191.3 195.5L193.8 196.5L196.4 197.6L198.9 198.6L201.5 199.6L204.1 200.6L206.7 201.6L209.4 202.6L212.0 203.5L214.5 204.4L216.9 205.2L219.2 205.9L221.3 206.4L223.3 206.8L225.2 207.1L226.9 207.4L228.6 207.6L230.1 207.8L231.6 207.9L233.0 208.1L234.3 208.2L235.6 208.3L236.7 208.4L237.8 208.4L238.8 208.5L239.8 208.5L240.8 208.5L241.9 208.5L243.0 208.5L244.1 208.6L245.2 208.6L246.3 208.6L247.4 208.6L248.6 208.6L249.8 208.5L251.0 208.4L252.4 208.4L253.9 208.2L255.5 208.1L257.1 207.9L258.6 207.8L260.0 207.6L261.1 207.5L262.0 207.4L262.0 207.4L261.1 207.5L260.0 207.7L258.6 207.9L257.1 208.2L255.5 208.4L253.9 208.6L252.4 208.8L251.0 208.9L249.8 209.1L248.6 209.2L247.4 209.3L246.3 209.4L245.1 209.4L244.0 209.5L242.9 209.5L241.8 209.6L240.7 209.6L239.7 209.7L238.7 209.8L237.6 209.8L236.5 209.9L235.3 209.9L234.1 209.9L232.7 209.9L231.2 209.8L229.8 209.8L228.2 209.7L226.5 209.6L224.7 209.5L222.7 209.2L220.6 209.0L218.4 208.6L216.0 207.9L213.6 207.1L211.0 206.2L208.3 205.3L205.6 204.4L202.9 203.4L200.3 202.5L197.7 201.5L195.1 200.5L192.6 199.5L190.0 198.5L187.5 197.4L185.0 196.4L182.6 195.5L180.2 194.6L177.8 193.7L175.4 192.9L173.1 192.2L170.7 191.4L168.3 190.7L165.9 190.1L163.5 189.4L160.9 188.7L158.2 187.9L155.4 187.1L152.5 186.2L149.6 185.3L146.6 184.5L143.7 183.6L140.7 182.8L137.8 182.1L135.0 181.5L132.2 180.9L129.3 180.4L126.5 179.9L123.6 179.4L120.7 179.0L117.8 178.7L114.9 178.3L112.0 178.0L109.1 177.8L106.2 177.5L103.2 177.3L100.2 177.1L97.2 177.0L94.3 176.9L91.5 176.7L88.7 176.6L86.1 176.5L83.3 176.4L80.6 176.4L77.9 176.3L75.4 176.3L73.2 176.2L71.3 176.2L69.9 176.2Z" fill="#ff2e00"/>
<path d="M215.0 232.1L215.9 232.2L217.0 232.4L218.4 232.6L219.9 232.8L221.4 233.1L223.0 233.3L224.6 233.6L225.9 233.9L227.2 234.2L228.5 234.5L229.7 234.8L230.9 235.1L232.1 235.4L233.3 235.8L234.5 236.2L235.7 236.6L236.9 237.1L238.1 237.7L239.4 238.3L240.7 238.9L241.9 239.6L243.2 240.3L244.5 241.1L245.8 241.8L247.0 242.6L248.2 243.4L249.5 244.3L250.8 245.2L252.0 246.1L253.3 247.0L254.5 248.0L255.7 248.9L257.0 249.8L258.2 250.7L259.3 251.6L260.5 252.6L261.7 253.5L262.9 254.5L264.2 255.6L265.5 256.8L266.9 258.0L268.4 259.3L269.9 260.6L271.4 262.0L273.0 263.5L274.7 265.1L276.4 266.7L278.3 268.4L280.2 270.2L282.3 272.1L284.5 274.1L286.7 276.1L289.0 278.2L291.2 280.3L293.5 282.5L295.8 284.7L298.0 286.9L300.3 289.2L302.7 291.5L305.0 293.9L307.4 296.4L309.8 298.7L312.1 301.1L314.4 303.3L316.7 305.5L319.0 307.7L321.2 309.7L323.4 311.8L325.5 313.8L327.7 315.9L329.9 317.9L332.1 320.0L334.3 322.2L336.5 324.4L338.7 326.5L340.9 328.7L343.1 331.0L345.3 333.2L347.5 335.5L349.7 337.8L352.0 340.1L354.4 342.6L356.8 345.0L359.2 347.5L361.5 350.0L363.7 352.4L365.8 354.8L367.6 357.0L369.4 359.2L371.0 361.3L372.5 363.4L373.9 365.5L375.2 367.5L376.5 369.6L377.7 371.6L378.9 373.6L380.1 375.5L381.3 377.2L382.4 378.9L383.4 380.6L384.4 382.3L385.3 383.9L386.1 385.7L386.8 387.5L387.6 389.5L388.3 391.8L388.9 394.2L389.5 396.6L389.9 398.9L390.4 401.0L390.7 402.7L391.0 404.0L391.0 404.0L390.6 402.7L390.2 401.0L389.7 398.9L389.1 396.6L388.4 394.3L387.6 391.9L386.7 389.7L385.8 387.8L385.0 386.1L384.1 384.4L383.1 382.9L382.1 381.3L380.9 379.7L379.7 378.1L378.4 376.4L377.1 374.6L375.8 372.7L374.5 370.7L373.1 368.7L371.7 366.8L370.3 364.8L368.7 362.8L367.0 360.9L365.2 358.9L363.3 356.7L361.3 354.5L359.1 352.1L356.7 349.7L354.3 347.3L351.9 344.9L349.5 342.5L347.1 340.2L344.8 338.0L342.7 335.8L340.5 333.5L338.3 331.3L336.2 329.1L334.0 326.9L331.8 324.7L329.6 322.6L327.5 320.5L325.3 318.4L323.2 316.4L321.0 314.3L318.8 312.3L316.6 310.2L314.4 308.0L312.1 305.8L309.8 303.5L307.4 301.1L305.1 298.7L302.7 296.3L300.4 293.8L298.1 291.5L295.9 289.1L293.6 286.9L291.4 284.7L289.2 282.6L287.0 280.4L284.8 278.3L282.6 276.2L280.4 274.2L278.4 272.3L276.5 270.5L274.6 268.7L272.9 267.1L271.2 265.5L269.7 264.0L268.2 262.5L266.7 261.2L265.3 259.9L264.0 258.6L262.7 257.5L261.4 256.4L260.3 255.4L259.1 254.4L258.0 253.5L256.9 252.5L255.7 251.6L254.5 250.7L253.3 249.7L252.1 248.7L250.9 247.7L249.7 246.8L248.5 245.8L247.3 244.9L246.1 244.1L244.9 243.3L243.7 242.5L242.5 241.7L241.3 240.9L240.1 240.2L238.8 239.5L237.6 238.9L236.4 238.3L235.3 237.8L234.2 237.2L233.0 236.7L231.9 236.3L230.8 235.9L229.6 235.5L228.4 235.1L227.2 234.7L225.9 234.3L224.5 233.9L223.0 233.6L221.4 233.3L219.8 233.0L218.3 232.7L217.0 232.4L215.9 232.2L215.0 232.1Z" fill="#ff2e00"/>
<path d="M415.5 355.0L415.3 356.4L415.1 358.3L414.8 360.5L414.5 363.0L414.2 365.5L414.0 368.0L413.7 370.2L413.6 372.0L413.5 373.4L413.5 374.7L413.5 375.7L413.5 376.6L413.6 377.5L413.6 378.3L413.6 379.1L413.7 380.0L413.7 380.9L413.7 381.6L413.7 382.3L413.7 383.0L413.8 383.8L413.9 384.7L414.1 385.8L414.2 387.2L414.3 388.8L414.4 390.8L414.5 393.0L414.7 395.3L415.0 397.7L415.4 400.1L415.8 402.5L416.4 404.9L417.1 407.3L417.9 409.6L418.8 411.9L419.7 414.2L420.6 416.5L421.5 418.7L422.4 420.9L423.2 423.1L423.9 425.2L424.5 427.3L425.2 429.5L425.8 431.6L426.5 433.9L427.2 436.2L428.0 438.6L428.9 441.2L429.9 443.9L431.1 446.6L432.2 449.3L433.4 452.1L434.6 454.9L435.8 457.9L436.9 461.0L438.0 464.3L439.0 467.9L440.0 471.7L441.0 475.6L442.0 479.8L442.9 484.0L443.8 488.4L444.6 492.8L445.3 497.2L446.0 501.8L446.6 506.7L447.1 511.7L447.6 516.8L448.0 521.9L448.4 526.8L448.8 531.3L449.1 535.5L449.3 539.4L449.5 543.1L449.6 546.7L449.6 550.1L449.7 553.2L449.7 555.9L449.7 558.2L449.7 560.0L446.2 560.1L446.2 558.2L446.2 555.9L446.2 553.2L446.1 550.1L446.1 546.8L446.0 543.3L445.8 539.6L445.6 535.7L445.3 531.6L444.9 527.0L444.6 522.2L444.1 517.2L443.6 512.1L443.1 507.1L442.5 502.3L441.8 497.7L441.1 493.4L440.3 489.0L439.4 484.7L438.5 480.6L437.5 476.5L436.5 472.6L435.5 468.8L434.4 465.3L433.4 462.1L432.4 459.2L431.2 456.3L430.1 453.5L428.9 450.8L427.7 448.0L426.5 445.3L425.5 442.5L424.5 439.8L423.7 437.3L423.0 434.9L422.3 432.7L421.7 430.5L421.1 428.4L420.5 426.4L419.9 424.3L419.2 422.2L418.3 420.1L417.5 417.9L416.7 415.5L415.9 413.2L415.1 410.7L414.3 408.3L413.7 405.8L413.3 403.3L413.0 400.7L412.8 398.2L412.7 395.7L412.9 393.3L413.1 391.1L413.2 389.1L413.4 387.3L413.4 385.9L413.4 384.8L413.3 383.8L413.3 383.1L413.3 382.3L413.4 381.6L413.4 380.9L413.5 380.0L413.5 379.1L413.6 378.3L413.5 377.5L413.5 376.6L413.5 375.7L413.5 374.7L413.5 373.4L413.6 372.0L413.7 370.2L414.0 368.0L414.2 365.5L414.5 363.0L414.8 360.5L415.1 358.3L415.3 356.4L415.5 355.0Z" fill="#ff2e00"/>
<path d="M69.9 172.8L71.4 172.8L73.3 172.9L75.5 172.9L78.0 172.9L80.6 173.0L83.4 173.0L86.2 173.1L88.9 173.2L91.6 173.3L94.5 173.5L97.4 173.6L100.4 173.7L103.4 173.9L106.4 174.1L109.4 174.3L112.4 174.6L115.3 174.9L118.2 175.3L121.2 175.6L124.1 176.0L127.0 176.5L129.9 177.0L132.8 177.5L135.7 178.1L138.6 178.7L141.6 179.5L144.6 180.3L147.6 181.1L150.6 182.0L153.5 182.9L156.4 183.7L159.2 184.6L161.9 185.3L164.4 186.1L166.9 186.8L169.3 187.5L171.7 188.2L174.1 188.9L176.5 189.7L178.9 190.6L181.4 191.5L183.8 192.4L186.3 193.4L188.8 194.4L191.3 195.5L193.8 196.5L196.4 197.6L198.9 198.6L201.5 199.6L204.1 200.6L206.7 201.6L209.4 202.6L212.0 203.5L214.5 204.4L216.9 205.2L219.2 205.9L221.3 206.4L223.3 206.8L225.2 207.1L226.9 207.4L228.6 207.6L230.1 207.8L231.6 207.9L233.0 208.1L234.3 208.2L235.6 208.3L236.7 208.4L237.8 208.4L238.8 208.5L239.8 208.5L240.8 208.5L241.9 208.5L243.0 208.5L244.1 208.6L245.2 208.6L246.3 208.6L247.4 208.6L248.6 208.6L249.8 208.5L251.0 208.4L252.4 208.4L253.9 208.2L255.5 208.1L257.1 207.9L258.6 207.8L260.0 207.6L261.1 207.5L262.0 207.4L262.0 207.4L261.1 207.5L260.0 207.7L258.6 207.9L257.1 208.1L255.5 208.4L253.9 208.6L252.4 208.8L251.0 208.9L249.8 209.0L248.6 209.2L247.4 209.3L246.3 209.3L245.1 209.4L244.0 209.4L242.9 209.5L241.8 209.5L240.7 209.6L239.7 209.7L238.7 209.7L237.6 209.8L236.5 209.8L235.3 209.8L234.1 209.8L232.7 209.8L231.3 209.8L229.8 209.7L228.2 209.6L226.5 209.5L224.7 209.4L222.7 209.1L220.6 208.8L218.4 208.5L216.1 207.8L213.6 207.0L211.0 206.1L208.4 205.2L205.7 204.2L203.0 203.3L200.4 202.3L197.8 201.4L195.2 200.4L192.6 199.4L190.1 198.3L187.6 197.3L185.1 196.3L182.7 195.3L180.2 194.4L177.8 193.5L175.5 192.7L173.1 192.0L170.8 191.3L168.4 190.6L166.0 189.9L163.5 189.2L160.9 188.5L158.2 187.8L155.4 186.9L152.6 186.1L149.6 185.2L146.7 184.3L143.7 183.5L140.8 182.7L137.9 181.9L135.0 181.3L132.2 180.7L129.4 180.2L126.5 179.7L123.6 179.3L120.7 178.9L117.9 178.5L114.9 178.2L112.1 177.9L109.1 177.6L106.2 177.3L103.2 177.1L100.2 177.0L97.2 176.8L94.3 176.7L91.5 176.6L88.7 176.5L86.1 176.4L83.3 176.3L80.6 176.2L77.9 176.2L75.4 176.1L73.2 176.1L71.3 176.1L69.9 176.0Z" fill="#ff0500"/>
<path d="M215.0 232.1L215.9 232.2L217.0 232.4L218.4 232.6L219.9 232.8L221.4 233.1L223.0 233.3L224.6 233.6L225.9 233.9L227.2 234.2L228.5 234.5L229.7 234.8L230.9 235.1L232.1 235.4L233.3 235.8L234.5 236.2L235.7 236.6L236.9 237.1L238.1 237.7L239.4 238.3L240.7 238.9L241.9 239.6L243.2 240.3L244.5 241.1L245.8 241.8L247.0 242.6L248.2 243.4L249.5 244.3L250.8 245.2L252.0 246.1L253.3 247.0L254.5 248.0L255.7 248.9L257.0 249.8L258.2 250.7L259.3 251.6L260.5 252.6L261.7 253.5L262.9 254.5L264.2 255.6L265.5 256.8L266.9 258.0L268.4 259.3L269.9 260.6L271.4 262.0L273.0 263.5L274.7 265.1L276.4 266.7L278.3 268.4L280.2 270.2L282.3 272.1L284.5 274.1L286.7 276.1L289.0 278.2L291.2 280.3L293.5 282.5L295.8 284.7L298.0 286.9L300.3 289.2L302.7 291.5L305.0 293.9L307.4 296.4L309.8 298.7L312.1 301.1L314.4 303.3L316.7 305.5L319.0 307.7L321.2 309.7L323.4 311.8L325.5 313.8L327.7 315.9L329.9 317.9L332.1 320.0L334.3 322.2L336.5 324.4L338.7 326.5L340.9 328.7L343.1 331.0L345.3 333.2L347.5 335.5L349.7 337.8L352.0 340.1L354.4 342.6L356.8 345.0L359.2 347.5L361.5 350.0L363.7 352.4L365.8 354.8L367.6 357.0L369.4 359.2L371.0 361.3L372.5 363.4L373.9 365.5L375.2 367.5L376.5 369.6L377.7 371.6L378.9 373.6L380.1 375.5L381.3 377.2L382.4 378.9L383.4 380.6L384.4 382.3L385.3 383.9L386.1 385.7L386.8 387.5L387.6 389.5L388.3 391.8L388.9 394.2L389.5 396.6L389.9 398.9L390.4 401.0L390.7 402.7L391.0 404.0L391.0 404.0L390.6 402.7L390.2 401.0L389.7 398.9L389.1 396.6L388.4 394.3L387.6 391.9L386.7 389.7L385.8 387.8L385.0 386.1L384.1 384.4L383.1 382.8L382.1 381.3L381.0 379.7L379.8 378.1L378.5 376.4L377.1 374.6L375.8 372.6L374.5 370.7L373.2 368.7L371.8 366.7L370.3 364.7L368.7 362.8L367.1 360.8L365.2 358.9L363.4 356.7L361.3 354.4L359.1 352.1L356.8 349.7L354.4 347.3L352.0 344.8L349.5 342.5L347.2 340.2L344.9 337.9L342.8 335.7L340.6 333.4L338.4 331.2L336.2 329.0L334.1 326.8L331.9 324.6L329.7 322.5L327.5 320.4L325.4 318.3L323.3 316.3L321.1 314.2L318.9 312.2L316.7 310.1L314.5 307.9L312.2 305.7L309.9 303.4L307.5 301.0L305.1 298.6L302.8 296.2L300.5 293.8L298.2 291.4L295.9 289.0L293.7 286.8L291.5 284.6L289.3 282.5L287.1 280.3L284.8 278.2L282.6 276.2L280.5 274.2L278.5 272.2L276.5 270.4L274.7 268.6L273.0 267.0L271.3 265.4L269.8 263.9L268.3 262.4L266.8 261.1L265.4 259.8L264.0 258.5L262.7 257.4L261.5 256.3L260.3 255.3L259.2 254.3L258.1 253.4L256.9 252.4L255.8 251.5L254.6 250.6L253.4 249.6L252.2 248.6L251.0 247.6L249.8 246.7L248.6 245.7L247.4 244.8L246.2 244.0L245.0 243.2L243.8 242.4L242.6 241.6L241.3 240.8L240.1 240.1L238.9 239.4L237.7 238.8L236.5 238.2L235.3 237.7L234.2 237.1L233.1 236.7L231.9 236.2L230.8 235.8L229.6 235.4L228.4 235.0L227.2 234.7L225.9 234.3L224.5 233.9L223.0 233.5L221.4 233.2L219.8 232.9L218.3 232.7L217.0 232.4L215.9 232.2L215.0 232.1Z" fill="#ff0500"/>
<path d="M415.5 355.0L415.3 356.4L415.1 358.3L414.8 360.5L414.5 363.0L414.2 365.5L414.0 368.0L413.7 370.2L413.6 372.0L413.5 373.4L413.5 374.7L413.5 375.7L413.5 376.6L413.6 377.5L413.6 378.3L413.6 379.1L413.7 380.0L413.7 380.9L413.7 381.6L413.7 382.3L413.7 383.0L413.8 383.8L413.9 384.7L414.1 385.8L414.2 387.2L414.3 388.8L414.4 390.8L414.5 393.0L414.7 395.3L415.0 397.7L415.4 400.1L415.8 402.5L416.4 404.9L417.1 407.3L417.9 409.6L418.8 411.9L419.7 414.2L420.6 416.5L421.5 418.7L422.4 420.9L423.2 423.1L423.9 425.2L424.5 427.3L425.2 429.5L425.8 431.6L426.5 433.9L427.2 436.2L428.0 438.6L428.9 441.2L429.9 443.9L431.1 446.6L432.2 449.3L433.4 452.1L434.6 454.9L435.8 457.9L436.9 461.0L438.0 464.3L439.0 467.9L440.0 471.7L441.0 475.6L442.0 479.8L442.9 484.0L443.8 488.4L444.6 492.8L445.3 497.2L446.0 501.8L446.6 506.7L447.1 511.7L447.6 516.8L448.0 521.9L448.4 526.8L448.8 531.3L449.1 535.5L449.3 539.4L449.5 543.1L449.6 546.7L449.6 550.1L449.7 553.2L449.7 555.9L449.7 558.2L449.7 560.0L446.4 560.1L446.4 558.2L446.3 555.9L446.3 553.2L446.3 550.1L446.2 546.8L446.1 543.3L446.0 539.6L445.8 535.7L445.5 531.6L445.1 527.0L444.7 522.2L444.3 517.2L443.8 512.1L443.2 507.1L442.6 502.3L442.0 497.7L441.2 493.3L440.4 489.0L439.5 484.7L438.6 480.5L437.6 476.4L436.6 472.5L435.6 468.8L434.6 465.3L433.6 462.1L432.5 459.1L431.4 456.2L430.2 453.4L429.0 450.7L427.8 448.0L426.7 445.2L425.6 442.4L424.7 439.7L423.9 437.3L423.1 434.9L422.4 432.7L421.8 430.5L421.3 428.4L420.7 426.3L420.0 424.2L419.3 422.1L418.5 420.0L417.6 417.8L416.8 415.5L416.0 413.1L415.2 410.7L414.5 408.2L413.8 405.8L413.4 403.2L413.1 400.7L412.9 398.1L412.8 395.7L413.0 393.3L413.1 391.0L413.3 389.0L413.4 387.3L413.5 385.9L413.4 384.8L413.4 383.8L413.4 383.0L413.4 382.3L413.4 381.6L413.4 380.9L413.5 380.0L413.5 379.1L413.6 378.3L413.6 377.5L413.5 376.6L413.5 375.7L413.5 374.7L413.5 373.4L413.6 372.0L413.7 370.2L414.0 368.0L414.2 365.5L414.5 363.0L414.8 360.5L415.1 358.3L415.3 356.4L415.5 355.0Z" fill="#ff0500"/>
<path d="M70.0 169.6L71.4 169.6L73.3 169.6L75.5 169.7L78.0 169.7L80.7 169.8L83.5 169.8L86.3 169.9L89.0 170.0L91.7 170.1L94.6 170.2L97.5 170.4L100.6 170.5L103.6 170.7L106.7 170.9L109.7 171.1L112.7 171.4L115.7 171.7L118.6 172.1L121.6 172.4L124.6 172.8L127.5 173.3L130.5 173.8L133.4 174.3L136.4 174.9L139.4 175.6L142.4 176.3L145.5 177.1L148.5 178.0L151.5 178.9L154.4 179.7L157.3 180.6L160.1 181.4L162.8 182.2L165.3 182.9L167.8 183.7L170.3 184.4L172.7 185.1L175.1 185.9L177.5 186.7L180.0 187.6L182.5 188.5L185.0 189.5L187.5 190.6L190.0 191.6L192.5 192.7L195.0 193.7L197.5 194.8L200.0 195.8L202.5 196.8L205.2 197.8L207.8 198.9L210.4 199.9L213.0 200.9L215.5 201.8L217.8 202.7L220.0 203.4L222.0 204.0L223.9 204.5L225.7 204.9L227.4 205.3L228.9 205.6L230.5 205.9L231.9 206.1L233.3 206.4L234.6 206.6L235.8 206.8L236.9 207.0L237.9 207.1L238.9 207.2L239.9 207.3L240.9 207.4L242.0 207.5L243.1 207.6L244.2 207.7L245.3 207.8L246.4 207.9L247.5 207.9L248.6 208.0L249.8 208.0L251.0 208.0L252.4 208.0L253.9 207.9L255.5 207.8L257.1 207.7L258.6 207.6L260.0 207.5L261.1 207.5L262.0 207.4L262.0 207.4L261.1 207.5L260.0 207.7L258.6 207.9L257.1 208.1L255.5 208.4L253.9 208.6L252.4 208.8L251.0 208.9L249.8 209.0L248.6 209.2L247.4 209.2L246.3 209.3L245.1 209.4L244.0 209.4L242.9 209.5L241.8 209.5L240.7 209.6L239.7 209.6L238.7 209.7L237.6 209.8L236.5 209.8L235.3 209.8L234.1 209.8L232.7 209.8L231.3 209.7L229.8 209.7L228.2 209.6L226.5 209.5L224.7 209.3L222.7 209.1L220.6 208.8L218.4 208.5L216.1 207.8L213.6 207.0L211.0 206.1L208.4 205.2L205.7 204.2L203.0 203.3L200.4 202.3L197.8 201.4L195.2 200.4L192.6 199.3L190.1 198.3L187.6 197.3L185.1 196.3L182.7 195.3L180.2 194.4L177.8 193.5L175.5 192.7L173.1 192.0L170.8 191.3L168.4 190.6L166.0 189.9L163.5 189.2L160.9 188.5L158.2 187.7L155.4 186.9L152.6 186.0L149.6 185.2L146.7 184.3L143.7 183.5L140.8 182.7L137.9 181.9L135.0 181.3L132.2 180.7L129.4 180.2L126.5 179.7L123.6 179.3L120.7 178.9L117.9 178.5L114.9 178.2L112.1 177.8L109.1 177.6L106.2 177.3L103.2 177.1L100.2 177.0L97.2 176.8L94.3 176.7L91.5 176.6L88.7 176.4L86.1 176.3L83.3 176.3L80.6 176.2L77.9 176.1L75.4 176.1L73.2 176.1L71.3 176.0L69.9 176.0Z" fill="#8a0000"/>
<path d="M215.0 232.1L215.9 232.2L217.0 232.4L218.4 232.5L219.9 232.7L221.5 232.9L223.1 233.2L224.6 233.4L226.0 233.6L227.3 233.8L228.6 234.0L229.8 234.2L231.0 234.4L232.3 234.6L233.5 234.9L234.7 235.2L236.0 235.6L237.3 236.1L238.6 236.6L239.9 237.1L241.2 237.8L242.5 238.4L243.9 239.1L245.2 239.8L246.5 240.5L247.8 241.3L249.1 242.0L250.4 242.9L251.7 243.7L253.0 244.6L254.3 245.5L255.6 246.4L256.9 247.3L258.2 248.2L259.4 249.1L260.6 250.0L261.8 250.9L263.0 251.8L264.3 252.8L265.6 253.8L267.0 255.0L268.5 256.2L269.9 257.5L271.5 258.8L273.0 260.2L274.6 261.7L276.3 263.2L278.1 264.8L280.0 266.5L282.0 268.3L284.1 270.1L286.3 272.1L288.5 274.1L290.8 276.1L293.2 278.2L295.5 280.3L297.8 282.5L300.1 284.7L302.5 287.0L304.9 289.3L307.3 291.7L309.7 294.1L312.0 296.4L314.4 298.8L316.7 301.0L319.0 303.2L321.2 305.3L323.4 307.3L325.6 309.3L327.8 311.4L330.0 313.4L332.2 315.5L334.4 317.6L336.6 319.8L338.8 321.9L341.1 324.1L343.3 326.3L345.5 328.5L347.7 330.8L350.0 333.1L352.2 335.4L354.5 337.8L356.8 340.3L359.2 342.8L361.5 345.3L363.8 347.9L366.0 350.4L368.1 352.8L370.0 355.2L371.7 357.5L373.3 359.8L374.7 362.0L376.0 364.2L377.3 366.4L378.4 368.5L379.6 370.6L380.7 372.6L381.8 374.5L382.8 376.4L383.8 378.2L384.7 379.9L385.6 381.7L386.4 383.5L387.1 385.3L387.8 387.2L388.4 389.3L388.9 391.6L389.4 394.1L389.8 396.5L390.2 398.8L390.5 400.9L390.8 402.7L391.0 404.0L391.0 404.0L390.6 402.7L390.2 401.0L389.7 398.9L389.1 396.6L388.4 394.3L387.6 391.9L386.7 389.7L385.8 387.8L385.0 386.1L384.1 384.4L383.1 382.8L382.1 381.3L381.0 379.7L379.8 378.1L378.5 376.4L377.2 374.6L375.9 372.6L374.5 370.7L373.2 368.7L371.8 366.7L370.3 364.7L368.7 362.8L367.1 360.8L365.2 358.8L363.4 356.7L361.4 354.4L359.1 352.1L356.8 349.7L354.4 347.2L352.0 344.8L349.6 342.5L347.2 340.2L344.9 337.9L342.8 335.7L340.6 333.4L338.4 331.2L336.3 329.0L334.1 326.8L331.9 324.6L329.7 322.5L327.6 320.4L325.4 318.3L323.3 316.3L321.1 314.2L318.9 312.2L316.7 310.1L314.5 307.9L312.2 305.7L309.9 303.4L307.5 301.0L305.2 298.6L302.8 296.2L300.5 293.7L298.2 291.4L296.0 289.0L293.7 286.8L291.5 284.6L289.3 282.5L287.1 280.3L284.8 278.2L282.7 276.1L280.5 274.1L278.5 272.2L276.6 270.4L274.7 268.6L273.0 266.9L271.3 265.4L269.8 263.9L268.3 262.4L266.8 261.1L265.4 259.8L264.1 258.5L262.8 257.4L261.5 256.3L260.3 255.2L259.2 254.3L258.1 253.3L256.9 252.4L255.8 251.5L254.6 250.6L253.4 249.6L252.2 248.6L251.0 247.6L249.8 246.7L248.6 245.7L247.4 244.8L246.2 244.0L245.0 243.2L243.8 242.4L242.6 241.6L241.3 240.8L240.1 240.1L238.9 239.4L237.7 238.8L236.5 238.2L235.3 237.7L234.2 237.1L233.1 236.6L231.9 236.2L230.8 235.8L229.6 235.4L228.4 235.0L227.2 234.7L225.9 234.2L224.5 233.9L223.0 233.5L221.4 233.2L219.8 232.9L218.3 232.7L217.0 232.4L215.9 232.2L215.0 232.1Z" fill="#8a0000"/>
<path d="M415.5 355.0L415.3 356.4L415.1 358.3L414.8 360.5L414.5 363.0L414.2 365.5L414.0 368.0L413.7 370.2L413.6 372.0L413.5 373.4L413.5 374.7L413.5 375.7L413.5 376.6L413.6 377.5L413.6 378.3L413.7 379.1L413.8 380.0L413.9 380.9L413.9 381.6L414.0 382.3L414.1 382.9L414.2 383.7L414.4 384.6L414.6 385.6L414.9 387.0L415.2 388.6L415.6 390.5L416.0 392.6L416.5 394.9L417.0 397.2L417.6 399.5L418.2 401.9L418.9 404.1L419.7 406.3L420.5 408.5L421.5 410.7L422.5 412.9L423.5 415.2L424.5 417.4L425.4 419.7L426.3 421.9L427.1 424.1L427.8 426.3L428.5 428.4L429.1 430.6L429.8 432.8L430.5 435.1L431.3 437.5L432.2 440.0L433.2 442.6L434.3 445.2L435.5 447.9L436.7 450.7L437.9 453.6L439.1 456.6L440.2 459.9L441.3 463.3L442.3 467.0L443.3 470.8L444.3 474.9L445.3 479.0L446.2 483.4L447.1 487.7L447.9 492.2L448.6 496.7L449.3 501.4L449.9 506.3L450.4 511.4L450.9 516.5L451.4 521.6L451.8 526.5L452.1 531.1L452.4 535.3L452.6 539.2L452.8 543.0L452.9 546.7L452.9 550.1L453.0 553.2L453.0 555.9L453.0 558.2L453.0 560.0L446.4 560.1L446.4 558.2L446.4 555.9L446.3 553.2L446.3 550.1L446.3 546.8L446.2 543.3L446.0 539.6L445.8 535.7L445.5 531.6L445.1 527.0L444.7 522.2L444.3 517.2L443.8 512.1L443.2 507.1L442.6 502.2L442.0 497.7L441.3 493.3L440.5 489.0L439.6 484.7L438.6 480.5L437.7 476.4L436.7 472.5L435.6 468.8L434.6 465.3L433.6 462.1L432.5 459.1L431.4 456.2L430.2 453.4L429.0 450.7L427.9 448.0L426.7 445.2L425.6 442.4L424.7 439.7L423.9 437.2L423.1 434.9L422.4 432.6L421.9 430.5L421.3 428.4L420.7 426.3L420.0 424.2L419.3 422.1L418.5 420.0L417.6 417.8L416.8 415.5L416.0 413.1L415.2 410.7L414.5 408.2L413.9 405.8L413.4 403.2L413.1 400.7L412.9 398.1L412.8 395.7L413.0 393.3L413.2 391.0L413.3 389.0L413.4 387.3L413.5 385.9L413.4 384.8L413.4 383.8L413.4 383.0L413.4 382.3L413.4 381.6L413.4 380.9L413.5 380.0L413.6 379.1L413.6 378.3L413.6 377.5L413.5 376.6L413.5 375.7L413.5 374.7L413.5 373.4L413.6 372.0L413.7 370.2L414.0 368.0L414.2 365.5L414.5 363.0L414.8 360.5L415.1 358.3L415.3 356.4L415.5 355.0Z" fill="#8a0000"/>
<path d="M70.0 168.7L71.4 168.7L73.3 168.7L75.5 168.8L78.0 168.8L80.7 168.9L83.5 168.9L86.3 169.0L89.0 169.1L91.8 169.2L94.6 169.3L97.6 169.5L100.6 169.6L103.7 169.8L106.7 170.0L109.8 170.2L112.8 170.5L115.8 170.8L118.7 171.2L121.7 171.5L124.7 171.9L127.7 172.4L130.6 172.9L133.6 173.4L136.6 174.0L139.6 174.7L142.6 175.4L145.7 176.3L148.7 177.1L151.7 178.0L154.7 178.9L157.6 179.7L160.4 180.5L163.0 181.3L165.6 182.1L168.1 182.8L170.5 183.5L173.0 184.3L175.4 185.1L177.8 185.9L180.3 186.8L182.8 187.7L185.3 188.7L187.8 189.7L190.3 190.8L192.8 191.9L195.3 192.9L197.8 194.0L200.3 195.0L202.9 196.0L205.5 197.0L208.1 198.1L210.7 199.1L213.3 200.1L215.8 201.0L218.1 201.8L220.3 202.5L222.3 203.1L224.1 203.6L225.9 204.1L227.5 204.4L229.1 204.7L230.6 205.0L232.1 205.3L233.5 205.5L234.8 205.7L235.9 205.9L237.0 206.1L238.0 206.2L239.0 206.3L240.0 206.4L241.0 206.5L242.1 206.7L243.2 206.9L244.2 207.0L245.3 207.1L246.4 207.3L247.5 207.4L248.6 207.5L249.8 207.6L251.0 207.6L252.3 207.7L253.9 207.6L255.4 207.6L257.1 207.6L258.6 207.5L260.0 207.5L261.1 207.4L262.0 207.4L262.0 207.4L261.1 207.5L260.0 207.5L258.6 207.6L257.1 207.7L255.5 207.8L253.9 207.9L252.4 208.0L251.0 208.0L249.8 208.0L248.6 208.0L247.5 207.9L246.4 207.9L245.3 207.8L244.2 207.7L243.1 207.6L242.0 207.5L240.9 207.4L239.9 207.3L238.9 207.2L237.9 207.1L236.9 207.0L235.8 206.8L234.6 206.6L233.3 206.4L231.9 206.1L230.5 205.9L228.9 205.6L227.4 205.3L225.7 204.9L223.9 204.5L222.0 204.0L220.0 203.4L217.8 202.7L215.5 201.8L213.0 200.9L210.4 199.9L207.8 198.9L205.2 197.8L202.5 196.8L200.0 195.8L197.5 194.8L195.0 193.7L192.5 192.7L190.0 191.6L187.5 190.6L185.0 189.5L182.5 188.5L180.0 187.6L177.5 186.7L175.1 185.9L172.7 185.1L170.3 184.4L167.8 183.7L165.3 182.9L162.8 182.2L160.1 181.4L157.3 180.6L154.4 179.7L151.5 178.9L148.5 178.0L145.5 177.1L142.4 176.3L139.4 175.6L136.4 174.9L133.4 174.3L130.5 173.8L127.5 173.3L124.6 172.8L121.6 172.4L118.6 172.1L115.7 171.7L112.7 171.4L109.7 171.1L106.7 170.9L103.6 170.7L100.6 170.5L97.5 170.4L94.6 170.2L91.7 170.1L89.0 170.0L86.3 169.9L83.5 169.8L80.7 169.8L78.0 169.7L75.5 169.7L73.3 169.6L71.4 169.6L70.0 169.6Z" fill="#8a0000" fill-opacity="0.4"/>
<path d="M215.0 232.1L215.9 232.2L217.0 232.3L218.4 232.5L219.9 232.6L221.5 232.8L223.1 233.0L224.6 233.2L226.0 233.3L227.3 233.5L228.6 233.6L229.9 233.7L231.1 233.8L232.4 234.0L233.7 234.2L235.0 234.4L236.3 234.8L237.6 235.2L238.9 235.7L240.3 236.3L241.6 236.9L243.0 237.6L244.3 238.3L245.6 239.0L246.9 239.7L248.3 240.5L249.6 241.3L250.9 242.1L252.2 243.0L253.5 243.9L254.8 244.8L256.1 245.7L257.4 246.6L258.7 247.5L259.9 248.3L261.1 249.2L262.3 250.1L263.6 251.1L264.8 252.1L266.2 253.2L267.6 254.3L269.0 255.5L270.5 256.8L272.0 258.2L273.6 259.6L275.2 261.0L276.9 262.6L278.7 264.2L280.6 265.8L282.6 267.6L284.7 269.5L286.9 271.4L289.1 273.4L291.4 275.4L293.8 277.6L296.1 279.7L298.4 281.8L300.7 284.1L303.1 286.3L305.5 288.7L307.9 291.1L310.3 293.5L312.7 295.8L315.0 298.1L317.3 300.4L319.6 302.5L321.8 304.6L324.0 306.7L326.2 308.7L328.4 310.7L330.6 312.8L332.8 314.8L335.0 317.0L337.2 319.1L339.5 321.3L341.7 323.5L343.9 325.7L346.2 327.9L348.4 330.2L350.6 332.4L352.9 334.8L355.1 337.2L357.5 339.6L359.8 342.2L362.2 344.7L364.5 347.3L366.7 349.8L368.8 352.3L370.7 354.7L372.4 357.0L374.0 359.3L375.5 361.5L376.8 363.8L378.0 365.9L379.2 368.1L380.4 370.1L381.5 372.2L382.6 374.1L383.6 376.0L384.6 377.8L385.5 379.5L386.4 381.3L387.2 383.1L388.0 385.0L388.6 386.9L389.1 389.1L389.5 391.5L389.8 394.0L390.1 396.5L390.4 398.8L390.6 400.9L390.8 402.7L391.0 404.0L391.0 404.0L390.8 402.7L390.5 400.9L390.2 398.8L389.8 396.5L389.4 394.1L388.9 391.6L388.4 389.3L387.8 387.2L387.1 385.3L386.4 383.5L385.6 381.7L384.7 379.9L383.8 378.2L382.8 376.4L381.8 374.5L380.7 372.6L379.6 370.6L378.4 368.5L377.3 366.4L376.0 364.2L374.7 362.0L373.3 359.8L371.7 357.5L370.0 355.2L368.1 352.8L366.0 350.4L363.8 347.9L361.5 345.3L359.2 342.8L356.8 340.3L354.5 337.8L352.2 335.4L350.0 333.1L347.7 330.8L345.5 328.5L343.3 326.3L341.1 324.1L338.8 321.9L336.6 319.8L334.4 317.6L332.2 315.5L330.0 313.4L327.8 311.4L325.6 309.3L323.4 307.3L321.2 305.3L319.0 303.2L316.7 301.0L314.4 298.8L312.0 296.4L309.7 294.1L307.3 291.7L304.9 289.3L302.5 287.0L300.1 284.7L297.8 282.5L295.5 280.3L293.2 278.2L290.8 276.1L288.5 274.1L286.3 272.1L284.1 270.1L282.0 268.3L280.0 266.5L278.1 264.8L276.3 263.2L274.6 261.7L273.0 260.2L271.5 258.8L269.9 257.5L268.5 256.2L267.0 255.0L265.6 253.8L264.3 252.8L263.0 251.8L261.8 250.9L260.6 250.0L259.4 249.1L258.2 248.2L256.9 247.3L255.6 246.4L254.3 245.5L253.0 244.6L251.7 243.7L250.4 242.9L249.1 242.0L247.8 241.3L246.5 240.5L245.2 239.8L243.9 239.1L242.5 238.4L241.2 237.8L239.9 237.1L238.6 236.6L237.3 236.1L236.0 235.6L234.7 235.2L233.5 234.9L232.3 234.6L231.0 234.4L229.8 234.2L228.6 234.0L227.3 233.8L226.0 233.6L224.6 233.4L223.1 233.2L221.5 232.9L219.9 232.7L218.4 232.5L217.0 232.4L215.9 232.2L215.0 232.1Z" fill="#8a0000" fill-opacity="0.4"/>
<path d="M415.5 355.0L415.3 356.4L415.1 358.3L414.8 360.5L414.5 363.0L414.2 365.5L414.0 368.0L413.7 370.2L413.6 372.0L413.5 373.4L413.5 374.7L413.5 375.7L413.5 376.6L413.6 377.5L413.7 378.3L413.8 379.1L413.9 380.0L414.0 380.8L414.2 381.6L414.3 382.2L414.4 382.9L414.6 383.6L414.8 384.5L415.1 385.6L415.5 386.9L416.0 388.5L416.5 390.4L416.9 392.5L417.4 394.7L417.9 397.0L418.5 399.3L419.1 401.6L419.8 403.8L420.5 406.0L421.4 408.2L422.3 410.4L423.3 412.6L424.3 414.8L425.3 417.1L426.3 419.3L427.1 421.6L427.9 423.8L428.7 426.0L429.3 428.2L430.0 430.3L430.7 432.6L431.4 434.8L432.2 437.2L433.0 439.7L434.0 442.3L435.1 444.9L436.3 447.6L437.5 450.3L438.7 453.3L439.9 456.3L441.1 459.6L442.2 463.0L443.2 466.7L444.2 470.6L445.2 474.6L446.2 478.8L447.1 483.2L447.9 487.6L448.8 492.1L449.5 496.6L450.2 501.3L450.8 506.2L451.3 511.3L451.8 516.5L452.3 521.5L452.7 526.4L453.0 531.0L453.3 535.2L453.5 539.2L453.7 543.0L453.8 546.6L453.8 550.1L453.9 553.2L453.9 555.9L453.9 558.2L453.9 560.0L453.0 560.0L453.0 558.2L453.0 555.9L453.0 553.2L452.9 550.1L452.9 546.7L452.8 543.0L452.6 539.2L452.4 535.3L452.1 531.1L451.8 526.5L451.4 521.6L450.9 516.5L450.4 511.4L449.9 506.3L449.3 501.4L448.6 496.7L447.9 492.2L447.1 487.7L446.2 483.4L445.3 479.0L444.3 474.9L443.3 470.8L442.3 467.0L441.3 463.3L440.2 459.9L439.1 456.6L437.9 453.6L436.7 450.7L435.5 447.9L434.3 445.2L433.2 442.6L432.2 440.0L431.3 437.5L430.5 435.1L429.8 432.8L429.1 430.6L428.5 428.4L427.8 426.3L427.1 424.1L426.3 421.9L425.4 419.7L424.5 417.4L423.5 415.2L422.5 412.9L421.5 410.7L420.5 408.5L419.7 406.3L418.9 404.1L418.2 401.9L417.6 399.5L417.0 397.2L416.5 394.9L416.0 392.6L415.6 390.5L415.2 388.6L414.9 387.0L414.6 385.6L414.4 384.6L414.2 383.7L414.1 382.9L414.0 382.3L413.9 381.6L413.9 380.9L413.8 380.0L413.7 379.1L413.6 378.3L413.6 377.5L413.5 376.6L413.5 375.7L413.5 374.7L413.5 373.4L413.6 372.0L413.7 370.2L414.0 368.0L414.2 365.5L414.5 363.0L414.8 360.5L415.1 358.3L415.3 356.4L415.5 355.0Z" fill="#8a0000" fill-opacity="0.4"/>
<path d="M214.5 232 L227 234" stroke="#80f0ff" stroke-width="1.3" fill="none" opacity="0.75" stroke-linecap="round"/>
<path d="M250 207.7 C265 205.6 280 203 294 201.2" stroke="#e0c040" stroke-width="1.1" fill="none" opacity="0.6" stroke-dasharray="4 1.5"/>
<path d="M250 208.6 C265 206.6 280 204 294 202.1" stroke="#30c0ff" stroke-width="0.9" fill="none" opacity="0.55"/>
<path d="M294 201.2 C310 199.8 325 199.5 345 200" stroke="#a0e0ff" stroke-width="1.2" fill="none" stroke-dasharray="1.5 6" opacity="0.6"/>
<path d="M420.4 271 C421.5 290 422.6 305 421.5 322" stroke="#a0c8ff" stroke-width="1.2" fill="none" stroke-dasharray="1.5 7" opacity="0.7"/>
<path d="M422.6 295 L422.7 306" stroke="#c00000" stroke-width="1.3" fill="none" opacity="0.8"/>
<path d="M421.5 322 C420 340 417 355 414 370" stroke="#c0e8ff" stroke-width="1.3" fill="none" stroke-dasharray="3 2.5" opacity="0.8"/>
</g>
<path d="M89.6 36.5 V534.6 H588.5" stroke="#000028" stroke-width="1.2" fill="none" opacity="0.75"/>
<path d="M89.6 36.4 H588.5 V534.6" stroke="#000040" stroke-width="0.8" fill="none" opacity="0.4"/>
<path d="M89.0 536V550 M89.0 36V22 M89 536.0H74 M589 536.0H604 M189.0 536V550 M189.0 36V22 M89 436.0H74 M589 436.0H604 M289.0 536V550 M289.0 36V22 M89 336.0H74 M589 336.0H604 M389.0 536V550 M389.0 36V22 M89 236.0H74 M589 236.0H604 M489.0 536V550 M489.0 36V22 M89 136.0H74 M589 136.0H604 M589.0 536V550 M589.0 36V22 M89 36.0H74 M589 36.0H604" stroke="#7a7a7a" stroke-width="1.2" fill="none"/>
<text x="48.50" y="546.32" font-family="Liberation Sans, sans-serif" font-size="26.5" fill="#111">0</text>
<text x="80.93" y="582.32" font-family="Liberation Sans, sans-serif" font-size="26.5" fill="#111">0</text>
<text x="48.76" y="446.32" font-family="Liberation Sans, sans-serif" font-size="26.5" fill="#111">1</text>
<text x="180.57" y="582.32" font-family="Liberation Sans, sans-serif" font-size="26.5" fill="#111">1</text>
<text x="48.79" y="346.45" font-family="Liberation Sans, sans-serif" font-size="26.5" fill="#111">2</text>
<text x="280.93" y="582.45" font-family="Liberation Sans, sans-serif" font-size="26.5" fill="#111">2</text>
<text x="48.63" y="246.32" font-family="Liberation Sans, sans-serif" font-size="26.5" fill="#111">3</text>
<text x="381.01" y="582.32" font-family="Liberation Sans, sans-serif" font-size="26.5" fill="#111">3</text>
<text x="48.24" y="146.32" font-family="Liberation Sans, sans-serif" font-size="26.5" fill="#111">4</text>
<text x="481.02" y="582.32" font-family="Liberation Sans, sans-serif" font-size="26.5" fill="#111">4</text>
<text x="48.57" y="46.19" font-family="Liberation Sans, sans-serif" font-size="26.5" fill="#111">5</text>
<text x="580.96" y="582.19" font-family="Liberation Sans, sans-serif" font-size="26.5" fill="#111">5</text>
<defs><linearGradient id="cbg" x1="0" y1="0" x2="0" y2="1"><stop offset="0.00000" stop-color="#870000"/><stop offset="0.01562" stop-color="#870000"/><stop offset="0.01562" stop-color="#970000"/><stop offset="0.03125" stop-color="#970000"/><stop offset="0.03125" stop-color="#a70000"/><stop offset="0.04688" stop-color="#a70000"/><stop offset="0.04688" stop-color="#b70000"/><stop offset="0.06250" stop-color="#b70000"/><stop offset="0.06250" stop-color="#c70000"/><stop offset="0.07812" stop-color="#c70000"/><stop offset="0.07812" stop-color="#d70000"/><stop offset="0.09375" stop-color="#d70000"/><stop offset="0.09375" stop-color="#e70000"/><stop offset="0.10938" stop-color="#e70000"/><stop offset="0.10938" stop-color="#f70000"/><stop offset="0.12500" stop-color="#f70000"/><stop offset="0.12500" stop-color="#ff0800"/><stop offset="0.14062" stop-color="#ff0800"/><stop offset="0.14062" stop-color="#ff1800"/><stop offset="0.15625" stop-color="#ff1800"/><stop offset="0.15625" stop-color="#ff2800"/><stop offset="0.17188" stop-color="#ff2800"/><stop offset="0.17188" stop-color="#ff3800"/><stop offset="0.18750" stop-color="#ff3800"/><stop offset="0.18750" stop-color="#ff4800"/><stop offset="0.20312" stop-color="#ff4800"/><stop offset="0.20312" stop-color="#ff5800"/><stop offset="0.21875" stop-color="#ff5800"/><stop offset="0.21875" stop-color="#ff6800"/><stop offset="0.23438" stop-color="#ff6800"/><stop offset="0.23438" stop-color="#ff7800"/><stop offset="0.25000" stop-color="#ff7800"/><stop offset="0.25000" stop-color="#ff8700"/><stop offset="0.26562" stop-color="#ff8700"/><stop offset="0.26562" stop-color="#ff9700"/><stop offset="0.28125" stop-color="#ff9700"/><stop offset="0.28125" stop-color="#ffa700"/><stop offset="0.29688" stop-color="#ffa700"/><stop offset="0.29688" stop-color="#ffb700"/><stop offset="0.31250" stop-color="#ffb700"/><stop offset="0.31250" stop-color="#ffc700"/><stop offset="0.32812" stop-color="#ffc700"/><stop offset="0.32812" stop-color="#ffd700"/><stop offset="0.34375" stop-color="#ffd700"/><stop offset="0.34375" stop-color="#ffe700"/><stop offset="0.35938" stop-color="#ffe700"/><stop offset="0.35938" stop-color="#fff700"/><stop offset="0.37500" stop-color="#fff700"/><stop offset="0.37500" stop-color="#f7ff08"/><stop offset="0.39062" stop-color="#f7ff08"/><stop offset="0.39062" stop-color="#e7ff18"/><stop offset="0.40625" stop-color="#e7ff18"/><stop offset="0.40625" stop-color="#d7ff28"/><stop offset="0.42188" stop-color="#d7ff28"/><stop offset="0.42188" stop-color="#c7ff38"/><stop offset="0.43750" stop-color="#c7ff38"/><stop offset="0.43750" stop-color="#b7ff48"/><stop offset="0.45312" stop-color="#b7ff48"/><stop offset="0.45312" stop-color="#a7ff58"/><stop offset="0.46875" stop-color="#a7ff58"/><stop offset="0.46875" stop-color="#97ff68"/><stop offset="0.48438" stop-color="#97ff68"/><stop offset="0.48438" stop-color="#87ff78"/><stop offset="0.50000" stop-color="#87ff78"/><stop offset="0.50000" stop-color="#78ff87"/><stop offset="0.51562" stop-color="#78ff87"/><stop offset="0.51562" stop-color="#68ff97"/><stop offset="0.53125" stop-color="#68ff97"/><stop offset="0.53125" stop-color="#58ffa7"/><stop offset="0.54688" stop-color="#58ffa7"/><stop offset="0.54688" stop-color="#48ffb7"/><stop offset="0.56250" stop-color="#48ffb7"/><stop offset="0.56250" stop-color="#38ffc7"/><stop offset="0.57812" stop-color="#38ffc7"/><stop offset="0.57812" stop-color="#28ffd7"/><stop offset="0.59375" stop-color="#28ffd7"/><stop offset="0.59375" stop-color="#18ffe7"/><stop offset="0.60938" stop-color="#18ffe7"/><stop offset="0.60938" stop-color="#08fff7"/><stop offset="0.62500" stop-color="#08fff7"/><stop offset="0.62500" stop-color="#00f7ff"/><stop offset="0.64062" stop-color="#00f7ff"/><stop offset="0.64062" stop-color="#00e7ff"/><stop offset="0.65625" stop-color="#00e7ff"/><stop offset="0.65625" stop-color="#00d7ff"/><stop offset="0.67188" stop-color="#00d7ff"/><stop offset="0.67188" stop-color="#00c7ff"/><stop offset="0.68750" stop-color="#00c7ff"/><stop offset="0.68750" stop-color="#00b7ff"/><stop offset="0.70312" stop-color="#00b7ff"/><stop offset="0.70312" stop-color="#00a7ff"/><stop offset="0.71875" stop-color="#00a7ff"/><stop offset="0.71875" stop-color="#0097ff"/><stop offset="0.73438" stop-color="#0097ff"/><stop offset="0.73438" stop-color="#0087ff"/><stop offset="0.75000" stop-color="#0087ff"/><stop offset="0.75000" stop-color="#0078ff"/><stop offset="0.76562" stop-color="#0078ff"/><stop offset="0.76562" stop-color="#0068ff"/><stop offset="0.78125" stop-color="#0068ff"/><stop offset="0.78125" stop-color="#0058ff"/><stop offset="0.79688" stop-color="#0058ff"/><stop offset="0.79688" stop-color="#0048ff"/><stop offset="0.81250" stop-color="#0048ff"/><stop offset="0.81250" stop-color="#0038ff"/><stop offset="0.82812" stop-color="#0038ff"/><stop offset="0.82812" stop-color="#0028ff"/><stop offset="0.84375" stop-color="#0028ff"/><stop offset="0.84375" stop-color="#0018ff"/><stop offset="0.85938" stop-color="#0018ff"/><stop offset="0.85938" stop-color="#0008ff"/><stop offset="0.87500" stop-color="#0008ff"/><stop offset="0.87500" stop-color="#0000f7"/><stop offset="0.89062" stop-color="#0000f7"/><stop offset="0.89062" stop-color="#0000e7"/><stop offset="0.90625" stop-color="#0000e7"/><stop offset="0.90625" stop-color="#0000d7"/><stop offset="0.92188" stop-color="#0000d7"/><stop offset="0.92188" stop-color="#0000c7"/><stop offset="0.93750" stop-color="#0000c7"/><stop offset="0.93750" stop-color="#0000b7"/><stop offset="0.95312" stop-color="#0000b7"/><stop offset="0.95312" stop-color="#0000a7"/><stop offset="0.96875" stop-color="#0000a7"/><stop offset="0.96875" stop-color="#000097"/><stop offset="0.98438" stop-color="#000097"/><stop offset="0.98438" stop-color="#000087"/><stop offset="1.00000" stop-color="#000087"/></linearGradient></defs>
<rect x="617" y="36" width="34" height="500" fill="url(#cbg)"/>
<rect x="617" y="36" width="34" height="500" fill="none" stroke="#555" stroke-width="0.6"/>
<text x="661" y="46" font-family="Liberation Sans, sans-serif" font-size="26" fill="#111">1</text>
<text x="660" y="547" font-family="Liberation Sans, sans-serif" font-size="26" fill="#111">0</text>
<text x="1.24" y="20.37" font-family="Liberation Sans, sans-serif" font-weight="bold" font-size="33.40" textLength="16.38" lengthAdjust="spacingAndGlyphs" fill="#000">a</text>
<text x="194.36" y="624.20" font-family="Liberation Sans, sans-serif" font-size="27.00" textLength="116.62" lengthAdjust="spacingAndGlyphs" fill="#000">Slowness</text><text x="319.24" y="624.20" font-family="Liberation Sans, sans-serif" font-size="27.00" textLength="8.92" lengthAdjust="spacingAndGlyphs" fill="#000">(</text><text x="330.87" y="623.90" font-family="Liberation Serif, serif" font-size="29.00" textLength="18.72" lengthAdjust="spacingAndGlyphs" fill="#000">×</text><text x="354.59" y="624.20" font-family="Liberation Serif, serif" font-size="25.00" textLength="29.75" lengthAdjust="spacingAndGlyphs" fill="#000">10</text><text x="383.33" y="614.90" font-family="Liberation Serif, serif" font-size="16.00" textLength="12.12" lengthAdjust="spacingAndGlyphs" fill="#000">−</text><text x="396.30" y="616.10" font-family="Liberation Serif, serif" font-size="16.50" textLength="12.69" lengthAdjust="spacingAndGlyphs" fill="#000">4</text><text x="418.56" y="624.20" font-family="Liberation Sans, sans-serif" font-size="27.00" textLength="42.79" lengthAdjust="spacingAndGlyphs" fill="#000">s/m</text><text x="462.94" y="624.20" font-family="Liberation Sans, sans-serif" font-size="27.00" textLength="8.92" lengthAdjust="spacingAndGlyphs" fill="#000">)</text>
<g transform="rotate(-90 25.50 422.70)"><text x="24.26" y="422.70" font-family="Liberation Sans, sans-serif" font-size="27.00" textLength="116.62" lengthAdjust="spacingAndGlyphs" fill="#000">Slowness</text><text x="149.14" y="422.70" font-family="Liberation Sans, sans-serif" font-size="27.00" textLength="8.92" lengthAdjust="spacingAndGlyphs" fill="#000">(</text><text x="160.77" y="422.40" font-family="Liberation Serif, serif" font-size="29.00" textLength="18.72" lengthAdjust="spacingAndGlyphs" fill="#000">×</text><text x="184.49" y="422.70" font-family="Liberation Serif, serif" font-size="25.00" textLength="29.75" lengthAdjust="spacingAndGlyphs" fill="#000">10</text><text x="213.23" y="413.40" font-family="Liberation Serif, serif" font-size="16.00" textLength="12.12" lengthAdjust="spacingAndGlyphs" fill="#000">−</text><text x="226.20" y="414.60" font-family="Liberation Serif, serif" font-size="16.50" textLength="12.69" lengthAdjust="spacingAndGlyphs" fill="#000">4</text><text x="248.46" y="422.70" font-family="Liberation Sans, sans-serif" font-size="27.00" textLength="42.79" lengthAdjust="spacingAndGlyphs" fill="#000">s/m</text><text x="292.84" y="422.70" font-family="Liberation Sans, sans-serif" font-size="27.00" textLength="8.92" lengthAdjust="spacingAndGlyphs" fill="#000">)</text></g>
<text x="133.2" y="164.7" font-family="Liberation Sans, sans-serif" font-size="50.4" fill="#fff" stroke="#fff" stroke-width="0.7">RW</text>
<text x="282.0" y="185.9" font-family="Liberation Sans, sans-serif" font-size="50.0" fill="#fff" stroke="#fff" stroke-width="0.7">ST</text>
<text x="317.2" y="259.3" font-family="Liberation Sans, sans-serif" font-size="49.4" fill="#fff" stroke="#fff" stroke-width="0.7">PSAW</text>
<text x="435.3" y="333.9" font-family="Liberation Sans, sans-serif" font-size="51.0" fill="#fff" stroke="#fff" stroke-width="0.7">ST</text>
<text x="230.0" y="369.2" font-family="Liberation Sans, sans-serif" font-size="51.2" fill="#fff" stroke="#fff" stroke-width="0.7">FT</text>
<text x="173.4" y="446.5" font-family="Liberation Sans, sans-serif" font-size="51.8" fill="#fff" stroke="#fff" stroke-width="0.7">L</text>
<text x="450.5" y="467.5" font-family="Liberation Sans, sans-serif" font-size="50.5" fill="#fff" stroke="#fff" stroke-width="0.7">RW</text>
<path d="M348.3 261.3 L322.5 294.6" stroke="#fff" stroke-width="3.4" fill="none" stroke-linecap="round"/>
<path d="M324 281.4 L320.9 297.2 L336.1 290.4" stroke="#fff" stroke-width="3.5" fill="none" stroke-linecap="round" stroke-linejoin="miter" stroke-miterlimit="10"/>
<path d="M88.7 1173.7V1187.7 M88.7 702V688 M88.7 1173.7H73.7 M589.5 1173.7H604 M188.9 1173.7V1187.7 M188.9 702V688 M88.7 1079.4H73.7 M589.5 1079.4H604 M289.0 1173.7V1187.7 M289.0 702V688 M88.7 985.0H73.7 M589.5 985.0H604 M389.2 1173.7V1187.7 M389.2 702V688 M88.7 890.7H73.7 M589.5 890.7H604 M489.3 1173.7V1187.7 M489.3 702V688 M88.7 796.3H73.7 M589.5 796.3H604 M589.5 1173.7V1187.7 M589.5 702V688 M88.7 702.0H73.7 M589.5 702.0H604" stroke="#333" stroke-width="1.3" fill="none"/>
<rect x="88.7" y="702" width="500.8" height="471.7" fill="none" stroke="#333" stroke-width="1.3"/>
<text x="48.76" y="0" transform="translate(0 1183.43) scale(1 0.920)" font-family="Liberation Sans, sans-serif" font-size="26.0" fill="#111">0</text>
<text x="81.27" y="0" transform="translate(0 1217.63) scale(1 0.920)" font-family="Liberation Sans, sans-serif" font-size="26.0" fill="#111">0</text>
<text x="49.01" y="0" transform="translate(0 1089.09) scale(1 0.920)" font-family="Liberation Sans, sans-serif" font-size="26.0" fill="#111">1</text>
<text x="181.07" y="0" transform="translate(0 1217.63) scale(1 0.920)" font-family="Liberation Sans, sans-serif" font-size="26.0" fill="#111">1</text>
<text x="49.05" y="0" transform="translate(0 994.87) scale(1 0.920)" font-family="Liberation Sans, sans-serif" font-size="26.0" fill="#111">2</text>
<text x="281.59" y="0" transform="translate(0 1217.75) scale(1 0.920)" font-family="Liberation Sans, sans-serif" font-size="26.0" fill="#111">2</text>
<text x="48.88" y="0" transform="translate(0 900.41) scale(1 0.920)" font-family="Liberation Sans, sans-serif" font-size="26.0" fill="#111">3</text>
<text x="381.83" y="0" transform="translate(0 1217.63) scale(1 0.920)" font-family="Liberation Sans, sans-serif" font-size="26.0" fill="#111">3</text>
<text x="48.50" y="0" transform="translate(0 806.07) scale(1 0.920)" font-family="Liberation Sans, sans-serif" font-size="26.0" fill="#111">4</text>
<text x="481.99" y="0" transform="translate(0 1217.63) scale(1 0.920)" font-family="Liberation Sans, sans-serif" font-size="26.0" fill="#111">4</text>
<text x="48.83" y="0" transform="translate(0 711.61) scale(1 0.920)" font-family="Liberation Sans, sans-serif" font-size="26.0" fill="#111">5</text>
<text x="582.10" y="0" transform="translate(0 1217.51) scale(1 0.920)" font-family="Liberation Sans, sans-serif" font-size="26.0" fill="#111">5</text>
<text x="0.49" y="685.16" font-family="Liberation Sans, sans-serif" font-weight="bold" font-size="35.13" textLength="20.49" lengthAdjust="spacingAndGlyphs" fill="#000">b</text>
<text x="198.76" y="1257.00" font-family="Liberation Sans, sans-serif" font-size="27.00" textLength="116.62" lengthAdjust="spacingAndGlyphs" fill="#000">Slowness</text><text x="323.64" y="1257.00" font-family="Liberation Sans, sans-serif" font-size="27.00" textLength="8.92" lengthAdjust="spacingAndGlyphs" fill="#000">(</text><text x="335.27" y="1256.70" font-family="Liberation Serif, serif" font-size="29.00" textLength="18.72" lengthAdjust="spacingAndGlyphs" fill="#000">×</text><text x="358.99" y="1257.00" font-family="Liberation Serif, serif" font-size="25.00" textLength="29.75" lengthAdjust="spacingAndGlyphs" fill="#000">10</text><text x="387.73" y="1247.70" font-family="Liberation Serif, serif" font-size="16.00" textLength="12.12" lengthAdjust="spacingAndGlyphs" fill="#000">−</text><text x="400.70" y="1248.90" font-family="Liberation Serif, serif" font-size="16.50" textLength="12.69" lengthAdjust="spacingAndGlyphs" fill="#000">4</text><text x="422.96" y="1257.00" font-family="Liberation Sans, sans-serif" font-size="27.00" textLength="42.79" lengthAdjust="spacingAndGlyphs" fill="#000">s/m</text><text x="467.34" y="1257.00" font-family="Liberation Sans, sans-serif" font-size="27.00" textLength="8.92" lengthAdjust="spacingAndGlyphs" fill="#000">)</text>
<g transform="rotate(-90 26.50 1086.70)"><text x="25.26" y="1086.70" font-family="Liberation Sans, sans-serif" font-size="27.00" textLength="116.62" lengthAdjust="spacingAndGlyphs" fill="#000">Slowness</text><text x="150.14" y="1086.70" font-family="Liberation Sans, sans-serif" font-size="27.00" textLength="8.92" lengthAdjust="spacingAndGlyphs" fill="#000">(</text><text x="161.77" y="1086.40" font-family="Liberation Serif, serif" font-size="29.00" textLength="18.72" lengthAdjust="spacingAndGlyphs" fill="#000">×</text><text x="185.49" y="1086.70" font-family="Liberation Serif, serif" font-size="25.00" textLength="29.75" lengthAdjust="spacingAndGlyphs" fill="#000">10</text><text x="214.23" y="1077.40" font-family="Liberation Serif, serif" font-size="16.00" textLength="12.12" lengthAdjust="spacingAndGlyphs" fill="#000">−</text><text x="227.20" y="1078.60" font-family="Liberation Serif, serif" font-size="16.50" textLength="12.69" lengthAdjust="spacingAndGlyphs" fill="#000">4</text><text x="249.46" y="1086.70" font-family="Liberation Sans, sans-serif" font-size="27.00" textLength="42.79" lengthAdjust="spacingAndGlyphs" fill="#000">s/m</text><text x="293.84" y="1086.70" font-family="Liberation Sans, sans-serif" font-size="27.00" textLength="8.92" lengthAdjust="spacingAndGlyphs" fill="#000">)</text></g>
<path d="M88.5 995.1 L89.4 994.7 L90.4 994.8 L91.3 994.8 L92.2 994.9 L93.1 995.0 L94.1 995.1 L95.0 995.2 L95.9 995.3 L96.8 995.4 L97.7 995.6 L98.6 995.7 L99.5 995.8 L100.4 996.0 L101.3 996.2 L102.2 996.3 L103.1 996.5 L104.0 996.7 L104.9 996.9 L105.8 997.1 L106.7 997.4 L107.6 997.6 L108.4 997.8 L109.3 998.1 L110.2 998.3 L111.1 998.6 L111.9 998.9 L112.8 999.1 L113.6 999.4 L114.5 999.7 L115.4 1000.0 L116.2 1000.3 L117.1 1000.6 L117.9 1000.9 L118.8 1001.3 L119.6 1001.6 L120.5 1001.9 L121.3 1002.3 L122.1 1002.6 L123.0 1003.0 L123.8 1003.3 L124.6 1003.7 L125.5 1004.1 L126.3 1004.4 L127.1 1004.8 L127.9 1005.2 L128.7 1005.6 L129.6 1006.0 L130.4 1006.4 L131.2 1006.8 L132.0 1007.2 L132.8 1007.7 L133.6 1008.1 L134.4 1008.5 L135.2 1008.9 L136.0 1009.4 L136.8 1009.8 L137.6 1010.3 L138.4 1010.7 L139.2 1011.2 L140.0 1011.6 L140.8 1012.1 L141.6 1012.5 L142.3 1013.0 L143.1 1013.5 L143.9 1013.9 L144.7 1014.4 L145.5 1014.9 L146.2 1015.4 L147.0 1015.9 L147.8 1016.3 L148.6 1016.8 L149.3 1017.3 L150.1 1017.8 L150.9 1018.3 L151.6 1018.8 L152.4 1019.3 L153.1 1019.8 L153.9 1020.3 L154.7 1020.8 L155.4 1021.3 L156.2 1021.9 L156.9 1022.4 L157.7 1022.9 L158.4 1023.4 L159.2 1023.9 L159.9 1024.5 L160.7 1025.0 L161.4 1025.5 L162.2 1026.1 L162.9 1026.6 L163.6 1027.1 L164.4 1027.7 L165.1 1028.2 L165.8 1028.8 L166.6 1029.3 L167.3 1029.8 L168.0 1030.4 L168.8 1030.9 L169.5 1031.5 L170.2 1032.1 L170.9 1032.6 L171.7 1033.2 L172.4 1033.7 L173.1 1034.3 L173.8 1034.9 L174.5 1035.4 L175.3 1036.0 L176.0 1036.6 L176.7 1037.1 L177.4 1037.7 L178.1 1038.3 L178.8 1038.9 L179.5 1039.4 L180.3 1040.0 L181.0 1040.6 L181.7 1041.2 L182.4 1041.8 L183.1 1042.4 L183.8 1042.9 L184.5 1043.5 L185.2 1044.1 L185.9 1044.7 L186.6 1045.3 L187.3 1045.9 L188.0 1046.5 L188.7 1047.1 L189.4 1047.7 L190.1 1048.3 L190.8 1048.9 L191.5 1049.5 L192.2 1050.1 L192.9 1050.7 L193.5 1051.3 L194.2 1051.9 L194.9 1052.5 L195.6 1053.1 L196.3 1053.8 L197.0 1054.4 L197.7 1055.0 L198.4 1055.6 L199.0 1056.2 L199.7 1056.8 L200.4 1057.4 L201.1 1058.0 L201.8 1058.7 L202.4 1059.3 L203.1 1059.9 L203.8 1060.5 L204.5 1061.1 L205.2 1061.8 L205.8 1062.4 L206.5 1063.0 L207.2 1063.6 L207.8 1064.3 L208.5 1064.9 L209.2 1065.5 L209.9 1066.2 L210.5 1066.8 L211.2 1067.4 L211.8 1068.1 L212.5 1068.7 L213.2 1069.3 L213.8 1070.0 L214.5 1070.6 L215.1 1071.3 L215.8 1071.9 L216.5 1072.5 L217.1 1073.2 L217.8 1073.8 L218.4 1074.5 L219.1 1075.1 L219.7 1075.8 L220.3 1076.4 L221.0 1077.1 L221.6 1077.7 L222.3 1078.4 L222.9 1079.1 L223.5 1079.7 L224.2 1080.4 L224.8 1081.0 L225.4 1081.7 L226.1 1082.4 L226.7 1083.0 L227.3 1083.7 L228.0 1084.4 L228.6 1085.0 L229.2 1085.7 L229.8 1086.4 L230.4 1087.1 L231.1 1087.7 L231.7 1088.4 L232.3 1089.1 L232.9 1089.8 L233.5 1090.5 L234.1 1091.1 L234.7 1091.8 L235.3 1092.5 L235.9 1093.2 L236.5 1093.9 L237.1 1094.6 L237.7 1095.3 L238.3 1096.0 L238.9 1096.7 L239.4 1097.4 L240.0 1098.1 L240.6 1098.8 L241.2 1099.5 L241.8 1100.2 L242.3 1100.9 L242.9 1101.6 L243.5 1102.3 L244.1 1103.0 L244.6 1103.7 L245.2 1104.5 L245.7 1105.2 L246.3 1105.9 L246.9 1106.6 L247.4 1107.3 L248.0 1108.1 L248.5 1108.8 L249.0 1109.5 L249.6 1110.3 L250.1 1111.0 L250.7 1111.7 L251.2 1112.5 L251.7 1113.2 L252.3 1114.0 L252.8 1114.7 L253.3 1115.4 L253.8 1116.2 L254.3 1116.9 L254.9 1117.7 L255.4 1118.5 L255.9 1119.2 L256.4 1120.0 L256.9 1120.7 L257.4 1121.5 L257.9 1122.3 L258.4 1123.0 L258.9 1123.8 L259.4 1124.6 L259.8 1125.3 L260.3 1126.1 L260.8 1126.9 L261.3 1127.7 L261.7 1128.4 L262.2 1129.2 L262.7 1130.0 L263.1 1130.8 L263.6 1131.6 L264.0 1132.4 L264.5 1133.2 L264.9 1134.0 L265.4 1134.8 L265.8 1135.6 L266.2 1136.4 L266.6 1137.2 L267.1 1138.0 L267.5 1138.8 L267.9 1139.6 L268.3 1140.4 L268.7 1141.3 L269.1 1142.1 L269.5 1142.9 L269.8 1143.7 L270.2 1144.6 L270.6 1145.4 L270.9 1146.2 L271.3 1147.1 L271.7 1147.9 L272.0 1148.8 L272.3 1149.6 L272.7 1150.4 L273.0 1151.3 L273.3 1152.1 L273.6 1153.0 L273.9 1153.9 L274.2 1154.7 L274.5 1155.6 L274.8 1156.5 L275.1 1157.3 L275.3 1158.2 L275.6 1159.1 L275.8 1159.9 L276.1 1160.8 L276.3 1161.7 L276.6 1162.6 L276.8 1163.5 L277.0 1164.4 L277.2 1165.3 L277.4 1166.2 L277.6 1167.1 L277.7 1168.0 L277.9 1168.9 L278.1 1169.8 L278.2 1170.7 L278.4 1171.6 L278.5 1172.5 L278.1 1173.5" stroke="#0072bd" stroke-width="4.3" fill="none" stroke-linejoin="round"/>
<path d="M88.5 921.6 L89.8 921.8 L91.2 921.8 L92.6 921.7 L93.9 921.7 L95.3 921.7 L96.7 921.7 L98.1 921.7 L99.5 921.7 L100.9 921.7 L102.2 921.7 L103.6 921.7 L105.0 921.8 L106.4 921.8 L107.8 921.8 L109.1 921.9 L110.5 922.0 L111.9 922.0 L113.3 922.1 L114.6 922.2 L116.0 922.3 L117.4 922.4 L118.7 922.5 L120.1 922.6 L121.5 922.8 L122.8 922.9 L124.2 923.0 L125.6 923.2 L126.9 923.3 L128.3 923.5 L129.6 923.7 L131.0 923.9 L132.3 924.1 L133.7 924.2 L135.0 924.4 L136.4 924.7 L137.7 924.9 L139.1 925.1 L140.4 925.3 L141.8 925.6 L143.1 925.8 L144.5 926.1 L145.8 926.3 L147.2 926.6 L148.5 926.9 L149.8 927.2 L151.2 927.4 L152.5 927.7 L153.8 928.0 L155.1 928.4 L156.5 928.7 L157.8 929.0 L159.1 929.3 L160.4 929.7 L161.8 930.0 L163.1 930.4 L164.4 930.7 L165.7 931.1 L167.0 931.5 L168.3 931.9 L169.6 932.2 L170.9 932.6 L172.2 933.0 L173.5 933.5 L174.8 933.9 L176.1 934.3 L177.4 934.7 L178.7 935.2 L180.0 935.6 L181.3 936.0 L182.6 936.5 L183.9 937.0 L185.2 937.4 L186.4 937.9 L187.7 938.4 L189.0 938.9 L190.3 939.4 L191.5 939.9 L192.8 940.4 L194.1 940.9 L195.3 941.4 L196.6 941.9 L197.9 942.5 L199.1 943.0 L200.4 943.6 L201.6 944.1 L202.9 944.7 L204.1 945.2 L205.4 945.8 L206.6 946.4 L207.8 947.0 L209.1 947.6 L210.3 948.2 L211.5 948.8 L212.8 949.4 L214.0 950.0 L215.2 950.6 L216.4 951.3 L217.6 951.9 L218.9 952.5 L220.1 953.2 L221.3 953.8 L222.5 954.5 L223.7 955.1 L224.9 955.8 L226.1 956.5 L227.3 957.2 L228.4 957.9 L229.6 958.6 L230.8 959.3 L232.0 960.0 L233.2 960.7 L234.3 961.4 L235.5 962.1 L236.7 962.8 L237.8 963.6 L239.0 964.3 L240.1 965.1 L241.3 965.8 L242.4 966.6 L243.6 967.3 L244.7 968.1 L245.8 968.9 L247.0 969.7 L248.1 970.4 L249.2 971.2 L250.3 972.0 L251.5 972.8 L252.6 973.6 L253.7 974.5 L254.8 975.3 L255.9 976.1 L257.0 976.9 L258.1 977.8 L259.2 978.6 L260.2 979.4 L261.3 980.3 L262.4 981.1 L263.5 982.0 L264.5 982.9 L265.6 983.7 L266.6 984.6 L267.7 985.5 L268.7 986.4 L269.8 987.3 L270.8 988.2 L271.9 989.1 L272.9 990.0 L273.9 990.9 L274.9 991.8 L276.0 992.7 L277.0 993.7 L278.0 994.6 L279.0 995.5 L280.0 996.5 L281.0 997.4 L281.9 998.4 L282.9 999.3 L283.9 1000.3 L284.9 1001.3 L285.8 1002.2 L286.8 1003.2 L287.8 1004.2 L288.7 1005.2 L289.6 1006.2 L290.6 1007.1 L291.5 1008.1 L292.5 1009.2 L293.4 1010.2 L294.3 1011.2 L295.2 1012.2 L296.1 1013.2 L297.0 1014.2 L297.9 1015.3 L298.8 1016.3 L299.7 1017.4 L300.6 1018.4 L301.4 1019.4 L302.3 1020.5 L303.2 1021.6 L304.0 1022.6 L304.9 1023.7 L305.7 1024.8 L306.6 1025.8 L307.4 1026.9 L308.2 1028.0 L309.0 1029.1 L309.9 1030.2 L310.7 1031.3 L311.5 1032.4 L312.3 1033.5 L313.1 1034.6 L313.8 1035.7 L314.6 1036.9 L315.4 1038.0 L316.2 1039.1 L316.9 1040.2 L317.7 1041.4 L318.4 1042.5 L319.2 1043.7 L319.9 1044.8 L320.6 1046.0 L321.3 1047.1 L322.0 1048.3 L322.7 1049.5 L323.4 1050.6 L324.1 1051.8 L324.8 1053.0 L325.5 1054.2 L326.2 1055.4 L326.8 1056.5 L327.5 1057.7 L328.1 1058.9 L328.8 1060.1 L329.4 1061.4 L330.1 1062.6 L330.7 1063.8 L331.3 1065.0 L331.9 1066.2 L332.5 1067.4 L333.1 1068.7 L333.7 1069.9 L334.3 1071.1 L334.8 1072.4 L335.4 1073.6 L336.0 1074.9 L336.5 1076.1 L337.1 1077.4 L337.6 1078.6 L338.1 1079.9 L338.6 1081.2 L339.1 1082.4 L339.6 1083.7 L340.1 1085.0 L340.6 1086.3 L341.1 1087.6 L341.6 1088.8 L342.1 1090.1 L342.5 1091.4 L343.0 1092.7 L343.4 1094.0 L343.9 1095.3 L344.3 1096.6 L344.7 1097.9 L345.1 1099.2 L345.5 1100.6 L345.9 1101.9 L346.3 1103.2 L346.7 1104.5 L347.1 1105.8 L347.5 1107.2 L347.8 1108.5 L348.2 1109.8 L348.5 1111.1 L348.9 1112.5 L349.2 1113.8 L349.5 1115.1 L349.8 1116.5 L350.1 1117.8 L350.5 1119.2 L350.7 1120.5 L351.0 1121.9 L351.3 1123.2 L351.6 1124.5 L351.9 1125.9 L352.1 1127.2 L352.4 1128.6 L352.6 1130.0 L352.9 1131.3 L353.1 1132.7 L353.3 1134.0 L353.5 1135.4 L353.7 1136.7 L353.9 1138.1 L354.1 1139.5 L354.3 1140.8 L354.5 1142.2 L354.7 1143.5 L354.8 1144.9 L355.0 1146.3 L355.2 1147.6 L355.3 1149.0 L355.4 1150.3 L355.6 1151.7 L355.7 1153.1 L355.8 1154.4 L355.9 1155.8 L356.0 1157.2 L356.1 1158.5 L356.2 1159.9 L356.3 1161.2 L356.3 1162.6 L356.4 1164.0 L356.5 1165.3 L356.5 1166.7 L356.6 1168.0 L356.6 1169.4 L356.6 1170.8 L356.7 1172.1 L356.7 1173.5" stroke="#d95319" stroke-width="4.1" fill="none" stroke-linejoin="round"/>
<path d="M88.5 921.0 L90.7 921.2 L92.8 920.9 L94.9 920.6 L97.0 920.3 L99.1 919.9 L101.2 919.6 L103.3 919.2 L105.3 918.7 L107.4 918.3 L109.5 917.8 L111.5 917.3 L113.5 916.7 L115.6 916.2 L117.6 915.6 L119.6 915.0 L121.7 914.4 L123.7 913.8 L125.7 913.1 L127.7 912.5 L129.7 911.8 L131.7 911.1 L133.7 910.4 L135.7 909.7 L137.6 908.9 L139.6 908.2 L141.6 907.4 L143.6 906.7 L145.6 905.9 L147.5 905.1 L149.5 904.3 L151.5 903.6 L153.4 902.8 L155.4 902.0 L157.4 901.2 L159.4 900.3 L161.3 899.5 L163.3 898.7 L165.3 897.9 L167.2 897.1 L169.2 896.3 L171.2 895.5 L173.2 894.7 L175.1 893.9 L177.1 893.1 L179.1 892.3 L181.1 891.6 L183.1 890.8 L185.1 890.0 L187.0 889.3 L189.0 888.5 L191.0 887.8 L193.0 887.0 L195.0 886.3 L197.0 885.5 L199.0 884.8 L201.0 884.1 L203.0 883.4 L205.0 882.7 L207.1 882.0 L209.1 881.3 L211.1 880.6 L213.1 879.9 L215.1 879.2 L217.1 878.6 L219.2 877.9 L221.2 877.2 L223.2 876.6 L225.2 875.9 L227.3 875.3 L229.3 874.7 L231.3 874.1 L233.3 873.4 L235.4 872.8 L237.4 872.2 L239.5 871.7 L241.5 871.1 L243.5 870.5 L245.6 869.9 L247.6 869.4 L249.7 868.8 L251.7 868.3 L253.8 867.7 L255.8 867.2 L257.9 866.7 L259.9 866.2 L262.0 865.7 L264.0 865.2 L266.1 864.7 L268.1 864.2 L270.2 863.8 L272.3 863.3 L274.3 862.9 L276.4 862.5 L278.5 862.1 L280.6 861.7 L282.6 861.3 L284.7 860.9 L286.8 860.6 L288.9 860.3 L291.0 859.9 L293.1 859.6 L295.2 859.4 L297.2 859.1 L299.3 858.8 L301.5 858.6 L303.6 858.4 L305.7 858.2 L307.8 858.0 L309.9 857.9 L312.0 857.7 L314.1 857.6 L316.3 857.5 L318.4 857.4 L320.5 857.4 L322.7 857.3 L324.8 857.3 L327.0 857.3 L329.1 857.4 L331.3 857.4 L333.4 857.5 L335.6 857.6 L337.7 857.8 L339.9 858.0 L342.0 858.2 L344.2 858.4 L346.3 858.7 L348.4 859.0 L350.5 859.3 L352.7 859.7 L354.7 860.2 L356.8 860.6 L358.9 861.1 L361.0 861.7 L363.0 862.3 L365.0 862.9 L367.0 863.6 L369.0 864.4 L371.0 865.2 L372.9 866.0 L374.8 866.9 L376.7 867.9 L378.6 868.9 L380.4 869.9 L382.3 871.0 L384.0 872.2 L385.8 873.3 L387.5 874.6 L389.2 875.9 L390.9 877.2 L392.5 878.5 L394.1 879.9 L395.7 881.4 L397.3 882.8 L398.8 884.4 L400.2 885.9 L401.7 887.5 L403.0 889.1 L404.4 890.7 L405.7 892.4 L407.0 894.1 L408.2 895.8 L409.4 897.6 L410.5 899.4 L411.6 901.2 L412.7 903.0 L413.7 904.9 L414.7 906.8 L415.6 908.6 L416.5 910.6 L417.3 912.5 L418.1 914.4 L418.8 916.4 L419.5 918.4 L420.1 920.4 L420.7 922.4 L421.3 924.4 L421.8 926.4 L422.2 928.5 L422.6 930.6 L423.0 932.6 L423.4 934.7 L423.7 936.8 L423.9 938.9 L424.2 941.0 L424.4 943.1 L424.5 945.2 L424.7 947.4 L424.8 949.5 L424.8 951.6 L424.8 953.8 L424.8 955.9 L424.8 958.1 L424.7 960.2 L424.6 962.4 L424.5 964.5 L424.3 966.7 L424.2 968.8 L424.0 971.0 L423.7 973.1 L423.5 975.3 L423.2 977.4 L422.9 979.5 L422.6 981.7 L422.2 983.8 L421.9 985.9 L421.5 988.0 L421.1 990.1 L420.6 992.2 L420.2 994.3 L419.7 996.3 L419.3 998.4 L418.8 1000.5 L418.3 1002.5 L417.7 1004.6 L417.2 1006.6 L416.6 1008.7 L416.1 1010.7 L415.5 1012.7 L414.9 1014.7 L414.3 1016.8 L413.6 1018.8 L413.0 1020.8 L412.3 1022.8 L411.7 1024.8 L411.0 1026.8 L410.3 1028.8 L409.6 1030.7 L408.9 1032.7 L408.1 1034.7 L407.4 1036.7 L406.6 1038.6 L405.9 1040.6 L405.1 1042.6 L404.4 1044.5 L403.6 1046.5 L402.8 1048.5 L402.0 1050.4 L401.2 1052.4 L400.4 1054.4 L399.6 1056.3 L398.7 1058.3 L397.9 1060.2 L397.1 1062.2 L396.2 1064.1 L395.4 1066.1 L394.5 1068.0 L393.7 1070.0 L392.8 1071.9 L391.9 1073.9 L391.1 1075.8 L390.2 1077.8 L389.3 1079.7 L388.5 1081.6 L387.6 1083.6 L386.7 1085.5 L385.8 1087.5 L384.9 1089.4 L384.0 1091.4 L383.1 1093.3 L382.2 1095.2 L381.4 1097.2 L380.5 1099.1 L379.6 1101.0 L378.7 1103.0 L377.8 1104.9 L376.9 1106.9 L376.0 1108.8 L375.1 1110.7 L374.2 1112.7 L373.4 1114.6 L372.5 1116.6 L371.6 1118.5 L370.8 1120.4 L369.9 1122.4 L369.1 1124.4 L368.3 1126.3 L367.5 1128.3 L366.7 1130.2 L365.9 1132.2 L365.2 1134.2 L364.5 1136.2 L363.8 1138.2 L363.1 1140.2 L362.5 1142.2 L361.9 1144.2 L361.3 1146.2 L360.8 1148.2 L360.2 1150.3 L359.8 1152.3 L359.3 1154.4 L358.9 1156.5 L358.5 1158.6 L358.2 1160.7 L357.9 1162.8 L357.7 1164.9 L357.5 1167.0 L357.4 1169.2 L357.3 1171.3 L357.3 1173.5" stroke="#363636" stroke-width="4.4" fill="none" stroke-linejoin="round"/>
<text x="325.7" y="934.2" font-family="Liberation Sans, sans-serif" font-size="58.3" fill="#000">ST</text>
<text x="213.1" y="1043.3" font-family="Liberation Sans, sans-serif" font-size="57.6" fill="#c00000">FT</text>
<text x="170.4" y="1101.7" font-family="Liberation Sans, sans-serif" font-size="58.4" fill="#0000c8">L</text>
</svg>
</body></html>
